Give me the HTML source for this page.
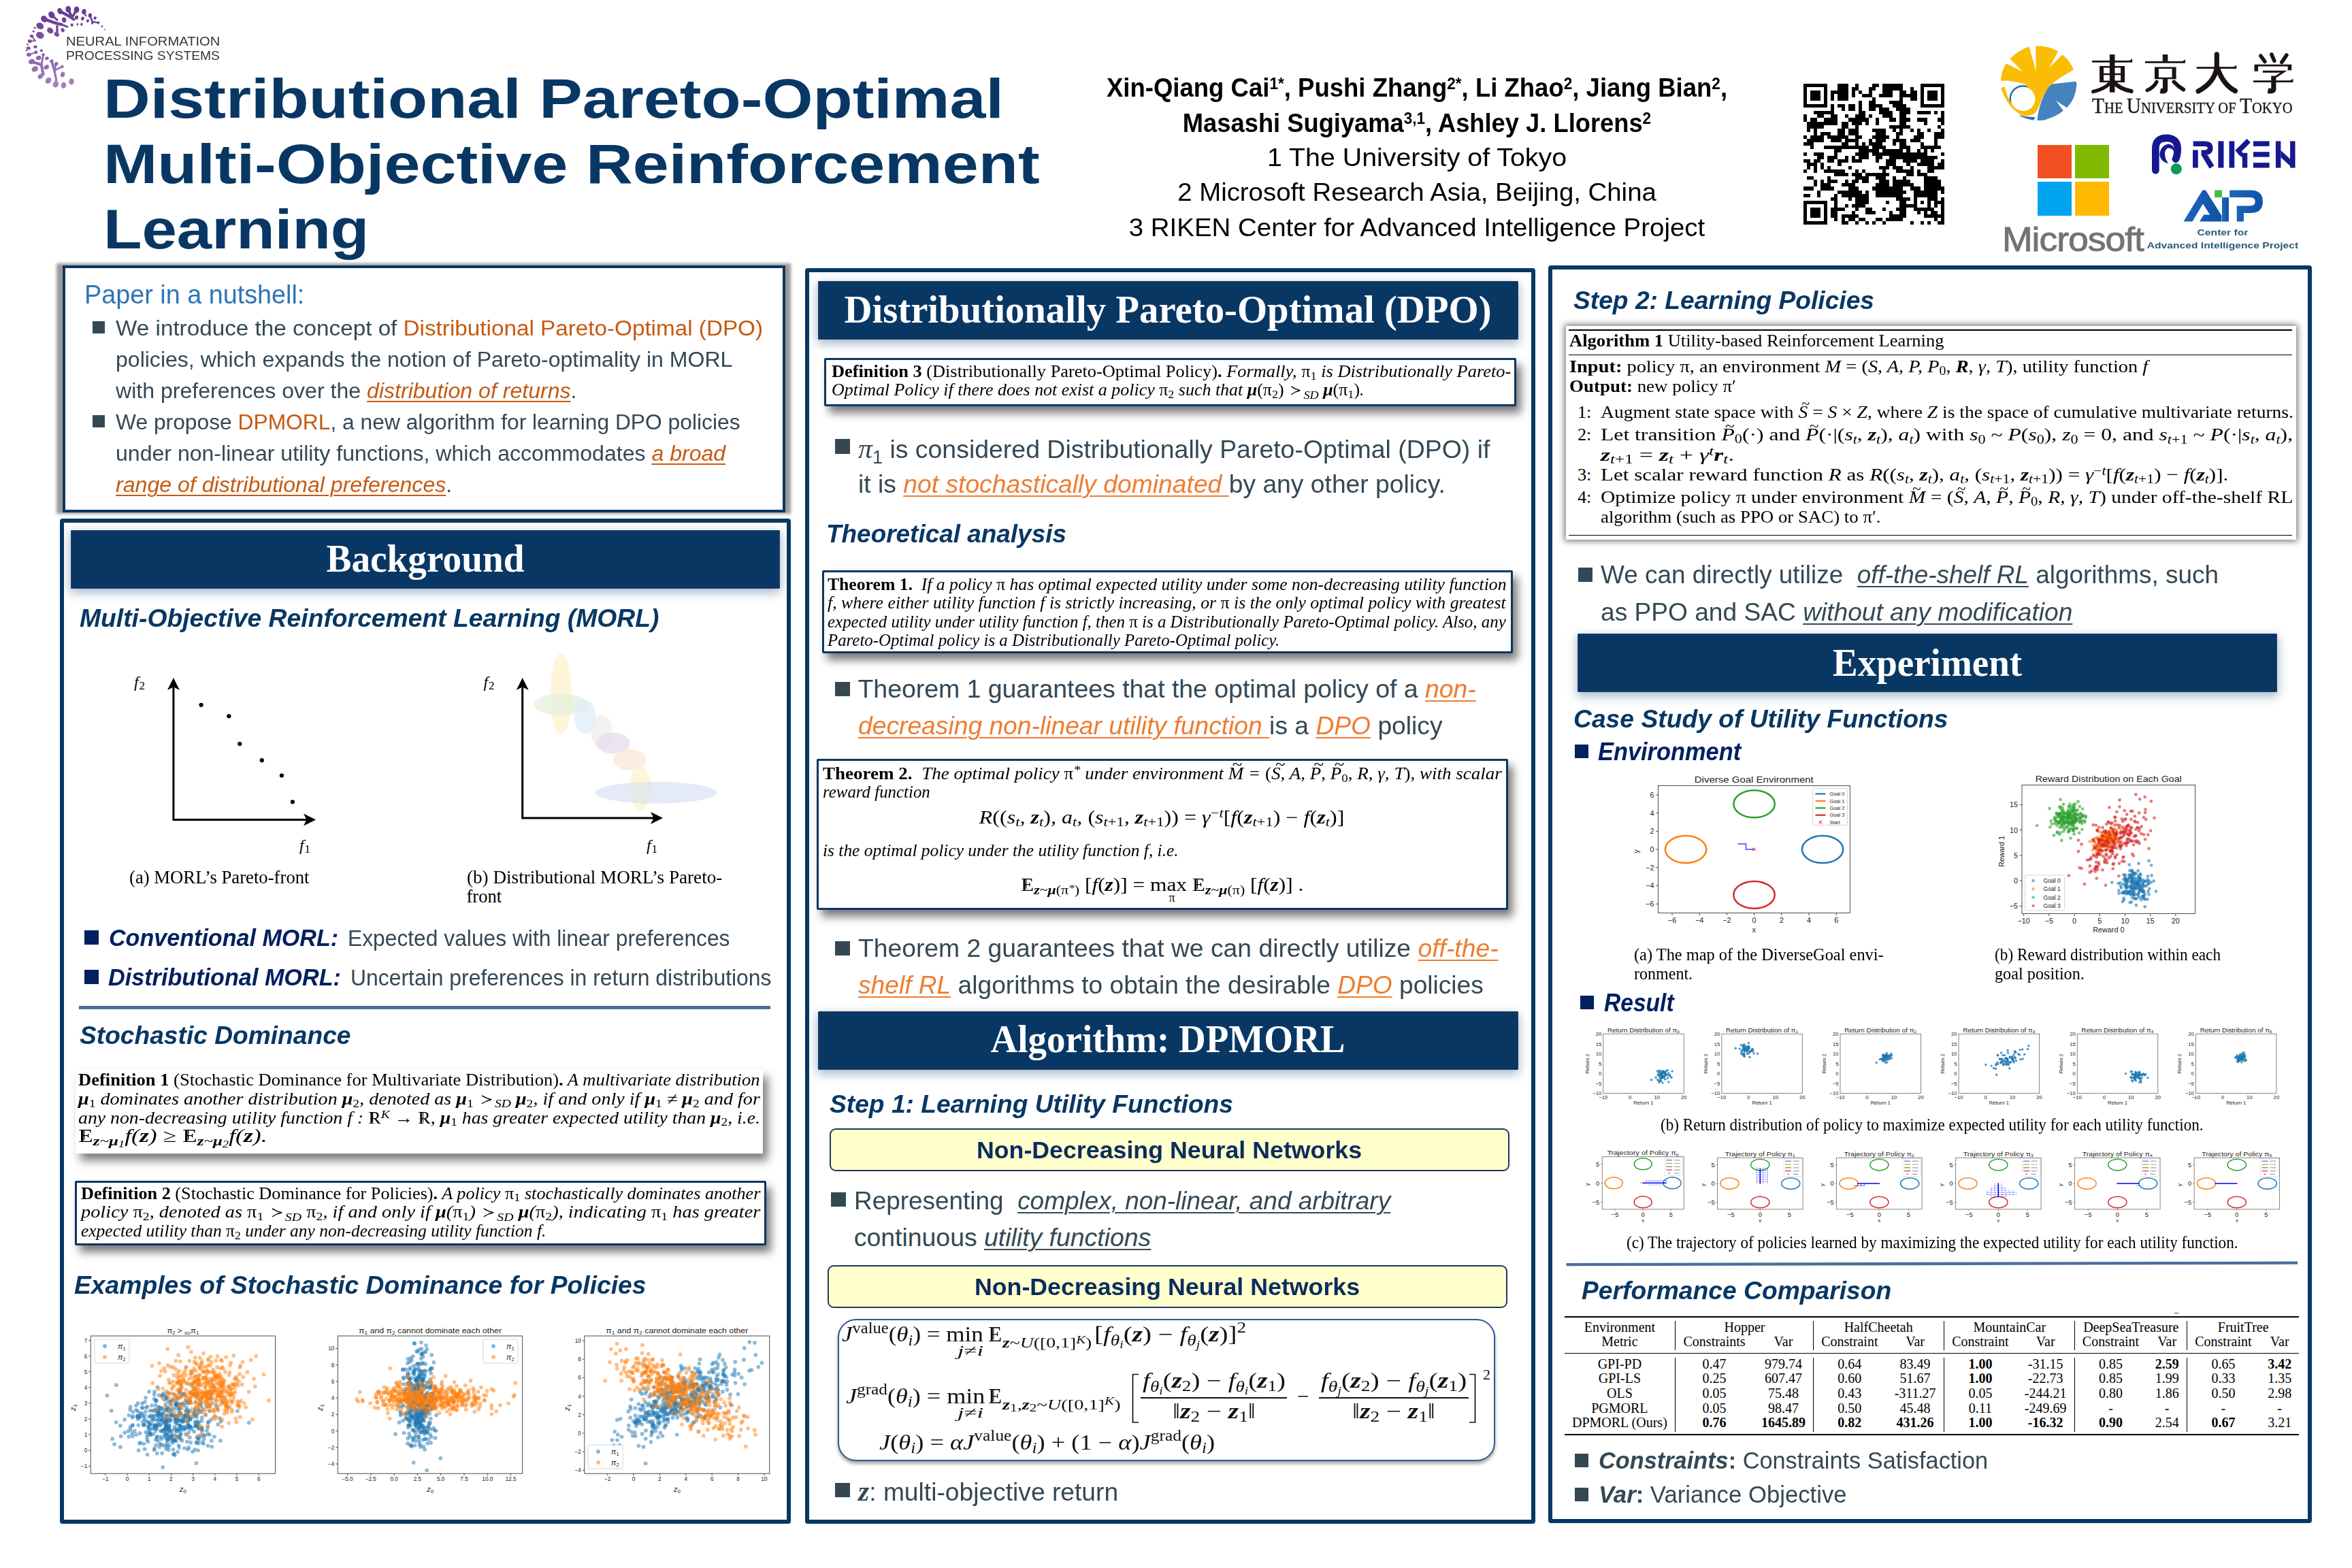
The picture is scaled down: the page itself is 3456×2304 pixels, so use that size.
<!DOCTYPE html>
<html lang="en"><head><meta charset="utf-8"><title>Distributional Pareto-Optimal Multi-Objective Reinforcement Learning</title>
<style>
html,body{margin:0;padding:0;background:#fff}
body{width:3456px;height:2304px;position:relative;overflow:hidden;font-family:"Liberation Sans",sans-serif}
.a{position:absolute;box-sizing:border-box}
.t{position:absolute;white-space:nowrap;line-height:1}
.t>span{display:inline-block;transform-origin:0 50%;white-space:nowrap}
.t.c{transform:translateX(-50%)}
.t.c>span{transform-origin:50% 50%}
.t.e{transform:translateX(-100%)}
.t.e>span{transform-origin:100% 50%}
.s{font-family:"Liberation Sans",sans-serif}
.r{font-family:"Liberation Serif",serif}
.b{font-weight:bold}
.i{font-style:italic}
.n{font-style:normal;font-weight:normal}
.sb{position:relative;line-height:0}
.bb{position:relative}
.bb::after{content:"";position:absolute;left:0.23em;top:0.22em;height:0.585em;border-left:0.04em solid currentColor}
.u{text-decoration:underline;text-decoration-thickness:2px;text-underline-offset:4px}
svg{overflow:visible}
svg text{font-family:"Liberation Sans",sans-serif}
</style></head>
<body>
<svg class="a" style="left:20px;top:0" width="320" height="150" viewBox="0 0 2352 1102"><line x1="500" y1="120" x2="590" y2="170" stroke="#683d92" stroke-width="31" stroke-linecap="round"></line><line x1="590" y1="170" x2="650" y2="210" stroke="#6b4094" stroke-width="28" stroke-linecap="round"></line><line x1="590" y1="100" x2="620" y2="165" stroke="#683d92" stroke-width="28" stroke-linecap="round"></line><line x1="680" y1="105" x2="640" y2="175" stroke="#683d92" stroke-width="25" stroke-linecap="round"></line><line x1="330" y1="205" x2="440" y2="245" stroke="#6e4396" stroke-width="34" stroke-linecap="round"></line><line x1="440" y1="245" x2="520" y2="265" stroke="#704597" stroke-width="31" stroke-linecap="round"></line><line x1="470" y1="280" x2="470" y2="370" stroke="#764b9b" stroke-width="25" stroke-linecap="round"></line><line x1="520" y1="265" x2="580" y2="290" stroke="#724798" stroke-width="22" stroke-linecap="round"></line><line x1="410" y1="160" x2="470" y2="215" stroke="#6b4094" stroke-width="22" stroke-linecap="round"></line><line x1="825" y1="165" x2="850" y2="235" stroke="#6c4194" stroke-width="20" stroke-linecap="round"></line><line x1="850" y1="235" x2="915" y2="245" stroke="#6f4496" stroke-width="17" stroke-linecap="round"></line><line x1="760" y1="125" x2="780" y2="170" stroke="#683d92" stroke-width="17" stroke-linecap="round"></line><line x1="195" y1="390" x2="235" y2="440" stroke="#7d53a0" stroke-width="14" stroke-linecap="round"></line><line x1="175" y1="445" x2="235" y2="440" stroke="#8055a1" stroke-width="14" stroke-linecap="round"></line><line x1="195" y1="665" x2="300" y2="700" stroke="#946aae" stroke-width="31" stroke-linecap="round"></line><line x1="300" y1="700" x2="320" y2="800" stroke="#9970b2" stroke-width="31" stroke-linecap="round"></line><line x1="320" y1="800" x2="290" y2="825" stroke="#9e75b5" stroke-width="28" stroke-linecap="round"></line><line x1="300" y1="700" x2="320" y2="600" stroke="#9167ac" stroke-width="20" stroke-linecap="round"></line><line x1="410" y1="660" x2="440" y2="760" stroke="#966caf" stroke-width="25" stroke-linecap="round"></line><line x1="440" y1="760" x2="460" y2="860" stroke="#9e75b5" stroke-width="25" stroke-linecap="round"></line><line x1="460" y1="860" x2="455" y2="910" stroke="#a47bb9" stroke-width="25" stroke-linecap="round"></line><line x1="440" y1="760" x2="525" y2="720" stroke="#986fb1" stroke-width="20" stroke-linecap="round"></line><line x1="460" y1="690" x2="440" y2="760" stroke="#976eb0" stroke-width="20" stroke-linecap="round"></line><line x1="165" y1="590" x2="240" y2="565" stroke="#8b61a8" stroke-width="14" stroke-linecap="round"></line><ellipse cx="590" cy="100" rx="29" ry="36" fill="#683d92" transform="rotate(-7 590 100)"></ellipse><ellipse cx="680" cy="105" rx="29" ry="36" fill="#683d92" transform="rotate(6 680 105)"></ellipse><ellipse cx="760" cy="125" rx="23" ry="29" fill="#683d92" transform="rotate(17 760 125)"></ellipse><ellipse cx="825" cy="165" rx="19" ry="23" fill="#693e92" transform="rotate(28 825 165)"></ellipse><ellipse cx="880" cy="195" rx="15" ry="18" fill="#6b4094" transform="rotate(36 880 195)"></ellipse><ellipse cx="500" cy="120" rx="27" ry="34" fill="#683d92" transform="rotate(-19 500 120)"></ellipse><ellipse cx="410" cy="160" rx="32" ry="39" fill="#683d92" transform="rotate(-33 410 160)"></ellipse><ellipse cx="330" cy="205" rx="32" ry="39" fill="#6c4194" transform="rotate(-45 330 205)"></ellipse><ellipse cx="285" cy="280" rx="34" ry="42" fill="#724898" transform="rotate(-56 285 280)"></ellipse><ellipse cx="395" cy="330" rx="29" ry="36" fill="#764c9b" transform="rotate(-52 395 330)"></ellipse><ellipse cx="285" cy="380" rx="36" ry="44" fill="#7b509e" transform="rotate(-68 285 380)"></ellipse><ellipse cx="465" cy="370" rx="23" ry="29" fill="#7a4f9d" transform="rotate(-49 465 370)"></ellipse><ellipse cx="545" cy="215" rx="23" ry="29" fill="#6d4295" transform="rotate(-17 545 215)"></ellipse><ellipse cx="530" cy="325" rx="19" ry="23" fill="#764b9b" transform="rotate(-29 530 325)"></ellipse><ellipse cx="680" cy="190" rx="19" ry="23" fill="#6b4094" transform="rotate(7 680 190)"></ellipse><ellipse cx="745" cy="200" rx="17" ry="21" fill="#6c4194" transform="rotate(18 745 200)"></ellipse><ellipse cx="800" cy="225" rx="15" ry="18" fill="#6e4396" transform="rotate(28 800 225)"></ellipse><ellipse cx="630" cy="270" rx="15" ry="18" fill="#714798" transform="rotate(-2 630 270)"></ellipse><ellipse cx="735" cy="262" rx="13" ry="16" fill="#714697" transform="rotate(20 735 262)"></ellipse><ellipse cx="915" cy="245" rx="13" ry="16" fill="#6f4597" transform="rotate(45 915 245)"></ellipse><ellipse cx="955" cy="285" rx="9" ry="12" fill="#734899" transform="rotate(53 955 285)"></ellipse><ellipse cx="983" cy="318" rx="6" ry="8" fill="#754b9a" transform="rotate(60 983 318)"></ellipse><ellipse cx="850" cy="250" rx="12" ry="14" fill="#704597" transform="rotate(38 850 250)"></ellipse><ellipse cx="690" cy="262" rx="10" ry="13" fill="#714697" transform="rotate(11 690 262)"></ellipse><ellipse cx="230" cy="300" rx="10" ry="13" fill="#74499a" transform="rotate(-62 230 300)"></ellipse><ellipse cx="215" cy="340" rx="10" ry="13" fill="#774d9c" transform="rotate(-67 215 340)"></ellipse><ellipse cx="195" cy="390" rx="17" ry="21" fill="#7b519e" transform="rotate(-74 195 390)"></ellipse><ellipse cx="175" cy="445" rx="19" ry="23" fill="#8056a1" transform="rotate(-81 175 445)"></ellipse><ellipse cx="160" cy="520" rx="19" ry="23" fill="#865ca5" transform="rotate(270 160 520)"></ellipse><ellipse cx="165" cy="590" rx="21" ry="26" fill="#8c62a9" transform="rotate(262 165 590)"></ellipse><ellipse cx="235" cy="505" rx="17" ry="21" fill="#855ba4" transform="rotate(-88 235 505)"></ellipse><ellipse cx="240" cy="565" rx="17" ry="21" fill="#8a60a8" transform="rotate(264 240 565)"></ellipse><ellipse cx="300" cy="545" rx="15" ry="18" fill="#885ea7" transform="rotate(266 300 545)"></ellipse><ellipse cx="320" cy="590" rx="15" ry="18" fill="#8c62a9" transform="rotate(258 320 590)"></ellipse><ellipse cx="270" cy="625" rx="23" ry="29" fill="#8f65ab" transform="rotate(254 270 625)"></ellipse><ellipse cx="360" cy="630" rx="17" ry="21" fill="#8f65ab" transform="rotate(249 360 630)"></ellipse><ellipse cx="195" cy="665" rx="27" ry="34" fill="#9268ad" transform="rotate(252 195 665)"></ellipse><ellipse cx="230" cy="745" rx="29" ry="36" fill="#996fb1" transform="rotate(241 230 745)"></ellipse><ellipse cx="290" cy="825" rx="25" ry="31" fill="#9f76b6" transform="rotate(229 290 825)"></ellipse><ellipse cx="355" cy="725" rx="23" ry="29" fill="#976eb0" transform="rotate(234 355 725)"></ellipse><ellipse cx="375" cy="870" rx="29" ry="36" fill="#a37ab8" transform="rotate(217 375 870)"></ellipse><ellipse cx="455" cy="910" rx="29" ry="36" fill="#a67dba" transform="rotate(205 455 910)"></ellipse><ellipse cx="540" cy="920" rx="27" ry="34" fill="#a67dba" transform="rotate(194 540 920)"></ellipse><ellipse cx="625" cy="880" rx="27" ry="34" fill="#a47bb8" transform="rotate(182 625 880)"></ellipse><ellipse cx="530" cy="805" rx="23" ry="29" fill="#9e74b4" transform="rotate(201 530 805)"></ellipse><ellipse cx="460" cy="690" rx="19" ry="23" fill="#946bae" transform="rotate(227 460 690)"></ellipse><ellipse cx="525" cy="720" rx="15" ry="18" fill="#976db0" transform="rotate(210 525 720)"></ellipse><ellipse cx="410" cy="660" rx="17" ry="21" fill="#9268ad" transform="rotate(239 410 660)"></ellipse><ellipse cx="150" cy="480" rx="9" ry="12" fill="#8359a3" transform="rotate(-85 150 480)"></ellipse><ellipse cx="140" cy="545" rx="9" ry="12" fill="#885ea7" transform="rotate(267 140 545)"></ellipse></svg>
<div class="t s" style="left:96.5px;top:51.0px;font-size:19.2px;color:#33363b;"><span style="transform: scaleX(1.0512);">NEURAL INFORMATION</span></div>
<div class="t s" style="left:96.5px;top:71.9px;font-size:19.2px;color:#33363b;"><span style="transform: scaleX(1.0044);">PROCESSING SYSTEMS</span></div>
<div class="t s b" style="left:152.0px;top:104.1px;font-size:82px;color:#083764;"><span style="transform: scaleX(1.1615);">Distributional Pareto-Optimal</span></div>
<div class="t s b" style="left:152.0px;top:200.1px;font-size:82px;color:#083764;"><span style="transform: scaleX(1.1612);">Multi-Objective Reinforcement</span></div>
<div class="t s b" style="left:152.0px;top:296.1px;font-size:82px;color:#083764;"><span style="transform: scaleX(1.1272);">Learning</span></div>
<div class="t s b c" style="left:2082.0px;top:110.3px;font-size:38px;color:#000;"><span style="transform: scaleX(0.961);">Xin-Qiang Cai<span class="sb" style="font-size:0.62em;top:-0.5em">1*</span>, Pushi Zhang<span class="sb" style="font-size:0.62em;top:-0.5em">2*</span>, Li Zhao<span class="sb" style="font-size:0.62em;top:-0.5em">2</span>, Jiang Bian<span class="sb" style="font-size:0.62em;top:-0.5em">2</span>,</span></div>
<div class="t s b c" style="left:2082.0px;top:161.8px;font-size:38px;color:#000;"><span style="transform: scaleX(0.9556);">Masashi Sugiyama<span class="sb" style="font-size:0.62em;top:-0.5em">3,1</span>, Ashley J. Llorens<span class="sb" style="font-size:0.62em;top:-0.5em">2</span></span></div>
<div class="t s c" style="left:2082.0px;top:212.7px;font-size:37px;color:#000;"><span style="transform: scaleX(1.0628);">1 The University of Tokyo</span></div>
<div class="t s c" style="left:2082.0px;top:264.2px;font-size:37px;color:#000;"><span style="transform: scaleX(1.0368);">2 Microsoft Research Asia, Beijing, China</span></div>
<div class="t s c" style="left:2082.0px;top:315.7px;font-size:37px;color:#000;"><span style="transform: scaleX(1.0393);">3 RIKEN Center for Advanced Intelligence Project</span></div>
<svg class="a" style="left:2650px;top:123px" width="207" height="207" viewBox="0 0 41 41" shape-rendering="crispEdges"><path d="M0,0h7v1h-7zM10,0h3v1h-3zM15,0h1v1h-1zM20,0h2v1h-2zM23,0h6v1h-6zM34,0h7v1h-7zM0,1h1v1h-1zM6,1h1v1h-1zM10,1h3v1h-3zM14,1h2v1h-2zM19,1h2v1h-2zM23,1h6v1h-6zM31,1h1v1h-1zM34,1h1v1h-1zM40,1h1v1h-1zM0,2h1v1h-1zM2,2h3v1h-3zM6,2h1v1h-1zM8,2h5v1h-5zM14,2h1v1h-1zM16,2h1v1h-1zM19,2h1v1h-1zM23,2h3v1h-3zM28,2h2v1h-2zM31,2h2v1h-2zM34,2h1v1h-1zM36,2h3v1h-3zM40,2h1v1h-1zM0,3h1v1h-1zM2,3h3v1h-3zM6,3h1v1h-1zM8,3h1v1h-1zM10,3h3v1h-3zM14,3h1v1h-1zM17,3h3v1h-3zM22,3h4v1h-4zM28,3h5v1h-5zM34,3h1v1h-1zM36,3h3v1h-3zM40,3h1v1h-1zM0,4h1v1h-1zM2,4h3v1h-3zM6,4h1v1h-1zM8,4h1v1h-1zM10,4h3v1h-3zM20,4h1v1h-1zM28,4h1v1h-1zM31,4h2v1h-2zM34,4h1v1h-1zM36,4h3v1h-3zM40,4h1v1h-1zM0,5h1v1h-1zM6,5h1v1h-1zM16,5h1v1h-1zM19,5h2v1h-2zM25,5h4v1h-4zM34,5h1v1h-1zM40,5h1v1h-1zM0,6h7v1h-7zM8,6h1v1h-1zM10,6h2v1h-2zM13,6h2v1h-2zM16,6h1v1h-1zM19,6h4v1h-4zM26,6h4v1h-4zM34,6h7v1h-7zM8,7h1v1h-1zM11,7h1v1h-1zM13,7h2v1h-2zM16,7h1v1h-1zM19,7h2v1h-2zM22,7h3v1h-3zM27,7h4v1h-4zM3,8h6v1h-6zM16,8h2v1h-2zM22,8h4v1h-4zM28,8h3v1h-3zM33,8h4v1h-4zM38,8h1v1h-1zM40,8h1v1h-1zM0,9h1v1h-1zM4,9h2v1h-2zM8,9h2v1h-2zM12,9h1v1h-1zM15,9h3v1h-3zM19,9h1v1h-1zM23,9h3v1h-3zM28,9h2v1h-2zM40,9h1v1h-1zM0,10h1v1h-1zM2,10h2v1h-2zM6,10h4v1h-4zM13,10h6v1h-6zM21,10h1v1h-1zM25,10h2v1h-2zM28,10h3v1h-3zM33,10h3v1h-3zM39,10h2v1h-2zM1,11h9v1h-9zM11,11h2v1h-2zM14,11h3v1h-3zM18,11h1v1h-1zM21,11h1v1h-1zM28,11h2v1h-2zM35,11h1v1h-1zM40,11h1v1h-1zM1,12h5v1h-5zM11,12h2v1h-2zM15,12h1v1h-1zM25,12h6v1h-6zM39,12h1v1h-1zM1,13h1v1h-1zM3,13h1v1h-1zM10,13h2v1h-2zM13,13h3v1h-3zM20,13h4v1h-4zM26,13h1v1h-1zM28,13h1v1h-1zM31,13h1v1h-1zM33,13h1v1h-1zM36,13h1v1h-1zM40,13h1v1h-1zM3,14h1v1h-1zM5,14h3v1h-3zM10,14h2v1h-2zM13,14h3v1h-3zM21,14h3v1h-3zM27,14h2v1h-2zM33,14h2v1h-2zM38,14h3v1h-3zM0,15h1v1h-1zM2,15h4v1h-4zM7,15h6v1h-6zM15,15h2v1h-2zM20,15h5v1h-5zM27,15h1v1h-1zM32,15h3v1h-3zM38,15h3v1h-3zM1,16h5v1h-5zM8,16h3v1h-3zM12,16h4v1h-4zM19,16h1v1h-1zM21,16h3v1h-3zM26,16h4v1h-4zM31,16h3v1h-3zM38,16h1v1h-1zM0,17h3v1h-3zM11,17h2v1h-2zM15,17h1v1h-1zM17,17h1v1h-1zM19,17h4v1h-4zM26,17h1v1h-1zM28,17h2v1h-2zM34,17h1v1h-1zM38,17h1v1h-1zM2,18h1v1h-1zM6,18h13v1h-13zM20,18h4v1h-4zM28,18h3v1h-3zM34,18h6v1h-6zM9,19h2v1h-2zM16,19h6v1h-6zM23,19h6v1h-6zM30,19h1v1h-1zM33,19h1v1h-1zM35,19h1v1h-1zM37,19h1v1h-1zM0,20h1v1h-1zM3,20h3v1h-3zM9,20h1v1h-1zM15,20h4v1h-4zM20,20h16v1h-16zM40,20h1v1h-1zM4,21h2v1h-2zM7,21h3v1h-3zM12,21h1v1h-1zM14,21h1v1h-1zM16,21h3v1h-3zM21,21h2v1h-2zM25,21h14v1h-14zM0,22h2v1h-2zM3,22h2v1h-2zM7,22h2v1h-2zM10,22h3v1h-3zM14,22h3v1h-3zM21,22h1v1h-1zM24,22h3v1h-3zM29,22h4v1h-4zM34,22h4v1h-4zM40,22h1v1h-1zM1,23h3v1h-3zM5,23h1v1h-1zM10,23h1v1h-1zM24,23h3v1h-3zM30,23h1v1h-1zM33,23h5v1h-5zM39,23h2v1h-2zM1,24h1v1h-1zM3,24h1v1h-1zM5,24h1v1h-1zM7,24h1v1h-1zM13,24h1v1h-1zM22,24h3v1h-3zM26,24h3v1h-3zM31,24h1v1h-1zM36,24h5v1h-5zM0,25h1v1h-1zM3,25h1v1h-1zM6,25h6v1h-6zM15,25h1v1h-1zM17,25h1v1h-1zM23,25h1v1h-1zM27,25h5v1h-5zM33,25h1v1h-1zM36,25h2v1h-2zM9,26h4v1h-4zM14,26h3v1h-3zM18,26h7v1h-7zM30,26h2v1h-2zM33,26h3v1h-3zM1,27h2v1h-2zM7,27h1v1h-1zM15,27h4v1h-4zM21,27h3v1h-3zM26,27h1v1h-1zM29,27h1v1h-1zM35,27h4v1h-4zM3,28h1v1h-1zM5,28h1v1h-1zM7,28h3v1h-3zM12,28h1v1h-1zM14,28h2v1h-2zM17,28h2v1h-2zM22,28h3v1h-3zM26,28h5v1h-5zM35,28h5v1h-5zM3,29h1v1h-1zM5,29h3v1h-3zM11,29h4v1h-4zM21,29h4v1h-4zM26,29h6v1h-6zM35,29h5v1h-5zM0,30h3v1h-3zM5,30h4v1h-4zM13,30h3v1h-3zM20,30h9v1h-9zM31,30h3v1h-3zM35,30h6v1h-6zM4,31h1v1h-1zM10,31h7v1h-7zM18,31h1v1h-1zM21,31h9v1h-9zM32,31h7v1h-7zM40,31h1v1h-1zM0,32h2v1h-2zM4,32h1v1h-1zM9,32h1v1h-1zM11,32h8v1h-8zM21,32h8v1h-8zM32,32h7v1h-7zM8,33h2v1h-2zM13,33h1v1h-1zM15,33h4v1h-4zM27,33h4v1h-4zM32,33h1v1h-1zM36,33h3v1h-3zM40,33h1v1h-1zM0,34h7v1h-7zM9,34h1v1h-1zM15,34h4v1h-4zM24,34h1v1h-1zM28,34h2v1h-2zM32,34h1v1h-1zM34,34h1v1h-1zM36,34h1v1h-1zM38,34h3v1h-3zM0,35h1v1h-1zM6,35h1v1h-1zM9,35h1v1h-1zM12,35h1v1h-1zM14,35h4v1h-4zM28,35h5v1h-5zM36,35h1v1h-1zM38,35h1v1h-1zM40,35h1v1h-1zM0,36h1v1h-1zM2,36h3v1h-3zM6,36h1v1h-1zM8,36h4v1h-4zM15,36h1v1h-1zM18,36h2v1h-2zM23,36h1v1h-1zM27,36h3v1h-3zM32,36h6v1h-6zM40,36h1v1h-1zM0,37h1v1h-1zM2,37h3v1h-3zM6,37h1v1h-1zM8,37h2v1h-2zM14,37h1v1h-1zM18,37h3v1h-3zM25,37h1v1h-1zM28,37h2v1h-2zM33,37h1v1h-1zM35,37h1v1h-1zM37,37h2v1h-2zM40,37h1v1h-1zM0,38h1v1h-1zM2,38h3v1h-3zM6,38h1v1h-1zM8,38h2v1h-2zM11,38h5v1h-5zM25,38h5v1h-5zM35,38h6v1h-6zM0,39h1v1h-1zM6,39h1v1h-1zM9,39h1v1h-1zM11,39h1v1h-1zM13,39h2v1h-2zM16,39h2v1h-2zM21,39h2v1h-2zM24,39h5v1h-5zM38,39h1v1h-1zM40,39h1v1h-1zM0,40h7v1h-7zM11,40h2v1h-2zM15,40h1v1h-1zM18,40h1v1h-1zM20,40h1v1h-1zM23,40h1v1h-1zM31,40h1v1h-1zM34,40h1v1h-1zM36,40h1v1h-1zM39,40h2v1h-2z" fill="#000"></path></svg>
<svg class="a" style="left:2930px;top:55px" width="140" height="130" viewBox="0 0 1689 1568"><circle cx="515" cy="1090" r="228" fill="none" stroke="#1C69B5" stroke-width="30"></circle><path d="M430 1375 Q560 1410 735 1410 L700 1468 Q540 1440 430 1375Z" fill="#2C72BA"></path><path d="M1000 830 Q1200 808 1440 782 Q1470 790 1465 830 Q1455 1000 1380 1130 Q1340 1195 1290 1245 L1100 1122 L1228 1300 Q1110 1400 900 1462 Q820 1478 765 1470 Q770 1400 792 1300 Q830 1120 930 930 Q960 875 1000 830Z" fill="#4483BF"></path><path d="M120 770 Q125 600 215 462 L505 607 L283 378 Q420 235 622 163 L745 600 L738 150 Q950 140 1137 245 L985 527 L1215 303 Q1345 410 1412 572 Q1200 690 1100 765 Q990 850 930 935 Q850 1060 800 1210 Q770 1300 720 1345 Q640 1395 520 1392 Q400 1340 290 1215 Q170 1050 122 893 L188 872 Q215 1000 285 1140 L340 1150 L515 1250 L680 1150 L690 1000 L600 900 L560 830 Q400 780 250 765 Q180 765 120 770Z" fill="#FBBC05"></path><circle cx="515" cy="1090" r="214" fill="#fff"></circle></svg>
<svg class="a" style="left:2920px;top:50px" width="480" height="330" viewBox="0 0 2281 1568"><g transform="translate(872 275) scale(0.95 0.98) translate(-147 -135)" fill="none" stroke="#1a1311"><path d="M0 50 H295" stroke-width="13" stroke-linecap="butt"></path><path d="M270 50 l22 -14 v14z" stroke-width="6" stroke-linecap="butt"></path><path d="M148 0 V270" stroke-width="38" stroke-linecap="butt"></path><path d="M70 88 V192 M225 88 V192" stroke-width="30" stroke-linecap="butt"></path><path d="M55 88 H240 M55 140 H240 M55 192 H240" stroke-width="12" stroke-linecap="butt"></path><path d="M135 200 Q95 245 8 265" stroke-width="26" stroke-linecap="round"></path><path d="M162 200 Q205 245 288 262" stroke-width="30" stroke-linecap="round"></path></g><g transform="translate(1242 275) scale(0.95 0.98) translate(-147 -135)" fill="none" stroke="#1a1311"><path d="M148 0 V48" stroke-width="38" stroke-linecap="butt"></path><path d="M0 55 H295" stroke-width="13" stroke-linecap="butt"></path><path d="M270 55 l22 -14 v14z" stroke-width="6" stroke-linecap="butt"></path><path d="M85 95 V170 M213 95 V170" stroke-width="30" stroke-linecap="butt"></path><path d="M70 95 H228 M70 170 H228" stroke-width="12" stroke-linecap="butt"></path><path d="M148 172 V250 Q148 266 112 258" stroke-width="36" stroke-linecap="butt"></path><path d="M85 195 Q65 235 16 255" stroke-width="26" stroke-linecap="round"></path><path d="M212 195 Q245 230 282 250" stroke-width="28" stroke-linecap="round"></path></g><g transform="translate(1602 275) scale(0.95 0.98) translate(-147 -135)" fill="none" stroke="#1a1311"><path d="M0 95 H292" stroke-width="14" stroke-linecap="butt"></path><path d="M268 95 l22 -14 v14z" stroke-width="6" stroke-linecap="butt"></path><path d="M148 0 V95 Q130 200 12 262" stroke-width="36" stroke-linecap="round"></path><path d="M155 100 Q195 215 284 260" stroke-width="36" stroke-linecap="round"></path></g><g transform="translate(1997 275) scale(0.95 0.98) translate(-147 -135)" fill="none" stroke="#1a1311"><path d="M55 10 L85 50" stroke-width="28" stroke-linecap="round"></path><path d="M135 0 L155 45" stroke-width="28" stroke-linecap="round"></path><path d="M245 5 L210 55" stroke-width="28" stroke-linecap="round"></path><path d="M22 120 V78 M268 78 V112" stroke-width="28" stroke-linecap="butt"></path><path d="M10 78 H282" stroke-width="13" stroke-linecap="butt"></path><path d="M70 122 H225 L165 160" stroke-width="14" stroke-linecap="butt"></path><path d="M0 192 H292" stroke-width="14" stroke-linecap="butt"></path><path d="M268 192 l22 -14 v14z" stroke-width="6" stroke-linecap="butt"></path><path d="M150 152 V246 Q150 266 108 258" stroke-width="36" stroke-linecap="butt"></path></g></svg>
<div class="t r" style="left:3074.0px;top:138.5px;font-size:32px;color:#1a1311;-webkit-text-stroke:0.3px #1a1311;"><span style="transform: scaleX(0.9219);">T<span style="font-size:0.7em">HE </span>U<span style="font-size:0.7em">NIVERSITY OF </span>T<span style="font-size:0.7em">OKYO</span></span></div>
<div class="a " style="left:2994.0px;top:212.6px;width:49.8px;height:49.4px;background:#F25022"></div>
<div class="a " style="left:3049.0px;top:212.6px;width:49.8px;height:49.4px;background:#7FBA00"></div>
<div class="a " style="left:2994.0px;top:267.4px;width:49.8px;height:49.4px;background:#00A4EF"></div>
<div class="a " style="left:3049.0px;top:267.4px;width:49.8px;height:49.4px;background:#FFB900"></div>
<div class="t s" style="left:2942.0px;top:327.0px;font-size:50.5px;color:#737373;letter-spacing:-1px;-webkit-text-stroke:0.9px #737373;"><span style="transform: scaleX(1.0612);">Microsoft</span></div>
<svg class="a" style="left:3140px;top:185px" width="260" height="195" viewBox="0 0 2091 1568"><defs><linearGradient id="aipg" x1="0" x2="1"><stop offset="0" stop-color="#1f66b8"></stop><stop offset="1" stop-color="#0f52a8"></stop></linearGradient></defs><path d="M220 525 V268 Q220 143 350 143 Q480 143 480 272 Q480 345 458 392" fill="none" stroke="#16188f" stroke-width="86" stroke-linecap="round"></path><path d="M268 345 Q272 235 375 213 Q448 222 442 310 Q415 255 365 262 Q322 282 332 352 Q340 412 374 442 Q285 428 268 345Z" fill="#16188f"></path><circle cx="465" cy="508" r="65" fill="#0f9a5c"></circle><g fill="#16188f"><rect x="660" y="285" width="62" height="210"></rect><path d="M665 180 H800 Q897 180 897 262 Q897 345 800 345 H760 V285 H795 Q835 285 835 262 Q835 242 795 242 H665Z"></path><path d="M762 345 H836 L912 470 L858 505Z"></path><rect x="960" y="180" width="65" height="315"></rect><rect x="1090" y="180" width="62" height="315"></rect><path d="M1298 152 L1342 195 L1208 330 L1162 290Z"></path><path d="M1162 290 L1205 252 L1250 320 H1305 V495 H1245 V372 L1208 345Z"></path><rect x="1375" y="180" width="190" height="60"></rect><rect x="1375" y="307" width="190" height="60"></rect><rect x="1375" y="435" width="190" height="60"></rect><rect x="1640" y="180" width="60" height="315"></rect><rect x="1810" y="180" width="60" height="315"></rect><path d="M1700 290 L1810 390 V472 L1700 372Z"></path></g><g fill="url(#aipg)"><path d="M550 1130 L775 760 H812 L1000 1060 V1130 H740 L790 1050 H862 L780 920 L655 1130Z"></path><rect x="1005" y="845" width="80" height="285"></rect><path d="M1095 760 H1340 Q1487 760 1487 895 Q1487 1030 1340 1030 H1262 V1130 H1180 V945 H1335 Q1397 945 1397 895 Q1397 845 1335 845 H1095Z"></path></g><rect x="918" y="760" width="87" height="85" fill="#3cc13f"></rect></svg>
<div class="t s b c" style="left:3266.0px;top:335.2px;font-size:13.6px;color:#2c5a78;"><span style="transform: scaleX(1.1538);">Center for</span></div>
<div class="t s b c" style="left:3266.0px;top:353.5px;font-size:13.6px;color:#2c5a78;"><span style="transform: scaleX(1.1503);">Advanced Intelligence Project</span></div>
<div class="a " style="left:83.0px;top:387.0px;width:1079.0px;height:368.0px;background:#9a9a9a;filter:blur(2px)"></div>
<div class="a " style="left:92.0px;top:390.0px;width:1062.0px;height:363.0px;background:#fff;border:4px solid #083764"></div>
<div class="t s" style="left:124.0px;top:413.8px;font-size:38px;color:#2E75B6;"><span style="transform: scaleX(0.9938);">Paper in a nutshell:</span></div>
<div class="a " style="left:136.0px;top:472.0px;width:18.0px;height:18.0px;background:#344854"></div>
<div class="a " style="left:136.0px;top:610.0px;width:18.0px;height:18.0px;background:#344854"></div>
<div class="t s" style="left:169.5px;top:467.9px;font-size:30.8px;color:#344854;"><span style="transform: scaleX(1.0795);">We introduce the concept of <span style="color:#C55A11">Distributional Pareto-Optimal (DPO)</span></span></div>
<div class="t s" style="left:169.5px;top:513.9px;font-size:30.8px;color:#344854;"><span style="transform: scaleX(1.0402);">policies, which expands the notion of Pareto-optimality in MORL</span></div>
<div class="t s" style="left:169.5px;top:559.9px;font-size:30.8px;color:#344854;"><span style="transform: scaleX(1.0415);">with preferences over the <span style="color:#C55A11"><i><span class="u">distribution of returns</span></i></span>.</span></div>
<div class="t s" style="left:169.5px;top:605.9px;font-size:30.8px;color:#344854;"><span style="transform: scaleX(1.0315);">We propose <span style="color:#C55A11">DPMORL</span>, a new algorithm for learning DPO policies</span></div>
<div class="t s" style="left:169.5px;top:651.9px;font-size:30.8px;color:#344854;"><span style="transform: scaleX(1.0407);">under non-linear utility functions, which accommodates <span style="color:#C55A11"><i><span class="u">a broad</span></i></span></span></div>
<div class="t s" style="left:169.5px;top:697.9px;font-size:30.8px;color:#344854;"><span style="transform: scaleX(1.0422);"><span style="color:#C55A11"><i><span class="u">range of distributional preferences</span></i></span>.</span></div>
<div class="a " style="left:88.0px;top:762.0px;width:1074.0px;height:1477.0px;background:#fff;border:6px solid #083764;border-radius:4px"></div>
<div class="a " style="left:103.5px;top:778.5px;width:1042.5px;height:86.0px;background:#083764;border:1px solid #2a3f70;box-shadow:0 5px 15px 1px rgba(8,55,100,0.36);border-radius:1px"></div>
<div class="t r b c" style="left:624.7px;top:792.3px;font-size:57px;color:#fff;"><span style="transform: scaleX(0.97);">Background</span></div>
<div class="t s b i" style="left:117.0px;top:890.5px;font-size:36.5px;color:#083764;"><span style="transform: scaleX(1.0216);">Multi-Objective Reinforcement Learning (MORL)</span></div>
<svg class="a" style="left:0;top:0" width="3456" height="2304" viewBox="0 0 3456 2304"><path d="M254.9 1008 V1204.5 H452" fill="none" stroke="#000" stroke-width="3"></path><path d="M254.9 996 l-9 18 l9 -4.5 l9 4.5z M464 1204.5 l-18 -9 l4.5 9 l-4.5 9z" fill="#000"></path><circle cx="295.6" cy="1035.8" r="3.1" fill="#000"></circle><circle cx="336.3" cy="1052.3" r="3.1" fill="#000"></circle><circle cx="352.3" cy="1093" r="3.1" fill="#000"></circle><circle cx="384.8" cy="1117.2" r="3.1" fill="#000"></circle><circle cx="413.9" cy="1139.5" r="3.1" fill="#000"></circle><circle cx="429.9" cy="1178.3" r="3.1" fill="#000"></circle><ellipse cx="824.4" cy="1019.3" rx="16" ry="59.6" fill="#FFF2CC" fill-opacity="0.72"></ellipse><ellipse cx="824.4" cy="1035.3" rx="39.7" ry="16" fill="#E2F0D9" fill-opacity="0.72"></ellipse><ellipse cx="859.8" cy="1053.3" rx="16" ry="25" fill="#DEEBF7" fill-opacity="0.72"></ellipse><ellipse cx="884" cy="1075" rx="16" ry="25" fill="#EDEDED" fill-opacity="0.72"></ellipse><ellipse cx="901" cy="1092" rx="24.5" ry="15.5" fill="#E4D9EC" fill-opacity="0.72"></ellipse><ellipse cx="925.3" cy="1116.3" rx="24.5" ry="15.5" fill="#FBE5D6" fill-opacity="0.72"></ellipse><ellipse cx="940.8" cy="1157.5" rx="16" ry="33" fill="#FFF2CC" fill-opacity="0.72"></ellipse><ellipse cx="964" cy="1164.7" rx="89.7" ry="16" fill="#DAE3F3" fill-opacity="0.72"></ellipse><path d="M767.7 1008 V1202 H962" fill="none" stroke="#000" stroke-width="3"></path><path d="M767.7 996 l-9 18 l9 -4.5 l9 4.5z M974 1202 l-18 -9 l4.5 9 l-4.5 9z" fill="#000"></path></svg>
<div class="t r" style="left:197.0px;top:990.8px;font-size:23.5px;color:#000;"><span><i>f</i><span style="font-size:0.15em"> </span><span class="sb" style="font-size:0.72em;top:0.18em">2</span></span></div>
<div class="t r" style="left:440.0px;top:1231.3px;font-size:23.5px;color:#000;"><span><i>f</i><span style="font-size:0.15em"> </span><span class="sb" style="font-size:0.72em;top:0.18em">1</span></span></div>
<div class="t r" style="left:710.5px;top:990.8px;font-size:23.5px;color:#000;"><span><i>f</i><span style="font-size:0.15em"> </span><span class="sb" style="font-size:0.72em;top:0.18em">2</span></span></div>
<div class="t r" style="left:950.0px;top:1231.3px;font-size:23.5px;color:#000;"><span><i>f</i><span style="font-size:0.15em"> </span><span class="sb" style="font-size:0.72em;top:0.18em">1</span></span></div>
<div class="t r" style="left:190.0px;top:1275.8px;font-size:26.5px;"><span style="transform: scaleX(1.0076);">(a) MORL’s Pareto-front</span></div>
<div class="t r" style="left:685.5px;top:1275.8px;font-size:26.5px;"><span style="transform: scaleX(1.0246);">(b) Distributional MORL’s Pareto-</span></div>
<div class="t r" style="left:685.5px;top:1303.8px;font-size:26.5px;"><span>front</span></div>
<div class="a " style="left:124.0px;top:1367.3px;width:20.5px;height:20.5px;background:#002060"></div>
<div class="a " style="left:124.0px;top:1425.3px;width:20.5px;height:20.5px;background:#002060"></div>
<div class="t s b i" style="left:159.5px;top:1361.3px;font-size:34.3px;color:#002060;"><span style="transform: scaleX(0.9941);">Conventional MORL:</span></div>
<div class="t s" style="left:511.0px;top:1362.8px;font-size:32.5px;color:#344854;"><span style="transform: scaleX(0.9774);">Expected values with linear preferences</span></div>
<div class="t s b i" style="left:159.0px;top:1419.3px;font-size:34.3px;color:#002060;"><span style="transform: scaleX(0.9971);">Distributional MORL:</span></div>
<div class="t s" style="left:514.5px;top:1420.8px;font-size:32.5px;color:#344854;"><span style="transform: scaleX(0.981);">Uncertain preferences in return distributions</span></div>
<div class="a " style="left:115.5px;top:1478.0px;width:1016.0px;height:5.0px;background:#4A6F9C"></div>
<div class="t s b i" style="left:117.0px;top:1504.4px;font-size:36.5px;color:#083764;"><span style="transform: scaleX(1.0179);">Stochastic Dominance</span></div>
<div class="a " style="left:111.0px;top:1571.5px;width:1010.0px;height:123.5px;background:#fff;box-shadow:7px 10px 13px rgba(0,0,0,0.52)"></div>
<div class="t r" style="left:114.8px;top:1574.3px;font-size:25.2px;"><span style="transform: scaleX(1.0536);"><b>Definition 1</b> (Stochastic Dominance for Multivariate Distribution)<b>.</b><i> A multivariate distribution</i></span></div>
<div class="t r" style="left:114.8px;top:1601.9px;font-size:25.2px;"><span style="transform: scaleX(1.1158);"><i><b><i>μ</i></b><span class="sb" style="font-size:0.7em;top:0.22em"><span class="n">1</span></span> dominates another distribution <b><i>μ</i></b><span class="sb" style="font-size:0.7em;top:0.22em"><span class="n">2</span></span>, denoted as <b><i>μ</i></b><span class="sb" style="font-size:0.7em;top:0.22em"><span class="n">1</span></span> <svg style="display:inline-block;width:0.62em;height:0.62em;vertical-align:-0.02em;margin:0 0.12em" viewBox="0 0 10 10"><path d="M1 1.2 Q5 4.2 9 5 Q5 5.8 1 8.8" fill="none" stroke="currentColor" stroke-width="0.9"></path></svg><span class="sb" style="font-size:0.7em;top:0.25em"><i>SD</i></span> <b><i>μ</i></b><span class="sb" style="font-size:0.7em;top:0.22em"><span class="n">2</span></span>, if and only if <b><i>μ</i></b><span class="sb" style="font-size:0.7em;top:0.22em"><span class="n">1</span></span> ≠ <b><i>μ</i></b><span class="sb" style="font-size:0.7em;top:0.22em"><span class="n">2</span></span> and for</i></span></div>
<div class="t r" style="left:114.8px;top:1629.6px;font-size:25.2px;"><span style="transform: scaleX(1.1023);"><i>any non-decreasing utility function f : <span class="n bb">R</span><span class="sb" style="font-size:0.7em;top:-0.45em">K</span> → <span class="n bb">R</span>, <b><i>μ</i></b><span class="sb" style="font-size:0.7em;top:0.22em"><span class="n">1</span></span> has greater expected utility than <b><i>μ</i></b><span class="sb" style="font-size:0.7em;top:0.22em"><span class="n">2</span></span>, i.e.</i></span></div>
<div class="t r" style="left:114.8px;top:1655.7px;font-size:27px;"><span style="transform: scaleX(1.319);"><i><span class="n bb">E</span><span class="sb" style="font-size:0.7em;top:0.28em"><b><i>z</i></b>~<b><i>μ</i></b><span class="sb" style="font-size:0.75em;top:0.2em">1</span></span>f(<b>z</b>) ≥ <span class="n bb">E</span><span class="sb" style="font-size:0.7em;top:0.28em"><b><i>z</i></b>~<b><i>μ</i></b><span class="sb" style="font-size:0.75em;top:0.2em">2</span></span>f(<b>z</b>).</i></span></div>
<div class="a " style="left:110.0px;top:1735.0px;width:1015.5px;height:94.5px;background:#fff;border:3px solid #083764;box-shadow:7px 10px 13px rgba(0,0,0,0.52);border-radius:2px"></div>
<div class="t r" style="left:119.0px;top:1740.6px;font-size:25.2px;"><span style="transform: scaleX(1.0407);"><b>Definition 2</b> (Stochastic Dominance for Policies)<b>.</b><i> A policy <span class="n">π</span><span class="sb" style="font-size:0.7em;top:0.22em"><span class="n">1</span></span> stochastically dominates another</i></span></div>
<div class="t r" style="left:119.0px;top:1768.2px;font-size:25.2px;"><span style="transform: scaleX(1.1264);"><i>policy <span class="n">π</span><span class="sb" style="font-size:0.7em;top:0.22em"><span class="n">2</span></span>, denoted as <span class="n">π</span><span class="sb" style="font-size:0.7em;top:0.22em"><span class="n">1</span></span> <svg style="display:inline-block;width:0.62em;height:0.62em;vertical-align:-0.02em;margin:0 0.12em" viewBox="0 0 10 10"><path d="M1 1.2 Q5 4.2 9 5 Q5 5.8 1 8.8" fill="none" stroke="currentColor" stroke-width="0.9"></path></svg><span class="sb" style="font-size:0.7em;top:0.25em"><i>SD</i></span> <span class="n">π</span><span class="sb" style="font-size:0.7em;top:0.22em"><span class="n">2</span></span>, if and only if <b>μ</b>(<span class="n">π</span><span class="sb" style="font-size:0.7em;top:0.22em"><span class="n">1</span></span>) <svg style="display:inline-block;width:0.62em;height:0.62em;vertical-align:-0.02em;margin:0 0.12em" viewBox="0 0 10 10"><path d="M1 1.2 Q5 4.2 9 5 Q5 5.8 1 8.8" fill="none" stroke="currentColor" stroke-width="0.9"></path></svg><span class="sb" style="font-size:0.7em;top:0.25em"><i>SD</i></span> <b>μ</b>(<span class="n">π</span><span class="sb" style="font-size:0.7em;top:0.22em"><span class="n">2</span></span>), indicating <span class="n">π</span><span class="sb" style="font-size:0.7em;top:0.22em"><span class="n">1</span></span> has greater</i></span></div>
<div class="t r" style="left:119.0px;top:1795.9px;font-size:25.2px;"><span style="transform: scaleX(1.0119);"><i>expected utility than <span class="n">π</span><span class="sb" style="font-size:0.7em;top:0.22em"><span class="n">2</span></span> under any non-decreasing utility function f.</i></span></div>
<div class="t s b i" style="left:108.5px;top:1870.7px;font-size:36.5px;color:#083764;"><span style="transform: scaleX(1.0206);">Examples of Stochastic Dominance for Policies</span></div>
<svg class="a" style="left:0;top:0" width="3456" height="2304" viewBox="0 0 3456 2304"><rect x="133.2" y="1963" width="271.4" height="202.2" fill="#fff" stroke="#222" stroke-width="0.8"></rect><g fill="#1f77b4" fill-opacity="0.5"><circle cx="194.1" cy="2106.2" r="2.9"></circle><circle cx="277.4" cy="2126.9" r="2.9"></circle><circle cx="264.7" cy="2094.9" r="2.9"></circle><circle cx="263.4" cy="2102.3" r="2.9"></circle><circle cx="260.0" cy="2100.0" r="2.9"></circle><circle cx="274.9" cy="2059.6" r="2.9"></circle><circle cx="200.1" cy="2071.9" r="2.9"></circle><circle cx="256.2" cy="2099.9" r="2.9"></circle><circle cx="290.7" cy="2113.2" r="2.9"></circle><circle cx="240.6" cy="2124.0" r="2.9"></circle><circle cx="288.1" cy="2081.0" r="2.9"></circle><circle cx="205.7" cy="2106.0" r="2.9"></circle><circle cx="291.3" cy="2092.2" r="2.9"></circle><circle cx="236.2" cy="2102.6" r="2.9"></circle><circle cx="276.7" cy="2086.6" r="2.9"></circle><circle cx="199.9" cy="2065.4" r="2.9"></circle><circle cx="296.2" cy="2087.9" r="2.9"></circle><circle cx="311.4" cy="2125.8" r="2.9"></circle><circle cx="293.3" cy="2099.0" r="2.9"></circle><circle cx="221.7" cy="2108.2" r="2.9"></circle><circle cx="287.3" cy="2060.1" r="2.9"></circle><circle cx="288.4" cy="2119.1" r="2.9"></circle><circle cx="277.3" cy="2095.2" r="2.9"></circle><circle cx="275.6" cy="2080.6" r="2.9"></circle><circle cx="319.1" cy="2068.9" r="2.9"></circle><circle cx="209.6" cy="2089.0" r="2.9"></circle><circle cx="202.8" cy="2085.4" r="2.9"></circle><circle cx="226.6" cy="2130.6" r="2.9"></circle><circle cx="256.2" cy="2136.1" r="2.9"></circle><circle cx="298.0" cy="2119.1" r="2.9"></circle><circle cx="201.2" cy="2080.8" r="2.9"></circle><circle cx="229.6" cy="2057.3" r="2.9"></circle><circle cx="268.1" cy="2080.8" r="2.9"></circle><circle cx="263.5" cy="2113.1" r="2.9"></circle><circle cx="209.1" cy="2062.2" r="2.9"></circle><circle cx="266.5" cy="2062.9" r="2.9"></circle><circle cx="228.5" cy="2058.0" r="2.9"></circle><circle cx="227.3" cy="2085.7" r="2.9"></circle><circle cx="229.4" cy="2095.4" r="2.9"></circle><circle cx="269.4" cy="2049.4" r="2.9"></circle><circle cx="286.5" cy="2070.6" r="2.9"></circle><circle cx="247.0" cy="2114.7" r="2.9"></circle><circle cx="229.3" cy="2072.6" r="2.9"></circle><circle cx="265.8" cy="2107.7" r="2.9"></circle><circle cx="348.8" cy="2073.4" r="2.9"></circle><circle cx="276.1" cy="2094.0" r="2.9"></circle><circle cx="272.7" cy="2073.2" r="2.9"></circle><circle cx="269.3" cy="2086.8" r="2.9"></circle><circle cx="245.4" cy="2115.8" r="2.9"></circle><circle cx="226.6" cy="2049.1" r="2.9"></circle><circle cx="246.6" cy="2126.2" r="2.9"></circle><circle cx="244.9" cy="2080.7" r="2.9"></circle><circle cx="214.2" cy="2104.5" r="2.9"></circle><circle cx="277.7" cy="2098.6" r="2.9"></circle><circle cx="228.3" cy="2094.2" r="2.9"></circle><circle cx="268.9" cy="2089.0" r="2.9"></circle><circle cx="252.0" cy="2073.6" r="2.9"></circle><circle cx="263.4" cy="2074.6" r="2.9"></circle><circle cx="219.8" cy="2093.7" r="2.9"></circle><circle cx="254.2" cy="2057.2" r="2.9"></circle><circle cx="264.0" cy="2075.8" r="2.9"></circle><circle cx="299.6" cy="2114.2" r="2.9"></circle><circle cx="240.6" cy="2089.5" r="2.9"></circle><circle cx="249.3" cy="2086.0" r="2.9"></circle><circle cx="281.1" cy="2097.3" r="2.9"></circle><circle cx="226.7" cy="2055.3" r="2.9"></circle><circle cx="236.4" cy="2111.4" r="2.9"></circle><circle cx="243.0" cy="2107.5" r="2.9"></circle><circle cx="251.1" cy="2070.7" r="2.9"></circle><circle cx="292.1" cy="2115.8" r="2.9"></circle><circle cx="275.7" cy="2079.1" r="2.9"></circle><circle cx="228.6" cy="2071.0" r="2.9"></circle><circle cx="260.4" cy="2069.8" r="2.9"></circle><circle cx="241.7" cy="2099.9" r="2.9"></circle><circle cx="220.2" cy="2093.4" r="2.9"></circle><circle cx="259.2" cy="2061.8" r="2.9"></circle><circle cx="285.0" cy="2075.7" r="2.9"></circle><circle cx="244.8" cy="2084.3" r="2.9"></circle><circle cx="272.4" cy="2083.6" r="2.9"></circle><circle cx="240.0" cy="2072.1" r="2.9"></circle><circle cx="272.8" cy="2080.8" r="2.9"></circle><circle cx="278.8" cy="2112.2" r="2.9"></circle><circle cx="176.9" cy="2126.4" r="2.9"></circle><circle cx="271.7" cy="2048.0" r="2.9"></circle><circle cx="275.9" cy="2072.0" r="2.9"></circle><circle cx="237.0" cy="2114.4" r="2.9"></circle><circle cx="271.9" cy="2096.4" r="2.9"></circle><circle cx="280.1" cy="2119.7" r="2.9"></circle><circle cx="288.5" cy="2079.2" r="2.9"></circle><circle cx="212.3" cy="2093.4" r="2.9"></circle><circle cx="191.8" cy="2100.8" r="2.9"></circle><circle cx="267.7" cy="2087.8" r="2.9"></circle><circle cx="323.6" cy="2084.2" r="2.9"></circle><circle cx="276.1" cy="2074.4" r="2.9"></circle><circle cx="241.7" cy="2110.1" r="2.9"></circle><circle cx="291.9" cy="2112.7" r="2.9"></circle><circle cx="251.2" cy="2085.9" r="2.9"></circle><circle cx="250.9" cy="2111.6" r="2.9"></circle><circle cx="176.8" cy="2094.9" r="2.9"></circle><circle cx="262.2" cy="2100.3" r="2.9"></circle><circle cx="258.2" cy="2085.2" r="2.9"></circle><circle cx="244.5" cy="2082.9" r="2.9"></circle><circle cx="208.6" cy="2076.7" r="2.9"></circle><circle cx="220.7" cy="2108.1" r="2.9"></circle><circle cx="246.4" cy="2103.8" r="2.9"></circle><circle cx="238.5" cy="2050.0" r="2.9"></circle><circle cx="233.7" cy="2050.2" r="2.9"></circle><circle cx="257.4" cy="2083.0" r="2.9"></circle><circle cx="220.2" cy="2105.0" r="2.9"></circle><circle cx="244.0" cy="2101.2" r="2.9"></circle><circle cx="267.4" cy="2089.0" r="2.9"></circle><circle cx="244.6" cy="2054.3" r="2.9"></circle><circle cx="229.6" cy="2058.6" r="2.9"></circle><circle cx="327.0" cy="2058.3" r="2.9"></circle><circle cx="240.0" cy="2104.2" r="2.9"></circle><circle cx="210.6" cy="2093.9" r="2.9"></circle><circle cx="252.5" cy="2080.6" r="2.9"></circle><circle cx="168.0" cy="2122.2" r="2.9"></circle><circle cx="249.7" cy="2103.6" r="2.9"></circle><circle cx="267.5" cy="2116.9" r="2.9"></circle><circle cx="219.1" cy="2045.0" r="2.9"></circle><circle cx="211.3" cy="2093.5" r="2.9"></circle><circle cx="191.2" cy="2071.5" r="2.9"></circle><circle cx="202.7" cy="2061.8" r="2.9"></circle><circle cx="218.6" cy="2102.2" r="2.9"></circle><circle cx="239.2" cy="2156.0" r="2.9"></circle><circle cx="263.4" cy="2080.0" r="2.9"></circle><circle cx="279.6" cy="2083.5" r="2.9"></circle><circle cx="279.5" cy="2095.9" r="2.9"></circle><circle cx="165.1" cy="2114.2" r="2.9"></circle><circle cx="232.6" cy="2067.4" r="2.9"></circle><circle cx="244.5" cy="2073.0" r="2.9"></circle><circle cx="216.4" cy="2066.8" r="2.9"></circle><circle cx="279.7" cy="2060.5" r="2.9"></circle><circle cx="265.8" cy="2114.4" r="2.9"></circle><circle cx="234.7" cy="2120.9" r="2.9"></circle><circle cx="197.7" cy="2102.7" r="2.9"></circle><circle cx="230.5" cy="2099.1" r="2.9"></circle><circle cx="254.6" cy="2136.9" r="2.9"></circle><circle cx="259.0" cy="2104.2" r="2.9"></circle><circle cx="244.1" cy="2096.3" r="2.9"></circle><circle cx="246.9" cy="2114.7" r="2.9"></circle><circle cx="163.7" cy="2072.8" r="2.9"></circle><circle cx="257.5" cy="2089.6" r="2.9"></circle><circle cx="223.8" cy="2072.6" r="2.9"></circle><circle cx="216.4" cy="2137.3" r="2.9"></circle><circle cx="285.2" cy="2103.6" r="2.9"></circle><circle cx="308.1" cy="2107.8" r="2.9"></circle><circle cx="259.0" cy="2117.4" r="2.9"></circle><circle cx="194.9" cy="2094.1" r="2.9"></circle><circle cx="296.4" cy="2097.8" r="2.9"></circle><circle cx="247.1" cy="2059.0" r="2.9"></circle><circle cx="298.5" cy="2108.5" r="2.9"></circle><circle cx="247.0" cy="2084.6" r="2.9"></circle><circle cx="245.0" cy="2054.5" r="2.9"></circle><circle cx="237.6" cy="2086.7" r="2.9"></circle><circle cx="276.2" cy="2082.1" r="2.9"></circle><circle cx="290.9" cy="2131.2" r="2.9"></circle><circle cx="271.0" cy="2128.0" r="2.9"></circle><circle cx="274.9" cy="2118.3" r="2.9"></circle><circle cx="189.3" cy="2111.0" r="2.9"></circle><circle cx="212.9" cy="2086.0" r="2.9"></circle><circle cx="324.0" cy="2116.9" r="2.9"></circle><circle cx="246.9" cy="2071.6" r="2.9"></circle><circle cx="236.7" cy="2078.8" r="2.9"></circle><circle cx="247.9" cy="2130.6" r="2.9"></circle><circle cx="212.9" cy="2059.9" r="2.9"></circle><circle cx="298.8" cy="2121.6" r="2.9"></circle><circle cx="265.1" cy="2097.5" r="2.9"></circle><circle cx="253.3" cy="2113.3" r="2.9"></circle><circle cx="283.0" cy="2133.2" r="2.9"></circle><circle cx="202.8" cy="2073.8" r="2.9"></circle><circle cx="238.1" cy="2135.5" r="2.9"></circle><circle cx="288.4" cy="2149.9" r="2.9"></circle><circle cx="244.4" cy="2096.6" r="2.9"></circle><circle cx="274.2" cy="2073.4" r="2.9"></circle><circle cx="233.0" cy="2076.6" r="2.9"></circle><circle cx="244.2" cy="2089.2" r="2.9"></circle><circle cx="324.3" cy="2088.8" r="2.9"></circle><circle cx="260.3" cy="2080.7" r="2.9"></circle><circle cx="228.4" cy="2064.7" r="2.9"></circle><circle cx="279.7" cy="2085.5" r="2.9"></circle><circle cx="247.8" cy="2099.3" r="2.9"></circle><circle cx="246.2" cy="2108.4" r="2.9"></circle><circle cx="216.2" cy="2115.3" r="2.9"></circle><circle cx="220.3" cy="2106.3" r="2.9"></circle><circle cx="230.8" cy="2135.7" r="2.9"></circle><circle cx="243.5" cy="2106.2" r="2.9"></circle><circle cx="226.5" cy="2073.2" r="2.9"></circle><circle cx="304.0" cy="2101.8" r="2.9"></circle><circle cx="275.7" cy="2075.0" r="2.9"></circle><circle cx="303.2" cy="2066.8" r="2.9"></circle><circle cx="305.4" cy="2096.7" r="2.9"></circle><circle cx="256.0" cy="2080.5" r="2.9"></circle><circle cx="276.7" cy="2093.1" r="2.9"></circle><circle cx="256.8" cy="2096.4" r="2.9"></circle><circle cx="333.7" cy="2066.6" r="2.9"></circle><circle cx="232.1" cy="2073.1" r="2.9"></circle><circle cx="183.3" cy="2105.2" r="2.9"></circle><circle cx="264.0" cy="2110.4" r="2.9"></circle><circle cx="236.9" cy="2078.9" r="2.9"></circle><circle cx="229.2" cy="2123.5" r="2.9"></circle><circle cx="232.1" cy="2080.1" r="2.9"></circle><circle cx="194.9" cy="2110.3" r="2.9"></circle><circle cx="277.3" cy="2097.7" r="2.9"></circle><circle cx="271.6" cy="2099.3" r="2.9"></circle><circle cx="211.5" cy="2082.8" r="2.9"></circle><circle cx="212.5" cy="2079.3" r="2.9"></circle><circle cx="258.4" cy="2079.4" r="2.9"></circle><circle cx="261.6" cy="2086.4" r="2.9"></circle><circle cx="217.2" cy="2107.6" r="2.9"></circle><circle cx="308.0" cy="2073.4" r="2.9"></circle><circle cx="294.8" cy="2110.4" r="2.9"></circle><circle cx="258.9" cy="2064.7" r="2.9"></circle><circle cx="211.4" cy="2121.6" r="2.9"></circle><circle cx="204.9" cy="2083.0" r="2.9"></circle><circle cx="284.8" cy="2078.3" r="2.9"></circle><circle cx="250.0" cy="2088.3" r="2.9"></circle><circle cx="301.8" cy="2078.5" r="2.9"></circle><circle cx="202.0" cy="2082.2" r="2.9"></circle><circle cx="204.8" cy="2120.7" r="2.9"></circle><circle cx="188.3" cy="2103.0" r="2.9"></circle><circle cx="278.1" cy="2061.3" r="2.9"></circle><circle cx="253.4" cy="2078.2" r="2.9"></circle><circle cx="235.7" cy="2068.8" r="2.9"></circle><circle cx="248.5" cy="2100.2" r="2.9"></circle><circle cx="220.2" cy="2099.2" r="2.9"></circle><circle cx="243.4" cy="2063.7" r="2.9"></circle><circle cx="272.8" cy="2098.4" r="2.9"></circle><circle cx="289.3" cy="2111.8" r="2.9"></circle><circle cx="238.3" cy="2051.4" r="2.9"></circle><circle cx="276.9" cy="2080.5" r="2.9"></circle><circle cx="292.2" cy="2089.3" r="2.9"></circle><circle cx="194.6" cy="2094.5" r="2.9"></circle><circle cx="268.6" cy="2084.3" r="2.9"></circle><circle cx="286.8" cy="2095.9" r="2.9"></circle><circle cx="291.1" cy="2096.9" r="2.9"></circle><circle cx="233.0" cy="2085.2" r="2.9"></circle><circle cx="240.2" cy="2101.0" r="2.9"></circle><circle cx="290.8" cy="2076.3" r="2.9"></circle><circle cx="263.9" cy="2064.5" r="2.9"></circle><circle cx="224.2" cy="2085.3" r="2.9"></circle><circle cx="289.2" cy="2120.4" r="2.9"></circle><circle cx="205.4" cy="2081.6" r="2.9"></circle><circle cx="291.2" cy="2071.1" r="2.9"></circle><circle cx="234.3" cy="2126.2" r="2.9"></circle><circle cx="206.8" cy="2120.1" r="2.9"></circle><circle cx="260.6" cy="2053.8" r="2.9"></circle><circle cx="253.1" cy="2107.4" r="2.9"></circle><circle cx="256.7" cy="2138.3" r="2.9"></circle><circle cx="212.7" cy="2129.2" r="2.9"></circle><circle cx="249.5" cy="2102.7" r="2.9"></circle><circle cx="225.4" cy="2081.2" r="2.9"></circle><circle cx="262.6" cy="2067.5" r="2.9"></circle><circle cx="270.3" cy="2100.7" r="2.9"></circle><circle cx="273.2" cy="2107.4" r="2.9"></circle><circle cx="259.2" cy="2064.9" r="2.9"></circle><circle cx="238.1" cy="2069.4" r="2.9"></circle><circle cx="255.0" cy="2115.9" r="2.9"></circle><circle cx="315.6" cy="2080.9" r="2.9"></circle><circle cx="243.8" cy="2095.0" r="2.9"></circle><circle cx="259.2" cy="2063.3" r="2.9"></circle><circle cx="320.2" cy="2093.1" r="2.9"></circle><circle cx="214.0" cy="2053.8" r="2.9"></circle><circle cx="255.2" cy="2115.3" r="2.9"></circle><circle cx="224.1" cy="2086.9" r="2.9"></circle><circle cx="231.2" cy="2111.0" r="2.9"></circle><circle cx="272.2" cy="2079.9" r="2.9"></circle><circle cx="215.0" cy="2068.1" r="2.9"></circle><circle cx="203.6" cy="2131.1" r="2.9"></circle><circle cx="267.2" cy="2086.6" r="2.9"></circle><circle cx="251.0" cy="2080.0" r="2.9"></circle><circle cx="233.7" cy="2093.3" r="2.9"></circle><circle cx="215.9" cy="2111.4" r="2.9"></circle><circle cx="305.2" cy="2107.2" r="2.9"></circle><circle cx="296.6" cy="2098.1" r="2.9"></circle><circle cx="294.4" cy="2056.6" r="2.9"></circle><circle cx="252.7" cy="2101.9" r="2.9"></circle><circle cx="300.9" cy="2109.5" r="2.9"></circle><circle cx="248.9" cy="2047.1" r="2.9"></circle><circle cx="311.7" cy="2062.0" r="2.9"></circle><circle cx="228.3" cy="2098.7" r="2.9"></circle><circle cx="248.5" cy="2074.1" r="2.9"></circle><circle cx="274.0" cy="2068.2" r="2.9"></circle><circle cx="227.0" cy="2128.5" r="2.9"></circle><circle cx="272.5" cy="2079.3" r="2.9"></circle><circle cx="202.8" cy="2079.9" r="2.9"></circle><circle cx="242.5" cy="2112.5" r="2.9"></circle><circle cx="279.2" cy="2073.7" r="2.9"></circle><circle cx="257.1" cy="2116.8" r="2.9"></circle><circle cx="244.6" cy="2086.7" r="2.9"></circle><circle cx="237.1" cy="2122.8" r="2.9"></circle><circle cx="253.7" cy="2120.0" r="2.9"></circle><circle cx="264.7" cy="2088.1" r="2.9"></circle><circle cx="157.4" cy="2050.7" r="2.9"></circle><circle cx="236.6" cy="2086.1" r="2.9"></circle><circle cx="243.9" cy="2129.1" r="2.9"></circle><circle cx="248.9" cy="2123.9" r="2.9"></circle><circle cx="183.1" cy="2086.0" r="2.9"></circle><circle cx="249.7" cy="2112.8" r="2.9"></circle><circle cx="200.2" cy="2107.9" r="2.9"></circle><circle cx="239.3" cy="2082.8" r="2.9"></circle><circle cx="293.2" cy="2063.0" r="2.9"></circle><circle cx="218.0" cy="2098.1" r="2.9"></circle><circle cx="262.0" cy="2111.0" r="2.9"></circle><circle cx="230.1" cy="2096.3" r="2.9"></circle><circle cx="259.8" cy="2102.2" r="2.9"></circle><circle cx="208.0" cy="2079.9" r="2.9"></circle><circle cx="226.6" cy="2080.5" r="2.9"></circle><circle cx="189.4" cy="2079.6" r="2.9"></circle><circle cx="248.3" cy="2098.6" r="2.9"></circle><circle cx="262.9" cy="2086.5" r="2.9"></circle><circle cx="221.3" cy="2081.8" r="2.9"></circle><circle cx="261.2" cy="2083.9" r="2.9"></circle><circle cx="260.1" cy="2056.7" r="2.9"></circle><circle cx="256.9" cy="2080.6" r="2.9"></circle><circle cx="276.3" cy="2088.4" r="2.9"></circle><circle cx="244.5" cy="2052.5" r="2.9"></circle><circle cx="243.8" cy="2099.4" r="2.9"></circle><circle cx="287.6" cy="2091.2" r="2.9"></circle><circle cx="209.6" cy="2068.8" r="2.9"></circle><circle cx="306.0" cy="2090.8" r="2.9"></circle><circle cx="266.1" cy="2101.1" r="2.9"></circle><circle cx="298.0" cy="2071.0" r="2.9"></circle><circle cx="254.5" cy="2129.8" r="2.9"></circle><circle cx="230.6" cy="2077.1" r="2.9"></circle><circle cx="230.2" cy="2111.7" r="2.9"></circle><circle cx="177.7" cy="2110.4" r="2.9"></circle><circle cx="259.1" cy="2064.1" r="2.9"></circle><circle cx="269.3" cy="2061.8" r="2.9"></circle><circle cx="274.9" cy="2062.0" r="2.9"></circle><circle cx="250.4" cy="2064.2" r="2.9"></circle><circle cx="223.6" cy="2093.0" r="2.9"></circle><circle cx="233.0" cy="2073.0" r="2.9"></circle><circle cx="295.7" cy="2061.8" r="2.9"></circle><circle cx="231.0" cy="2086.9" r="2.9"></circle><circle cx="170.9" cy="2035.1" r="2.9"></circle><circle cx="235.7" cy="2078.8" r="2.9"></circle><circle cx="222.8" cy="2065.3" r="2.9"></circle><circle cx="282.3" cy="2036.1" r="2.9"></circle><circle cx="305.6" cy="2124.4" r="2.9"></circle><circle cx="284.6" cy="2081.7" r="2.9"></circle><circle cx="246.6" cy="2095.2" r="2.9"></circle><circle cx="228.9" cy="2102.7" r="2.9"></circle><circle cx="286.2" cy="2130.0" r="2.9"></circle><circle cx="222.0" cy="2079.7" r="2.9"></circle><circle cx="292.2" cy="2120.7" r="2.9"></circle><circle cx="263.4" cy="2045.1" r="2.9"></circle><circle cx="278.8" cy="2096.5" r="2.9"></circle><circle cx="264.1" cy="2069.4" r="2.9"></circle><circle cx="281.4" cy="2100.4" r="2.9"></circle><circle cx="295.6" cy="2075.2" r="2.9"></circle><circle cx="225.4" cy="2107.0" r="2.9"></circle><circle cx="223.8" cy="2099.7" r="2.9"></circle><circle cx="244.5" cy="2090.5" r="2.9"></circle><circle cx="234.6" cy="2073.8" r="2.9"></circle><circle cx="246.5" cy="2108.4" r="2.9"></circle><circle cx="248.9" cy="2094.9" r="2.9"></circle><circle cx="234.9" cy="2094.7" r="2.9"></circle><circle cx="262.5" cy="2123.8" r="2.9"></circle><circle cx="220.4" cy="2072.8" r="2.9"></circle><circle cx="264.9" cy="2046.2" r="2.9"></circle><circle cx="246.2" cy="2099.4" r="2.9"></circle><circle cx="285.6" cy="2049.9" r="2.9"></circle><circle cx="286.7" cy="2089.2" r="2.9"></circle><circle cx="251.8" cy="2117.3" r="2.9"></circle><circle cx="297.1" cy="2100.6" r="2.9"></circle><circle cx="245.5" cy="2079.9" r="2.9"></circle><circle cx="233.7" cy="2089.5" r="2.9"></circle><circle cx="259.0" cy="2085.1" r="2.9"></circle><circle cx="240.1" cy="2047.2" r="2.9"></circle><circle cx="276.1" cy="2129.8" r="2.9"></circle><circle cx="256.9" cy="2049.7" r="2.9"></circle><circle cx="296.8" cy="2082.9" r="2.9"></circle><circle cx="256.9" cy="2116.8" r="2.9"></circle><circle cx="195.4" cy="2074.7" r="2.9"></circle><circle cx="257.3" cy="2061.3" r="2.9"></circle><circle cx="292.0" cy="2099.0" r="2.9"></circle><circle cx="240.8" cy="2090.7" r="2.9"></circle><circle cx="255.3" cy="2069.3" r="2.9"></circle><circle cx="306.1" cy="2089.2" r="2.9"></circle><circle cx="270.2" cy="2064.8" r="2.9"></circle><circle cx="218.4" cy="2089.8" r="2.9"></circle><circle cx="286.0" cy="2073.5" r="2.9"></circle><circle cx="263.4" cy="2126.9" r="2.9"></circle><circle cx="264.7" cy="2070.1" r="2.9"></circle><circle cx="227.6" cy="2096.0" r="2.9"></circle><circle cx="231.1" cy="2092.8" r="2.9"></circle><circle cx="248.8" cy="2095.8" r="2.9"></circle><circle cx="279.8" cy="2085.6" r="2.9"></circle><circle cx="227.0" cy="2045.0" r="2.9"></circle><circle cx="244.2" cy="2095.3" r="2.9"></circle><circle cx="259.7" cy="2091.1" r="2.9"></circle><circle cx="250.7" cy="2078.7" r="2.9"></circle><circle cx="239.7" cy="2076.9" r="2.9"></circle><circle cx="265.6" cy="2077.0" r="2.9"></circle><circle cx="244.4" cy="2123.7" r="2.9"></circle><circle cx="242.8" cy="2089.5" r="2.9"></circle><circle cx="268.4" cy="2096.6" r="2.9"></circle><circle cx="286.1" cy="2048.1" r="2.9"></circle><circle cx="296.9" cy="2102.8" r="2.9"></circle><circle cx="261.1" cy="2133.3" r="2.9"></circle><circle cx="217.5" cy="2096.0" r="2.9"></circle><circle cx="237.0" cy="2102.3" r="2.9"></circle><circle cx="314.9" cy="2111.1" r="2.9"></circle><circle cx="217.5" cy="2118.5" r="2.9"></circle><circle cx="241.6" cy="2056.9" r="2.9"></circle><circle cx="272.9" cy="2088.4" r="2.9"></circle><circle cx="260.2" cy="2091.5" r="2.9"></circle><circle cx="289.4" cy="2089.2" r="2.9"></circle><circle cx="203.3" cy="2094.1" r="2.9"></circle><circle cx="365.8" cy="2090.5" r="2.9"></circle><circle cx="243.7" cy="2098.1" r="2.9"></circle><circle cx="245.9" cy="2068.4" r="2.9"></circle><circle cx="283.3" cy="2048.1" r="2.9"></circle><circle cx="239.2" cy="2083.6" r="2.9"></circle><circle cx="231.2" cy="2079.7" r="2.9"></circle><circle cx="266.8" cy="2098.7" r="2.9"></circle><circle cx="226.6" cy="2098.4" r="2.9"></circle><circle cx="266.0" cy="2051.9" r="2.9"></circle><circle cx="194.9" cy="2080.8" r="2.9"></circle><circle cx="243.7" cy="2086.6" r="2.9"></circle><circle cx="277.2" cy="2104.8" r="2.9"></circle><circle cx="246.8" cy="2089.5" r="2.9"></circle><circle cx="241.9" cy="2050.6" r="2.9"></circle><circle cx="309.7" cy="2086.7" r="2.9"></circle><circle cx="250.5" cy="2060.2" r="2.9"></circle><circle cx="263.7" cy="2094.6" r="2.9"></circle><circle cx="288.2" cy="2094.8" r="2.9"></circle><circle cx="272.6" cy="2057.4" r="2.9"></circle><circle cx="218.9" cy="2081.5" r="2.9"></circle><circle cx="231.4" cy="2038.2" r="2.9"></circle><circle cx="310.8" cy="2117.0" r="2.9"></circle><circle cx="257.5" cy="2085.8" r="2.9"></circle><circle cx="245.7" cy="2119.7" r="2.9"></circle><circle cx="208.4" cy="2068.3" r="2.9"></circle><circle cx="286.9" cy="2094.8" r="2.9"></circle><circle cx="295.8" cy="2066.5" r="2.9"></circle><circle cx="215.3" cy="2088.7" r="2.9"></circle><circle cx="206.0" cy="2076.6" r="2.9"></circle><circle cx="233.1" cy="2076.2" r="2.9"></circle><circle cx="290.5" cy="2094.5" r="2.9"></circle><circle cx="257.2" cy="2109.7" r="2.9"></circle><circle cx="214.0" cy="2074.1" r="2.9"></circle><circle cx="251.4" cy="2110.3" r="2.9"></circle><circle cx="251.5" cy="2057.9" r="2.9"></circle><circle cx="272.6" cy="2080.4" r="2.9"></circle><circle cx="257.9" cy="2087.8" r="2.9"></circle><circle cx="228.7" cy="2115.3" r="2.9"></circle><circle cx="268.9" cy="2048.2" r="2.9"></circle><circle cx="233.9" cy="2081.5" r="2.9"></circle><circle cx="240.0" cy="2077.6" r="2.9"></circle><circle cx="194.6" cy="2082.8" r="2.9"></circle><circle cx="264.6" cy="2094.9" r="2.9"></circle><circle cx="237.0" cy="2093.1" r="2.9"></circle><circle cx="246.4" cy="2111.8" r="2.9"></circle><circle cx="310.2" cy="2055.0" r="2.9"></circle><circle cx="219.4" cy="2090.0" r="2.9"></circle><circle cx="191.4" cy="2097.0" r="2.9"></circle><circle cx="247.2" cy="2069.3" r="2.9"></circle><circle cx="234.4" cy="2068.1" r="2.9"></circle><circle cx="237.7" cy="2086.7" r="2.9"></circle><circle cx="244.1" cy="2093.8" r="2.9"></circle><circle cx="292.8" cy="2072.3" r="2.9"></circle><circle cx="308.0" cy="2054.8" r="2.9"></circle><circle cx="191.7" cy="2067.1" r="2.9"></circle><circle cx="251.9" cy="2109.5" r="2.9"></circle><circle cx="266.3" cy="2037.0" r="2.9"></circle><circle cx="277.9" cy="2058.0" r="2.9"></circle><circle cx="317.4" cy="2064.3" r="2.9"></circle><circle cx="227.1" cy="2094.5" r="2.9"></circle><circle cx="265.3" cy="2106.4" r="2.9"></circle><circle cx="261.5" cy="2062.4" r="2.9"></circle><circle cx="241.6" cy="2100.2" r="2.9"></circle><circle cx="259.8" cy="2111.3" r="2.9"></circle><circle cx="203.1" cy="2081.7" r="2.9"></circle><circle cx="271.9" cy="2080.4" r="2.9"></circle><circle cx="231.7" cy="2116.5" r="2.9"></circle><circle cx="170.6" cy="2089.8" r="2.9"></circle><circle cx="244.2" cy="2070.7" r="2.9"></circle></g><g fill="#ff7f0e" fill-opacity="0.5"><circle cx="264.9" cy="2000.4" r="2.9"></circle><circle cx="298.5" cy="2024.5" r="2.9"></circle><circle cx="324.6" cy="2043.8" r="2.9"></circle><circle cx="260.1" cy="2049.8" r="2.9"></circle><circle cx="302.3" cy="2071.7" r="2.9"></circle><circle cx="302.2" cy="2024.3" r="2.9"></circle><circle cx="302.0" cy="2042.3" r="2.9"></circle><circle cx="319.1" cy="2009.0" r="2.9"></circle><circle cx="294.1" cy="2056.0" r="2.9"></circle><circle cx="285.2" cy="2011.0" r="2.9"></circle><circle cx="302.2" cy="2047.9" r="2.9"></circle><circle cx="330.5" cy="2063.4" r="2.9"></circle><circle cx="347.3" cy="2089.4" r="2.9"></circle><circle cx="264.5" cy="2048.9" r="2.9"></circle><circle cx="250.6" cy="2032.3" r="2.9"></circle><circle cx="326.6" cy="2026.4" r="2.9"></circle><circle cx="291.0" cy="2052.1" r="2.9"></circle><circle cx="282.4" cy="2016.9" r="2.9"></circle><circle cx="313.6" cy="2038.3" r="2.9"></circle><circle cx="287.5" cy="2002.8" r="2.9"></circle><circle cx="337.5" cy="2038.0" r="2.9"></circle><circle cx="294.7" cy="2097.9" r="2.9"></circle><circle cx="246.6" cy="2082.9" r="2.9"></circle><circle cx="309.4" cy="1993.6" r="2.9"></circle><circle cx="295.5" cy="2004.5" r="2.9"></circle><circle cx="289.7" cy="2026.3" r="2.9"></circle><circle cx="300.6" cy="2051.4" r="2.9"></circle><circle cx="349.8" cy="2035.8" r="2.9"></circle><circle cx="314.5" cy="2043.3" r="2.9"></circle><circle cx="307.4" cy="2044.7" r="2.9"></circle><circle cx="336.3" cy="2069.1" r="2.9"></circle><circle cx="304.2" cy="2050.8" r="2.9"></circle><circle cx="333.0" cy="2043.7" r="2.9"></circle><circle cx="303.3" cy="2026.7" r="2.9"></circle><circle cx="313.4" cy="2034.8" r="2.9"></circle><circle cx="318.4" cy="2021.3" r="2.9"></circle><circle cx="352.4" cy="2009.1" r="2.9"></circle><circle cx="262.5" cy="2024.6" r="2.9"></circle><circle cx="368.7" cy="1998.4" r="2.9"></circle><circle cx="290.3" cy="2047.2" r="2.9"></circle><circle cx="326.8" cy="2086.4" r="2.9"></circle><circle cx="358.9" cy="2062.1" r="2.9"></circle><circle cx="305.1" cy="2096.0" r="2.9"></circle><circle cx="290.6" cy="2023.2" r="2.9"></circle><circle cx="310.5" cy="2057.2" r="2.9"></circle><circle cx="292.4" cy="2051.0" r="2.9"></circle><circle cx="285.9" cy="2039.7" r="2.9"></circle><circle cx="327.0" cy="2044.1" r="2.9"></circle><circle cx="308.0" cy="2047.8" r="2.9"></circle><circle cx="330.9" cy="2056.3" r="2.9"></circle><circle cx="332.2" cy="2068.5" r="2.9"></circle><circle cx="275.0" cy="2108.7" r="2.9"></circle><circle cx="333.9" cy="2075.5" r="2.9"></circle><circle cx="262.8" cy="2032.6" r="2.9"></circle><circle cx="343.8" cy="2052.1" r="2.9"></circle><circle cx="319.8" cy="2040.4" r="2.9"></circle><circle cx="256.4" cy="2073.9" r="2.9"></circle><circle cx="372.9" cy="2026.0" r="2.9"></circle><circle cx="320.4" cy="2051.7" r="2.9"></circle><circle cx="340.5" cy="2061.1" r="2.9"></circle><circle cx="288.8" cy="2049.9" r="2.9"></circle><circle cx="289.4" cy="2083.1" r="2.9"></circle><circle cx="344.2" cy="2035.2" r="2.9"></circle><circle cx="332.0" cy="2066.6" r="2.9"></circle><circle cx="293.1" cy="2047.5" r="2.9"></circle><circle cx="249.8" cy="2061.5" r="2.9"></circle><circle cx="351.5" cy="2067.7" r="2.9"></circle><circle cx="288.3" cy="2067.3" r="2.9"></circle><circle cx="236.9" cy="2014.3" r="2.9"></circle><circle cx="285.7" cy="2029.7" r="2.9"></circle><circle cx="327.8" cy="2035.7" r="2.9"></circle><circle cx="295.3" cy="2043.5" r="2.9"></circle><circle cx="320.8" cy="2023.3" r="2.9"></circle><circle cx="295.5" cy="2056.7" r="2.9"></circle><circle cx="340.8" cy="2071.1" r="2.9"></circle><circle cx="307.0" cy="2068.0" r="2.9"></circle><circle cx="326.0" cy="1999.7" r="2.9"></circle><circle cx="279.1" cy="2046.7" r="2.9"></circle><circle cx="329.6" cy="2054.4" r="2.9"></circle><circle cx="301.5" cy="2031.9" r="2.9"></circle><circle cx="276.3" cy="1979.5" r="2.9"></circle><circle cx="290.4" cy="2050.9" r="2.9"></circle><circle cx="311.4" cy="2034.6" r="2.9"></circle><circle cx="324.5" cy="2045.8" r="2.9"></circle><circle cx="292.6" cy="2027.1" r="2.9"></circle><circle cx="325.9" cy="2096.3" r="2.9"></circle><circle cx="281.5" cy="2061.7" r="2.9"></circle><circle cx="263.4" cy="2043.3" r="2.9"></circle><circle cx="302.9" cy="2058.8" r="2.9"></circle><circle cx="310.2" cy="2048.5" r="2.9"></circle><circle cx="293.2" cy="2060.5" r="2.9"></circle><circle cx="291.5" cy="2065.3" r="2.9"></circle><circle cx="292.6" cy="2034.2" r="2.9"></circle><circle cx="294.4" cy="2074.0" r="2.9"></circle><circle cx="334.8" cy="2037.5" r="2.9"></circle><circle cx="287.7" cy="2041.8" r="2.9"></circle><circle cx="361.2" cy="2067.8" r="2.9"></circle><circle cx="265.8" cy="2062.7" r="2.9"></circle><circle cx="244.6" cy="2044.2" r="2.9"></circle><circle cx="306.0" cy="2015.9" r="2.9"></circle><circle cx="270.5" cy="2029.4" r="2.9"></circle><circle cx="326.7" cy="2052.4" r="2.9"></circle><circle cx="387.4" cy="2019.7" r="2.9"></circle><circle cx="242.8" cy="2015.1" r="2.9"></circle><circle cx="289.7" cy="2038.4" r="2.9"></circle><circle cx="298.2" cy="2015.1" r="2.9"></circle><circle cx="291.3" cy="2029.0" r="2.9"></circle><circle cx="345.8" cy="2026.1" r="2.9"></circle><circle cx="238.8" cy="2054.3" r="2.9"></circle><circle cx="349.0" cy="2064.0" r="2.9"></circle><circle cx="292.2" cy="2035.0" r="2.9"></circle><circle cx="333.4" cy="2062.3" r="2.9"></circle><circle cx="297.8" cy="2033.4" r="2.9"></circle><circle cx="296.5" cy="2052.5" r="2.9"></circle><circle cx="318.8" cy="2047.4" r="2.9"></circle><circle cx="241.4" cy="2010.6" r="2.9"></circle><circle cx="298.3" cy="2073.6" r="2.9"></circle><circle cx="253.8" cy="2038.2" r="2.9"></circle><circle cx="289.0" cy="2054.4" r="2.9"></circle><circle cx="287.1" cy="2050.3" r="2.9"></circle><circle cx="328.3" cy="2042.0" r="2.9"></circle><circle cx="319.4" cy="2022.9" r="2.9"></circle><circle cx="279.4" cy="2033.7" r="2.9"></circle><circle cx="322.5" cy="2051.2" r="2.9"></circle><circle cx="325.7" cy="2037.4" r="2.9"></circle><circle cx="303.2" cy="2033.9" r="2.9"></circle><circle cx="254.2" cy="2029.8" r="2.9"></circle><circle cx="283.3" cy="2043.7" r="2.9"></circle><circle cx="280.7" cy="2020.5" r="2.9"></circle><circle cx="288.1" cy="2034.7" r="2.9"></circle><circle cx="323.1" cy="2029.1" r="2.9"></circle><circle cx="304.3" cy="2045.0" r="2.9"></circle><circle cx="324.7" cy="2036.2" r="2.9"></circle><circle cx="302.2" cy="2047.8" r="2.9"></circle><circle cx="271.5" cy="2050.2" r="2.9"></circle><circle cx="313.8" cy="2036.3" r="2.9"></circle><circle cx="348.9" cy="2059.1" r="2.9"></circle><circle cx="323.5" cy="2057.8" r="2.9"></circle><circle cx="248.5" cy="2031.8" r="2.9"></circle><circle cx="252.4" cy="2041.1" r="2.9"></circle><circle cx="321.2" cy="2043.0" r="2.9"></circle><circle cx="324.6" cy="1997.9" r="2.9"></circle><circle cx="289.8" cy="2075.9" r="2.9"></circle><circle cx="306.1" cy="2005.9" r="2.9"></circle><circle cx="278.3" cy="1999.8" r="2.9"></circle><circle cx="259.1" cy="2053.5" r="2.9"></circle><circle cx="339.0" cy="2049.5" r="2.9"></circle><circle cx="326.0" cy="2062.1" r="2.9"></circle><circle cx="324.6" cy="2030.1" r="2.9"></circle><circle cx="301.2" cy="2046.7" r="2.9"></circle><circle cx="262.2" cy="1991.2" r="2.9"></circle><circle cx="347.0" cy="2023.1" r="2.9"></circle><circle cx="351.1" cy="2030.0" r="2.9"></circle><circle cx="291.0" cy="2109.3" r="2.9"></circle><circle cx="287.5" cy="2067.8" r="2.9"></circle><circle cx="315.0" cy="2043.3" r="2.9"></circle><circle cx="326.9" cy="2060.7" r="2.9"></circle><circle cx="329.5" cy="2077.3" r="2.9"></circle><circle cx="245.6" cy="2046.8" r="2.9"></circle><circle cx="244.8" cy="2082.2" r="2.9"></circle><circle cx="303.2" cy="2064.2" r="2.9"></circle><circle cx="323.6" cy="2010.8" r="2.9"></circle><circle cx="229.0" cy="2072.2" r="2.9"></circle><circle cx="255.6" cy="2048.5" r="2.9"></circle><circle cx="278.1" cy="2045.7" r="2.9"></circle><circle cx="246.3" cy="1982.2" r="2.9"></circle><circle cx="355.8" cy="2034.5" r="2.9"></circle><circle cx="274.9" cy="2051.3" r="2.9"></circle><circle cx="233.8" cy="2003.0" r="2.9"></circle><circle cx="261.0" cy="2081.7" r="2.9"></circle><circle cx="322.4" cy="2032.8" r="2.9"></circle><circle cx="365.6" cy="2045.0" r="2.9"></circle><circle cx="298.7" cy="2046.7" r="2.9"></circle><circle cx="336.7" cy="2049.0" r="2.9"></circle><circle cx="287.0" cy="2041.5" r="2.9"></circle><circle cx="339.1" cy="2002.4" r="2.9"></circle><circle cx="260.7" cy="2018.0" r="2.9"></circle><circle cx="292.4" cy="2066.1" r="2.9"></circle><circle cx="286.8" cy="2047.1" r="2.9"></circle><circle cx="320.1" cy="2046.1" r="2.9"></circle><circle cx="307.9" cy="2064.3" r="2.9"></circle><circle cx="285.6" cy="2049.9" r="2.9"></circle><circle cx="323.4" cy="2047.2" r="2.9"></circle><circle cx="276.7" cy="2033.9" r="2.9"></circle><circle cx="305.3" cy="2032.6" r="2.9"></circle><circle cx="293.2" cy="2030.5" r="2.9"></circle><circle cx="313.4" cy="2016.7" r="2.9"></circle><circle cx="262.4" cy="2066.3" r="2.9"></circle><circle cx="314.3" cy="2072.3" r="2.9"></circle><circle cx="291.4" cy="2055.5" r="2.9"></circle><circle cx="340.0" cy="2041.0" r="2.9"></circle><circle cx="299.0" cy="1988.5" r="2.9"></circle><circle cx="319.4" cy="1992.8" r="2.9"></circle><circle cx="294.1" cy="2011.0" r="2.9"></circle><circle cx="317.6" cy="2067.8" r="2.9"></circle><circle cx="254.8" cy="2009.0" r="2.9"></circle><circle cx="309.5" cy="2040.3" r="2.9"></circle><circle cx="269.4" cy="2025.1" r="2.9"></circle><circle cx="331.3" cy="2051.9" r="2.9"></circle><circle cx="305.9" cy="1997.0" r="2.9"></circle><circle cx="308.0" cy="2016.2" r="2.9"></circle><circle cx="290.9" cy="2028.9" r="2.9"></circle><circle cx="285.2" cy="2044.2" r="2.9"></circle><circle cx="336.7" cy="2036.6" r="2.9"></circle><circle cx="322.9" cy="2034.5" r="2.9"></circle><circle cx="324.8" cy="2053.7" r="2.9"></circle><circle cx="259.0" cy="2112.1" r="2.9"></circle><circle cx="246.7" cy="2046.7" r="2.9"></circle><circle cx="309.1" cy="2025.8" r="2.9"></circle><circle cx="305.6" cy="2060.2" r="2.9"></circle><circle cx="274.8" cy="2074.1" r="2.9"></circle><circle cx="253.3" cy="2047.9" r="2.9"></circle><circle cx="282.4" cy="2014.7" r="2.9"></circle><circle cx="298.2" cy="2015.2" r="2.9"></circle><circle cx="274.7" cy="2031.7" r="2.9"></circle><circle cx="289.8" cy="2046.1" r="2.9"></circle><circle cx="345.0" cy="2033.5" r="2.9"></circle><circle cx="297.8" cy="2052.0" r="2.9"></circle><circle cx="329.2" cy="2030.6" r="2.9"></circle><circle cx="291.0" cy="2041.5" r="2.9"></circle><circle cx="303.1" cy="2052.4" r="2.9"></circle><circle cx="281.8" cy="2033.3" r="2.9"></circle><circle cx="326.2" cy="2046.0" r="2.9"></circle><circle cx="285.3" cy="2039.4" r="2.9"></circle><circle cx="324.7" cy="2022.4" r="2.9"></circle><circle cx="323.3" cy="2024.7" r="2.9"></circle><circle cx="309.2" cy="2048.0" r="2.9"></circle><circle cx="306.7" cy="2031.5" r="2.9"></circle><circle cx="302.3" cy="2079.4" r="2.9"></circle><circle cx="318.1" cy="2030.7" r="2.9"></circle><circle cx="303.9" cy="2045.7" r="2.9"></circle><circle cx="257.1" cy="2080.6" r="2.9"></circle><circle cx="295.9" cy="2107.4" r="2.9"></circle><circle cx="356.5" cy="2001.2" r="2.9"></circle><circle cx="322.9" cy="2064.9" r="2.9"></circle><circle cx="293.6" cy="2009.7" r="2.9"></circle><circle cx="346.5" cy="2084.2" r="2.9"></circle><circle cx="290.9" cy="2047.1" r="2.9"></circle><circle cx="317.4" cy="1999.2" r="2.9"></circle><circle cx="352.1" cy="2019.2" r="2.9"></circle><circle cx="273.3" cy="2042.1" r="2.9"></circle><circle cx="303.4" cy="2020.3" r="2.9"></circle><circle cx="315.9" cy="2021.2" r="2.9"></circle><circle cx="304.6" cy="2055.8" r="2.9"></circle><circle cx="296.7" cy="2045.9" r="2.9"></circle><circle cx="314.7" cy="2039.0" r="2.9"></circle><circle cx="265.1" cy="2033.1" r="2.9"></circle><circle cx="260.2" cy="2023.3" r="2.9"></circle><circle cx="280.8" cy="1986.6" r="2.9"></circle><circle cx="345.3" cy="2039.2" r="2.9"></circle><circle cx="265.4" cy="2042.4" r="2.9"></circle><circle cx="312.9" cy="2070.9" r="2.9"></circle><circle cx="329.7" cy="2028.2" r="2.9"></circle><circle cx="289.6" cy="2031.5" r="2.9"></circle><circle cx="348.4" cy="2026.8" r="2.9"></circle><circle cx="342.7" cy="2047.4" r="2.9"></circle><circle cx="332.3" cy="1994.1" r="2.9"></circle><circle cx="326.5" cy="2030.7" r="2.9"></circle><circle cx="223.4" cy="2006.9" r="2.9"></circle><circle cx="291.8" cy="2027.2" r="2.9"></circle><circle cx="307.8" cy="2053.9" r="2.9"></circle><circle cx="319.2" cy="2033.7" r="2.9"></circle><circle cx="338.5" cy="2051.5" r="2.9"></circle><circle cx="274.1" cy="2086.5" r="2.9"></circle><circle cx="306.7" cy="2066.4" r="2.9"></circle><circle cx="319.6" cy="2050.0" r="2.9"></circle><circle cx="342.6" cy="2056.7" r="2.9"></circle><circle cx="287.3" cy="2021.5" r="2.9"></circle><circle cx="266.5" cy="2077.9" r="2.9"></circle><circle cx="340.9" cy="2074.7" r="2.9"></circle><circle cx="264.0" cy="2021.3" r="2.9"></circle><circle cx="293.9" cy="1995.2" r="2.9"></circle><circle cx="336.2" cy="2091.0" r="2.9"></circle><circle cx="303.1" cy="2008.6" r="2.9"></circle><circle cx="340.8" cy="2059.6" r="2.9"></circle><circle cx="302.4" cy="2050.5" r="2.9"></circle><circle cx="312.3" cy="2027.9" r="2.9"></circle><circle cx="271.0" cy="2049.4" r="2.9"></circle><circle cx="235.2" cy="2021.4" r="2.9"></circle><circle cx="311.2" cy="2031.1" r="2.9"></circle><circle cx="291.7" cy="2026.6" r="2.9"></circle><circle cx="327.3" cy="2033.7" r="2.9"></circle><circle cx="304.7" cy="2062.9" r="2.9"></circle><circle cx="264.4" cy="2029.9" r="2.9"></circle><circle cx="351.5" cy="2060.6" r="2.9"></circle><circle cx="280.2" cy="2014.7" r="2.9"></circle><circle cx="315.6" cy="2022.0" r="2.9"></circle><circle cx="338.0" cy="2006.2" r="2.9"></circle><circle cx="293.9" cy="2094.9" r="2.9"></circle><circle cx="353.2" cy="2006.8" r="2.9"></circle><circle cx="265.3" cy="2053.0" r="2.9"></circle><circle cx="283.4" cy="2032.8" r="2.9"></circle><circle cx="267.2" cy="2039.1" r="2.9"></circle><circle cx="320.6" cy="2021.0" r="2.9"></circle><circle cx="269.4" cy="2028.1" r="2.9"></circle><circle cx="263.9" cy="2077.7" r="2.9"></circle><circle cx="247.9" cy="2027.2" r="2.9"></circle><circle cx="357.3" cy="2023.5" r="2.9"></circle><circle cx="297.3" cy="2053.2" r="2.9"></circle><circle cx="331.1" cy="2015.9" r="2.9"></circle><circle cx="297.7" cy="2053.0" r="2.9"></circle><circle cx="295.0" cy="2035.9" r="2.9"></circle><circle cx="313.2" cy="2025.3" r="2.9"></circle><circle cx="250.9" cy="2008.4" r="2.9"></circle><circle cx="328.2" cy="2011.2" r="2.9"></circle><circle cx="316.0" cy="2041.7" r="2.9"></circle><circle cx="312.4" cy="2016.0" r="2.9"></circle><circle cx="311.9" cy="2044.3" r="2.9"></circle><circle cx="263.1" cy="2054.7" r="2.9"></circle><circle cx="279.6" cy="2058.8" r="2.9"></circle><circle cx="327.6" cy="2034.2" r="2.9"></circle><circle cx="347.9" cy="2032.9" r="2.9"></circle><circle cx="283.6" cy="2040.6" r="2.9"></circle><circle cx="275.8" cy="2055.3" r="2.9"></circle><circle cx="345.5" cy="2045.5" r="2.9"></circle><circle cx="320.3" cy="2072.4" r="2.9"></circle><circle cx="329.2" cy="2038.7" r="2.9"></circle><circle cx="326.0" cy="2049.1" r="2.9"></circle><circle cx="323.2" cy="2049.6" r="2.9"></circle><circle cx="319.1" cy="2083.2" r="2.9"></circle><circle cx="255.4" cy="2020.7" r="2.9"></circle><circle cx="269.5" cy="2018.2" r="2.9"></circle><circle cx="304.3" cy="2014.9" r="2.9"></circle><circle cx="315.9" cy="2021.8" r="2.9"></circle><circle cx="352.0" cy="2065.2" r="2.9"></circle><circle cx="273.5" cy="2009.3" r="2.9"></circle><circle cx="319.0" cy="2024.3" r="2.9"></circle><circle cx="273.1" cy="2053.0" r="2.9"></circle><circle cx="292.9" cy="2007.6" r="2.9"></circle><circle cx="363.4" cy="2016.2" r="2.9"></circle><circle cx="278.1" cy="2025.9" r="2.9"></circle><circle cx="263.2" cy="2014.3" r="2.9"></circle><circle cx="394.9" cy="2058.0" r="2.9"></circle><circle cx="316.0" cy="2055.4" r="2.9"></circle><circle cx="301.6" cy="2061.4" r="2.9"></circle><circle cx="224.3" cy="2032.3" r="2.9"></circle><circle cx="325.5" cy="2052.2" r="2.9"></circle><circle cx="315.6" cy="2017.0" r="2.9"></circle><circle cx="317.3" cy="2059.0" r="2.9"></circle><circle cx="281.5" cy="2048.5" r="2.9"></circle><circle cx="374.8" cy="2037.2" r="2.9"></circle><circle cx="336.9" cy="2058.0" r="2.9"></circle><circle cx="259.6" cy="2031.3" r="2.9"></circle><circle cx="299.8" cy="2058.3" r="2.9"></circle><circle cx="312.9" cy="2048.2" r="2.9"></circle><circle cx="273.9" cy="2060.2" r="2.9"></circle><circle cx="303.9" cy="2014.1" r="2.9"></circle><circle cx="304.8" cy="2057.0" r="2.9"></circle><circle cx="287.0" cy="1994.9" r="2.9"></circle><circle cx="333.4" cy="2071.8" r="2.9"></circle><circle cx="343.3" cy="1992.0" r="2.9"></circle><circle cx="241.5" cy="2067.9" r="2.9"></circle><circle cx="299.0" cy="2008.4" r="2.9"></circle><circle cx="298.6" cy="2026.0" r="2.9"></circle><circle cx="306.5" cy="1999.0" r="2.9"></circle><circle cx="308.4" cy="2045.2" r="2.9"></circle><circle cx="309.0" cy="2065.7" r="2.9"></circle><circle cx="239.1" cy="2040.1" r="2.9"></circle><circle cx="265.3" cy="2064.6" r="2.9"></circle><circle cx="314.5" cy="2074.6" r="2.9"></circle><circle cx="313.3" cy="2012.3" r="2.9"></circle><circle cx="248.8" cy="2072.7" r="2.9"></circle><circle cx="293.7" cy="2020.5" r="2.9"></circle><circle cx="263.3" cy="2041.0" r="2.9"></circle><circle cx="370.7" cy="2085.7" r="2.9"></circle><circle cx="296.9" cy="2052.9" r="2.9"></circle><circle cx="349.5" cy="2065.4" r="2.9"></circle><circle cx="297.6" cy="2047.2" r="2.9"></circle><circle cx="302.0" cy="2038.1" r="2.9"></circle><circle cx="246.6" cy="2006.5" r="2.9"></circle><circle cx="283.2" cy="2024.8" r="2.9"></circle><circle cx="283.3" cy="2048.8" r="2.9"></circle><circle cx="262.8" cy="2029.6" r="2.9"></circle><circle cx="319.2" cy="2051.9" r="2.9"></circle><circle cx="287.4" cy="2052.7" r="2.9"></circle><circle cx="304.6" cy="2030.9" r="2.9"></circle><circle cx="303.5" cy="2047.3" r="2.9"></circle><circle cx="328.0" cy="2060.1" r="2.9"></circle><circle cx="252.7" cy="2064.9" r="2.9"></circle><circle cx="261.4" cy="2029.9" r="2.9"></circle><circle cx="295.0" cy="2061.9" r="2.9"></circle><circle cx="286.8" cy="2023.5" r="2.9"></circle><circle cx="288.3" cy="2050.2" r="2.9"></circle><circle cx="285.7" cy="2031.3" r="2.9"></circle><circle cx="342.7" cy="2034.6" r="2.9"></circle><circle cx="289.7" cy="2045.4" r="2.9"></circle><circle cx="277.8" cy="2061.7" r="2.9"></circle><circle cx="267.3" cy="2068.9" r="2.9"></circle><circle cx="311.1" cy="2053.7" r="2.9"></circle><circle cx="287.6" cy="2029.2" r="2.9"></circle><circle cx="261.1" cy="2033.0" r="2.9"></circle><circle cx="376.3" cy="1992.7" r="2.9"></circle><circle cx="316.2" cy="2043.2" r="2.9"></circle><circle cx="324.5" cy="2038.2" r="2.9"></circle><circle cx="254.4" cy="2055.0" r="2.9"></circle><circle cx="267.4" cy="2021.8" r="2.9"></circle><circle cx="272.6" cy="2032.3" r="2.9"></circle><circle cx="330.8" cy="2058.2" r="2.9"></circle><circle cx="296.1" cy="2003.2" r="2.9"></circle><circle cx="309.9" cy="2050.1" r="2.9"></circle><circle cx="247.9" cy="2053.0" r="2.9"></circle><circle cx="232.4" cy="2040.9" r="2.9"></circle><circle cx="285.4" cy="2030.5" r="2.9"></circle><circle cx="255.8" cy="2036.0" r="2.9"></circle><circle cx="318.1" cy="2057.7" r="2.9"></circle><circle cx="326.4" cy="2009.0" r="2.9"></circle><circle cx="266.8" cy="2031.6" r="2.9"></circle><circle cx="304.8" cy="2027.3" r="2.9"></circle><circle cx="340.5" cy="2047.8" r="2.9"></circle><circle cx="354.4" cy="2058.2" r="2.9"></circle><circle cx="280.1" cy="2055.4" r="2.9"></circle><circle cx="260.4" cy="2042.7" r="2.9"></circle><circle cx="303.1" cy="2051.3" r="2.9"></circle><circle cx="275.3" cy="2079.6" r="2.9"></circle><circle cx="287.2" cy="2072.6" r="2.9"></circle><circle cx="287.4" cy="2014.2" r="2.9"></circle><circle cx="307.5" cy="2044.9" r="2.9"></circle><circle cx="307.6" cy="2066.2" r="2.9"></circle><circle cx="280.9" cy="2052.5" r="2.9"></circle><circle cx="281.3" cy="2080.0" r="2.9"></circle><circle cx="337.5" cy="2016.7" r="2.9"></circle><circle cx="302.8" cy="2047.4" r="2.9"></circle><circle cx="267.0" cy="2050.3" r="2.9"></circle><circle cx="352.8" cy="2082.0" r="2.9"></circle><circle cx="307.2" cy="2063.2" r="2.9"></circle><circle cx="289.2" cy="2004.6" r="2.9"></circle><circle cx="309.2" cy="2044.0" r="2.9"></circle><circle cx="308.9" cy="2048.3" r="2.9"></circle><circle cx="336.1" cy="2047.7" r="2.9"></circle><circle cx="265.5" cy="2028.6" r="2.9"></circle><circle cx="282.1" cy="2070.4" r="2.9"></circle><circle cx="279.3" cy="2053.7" r="2.9"></circle><circle cx="280.0" cy="2018.1" r="2.9"></circle><circle cx="306.5" cy="2049.9" r="2.9"></circle><circle cx="315.4" cy="2085.2" r="2.9"></circle><circle cx="345.1" cy="2025.9" r="2.9"></circle><circle cx="288.3" cy="2061.8" r="2.9"></circle><circle cx="291.1" cy="2034.3" r="2.9"></circle><circle cx="330.3" cy="2072.6" r="2.9"></circle><circle cx="313.3" cy="2045.5" r="2.9"></circle><circle cx="332.0" cy="2063.7" r="2.9"></circle><circle cx="280.8" cy="2047.0" r="2.9"></circle><circle cx="336.6" cy="2020.7" r="2.9"></circle><circle cx="333.2" cy="2060.4" r="2.9"></circle><circle cx="310.9" cy="2001.5" r="2.9"></circle><circle cx="320.3" cy="2071.3" r="2.9"></circle><circle cx="271.8" cy="2014.2" r="2.9"></circle><circle cx="297.0" cy="2000.2" r="2.9"></circle><circle cx="336.5" cy="2041.5" r="2.9"></circle><circle cx="341.2" cy="2033.9" r="2.9"></circle><circle cx="315.0" cy="2038.9" r="2.9"></circle><circle cx="310.4" cy="2038.1" r="2.9"></circle><circle cx="317.9" cy="2025.2" r="2.9"></circle><circle cx="331.8" cy="2045.6" r="2.9"></circle><circle cx="339.9" cy="2040.6" r="2.9"></circle><circle cx="300.4" cy="2024.4" r="2.9"></circle><circle cx="304.4" cy="2055.5" r="2.9"></circle><circle cx="309.0" cy="2006.6" r="2.9"></circle><circle cx="300.6" cy="2016.2" r="2.9"></circle><circle cx="281.9" cy="2045.9" r="2.9"></circle><circle cx="312.7" cy="2083.4" r="2.9"></circle><circle cx="301.5" cy="2037.8" r="2.9"></circle><circle cx="272.9" cy="2020.7" r="2.9"></circle><circle cx="258.3" cy="1999.6" r="2.9"></circle><circle cx="266.6" cy="2033.0" r="2.9"></circle><circle cx="338.3" cy="2045.1" r="2.9"></circle><circle cx="308.4" cy="2073.2" r="2.9"></circle><circle cx="308.3" cy="2036.3" r="2.9"></circle><circle cx="327.3" cy="2033.0" r="2.9"></circle><circle cx="314.3" cy="2027.5" r="2.9"></circle><circle cx="323.1" cy="2018.3" r="2.9"></circle><circle cx="265.2" cy="2041.9" r="2.9"></circle><circle cx="292.2" cy="2020.6" r="2.9"></circle><circle cx="285.6" cy="2001.0" r="2.9"></circle><circle cx="337.3" cy="2066.8" r="2.9"></circle><circle cx="256.9" cy="2056.2" r="2.9"></circle><circle cx="258.2" cy="2011.8" r="2.9"></circle><circle cx="273.4" cy="2008.6" r="2.9"></circle><circle cx="309.4" cy="2029.6" r="2.9"></circle></g><g font-size="8.2" fill="#222" stroke="#222" stroke-width="0"><path d="M154.8 2165.2v3" stroke-width="0.8"></path><text x="154.8" y="2176.2" text-anchor="middle">−1</text><path d="M187.0 2165.2v3" stroke-width="0.8"></path><text x="187.0" y="2176.2" text-anchor="middle">0</text><path d="M219.2 2165.2v3" stroke-width="0.8"></path><text x="219.2" y="2176.2" text-anchor="middle">1</text><path d="M251.4 2165.2v3" stroke-width="0.8"></path><text x="251.4" y="2176.2" text-anchor="middle">2</text><path d="M283.6 2165.2v3" stroke-width="0.8"></path><text x="283.6" y="2176.2" text-anchor="middle">3</text><path d="M315.8 2165.2v3" stroke-width="0.8"></path><text x="315.8" y="2176.2" text-anchor="middle">4</text><path d="M348.0 2165.2v3" stroke-width="0.8"></path><text x="348.0" y="2176.2" text-anchor="middle">5</text><path d="M380.2 2165.2v3" stroke-width="0.8"></path><text x="380.2" y="2176.2" text-anchor="middle">6</text><path d="M133.2 2154.3h-3" stroke-width="0.8"></path><text x="128.2" y="2157.3" text-anchor="end">−1</text><path d="M133.2 2131.2h-3" stroke-width="0.8"></path><text x="128.2" y="2134.2" text-anchor="end">0</text><path d="M133.2 2108.1h-3" stroke-width="0.8"></path><text x="128.2" y="2111.1" text-anchor="end">1</text><path d="M133.2 2085.0h-3" stroke-width="0.8"></path><text x="128.2" y="2088.0" text-anchor="end">2</text><path d="M133.2 2061.9h-3" stroke-width="0.8"></path><text x="128.2" y="2064.9" text-anchor="end">3</text><path d="M133.2 2038.8h-3" stroke-width="0.8"></path><text x="128.2" y="2041.8" text-anchor="end">4</text><path d="M133.2 2015.7h-3" stroke-width="0.8"></path><text x="128.2" y="2018.7" text-anchor="end">5</text><path d="M133.2 1992.6h-3" stroke-width="0.8"></path><text x="128.2" y="1995.6" text-anchor="end">6</text><path d="M133.2 1969.5h-3" stroke-width="0.8"></path><text x="128.2" y="1972.5" text-anchor="end">7</text></g><text x="268.9" y="1958.5" text-anchor="middle" font-size="10.2" fill="#222" lengthAdjust="spacingAndGlyphs" textLength="47">π<tspan font-size="7" dy="2">2</tspan><tspan dy="-2"> &gt; </tspan><tspan font-size="6" dy="2">SD</tspan><tspan dy="-2">π</tspan><tspan font-size="7" dy="2">1</tspan></text><text x="268.9" y="2192.2" text-anchor="middle" font-size="11.5" font-style="italic" fill="#222">z<tspan font-size="8" dy="2" font-style="normal">0</tspan></text><text transform="translate(111.2 2068.1) rotate(-90)" text-anchor="middle" font-size="11.5" font-style="italic" fill="#222">z<tspan font-size="8" dy="2" font-style="normal">1</tspan></text><rect x="139" y="1968" width="51" height="35" rx="2" fill="#fff" fill-opacity="0.8" stroke="#ccc" stroke-width="0.8"></rect><circle cx="154" cy="1978" r="2.9" fill="#1f77b4" fill-opacity="0.55"></circle><circle cx="154" cy="1994" r="2.9" fill="#ff7f0e" fill-opacity="0.55"></circle><text x="173" y="1981.5" font-size="11" font-style="italic" fill="#222">π<tspan font-size="7.5" dy="2" font-style="normal">1</tspan></text><text x="173" y="1997.5" font-size="11" font-style="italic" fill="#222">π<tspan font-size="7.5" dy="2" font-style="normal">2</tspan></text></svg>
<svg class="a" style="left:0;top:0" width="3456" height="2304" viewBox="0 0 3456 2304"><rect x="496.3" y="1963" width="271.4" height="202.2" fill="#fff" stroke="#222" stroke-width="0.8"></rect><g fill="#1f77b4" fill-opacity="0.5"><circle cx="620.6" cy="2060.8" r="2.9"></circle><circle cx="622.9" cy="2098.8" r="2.9"></circle><circle cx="596.3" cy="2077.8" r="2.9"></circle><circle cx="621.8" cy="2086.2" r="2.9"></circle><circle cx="601.4" cy="2050.5" r="2.9"></circle><circle cx="613.7" cy="2040.1" r="2.9"></circle><circle cx="618.6" cy="2047.1" r="2.9"></circle><circle cx="618.9" cy="2104.7" r="2.9"></circle><circle cx="632.8" cy="2084.7" r="2.9"></circle><circle cx="615.3" cy="2036.3" r="2.9"></circle><circle cx="615.4" cy="2098.3" r="2.9"></circle><circle cx="600.7" cy="2056.8" r="2.9"></circle><circle cx="619.4" cy="1981.8" r="2.9"></circle><circle cx="601.8" cy="2001.1" r="2.9"></circle><circle cx="598.9" cy="2003.1" r="2.9"></circle><circle cx="621.1" cy="2086.3" r="2.9"></circle><circle cx="587.3" cy="2060.9" r="2.9"></circle><circle cx="624.5" cy="2102.8" r="2.9"></circle><circle cx="625.4" cy="1986.7" r="2.9"></circle><circle cx="624.1" cy="2072.6" r="2.9"></circle><circle cx="620.7" cy="2104.2" r="2.9"></circle><circle cx="614.7" cy="2111.6" r="2.9"></circle><circle cx="624.1" cy="2067.4" r="2.9"></circle><circle cx="628.8" cy="2073.6" r="2.9"></circle><circle cx="624.5" cy="2069.8" r="2.9"></circle><circle cx="593.3" cy="2034.0" r="2.9"></circle><circle cx="615.2" cy="2061.2" r="2.9"></circle><circle cx="616.9" cy="2090.9" r="2.9"></circle><circle cx="621.3" cy="2115.5" r="2.9"></circle><circle cx="618.3" cy="2044.1" r="2.9"></circle><circle cx="618.9" cy="1972.6" r="2.9"></circle><circle cx="606.2" cy="2060.2" r="2.9"></circle><circle cx="603.6" cy="2051.8" r="2.9"></circle><circle cx="607.2" cy="2016.4" r="2.9"></circle><circle cx="638.0" cy="2056.8" r="2.9"></circle><circle cx="617.6" cy="2020.3" r="2.9"></circle><circle cx="614.1" cy="2012.4" r="2.9"></circle><circle cx="615.0" cy="2033.7" r="2.9"></circle><circle cx="619.8" cy="2095.5" r="2.9"></circle><circle cx="610.7" cy="2028.6" r="2.9"></circle><circle cx="608.6" cy="2102.5" r="2.9"></circle><circle cx="607.7" cy="2149.1" r="2.9"></circle><circle cx="638.4" cy="2101.7" r="2.9"></circle><circle cx="596.8" cy="2083.1" r="2.9"></circle><circle cx="612.7" cy="2030.9" r="2.9"></circle><circle cx="617.0" cy="2060.8" r="2.9"></circle><circle cx="610.4" cy="2055.0" r="2.9"></circle><circle cx="620.9" cy="2027.9" r="2.9"></circle><circle cx="612.8" cy="2080.6" r="2.9"></circle><circle cx="618.0" cy="2096.9" r="2.9"></circle><circle cx="622.4" cy="2035.8" r="2.9"></circle><circle cx="613.3" cy="2040.3" r="2.9"></circle><circle cx="612.4" cy="2005.2" r="2.9"></circle><circle cx="610.9" cy="2061.5" r="2.9"></circle><circle cx="612.0" cy="2059.6" r="2.9"></circle><circle cx="619.7" cy="1988.7" r="2.9"></circle><circle cx="609.7" cy="2123.8" r="2.9"></circle><circle cx="625.0" cy="2114.1" r="2.9"></circle><circle cx="609.5" cy="2012.6" r="2.9"></circle><circle cx="612.3" cy="2040.3" r="2.9"></circle><circle cx="635.0" cy="2047.8" r="2.9"></circle><circle cx="600.4" cy="2075.3" r="2.9"></circle><circle cx="620.8" cy="2036.5" r="2.9"></circle><circle cx="626.7" cy="2038.1" r="2.9"></circle><circle cx="591.8" cy="2087.4" r="2.9"></circle><circle cx="610.0" cy="2024.8" r="2.9"></circle><circle cx="601.1" cy="2106.5" r="2.9"></circle><circle cx="616.9" cy="2021.6" r="2.9"></circle><circle cx="624.7" cy="2051.6" r="2.9"></circle><circle cx="601.7" cy="2087.2" r="2.9"></circle><circle cx="601.9" cy="2093.6" r="2.9"></circle><circle cx="604.4" cy="2073.2" r="2.9"></circle><circle cx="609.2" cy="2061.2" r="2.9"></circle><circle cx="622.3" cy="2065.5" r="2.9"></circle><circle cx="632.9" cy="2011.7" r="2.9"></circle><circle cx="617.2" cy="2058.4" r="2.9"></circle><circle cx="626.5" cy="2081.1" r="2.9"></circle><circle cx="607.8" cy="2006.9" r="2.9"></circle><circle cx="610.9" cy="2034.8" r="2.9"></circle><circle cx="616.9" cy="2068.8" r="2.9"></circle><circle cx="625.2" cy="2077.2" r="2.9"></circle><circle cx="606.7" cy="2117.0" r="2.9"></circle><circle cx="602.6" cy="2066.9" r="2.9"></circle><circle cx="597.1" cy="2049.5" r="2.9"></circle><circle cx="598.0" cy="2060.6" r="2.9"></circle><circle cx="620.7" cy="2067.9" r="2.9"></circle><circle cx="627.3" cy="1982.5" r="2.9"></circle><circle cx="615.6" cy="2003.8" r="2.9"></circle><circle cx="612.0" cy="1985.7" r="2.9"></circle><circle cx="599.8" cy="2071.8" r="2.9"></circle><circle cx="627.1" cy="2054.5" r="2.9"></circle><circle cx="610.5" cy="2085.7" r="2.9"></circle><circle cx="610.9" cy="2079.5" r="2.9"></circle><circle cx="599.0" cy="2084.1" r="2.9"></circle><circle cx="591.8" cy="2012.4" r="2.9"></circle><circle cx="618.8" cy="2096.3" r="2.9"></circle><circle cx="612.3" cy="2025.8" r="2.9"></circle><circle cx="615.3" cy="2072.9" r="2.9"></circle><circle cx="625.0" cy="2072.1" r="2.9"></circle><circle cx="603.3" cy="2080.2" r="2.9"></circle><circle cx="615.9" cy="2079.8" r="2.9"></circle><circle cx="633.4" cy="2017.9" r="2.9"></circle><circle cx="597.7" cy="2077.1" r="2.9"></circle><circle cx="639.6" cy="2112.9" r="2.9"></circle><circle cx="620.1" cy="2077.3" r="2.9"></circle><circle cx="606.8" cy="1992.9" r="2.9"></circle><circle cx="608.0" cy="2069.7" r="2.9"></circle><circle cx="624.1" cy="2102.5" r="2.9"></circle><circle cx="592.9" cy="2023.9" r="2.9"></circle><circle cx="612.0" cy="2026.9" r="2.9"></circle><circle cx="617.1" cy="2055.9" r="2.9"></circle><circle cx="611.1" cy="2110.1" r="2.9"></circle><circle cx="637.1" cy="2098.6" r="2.9"></circle><circle cx="615.8" cy="1983.1" r="2.9"></circle><circle cx="628.3" cy="2105.5" r="2.9"></circle><circle cx="635.1" cy="2069.5" r="2.9"></circle><circle cx="634.3" cy="1991.0" r="2.9"></circle><circle cx="603.1" cy="2077.0" r="2.9"></circle><circle cx="613.6" cy="2086.7" r="2.9"></circle><circle cx="628.7" cy="2096.2" r="2.9"></circle><circle cx="614.4" cy="2038.7" r="2.9"></circle><circle cx="622.3" cy="2077.2" r="2.9"></circle><circle cx="592.3" cy="2012.5" r="2.9"></circle><circle cx="611.3" cy="2054.1" r="2.9"></circle><circle cx="610.8" cy="2089.7" r="2.9"></circle><circle cx="636.6" cy="2057.7" r="2.9"></circle><circle cx="609.8" cy="2060.5" r="2.9"></circle><circle cx="623.8" cy="2107.2" r="2.9"></circle><circle cx="613.4" cy="2089.9" r="2.9"></circle><circle cx="615.4" cy="2036.7" r="2.9"></circle><circle cx="612.8" cy="2076.6" r="2.9"></circle><circle cx="614.5" cy="2029.9" r="2.9"></circle><circle cx="619.7" cy="2053.8" r="2.9"></circle><circle cx="618.6" cy="2074.8" r="2.9"></circle><circle cx="628.0" cy="2072.7" r="2.9"></circle><circle cx="594.6" cy="2044.4" r="2.9"></circle><circle cx="627.7" cy="2070.1" r="2.9"></circle><circle cx="609.8" cy="2070.3" r="2.9"></circle><circle cx="602.1" cy="2026.5" r="2.9"></circle><circle cx="621.7" cy="2060.2" r="2.9"></circle><circle cx="602.7" cy="2031.6" r="2.9"></circle><circle cx="632.2" cy="2107.9" r="2.9"></circle><circle cx="613.7" cy="2090.9" r="2.9"></circle><circle cx="609.3" cy="1974.2" r="2.9"></circle><circle cx="647.3" cy="2142.7" r="2.9"></circle><circle cx="619.0" cy="2025.8" r="2.9"></circle><circle cx="614.9" cy="2010.0" r="2.9"></circle><circle cx="622.1" cy="2072.6" r="2.9"></circle><circle cx="629.7" cy="2030.4" r="2.9"></circle><circle cx="609.0" cy="2019.2" r="2.9"></circle><circle cx="637.4" cy="2065.5" r="2.9"></circle><circle cx="615.9" cy="2040.5" r="2.9"></circle><circle cx="631.1" cy="2013.6" r="2.9"></circle><circle cx="608.4" cy="2015.7" r="2.9"></circle><circle cx="623.5" cy="2076.6" r="2.9"></circle><circle cx="600.8" cy="2019.2" r="2.9"></circle><circle cx="612.1" cy="2079.1" r="2.9"></circle><circle cx="602.1" cy="2026.0" r="2.9"></circle><circle cx="640.8" cy="2040.1" r="2.9"></circle><circle cx="623.6" cy="2039.7" r="2.9"></circle><circle cx="620.3" cy="2068.9" r="2.9"></circle><circle cx="614.0" cy="2100.8" r="2.9"></circle><circle cx="603.3" cy="2061.0" r="2.9"></circle><circle cx="620.1" cy="2025.8" r="2.9"></circle><circle cx="624.1" cy="2130.0" r="2.9"></circle><circle cx="621.7" cy="2096.0" r="2.9"></circle><circle cx="610.7" cy="2091.5" r="2.9"></circle><circle cx="637.5" cy="2047.1" r="2.9"></circle><circle cx="610.8" cy="2117.2" r="2.9"></circle><circle cx="627.6" cy="2074.7" r="2.9"></circle><circle cx="619.7" cy="2071.2" r="2.9"></circle><circle cx="623.8" cy="2013.8" r="2.9"></circle><circle cx="609.8" cy="2077.4" r="2.9"></circle><circle cx="616.7" cy="2071.9" r="2.9"></circle><circle cx="614.3" cy="2093.4" r="2.9"></circle><circle cx="609.4" cy="2041.3" r="2.9"></circle><circle cx="618.2" cy="2079.6" r="2.9"></circle><circle cx="599.3" cy="2033.2" r="2.9"></circle><circle cx="629.8" cy="2098.1" r="2.9"></circle><circle cx="602.0" cy="2063.2" r="2.9"></circle><circle cx="633.3" cy="2058.0" r="2.9"></circle><circle cx="603.7" cy="2084.8" r="2.9"></circle><circle cx="633.4" cy="2071.5" r="2.9"></circle><circle cx="621.0" cy="2086.3" r="2.9"></circle><circle cx="622.0" cy="2026.0" r="2.9"></circle><circle cx="622.4" cy="2074.9" r="2.9"></circle><circle cx="624.2" cy="2056.5" r="2.9"></circle><circle cx="616.4" cy="2048.3" r="2.9"></circle><circle cx="622.3" cy="2125.5" r="2.9"></circle><circle cx="590.6" cy="2066.7" r="2.9"></circle><circle cx="618.2" cy="2064.2" r="2.9"></circle><circle cx="586.4" cy="2066.9" r="2.9"></circle><circle cx="603.6" cy="2088.9" r="2.9"></circle><circle cx="588.0" cy="2074.1" r="2.9"></circle><circle cx="621.0" cy="2052.3" r="2.9"></circle><circle cx="614.2" cy="2041.7" r="2.9"></circle><circle cx="626.5" cy="2066.2" r="2.9"></circle><circle cx="609.9" cy="2046.1" r="2.9"></circle><circle cx="622.9" cy="2051.7" r="2.9"></circle><circle cx="620.3" cy="2019.0" r="2.9"></circle><circle cx="609.1" cy="2090.8" r="2.9"></circle><circle cx="618.4" cy="2054.4" r="2.9"></circle><circle cx="593.0" cy="2025.5" r="2.9"></circle><circle cx="601.5" cy="2088.2" r="2.9"></circle><circle cx="623.8" cy="2023.2" r="2.9"></circle><circle cx="624.3" cy="2050.2" r="2.9"></circle><circle cx="621.0" cy="2082.7" r="2.9"></circle><circle cx="616.0" cy="2059.9" r="2.9"></circle><circle cx="626.0" cy="2066.6" r="2.9"></circle><circle cx="598.4" cy="2023.7" r="2.9"></circle><circle cx="615.9" cy="2081.1" r="2.9"></circle><circle cx="596.3" cy="2041.4" r="2.9"></circle><circle cx="611.3" cy="2095.5" r="2.9"></circle><circle cx="604.8" cy="1999.1" r="2.9"></circle><circle cx="614.5" cy="2076.4" r="2.9"></circle><circle cx="616.7" cy="2066.0" r="2.9"></circle><circle cx="612.7" cy="2063.4" r="2.9"></circle><circle cx="618.0" cy="2052.1" r="2.9"></circle><circle cx="619.5" cy="2048.7" r="2.9"></circle><circle cx="616.9" cy="2104.4" r="2.9"></circle><circle cx="623.9" cy="2056.8" r="2.9"></circle><circle cx="632.8" cy="2037.4" r="2.9"></circle><circle cx="613.4" cy="2091.0" r="2.9"></circle><circle cx="607.6" cy="2054.5" r="2.9"></circle><circle cx="610.6" cy="2071.9" r="2.9"></circle><circle cx="641.2" cy="2079.4" r="2.9"></circle><circle cx="632.0" cy="2064.9" r="2.9"></circle><circle cx="618.2" cy="2092.9" r="2.9"></circle><circle cx="618.9" cy="2084.8" r="2.9"></circle><circle cx="637.5" cy="2001.9" r="2.9"></circle><circle cx="620.3" cy="2032.5" r="2.9"></circle><circle cx="619.6" cy="2061.5" r="2.9"></circle><circle cx="596.3" cy="2012.2" r="2.9"></circle><circle cx="603.9" cy="2072.6" r="2.9"></circle><circle cx="600.8" cy="2025.3" r="2.9"></circle><circle cx="601.8" cy="2031.4" r="2.9"></circle><circle cx="632.4" cy="2100.2" r="2.9"></circle><circle cx="604.8" cy="2024.8" r="2.9"></circle><circle cx="604.3" cy="2124.0" r="2.9"></circle><circle cx="614.8" cy="2040.3" r="2.9"></circle><circle cx="621.3" cy="2095.4" r="2.9"></circle><circle cx="602.1" cy="2012.2" r="2.9"></circle><circle cx="605.8" cy="2064.5" r="2.9"></circle><circle cx="616.4" cy="2022.3" r="2.9"></circle><circle cx="596.1" cy="2085.1" r="2.9"></circle><circle cx="611.8" cy="2036.6" r="2.9"></circle><circle cx="613.0" cy="2056.8" r="2.9"></circle><circle cx="595.0" cy="2047.2" r="2.9"></circle><circle cx="618.9" cy="2091.1" r="2.9"></circle><circle cx="618.7" cy="1996.6" r="2.9"></circle><circle cx="607.7" cy="2064.4" r="2.9"></circle><circle cx="612.5" cy="2085.9" r="2.9"></circle><circle cx="616.5" cy="2090.2" r="2.9"></circle><circle cx="638.0" cy="2061.4" r="2.9"></circle><circle cx="627.8" cy="2065.0" r="2.9"></circle><circle cx="626.1" cy="2076.8" r="2.9"></circle><circle cx="608.5" cy="1973.7" r="2.9"></circle><circle cx="627.5" cy="2103.0" r="2.9"></circle><circle cx="612.2" cy="2059.1" r="2.9"></circle><circle cx="618.6" cy="2045.0" r="2.9"></circle><circle cx="620.1" cy="2016.4" r="2.9"></circle><circle cx="602.5" cy="2081.5" r="2.9"></circle><circle cx="602.8" cy="2123.1" r="2.9"></circle><circle cx="598.7" cy="2021.1" r="2.9"></circle><circle cx="629.5" cy="2059.1" r="2.9"></circle><circle cx="632.9" cy="2039.9" r="2.9"></circle><circle cx="633.4" cy="2034.5" r="2.9"></circle><circle cx="605.7" cy="2081.8" r="2.9"></circle><circle cx="619.2" cy="1990.7" r="2.9"></circle><circle cx="608.7" cy="2057.9" r="2.9"></circle><circle cx="620.9" cy="2003.4" r="2.9"></circle><circle cx="607.8" cy="2043.1" r="2.9"></circle><circle cx="610.3" cy="2058.1" r="2.9"></circle><circle cx="618.9" cy="2064.8" r="2.9"></circle><circle cx="605.5" cy="2079.6" r="2.9"></circle><circle cx="603.5" cy="2032.9" r="2.9"></circle><circle cx="632.9" cy="2011.0" r="2.9"></circle><circle cx="633.8" cy="2111.5" r="2.9"></circle><circle cx="630.4" cy="2091.0" r="2.9"></circle><circle cx="624.0" cy="2082.2" r="2.9"></circle><circle cx="622.5" cy="2099.1" r="2.9"></circle><circle cx="633.5" cy="2058.4" r="2.9"></circle><circle cx="604.9" cy="2034.1" r="2.9"></circle><circle cx="607.4" cy="2049.8" r="2.9"></circle><circle cx="633.0" cy="2054.6" r="2.9"></circle><circle cx="617.2" cy="2004.5" r="2.9"></circle><circle cx="616.2" cy="2090.4" r="2.9"></circle><circle cx="613.8" cy="1986.0" r="2.9"></circle><circle cx="599.2" cy="2113.5" r="2.9"></circle><circle cx="627.8" cy="2104.1" r="2.9"></circle><circle cx="606.6" cy="2073.4" r="2.9"></circle><circle cx="626.4" cy="2048.4" r="2.9"></circle><circle cx="606.0" cy="2066.6" r="2.9"></circle><circle cx="624.7" cy="2053.5" r="2.9"></circle><circle cx="599.0" cy="2120.9" r="2.9"></circle><circle cx="620.2" cy="1989.3" r="2.9"></circle><circle cx="599.1" cy="2048.2" r="2.9"></circle><circle cx="612.2" cy="2096.8" r="2.9"></circle><circle cx="616.2" cy="2016.2" r="2.9"></circle><circle cx="633.0" cy="2119.9" r="2.9"></circle><circle cx="625.3" cy="2004.2" r="2.9"></circle><circle cx="607.7" cy="2101.1" r="2.9"></circle><circle cx="616.6" cy="2071.2" r="2.9"></circle><circle cx="599.5" cy="1996.7" r="2.9"></circle><circle cx="614.9" cy="2087.3" r="2.9"></circle><circle cx="609.1" cy="2082.3" r="2.9"></circle><circle cx="615.4" cy="2115.5" r="2.9"></circle><circle cx="616.9" cy="2073.9" r="2.9"></circle><circle cx="611.8" cy="2028.9" r="2.9"></circle><circle cx="618.0" cy="2066.8" r="2.9"></circle><circle cx="617.2" cy="2078.6" r="2.9"></circle><circle cx="604.9" cy="2125.3" r="2.9"></circle><circle cx="617.1" cy="2043.9" r="2.9"></circle><circle cx="599.4" cy="2032.8" r="2.9"></circle><circle cx="613.9" cy="2081.7" r="2.9"></circle><circle cx="612.2" cy="2066.0" r="2.9"></circle><circle cx="609.5" cy="2011.4" r="2.9"></circle><circle cx="620.7" cy="2074.1" r="2.9"></circle><circle cx="616.3" cy="2045.6" r="2.9"></circle><circle cx="621.3" cy="2002.8" r="2.9"></circle><circle cx="603.6" cy="2071.0" r="2.9"></circle><circle cx="607.6" cy="2018.6" r="2.9"></circle><circle cx="608.7" cy="2048.6" r="2.9"></circle><circle cx="623.1" cy="1986.8" r="2.9"></circle><circle cx="618.1" cy="2125.9" r="2.9"></circle><circle cx="608.2" cy="2112.4" r="2.9"></circle><circle cx="599.8" cy="2033.8" r="2.9"></circle><circle cx="613.8" cy="2051.0" r="2.9"></circle><circle cx="603.5" cy="2035.8" r="2.9"></circle><circle cx="610.5" cy="2040.7" r="2.9"></circle><circle cx="615.1" cy="2026.0" r="2.9"></circle><circle cx="630.1" cy="2039.5" r="2.9"></circle><circle cx="614.2" cy="2023.8" r="2.9"></circle><circle cx="614.6" cy="2037.8" r="2.9"></circle><circle cx="633.3" cy="2048.0" r="2.9"></circle><circle cx="600.9" cy="2094.2" r="2.9"></circle><circle cx="608.0" cy="2046.2" r="2.9"></circle><circle cx="624.4" cy="2019.2" r="2.9"></circle><circle cx="614.3" cy="2041.0" r="2.9"></circle><circle cx="604.3" cy="2080.2" r="2.9"></circle><circle cx="614.1" cy="2083.4" r="2.9"></circle><circle cx="626.2" cy="2097.9" r="2.9"></circle><circle cx="599.4" cy="2040.7" r="2.9"></circle><circle cx="627.2" cy="2160.6" r="2.9"></circle><circle cx="581.1" cy="2107.2" r="2.9"></circle><circle cx="616.9" cy="2123.2" r="2.9"></circle><circle cx="625.3" cy="2014.6" r="2.9"></circle><circle cx="635.2" cy="2010.2" r="2.9"></circle><circle cx="603.6" cy="1995.7" r="2.9"></circle><circle cx="607.5" cy="2069.7" r="2.9"></circle><circle cx="610.7" cy="2060.6" r="2.9"></circle><circle cx="635.9" cy="2053.1" r="2.9"></circle><circle cx="623.4" cy="2088.1" r="2.9"></circle><circle cx="599.8" cy="2097.6" r="2.9"></circle><circle cx="613.2" cy="2026.0" r="2.9"></circle><circle cx="631.5" cy="2060.0" r="2.9"></circle><circle cx="615.7" cy="2110.5" r="2.9"></circle><circle cx="602.9" cy="2009.7" r="2.9"></circle><circle cx="625.5" cy="2053.2" r="2.9"></circle><circle cx="622.6" cy="2029.0" r="2.9"></circle><circle cx="620.4" cy="2027.3" r="2.9"></circle><circle cx="619.3" cy="2034.0" r="2.9"></circle><circle cx="616.1" cy="2094.9" r="2.9"></circle><circle cx="628.0" cy="2066.4" r="2.9"></circle><circle cx="620.8" cy="2044.0" r="2.9"></circle><circle cx="622.5" cy="2055.5" r="2.9"></circle><circle cx="618.1" cy="2081.8" r="2.9"></circle><circle cx="610.9" cy="2086.8" r="2.9"></circle><circle cx="640.6" cy="2102.3" r="2.9"></circle><circle cx="603.9" cy="2040.3" r="2.9"></circle><circle cx="618.9" cy="2075.5" r="2.9"></circle><circle cx="623.5" cy="2078.1" r="2.9"></circle><circle cx="628.2" cy="2046.2" r="2.9"></circle><circle cx="626.5" cy="2053.7" r="2.9"></circle><circle cx="606.4" cy="2082.4" r="2.9"></circle><circle cx="620.4" cy="2103.0" r="2.9"></circle><circle cx="595.3" cy="2056.3" r="2.9"></circle><circle cx="614.6" cy="2082.5" r="2.9"></circle><circle cx="610.6" cy="2105.2" r="2.9"></circle><circle cx="608.3" cy="2066.0" r="2.9"></circle><circle cx="628.1" cy="2120.8" r="2.9"></circle><circle cx="618.9" cy="2053.4" r="2.9"></circle><circle cx="616.9" cy="2083.1" r="2.9"></circle><circle cx="613.5" cy="2086.7" r="2.9"></circle><circle cx="621.6" cy="2057.4" r="2.9"></circle><circle cx="606.0" cy="2083.4" r="2.9"></circle><circle cx="598.9" cy="2017.4" r="2.9"></circle><circle cx="613.6" cy="2055.3" r="2.9"></circle><circle cx="609.9" cy="2037.7" r="2.9"></circle><circle cx="616.2" cy="2099.4" r="2.9"></circle><circle cx="602.7" cy="2111.0" r="2.9"></circle><circle cx="616.2" cy="2063.3" r="2.9"></circle><circle cx="629.4" cy="2114.9" r="2.9"></circle><circle cx="629.1" cy="2063.9" r="2.9"></circle><circle cx="615.5" cy="2022.7" r="2.9"></circle><circle cx="598.5" cy="2076.9" r="2.9"></circle><circle cx="632.6" cy="2026.5" r="2.9"></circle><circle cx="615.5" cy="2056.4" r="2.9"></circle><circle cx="603.2" cy="2094.8" r="2.9"></circle><circle cx="628.9" cy="2066.2" r="2.9"></circle><circle cx="625.0" cy="2072.1" r="2.9"></circle><circle cx="613.6" cy="2047.9" r="2.9"></circle><circle cx="610.6" cy="2092.1" r="2.9"></circle><circle cx="624.8" cy="2105.1" r="2.9"></circle><circle cx="603.8" cy="2044.0" r="2.9"></circle><circle cx="599.9" cy="2086.3" r="2.9"></circle><circle cx="621.9" cy="2056.4" r="2.9"></circle><circle cx="610.0" cy="2093.9" r="2.9"></circle><circle cx="596.0" cy="2048.2" r="2.9"></circle><circle cx="633.1" cy="2053.3" r="2.9"></circle><circle cx="613.6" cy="2003.3" r="2.9"></circle><circle cx="623.7" cy="2063.3" r="2.9"></circle><circle cx="632.1" cy="2037.4" r="2.9"></circle><circle cx="619.2" cy="2052.0" r="2.9"></circle><circle cx="634.8" cy="2048.9" r="2.9"></circle><circle cx="630.4" cy="2093.8" r="2.9"></circle><circle cx="619.3" cy="2050.5" r="2.9"></circle><circle cx="615.7" cy="2088.2" r="2.9"></circle><circle cx="586.5" cy="2090.2" r="2.9"></circle><circle cx="600.8" cy="2049.8" r="2.9"></circle><circle cx="601.2" cy="2056.4" r="2.9"></circle><circle cx="611.6" cy="2071.4" r="2.9"></circle><circle cx="616.3" cy="2119.9" r="2.9"></circle><circle cx="588.8" cy="2079.6" r="2.9"></circle><circle cx="621.7" cy="1993.6" r="2.9"></circle><circle cx="616.5" cy="2045.5" r="2.9"></circle><circle cx="610.6" cy="2028.3" r="2.9"></circle><circle cx="627.0" cy="2032.5" r="2.9"></circle><circle cx="616.7" cy="2076.0" r="2.9"></circle><circle cx="599.3" cy="2052.8" r="2.9"></circle><circle cx="615.4" cy="2045.5" r="2.9"></circle><circle cx="618.0" cy="2014.6" r="2.9"></circle><circle cx="617.5" cy="2089.6" r="2.9"></circle><circle cx="589.1" cy="2077.1" r="2.9"></circle><circle cx="601.1" cy="2066.7" r="2.9"></circle><circle cx="619.3" cy="2014.4" r="2.9"></circle><circle cx="619.7" cy="2028.7" r="2.9"></circle><circle cx="623.5" cy="2067.2" r="2.9"></circle><circle cx="624.6" cy="2114.7" r="2.9"></circle><circle cx="592.9" cy="2064.9" r="2.9"></circle><circle cx="622.3" cy="2066.1" r="2.9"></circle><circle cx="631.2" cy="2077.3" r="2.9"></circle><circle cx="608.6" cy="2014.6" r="2.9"></circle><circle cx="613.0" cy="2087.4" r="2.9"></circle><circle cx="623.7" cy="2077.1" r="2.9"></circle><circle cx="623.0" cy="2021.3" r="2.9"></circle><circle cx="615.0" cy="2035.8" r="2.9"></circle><circle cx="607.7" cy="2064.7" r="2.9"></circle><circle cx="626.1" cy="1976.8" r="2.9"></circle><circle cx="608.0" cy="2038.8" r="2.9"></circle><circle cx="606.9" cy="2114.2" r="2.9"></circle><circle cx="611.4" cy="2075.6" r="2.9"></circle><circle cx="611.1" cy="2037.4" r="2.9"></circle><circle cx="621.2" cy="2037.5" r="2.9"></circle><circle cx="614.3" cy="2035.7" r="2.9"></circle><circle cx="617.3" cy="2032.4" r="2.9"></circle><circle cx="613.7" cy="2053.3" r="2.9"></circle><circle cx="618.1" cy="2064.7" r="2.9"></circle><circle cx="607.4" cy="2036.0" r="2.9"></circle><circle cx="616.1" cy="2070.9" r="2.9"></circle><circle cx="615.7" cy="2020.4" r="2.9"></circle><circle cx="626.1" cy="2037.3" r="2.9"></circle><circle cx="633.5" cy="2059.1" r="2.9"></circle><circle cx="600.0" cy="2094.7" r="2.9"></circle><circle cx="606.0" cy="2100.9" r="2.9"></circle><circle cx="612.3" cy="2081.3" r="2.9"></circle><circle cx="610.0" cy="2047.7" r="2.9"></circle><circle cx="622.0" cy="2080.0" r="2.9"></circle><circle cx="617.9" cy="2067.1" r="2.9"></circle><circle cx="600.5" cy="2076.0" r="2.9"></circle><circle cx="613.9" cy="2063.0" r="2.9"></circle><circle cx="615.2" cy="2047.9" r="2.9"></circle><circle cx="632.1" cy="2090.7" r="2.9"></circle><circle cx="593.5" cy="2105.6" r="2.9"></circle><circle cx="608.8" cy="2085.3" r="2.9"></circle><circle cx="608.2" cy="2044.3" r="2.9"></circle><circle cx="617.5" cy="2062.4" r="2.9"></circle></g><g fill="#ff7f0e" fill-opacity="0.5"><circle cx="660.7" cy="2070.6" r="2.9"></circle><circle cx="640.5" cy="2066.6" r="2.9"></circle><circle cx="679.3" cy="2061.9" r="2.9"></circle><circle cx="598.9" cy="2048.9" r="2.9"></circle><circle cx="628.3" cy="2055.2" r="2.9"></circle><circle cx="660.9" cy="2059.2" r="2.9"></circle><circle cx="602.3" cy="2043.9" r="2.9"></circle><circle cx="605.1" cy="2052.3" r="2.9"></circle><circle cx="574.9" cy="2054.4" r="2.9"></circle><circle cx="615.5" cy="2050.3" r="2.9"></circle><circle cx="729.2" cy="2073.7" r="2.9"></circle><circle cx="586.1" cy="2057.5" r="2.9"></circle><circle cx="636.0" cy="2069.0" r="2.9"></circle><circle cx="627.6" cy="2062.6" r="2.9"></circle><circle cx="632.8" cy="2063.7" r="2.9"></circle><circle cx="754.6" cy="2052.0" r="2.9"></circle><circle cx="661.5" cy="2077.9" r="2.9"></circle><circle cx="593.4" cy="2055.8" r="2.9"></circle><circle cx="706.0" cy="2062.7" r="2.9"></circle><circle cx="646.6" cy="2063.3" r="2.9"></circle><circle cx="624.0" cy="2073.6" r="2.9"></circle><circle cx="544.1" cy="2062.0" r="2.9"></circle><circle cx="667.2" cy="2045.5" r="2.9"></circle><circle cx="621.1" cy="2067.2" r="2.9"></circle><circle cx="680.1" cy="2057.8" r="2.9"></circle><circle cx="588.7" cy="2058.1" r="2.9"></circle><circle cx="618.1" cy="2036.7" r="2.9"></circle><circle cx="628.7" cy="2059.6" r="2.9"></circle><circle cx="609.4" cy="2070.1" r="2.9"></circle><circle cx="685.5" cy="2064.0" r="2.9"></circle><circle cx="635.0" cy="2064.2" r="2.9"></circle><circle cx="594.1" cy="2076.5" r="2.9"></circle><circle cx="633.2" cy="2031.5" r="2.9"></circle><circle cx="710.8" cy="2049.9" r="2.9"></circle><circle cx="693.6" cy="2062.1" r="2.9"></circle><circle cx="578.5" cy="2042.2" r="2.9"></circle><circle cx="599.8" cy="2032.3" r="2.9"></circle><circle cx="693.0" cy="2065.8" r="2.9"></circle><circle cx="613.6" cy="2057.8" r="2.9"></circle><circle cx="664.4" cy="2058.0" r="2.9"></circle><circle cx="628.5" cy="2069.7" r="2.9"></circle><circle cx="702.8" cy="2045.0" r="2.9"></circle><circle cx="633.3" cy="2070.5" r="2.9"></circle><circle cx="637.2" cy="2023.4" r="2.9"></circle><circle cx="648.5" cy="2041.4" r="2.9"></circle><circle cx="532.6" cy="2057.2" r="2.9"></circle><circle cx="619.3" cy="2043.0" r="2.9"></circle><circle cx="585.4" cy="2045.4" r="2.9"></circle><circle cx="679.0" cy="2053.2" r="2.9"></circle><circle cx="621.9" cy="2049.5" r="2.9"></circle><circle cx="583.1" cy="2070.8" r="2.9"></circle><circle cx="551.9" cy="2052.7" r="2.9"></circle><circle cx="615.6" cy="2055.9" r="2.9"></circle><circle cx="602.9" cy="2055.6" r="2.9"></circle><circle cx="712.3" cy="2057.8" r="2.9"></circle><circle cx="586.4" cy="2067.3" r="2.9"></circle><circle cx="584.0" cy="2049.0" r="2.9"></circle><circle cx="617.1" cy="2058.8" r="2.9"></circle><circle cx="617.4" cy="2069.6" r="2.9"></circle><circle cx="586.0" cy="2059.0" r="2.9"></circle><circle cx="607.7" cy="2052.3" r="2.9"></circle><circle cx="666.5" cy="2061.8" r="2.9"></circle><circle cx="640.4" cy="2051.0" r="2.9"></circle><circle cx="598.8" cy="2049.4" r="2.9"></circle><circle cx="670.1" cy="2071.7" r="2.9"></circle><circle cx="645.0" cy="2050.7" r="2.9"></circle><circle cx="640.5" cy="2070.6" r="2.9"></circle><circle cx="671.6" cy="2056.3" r="2.9"></circle><circle cx="589.7" cy="2071.1" r="2.9"></circle><circle cx="645.3" cy="2056.7" r="2.9"></circle><circle cx="564.4" cy="2038.1" r="2.9"></circle><circle cx="570.7" cy="2048.0" r="2.9"></circle><circle cx="583.0" cy="2056.8" r="2.9"></circle><circle cx="657.0" cy="2057.4" r="2.9"></circle><circle cx="651.9" cy="2054.4" r="2.9"></circle><circle cx="696.2" cy="2046.9" r="2.9"></circle><circle cx="651.3" cy="2061.6" r="2.9"></circle><circle cx="610.9" cy="2052.0" r="2.9"></circle><circle cx="706.9" cy="2038.6" r="2.9"></circle><circle cx="638.6" cy="2041.9" r="2.9"></circle><circle cx="638.0" cy="2051.5" r="2.9"></circle><circle cx="634.4" cy="2056.9" r="2.9"></circle><circle cx="654.7" cy="2021.8" r="2.9"></circle><circle cx="619.2" cy="2041.8" r="2.9"></circle><circle cx="672.5" cy="2053.1" r="2.9"></circle><circle cx="667.2" cy="2058.1" r="2.9"></circle><circle cx="638.8" cy="2038.6" r="2.9"></circle><circle cx="704.0" cy="2053.7" r="2.9"></circle><circle cx="624.8" cy="2067.2" r="2.9"></circle><circle cx="666.3" cy="2059.2" r="2.9"></circle><circle cx="593.4" cy="2051.4" r="2.9"></circle><circle cx="630.2" cy="2068.5" r="2.9"></circle><circle cx="684.7" cy="2071.2" r="2.9"></circle><circle cx="556.3" cy="2044.3" r="2.9"></circle><circle cx="616.1" cy="2071.9" r="2.9"></circle><circle cx="676.0" cy="2045.2" r="2.9"></circle><circle cx="620.2" cy="2055.2" r="2.9"></circle><circle cx="637.1" cy="2046.0" r="2.9"></circle><circle cx="622.6" cy="2065.9" r="2.9"></circle><circle cx="624.0" cy="2059.7" r="2.9"></circle><circle cx="554.5" cy="2059.7" r="2.9"></circle><circle cx="580.3" cy="2053.4" r="2.9"></circle><circle cx="682.2" cy="2049.5" r="2.9"></circle><circle cx="756.0" cy="2049.9" r="2.9"></circle><circle cx="635.2" cy="2063.8" r="2.9"></circle><circle cx="667.5" cy="2050.7" r="2.9"></circle><circle cx="554.2" cy="2061.1" r="2.9"></circle><circle cx="658.0" cy="2059.1" r="2.9"></circle><circle cx="647.7" cy="2052.1" r="2.9"></circle><circle cx="722.4" cy="2069.7" r="2.9"></circle><circle cx="621.4" cy="2068.1" r="2.9"></circle><circle cx="588.5" cy="2034.1" r="2.9"></circle><circle cx="671.5" cy="2048.0" r="2.9"></circle><circle cx="627.0" cy="2053.8" r="2.9"></circle><circle cx="722.3" cy="2064.9" r="2.9"></circle><circle cx="688.5" cy="2042.6" r="2.9"></circle><circle cx="588.6" cy="2051.6" r="2.9"></circle><circle cx="598.2" cy="2053.5" r="2.9"></circle><circle cx="670.6" cy="2050.9" r="2.9"></circle><circle cx="686.8" cy="2046.1" r="2.9"></circle><circle cx="528.8" cy="2045.5" r="2.9"></circle><circle cx="572.6" cy="2084.3" r="2.9"></circle><circle cx="615.2" cy="2059.4" r="2.9"></circle><circle cx="725.2" cy="2043.2" r="2.9"></circle><circle cx="670.0" cy="2053.2" r="2.9"></circle><circle cx="672.4" cy="2060.6" r="2.9"></circle><circle cx="682.1" cy="2058.6" r="2.9"></circle><circle cx="624.0" cy="2050.8" r="2.9"></circle><circle cx="598.8" cy="2023.0" r="2.9"></circle><circle cx="641.0" cy="2058.1" r="2.9"></circle><circle cx="588.6" cy="2060.6" r="2.9"></circle><circle cx="629.1" cy="2048.1" r="2.9"></circle><circle cx="563.5" cy="2058.6" r="2.9"></circle><circle cx="714.3" cy="2050.5" r="2.9"></circle><circle cx="632.1" cy="2057.8" r="2.9"></circle><circle cx="620.9" cy="2052.3" r="2.9"></circle><circle cx="695.0" cy="2039.8" r="2.9"></circle><circle cx="606.7" cy="2062.8" r="2.9"></circle><circle cx="653.8" cy="2059.7" r="2.9"></circle><circle cx="675.8" cy="2042.3" r="2.9"></circle><circle cx="597.3" cy="2075.7" r="2.9"></circle><circle cx="567.8" cy="2055.1" r="2.9"></circle><circle cx="576.2" cy="2050.9" r="2.9"></circle><circle cx="639.3" cy="2053.7" r="2.9"></circle><circle cx="622.9" cy="2061.4" r="2.9"></circle><circle cx="656.7" cy="2074.1" r="2.9"></circle><circle cx="649.4" cy="2030.4" r="2.9"></circle><circle cx="688.5" cy="2054.0" r="2.9"></circle><circle cx="616.9" cy="2050.1" r="2.9"></circle><circle cx="623.6" cy="2037.0" r="2.9"></circle><circle cx="604.2" cy="2056.0" r="2.9"></circle><circle cx="575.8" cy="2048.1" r="2.9"></circle><circle cx="557.8" cy="2045.7" r="2.9"></circle><circle cx="654.5" cy="2067.3" r="2.9"></circle><circle cx="648.2" cy="2056.8" r="2.9"></circle><circle cx="604.9" cy="2068.0" r="2.9"></circle><circle cx="555.8" cy="2069.2" r="2.9"></circle><circle cx="553.2" cy="2053.8" r="2.9"></circle><circle cx="583.4" cy="2032.4" r="2.9"></circle><circle cx="646.0" cy="2042.4" r="2.9"></circle><circle cx="598.3" cy="2038.1" r="2.9"></circle><circle cx="609.5" cy="2044.0" r="2.9"></circle><circle cx="645.3" cy="2046.9" r="2.9"></circle><circle cx="576.9" cy="2063.9" r="2.9"></circle><circle cx="672.2" cy="2049.5" r="2.9"></circle><circle cx="602.9" cy="2048.1" r="2.9"></circle><circle cx="634.1" cy="2060.2" r="2.9"></circle><circle cx="722.4" cy="2077.8" r="2.9"></circle><circle cx="616.7" cy="2045.2" r="2.9"></circle><circle cx="648.6" cy="2033.8" r="2.9"></circle><circle cx="656.4" cy="2048.9" r="2.9"></circle><circle cx="601.1" cy="2037.4" r="2.9"></circle><circle cx="602.6" cy="2057.7" r="2.9"></circle><circle cx="614.1" cy="2047.5" r="2.9"></circle><circle cx="603.2" cy="2054.8" r="2.9"></circle><circle cx="606.6" cy="2072.2" r="2.9"></circle><circle cx="599.1" cy="2032.9" r="2.9"></circle><circle cx="612.0" cy="2052.4" r="2.9"></circle><circle cx="747.1" cy="2062.2" r="2.9"></circle><circle cx="662.0" cy="2041.6" r="2.9"></circle><circle cx="586.7" cy="2038.1" r="2.9"></circle><circle cx="670.8" cy="2066.4" r="2.9"></circle><circle cx="633.3" cy="2066.7" r="2.9"></circle><circle cx="757.2" cy="2032.2" r="2.9"></circle><circle cx="630.8" cy="2061.1" r="2.9"></circle><circle cx="650.3" cy="2065.9" r="2.9"></circle><circle cx="619.0" cy="2065.6" r="2.9"></circle><circle cx="618.2" cy="2049.8" r="2.9"></circle><circle cx="644.7" cy="2046.6" r="2.9"></circle><circle cx="606.9" cy="2045.0" r="2.9"></circle><circle cx="634.1" cy="2050.5" r="2.9"></circle><circle cx="697.9" cy="2053.7" r="2.9"></circle><circle cx="586.2" cy="2047.0" r="2.9"></circle><circle cx="583.1" cy="2053.2" r="2.9"></circle><circle cx="627.6" cy="2075.8" r="2.9"></circle><circle cx="565.0" cy="2063.7" r="2.9"></circle><circle cx="645.4" cy="2044.8" r="2.9"></circle><circle cx="633.1" cy="2030.1" r="2.9"></circle><circle cx="667.0" cy="2070.0" r="2.9"></circle><circle cx="658.7" cy="2064.4" r="2.9"></circle><circle cx="594.2" cy="2057.1" r="2.9"></circle><circle cx="619.0" cy="2050.6" r="2.9"></circle><circle cx="664.4" cy="2042.7" r="2.9"></circle><circle cx="604.5" cy="2053.1" r="2.9"></circle><circle cx="683.3" cy="2065.5" r="2.9"></circle><circle cx="675.5" cy="2046.5" r="2.9"></circle><circle cx="613.8" cy="2041.5" r="2.9"></circle><circle cx="648.8" cy="2046.7" r="2.9"></circle><circle cx="702.5" cy="2055.0" r="2.9"></circle><circle cx="578.9" cy="2058.8" r="2.9"></circle><circle cx="580.7" cy="2043.7" r="2.9"></circle><circle cx="613.2" cy="2058.6" r="2.9"></circle><circle cx="601.1" cy="2042.7" r="2.9"></circle><circle cx="643.5" cy="2046.2" r="2.9"></circle><circle cx="640.2" cy="2061.8" r="2.9"></circle><circle cx="588.2" cy="2041.8" r="2.9"></circle><circle cx="616.7" cy="2047.2" r="2.9"></circle><circle cx="577.9" cy="2057.3" r="2.9"></circle><circle cx="604.0" cy="2063.1" r="2.9"></circle><circle cx="654.9" cy="2045.3" r="2.9"></circle><circle cx="617.6" cy="2032.7" r="2.9"></circle><circle cx="627.9" cy="2070.9" r="2.9"></circle><circle cx="652.7" cy="2067.6" r="2.9"></circle><circle cx="611.9" cy="2051.5" r="2.9"></circle><circle cx="681.3" cy="2048.5" r="2.9"></circle><circle cx="596.6" cy="2041.1" r="2.9"></circle><circle cx="640.7" cy="2041.1" r="2.9"></circle><circle cx="688.6" cy="2054.0" r="2.9"></circle><circle cx="596.8" cy="2047.0" r="2.9"></circle><circle cx="632.7" cy="2055.0" r="2.9"></circle><circle cx="635.8" cy="2063.0" r="2.9"></circle><circle cx="583.3" cy="2059.7" r="2.9"></circle><circle cx="636.3" cy="2057.5" r="2.9"></circle><circle cx="657.7" cy="2046.6" r="2.9"></circle><circle cx="648.6" cy="2064.6" r="2.9"></circle><circle cx="563.0" cy="2064.3" r="2.9"></circle><circle cx="575.8" cy="2045.9" r="2.9"></circle><circle cx="664.6" cy="2071.3" r="2.9"></circle><circle cx="610.0" cy="2055.9" r="2.9"></circle><circle cx="589.0" cy="2057.6" r="2.9"></circle><circle cx="589.8" cy="2058.9" r="2.9"></circle><circle cx="628.1" cy="2050.9" r="2.9"></circle><circle cx="592.0" cy="2047.1" r="2.9"></circle><circle cx="589.9" cy="2058.2" r="2.9"></circle><circle cx="618.9" cy="2064.0" r="2.9"></circle><circle cx="648.8" cy="2061.3" r="2.9"></circle><circle cx="585.9" cy="2037.4" r="2.9"></circle><circle cx="616.0" cy="2058.8" r="2.9"></circle><circle cx="524.3" cy="2056.2" r="2.9"></circle><circle cx="696.9" cy="2058.2" r="2.9"></circle><circle cx="614.0" cy="2046.6" r="2.9"></circle><circle cx="666.8" cy="2042.5" r="2.9"></circle><circle cx="659.4" cy="2056.9" r="2.9"></circle><circle cx="596.7" cy="2048.5" r="2.9"></circle><circle cx="652.5" cy="2049.2" r="2.9"></circle><circle cx="598.8" cy="2059.3" r="2.9"></circle><circle cx="698.3" cy="2058.2" r="2.9"></circle><circle cx="656.8" cy="2054.2" r="2.9"></circle><circle cx="553.1" cy="2048.5" r="2.9"></circle><circle cx="582.0" cy="2037.7" r="2.9"></circle><circle cx="611.7" cy="2060.9" r="2.9"></circle><circle cx="620.0" cy="2054.9" r="2.9"></circle><circle cx="610.0" cy="2058.0" r="2.9"></circle><circle cx="676.4" cy="2052.9" r="2.9"></circle><circle cx="662.2" cy="2053.5" r="2.9"></circle><circle cx="656.2" cy="2061.0" r="2.9"></circle><circle cx="698.2" cy="2063.6" r="2.9"></circle><circle cx="550.7" cy="2068.3" r="2.9"></circle><circle cx="583.7" cy="2057.4" r="2.9"></circle><circle cx="704.7" cy="2067.1" r="2.9"></circle><circle cx="660.0" cy="2064.1" r="2.9"></circle><circle cx="688.8" cy="2048.7" r="2.9"></circle><circle cx="711.3" cy="2057.2" r="2.9"></circle><circle cx="663.8" cy="2045.6" r="2.9"></circle><circle cx="609.2" cy="2055.4" r="2.9"></circle><circle cx="599.9" cy="2062.5" r="2.9"></circle><circle cx="600.6" cy="2066.6" r="2.9"></circle><circle cx="665.4" cy="2055.7" r="2.9"></circle><circle cx="587.3" cy="2054.3" r="2.9"></circle><circle cx="641.1" cy="2058.2" r="2.9"></circle><circle cx="674.5" cy="2057.2" r="2.9"></circle><circle cx="633.8" cy="2032.2" r="2.9"></circle><circle cx="602.6" cy="2054.3" r="2.9"></circle><circle cx="640.4" cy="2067.4" r="2.9"></circle><circle cx="608.5" cy="2046.6" r="2.9"></circle><circle cx="700.4" cy="2061.7" r="2.9"></circle><circle cx="649.0" cy="2057.5" r="2.9"></circle><circle cx="607.8" cy="2067.0" r="2.9"></circle><circle cx="645.6" cy="2076.0" r="2.9"></circle><circle cx="656.6" cy="2052.2" r="2.9"></circle><circle cx="641.4" cy="2056.8" r="2.9"></circle><circle cx="569.4" cy="2070.5" r="2.9"></circle><circle cx="633.1" cy="2049.3" r="2.9"></circle><circle cx="635.4" cy="2064.0" r="2.9"></circle><circle cx="667.7" cy="2030.8" r="2.9"></circle><circle cx="608.9" cy="2064.4" r="2.9"></circle><circle cx="610.7" cy="2036.2" r="2.9"></circle><circle cx="591.8" cy="2059.5" r="2.9"></circle><circle cx="620.9" cy="2057.5" r="2.9"></circle><circle cx="659.2" cy="2059.1" r="2.9"></circle><circle cx="574.1" cy="2052.8" r="2.9"></circle><circle cx="630.2" cy="2033.8" r="2.9"></circle><circle cx="683.9" cy="2035.7" r="2.9"></circle><circle cx="631.9" cy="2049.9" r="2.9"></circle><circle cx="651.7" cy="2054.1" r="2.9"></circle><circle cx="557.3" cy="2048.3" r="2.9"></circle><circle cx="639.3" cy="2037.2" r="2.9"></circle><circle cx="678.8" cy="2059.3" r="2.9"></circle><circle cx="646.1" cy="2065.4" r="2.9"></circle><circle cx="683.4" cy="2056.0" r="2.9"></circle><circle cx="569.9" cy="2076.5" r="2.9"></circle><circle cx="665.3" cy="2048.0" r="2.9"></circle><circle cx="587.7" cy="2030.4" r="2.9"></circle><circle cx="603.0" cy="2037.8" r="2.9"></circle><circle cx="597.3" cy="2051.7" r="2.9"></circle><circle cx="603.8" cy="2032.7" r="2.9"></circle><circle cx="674.2" cy="2051.4" r="2.9"></circle><circle cx="647.2" cy="2052.6" r="2.9"></circle><circle cx="638.7" cy="2068.2" r="2.9"></circle><circle cx="649.7" cy="2039.9" r="2.9"></circle><circle cx="597.9" cy="2067.6" r="2.9"></circle><circle cx="566.0" cy="2064.2" r="2.9"></circle><circle cx="673.9" cy="2049.7" r="2.9"></circle><circle cx="568.7" cy="2039.6" r="2.9"></circle><circle cx="613.3" cy="2047.7" r="2.9"></circle><circle cx="613.7" cy="2065.0" r="2.9"></circle><circle cx="635.7" cy="2058.3" r="2.9"></circle><circle cx="640.1" cy="2053.8" r="2.9"></circle><circle cx="575.6" cy="2049.6" r="2.9"></circle><circle cx="609.5" cy="2049.2" r="2.9"></circle><circle cx="669.7" cy="2049.4" r="2.9"></circle><circle cx="670.8" cy="2036.7" r="2.9"></circle><circle cx="615.2" cy="2060.9" r="2.9"></circle><circle cx="582.0" cy="2043.7" r="2.9"></circle><circle cx="589.1" cy="2047.7" r="2.9"></circle><circle cx="694.2" cy="2063.1" r="2.9"></circle><circle cx="694.8" cy="2064.6" r="2.9"></circle><circle cx="662.7" cy="2054.0" r="2.9"></circle><circle cx="560.1" cy="2054.8" r="2.9"></circle><circle cx="698.7" cy="2056.2" r="2.9"></circle><circle cx="574.0" cy="2044.5" r="2.9"></circle><circle cx="672.4" cy="2065.7" r="2.9"></circle><circle cx="634.9" cy="2067.8" r="2.9"></circle><circle cx="563.5" cy="2047.0" r="2.9"></circle><circle cx="662.7" cy="2038.2" r="2.9"></circle><circle cx="663.8" cy="2056.3" r="2.9"></circle><circle cx="679.8" cy="2063.3" r="2.9"></circle><circle cx="610.3" cy="2053.0" r="2.9"></circle><circle cx="608.6" cy="2056.0" r="2.9"></circle><circle cx="591.5" cy="2044.6" r="2.9"></circle><circle cx="696.2" cy="2042.6" r="2.9"></circle><circle cx="715.5" cy="2044.0" r="2.9"></circle><circle cx="667.4" cy="2067.7" r="2.9"></circle><circle cx="637.9" cy="2069.1" r="2.9"></circle><circle cx="679.2" cy="2051.9" r="2.9"></circle><circle cx="624.7" cy="2058.4" r="2.9"></circle><circle cx="599.1" cy="2055.2" r="2.9"></circle><circle cx="615.5" cy="2050.6" r="2.9"></circle><circle cx="571.4" cy="2058.7" r="2.9"></circle><circle cx="697.3" cy="2074.5" r="2.9"></circle><circle cx="608.7" cy="2067.3" r="2.9"></circle><circle cx="646.5" cy="2046.6" r="2.9"></circle><circle cx="612.1" cy="2061.7" r="2.9"></circle><circle cx="617.4" cy="2044.8" r="2.9"></circle><circle cx="594.3" cy="2057.2" r="2.9"></circle><circle cx="678.2" cy="2065.2" r="2.9"></circle><circle cx="569.9" cy="2047.0" r="2.9"></circle><circle cx="688.0" cy="2046.5" r="2.9"></circle><circle cx="735.0" cy="2064.8" r="2.9"></circle><circle cx="602.1" cy="2050.0" r="2.9"></circle><circle cx="526.2" cy="2059.3" r="2.9"></circle><circle cx="722.4" cy="2041.2" r="2.9"></circle><circle cx="582.2" cy="2031.7" r="2.9"></circle><circle cx="698.1" cy="2051.3" r="2.9"></circle><circle cx="605.3" cy="2046.7" r="2.9"></circle><circle cx="695.2" cy="2052.9" r="2.9"></circle><circle cx="593.9" cy="2048.4" r="2.9"></circle><circle cx="649.6" cy="2069.5" r="2.9"></circle><circle cx="567.4" cy="2064.5" r="2.9"></circle><circle cx="664.0" cy="2066.3" r="2.9"></circle><circle cx="618.7" cy="2051.5" r="2.9"></circle><circle cx="583.8" cy="2064.8" r="2.9"></circle><circle cx="589.7" cy="2057.4" r="2.9"></circle><circle cx="584.4" cy="2035.7" r="2.9"></circle><circle cx="651.0" cy="2043.7" r="2.9"></circle><circle cx="582.0" cy="2064.9" r="2.9"></circle><circle cx="572.4" cy="2064.4" r="2.9"></circle><circle cx="657.1" cy="2042.7" r="2.9"></circle><circle cx="678.0" cy="2045.6" r="2.9"></circle><circle cx="532.9" cy="2059.0" r="2.9"></circle><circle cx="645.3" cy="2046.9" r="2.9"></circle><circle cx="619.8" cy="2050.8" r="2.9"></circle><circle cx="623.7" cy="2056.6" r="2.9"></circle><circle cx="652.8" cy="2063.0" r="2.9"></circle><circle cx="600.6" cy="2051.1" r="2.9"></circle><circle cx="640.7" cy="2053.8" r="2.9"></circle><circle cx="666.1" cy="2059.9" r="2.9"></circle><circle cx="640.0" cy="2042.9" r="2.9"></circle><circle cx="597.0" cy="2058.2" r="2.9"></circle><circle cx="687.0" cy="2057.7" r="2.9"></circle><circle cx="659.3" cy="2063.0" r="2.9"></circle><circle cx="598.7" cy="2067.1" r="2.9"></circle><circle cx="568.1" cy="2042.6" r="2.9"></circle><circle cx="624.3" cy="2061.2" r="2.9"></circle><circle cx="671.0" cy="2052.2" r="2.9"></circle><circle cx="648.7" cy="2053.1" r="2.9"></circle><circle cx="664.8" cy="2068.8" r="2.9"></circle><circle cx="562.5" cy="2058.6" r="2.9"></circle><circle cx="634.0" cy="2054.0" r="2.9"></circle><circle cx="598.5" cy="2049.5" r="2.9"></circle><circle cx="642.4" cy="2055.3" r="2.9"></circle><circle cx="623.2" cy="2041.5" r="2.9"></circle><circle cx="617.1" cy="2067.3" r="2.9"></circle><circle cx="579.3" cy="2044.2" r="2.9"></circle><circle cx="617.2" cy="2051.5" r="2.9"></circle><circle cx="646.2" cy="2054.4" r="2.9"></circle><circle cx="595.9" cy="2055.5" r="2.9"></circle><circle cx="658.5" cy="2063.7" r="2.9"></circle><circle cx="630.3" cy="2053.7" r="2.9"></circle><circle cx="573.3" cy="2057.4" r="2.9"></circle><circle cx="646.7" cy="2053.7" r="2.9"></circle><circle cx="591.6" cy="2041.1" r="2.9"></circle><circle cx="602.1" cy="2045.8" r="2.9"></circle><circle cx="653.9" cy="2053.7" r="2.9"></circle><circle cx="691.6" cy="2029.0" r="2.9"></circle><circle cx="673.3" cy="2048.6" r="2.9"></circle><circle cx="642.2" cy="2052.9" r="2.9"></circle><circle cx="567.1" cy="2045.7" r="2.9"></circle><circle cx="594.2" cy="2078.7" r="2.9"></circle><circle cx="634.5" cy="2057.9" r="2.9"></circle><circle cx="564.1" cy="2045.9" r="2.9"></circle><circle cx="639.5" cy="2042.9" r="2.9"></circle><circle cx="613.4" cy="2057.3" r="2.9"></circle><circle cx="643.8" cy="2044.4" r="2.9"></circle><circle cx="639.1" cy="2036.7" r="2.9"></circle><circle cx="614.9" cy="2057.0" r="2.9"></circle><circle cx="601.1" cy="2062.4" r="2.9"></circle><circle cx="576.5" cy="2068.9" r="2.9"></circle><circle cx="613.3" cy="2049.4" r="2.9"></circle><circle cx="700.8" cy="2054.3" r="2.9"></circle><circle cx="554.9" cy="2045.6" r="2.9"></circle><circle cx="593.5" cy="2046.3" r="2.9"></circle><circle cx="638.7" cy="2059.3" r="2.9"></circle><circle cx="613.4" cy="2059.7" r="2.9"></circle><circle cx="659.0" cy="2061.7" r="2.9"></circle><circle cx="616.5" cy="2060.4" r="2.9"></circle><circle cx="601.6" cy="2046.5" r="2.9"></circle><circle cx="684.1" cy="2057.6" r="2.9"></circle><circle cx="637.3" cy="2044.2" r="2.9"></circle><circle cx="665.6" cy="2059.2" r="2.9"></circle><circle cx="667.3" cy="2053.1" r="2.9"></circle><circle cx="572.9" cy="2058.0" r="2.9"></circle><circle cx="587.3" cy="2048.4" r="2.9"></circle><circle cx="663.8" cy="2044.3" r="2.9"></circle><circle cx="620.0" cy="2059.5" r="2.9"></circle><circle cx="617.3" cy="2053.7" r="2.9"></circle><circle cx="599.2" cy="2050.5" r="2.9"></circle><circle cx="671.6" cy="2072.1" r="2.9"></circle><circle cx="668.2" cy="2045.3" r="2.9"></circle><circle cx="573.4" cy="2010.7" r="2.9"></circle><circle cx="669.0" cy="2050.7" r="2.9"></circle><circle cx="560.4" cy="2052.1" r="2.9"></circle><circle cx="632.5" cy="2048.6" r="2.9"></circle><circle cx="608.3" cy="2064.8" r="2.9"></circle><circle cx="579.9" cy="2051.8" r="2.9"></circle><circle cx="595.2" cy="2051.5" r="2.9"></circle><circle cx="703.2" cy="2071.0" r="2.9"></circle><circle cx="617.3" cy="2031.9" r="2.9"></circle><circle cx="650.1" cy="2036.1" r="2.9"></circle><circle cx="636.8" cy="2037.9" r="2.9"></circle><circle cx="676.8" cy="2042.6" r="2.9"></circle><circle cx="578.2" cy="2040.0" r="2.9"></circle><circle cx="632.9" cy="2058.8" r="2.9"></circle><circle cx="667.2" cy="2059.9" r="2.9"></circle><circle cx="578.4" cy="2053.0" r="2.9"></circle><circle cx="677.4" cy="2057.6" r="2.9"></circle><circle cx="659.0" cy="2039.6" r="2.9"></circle><circle cx="628.6" cy="2055.1" r="2.9"></circle><circle cx="598.1" cy="2060.0" r="2.9"></circle><circle cx="625.1" cy="2079.9" r="2.9"></circle></g><g font-size="8.2" fill="#222" stroke="#222" stroke-width="0"><path d="M510.5 2165.2v3" stroke-width="0.8"></path><text x="510.5" y="2176.2" text-anchor="middle">−5.0</text><path d="M544.8 2165.2v3" stroke-width="0.8"></path><text x="544.8" y="2176.2" text-anchor="middle">−2.5</text><path d="M579.1 2165.2v3" stroke-width="0.8"></path><text x="579.1" y="2176.2" text-anchor="middle">0.0</text><path d="M613.4 2165.2v3" stroke-width="0.8"></path><text x="613.4" y="2176.2" text-anchor="middle">2.5</text><path d="M647.7 2165.2v3" stroke-width="0.8"></path><text x="647.7" y="2176.2" text-anchor="middle">5.0</text><path d="M682.0 2165.2v3" stroke-width="0.8"></path><text x="682.0" y="2176.2" text-anchor="middle">7.5</text><path d="M716.3 2165.2v3" stroke-width="0.8"></path><text x="716.3" y="2176.2" text-anchor="middle">10.0</text><path d="M750.6 2165.2v3" stroke-width="0.8"></path><text x="750.6" y="2176.2" text-anchor="middle">12.5</text><path d="M496.3 2151.1h-3" stroke-width="0.8"></path><text x="491.3" y="2154.1" text-anchor="end">−4</text><path d="M496.3 2126.8h-3" stroke-width="0.8"></path><text x="491.3" y="2129.8" text-anchor="end">−2</text><path d="M496.3 2102.6h-3" stroke-width="0.8"></path><text x="491.3" y="2105.6" text-anchor="end">0</text><path d="M496.3 2078.4h-3" stroke-width="0.8"></path><text x="491.3" y="2081.4" text-anchor="end">2</text><path d="M496.3 2054.1h-3" stroke-width="0.8"></path><text x="491.3" y="2057.1" text-anchor="end">4</text><path d="M496.3 2029.9h-3" stroke-width="0.8"></path><text x="491.3" y="2032.9" text-anchor="end">6</text><path d="M496.3 2005.6h-3" stroke-width="0.8"></path><text x="491.3" y="2008.6" text-anchor="end">8</text><path d="M496.3 1981.4h-3" stroke-width="0.8"></path><text x="491.3" y="1984.4" text-anchor="end">10</text></g><text x="632.0" y="1958.5" text-anchor="middle" font-size="10.2" fill="#222" lengthAdjust="spacingAndGlyphs" textLength="210">π<tspan font-size="7" dy="2">1</tspan><tspan dy="-2"> and π</tspan><tspan font-size="7" dy="2">2</tspan><tspan dy="-2"> cannot dominate each other</tspan></text><text x="632.0" y="2192.2" text-anchor="middle" font-size="11.5" font-style="italic" fill="#222">z<tspan font-size="8" dy="2" font-style="normal">0</tspan></text><text transform="translate(474.3 2068.1) rotate(-90)" text-anchor="middle" font-size="11.5" font-style="italic" fill="#222">z<tspan font-size="8" dy="2" font-style="normal">1</tspan></text><rect x="710" y="1968" width="51" height="35" rx="2" fill="#fff" fill-opacity="0.8" stroke="#ccc" stroke-width="0.8"></rect><circle cx="725" cy="1978" r="2.9" fill="#1f77b4" fill-opacity="0.55"></circle><circle cx="725" cy="1994" r="2.9" fill="#ff7f0e" fill-opacity="0.55"></circle><text x="744" y="1981.5" font-size="11" font-style="italic" fill="#222">π<tspan font-size="7.5" dy="2" font-style="normal">1</tspan></text><text x="744" y="1997.5" font-size="11" font-style="italic" fill="#222">π<tspan font-size="7.5" dy="2" font-style="normal">2</tspan></text></svg>
<svg class="a" style="left:0;top:0" width="3456" height="2304" viewBox="0 0 3456 2304"><rect x="858.8" y="1963" width="272" height="202.2" fill="#fff" stroke="#222" stroke-width="0.8"></rect><g fill="#1f77b4" fill-opacity="0.5"><circle cx="986.2" cy="2072.3" r="2.9"></circle><circle cx="901.8" cy="2123.8" r="2.9"></circle><circle cx="973.4" cy="2042.3" r="2.9"></circle><circle cx="1046.5" cy="2039.7" r="2.9"></circle><circle cx="996.9" cy="2065.7" r="2.9"></circle><circle cx="1053.0" cy="2028.0" r="2.9"></circle><circle cx="1006.7" cy="2040.9" r="2.9"></circle><circle cx="1079.6" cy="2021.1" r="2.9"></circle><circle cx="926.0" cy="2066.6" r="2.9"></circle><circle cx="1054.4" cy="2010.1" r="2.9"></circle><circle cx="1053.2" cy="2040.8" r="2.9"></circle><circle cx="1042.5" cy="2038.8" r="2.9"></circle><circle cx="948.4" cy="2075.3" r="2.9"></circle><circle cx="1002.7" cy="2062.6" r="2.9"></circle><circle cx="1001.5" cy="2058.3" r="2.9"></circle><circle cx="975.7" cy="2084.9" r="2.9"></circle><circle cx="1001.8" cy="2058.0" r="2.9"></circle><circle cx="998.8" cy="2052.9" r="2.9"></circle><circle cx="973.2" cy="2047.3" r="2.9"></circle><circle cx="982.0" cy="2037.3" r="2.9"></circle><circle cx="1019.6" cy="2054.3" r="2.9"></circle><circle cx="990.9" cy="2055.7" r="2.9"></circle><circle cx="970.8" cy="2049.7" r="2.9"></circle><circle cx="945.5" cy="2081.5" r="2.9"></circle><circle cx="1015.6" cy="2049.3" r="2.9"></circle><circle cx="937.8" cy="2091.7" r="2.9"></circle><circle cx="1064.7" cy="2030.3" r="2.9"></circle><circle cx="1008.2" cy="2029.0" r="2.9"></circle><circle cx="973.1" cy="2029.0" r="2.9"></circle><circle cx="970.9" cy="2072.9" r="2.9"></circle><circle cx="1004.8" cy="2034.7" r="2.9"></circle><circle cx="1021.7" cy="2059.9" r="2.9"></circle><circle cx="976.1" cy="2071.8" r="2.9"></circle><circle cx="951.3" cy="2089.1" r="2.9"></circle><circle cx="1108.9" cy="1973.0" r="2.9"></circle><circle cx="1057.3" cy="1990.5" r="2.9"></circle><circle cx="929.8" cy="2109.7" r="2.9"></circle><circle cx="1068.4" cy="2042.0" r="2.9"></circle><circle cx="966.4" cy="2082.2" r="2.9"></circle><circle cx="1028.6" cy="2044.0" r="2.9"></circle><circle cx="907.8" cy="2108.1" r="2.9"></circle><circle cx="958.0" cy="2068.0" r="2.9"></circle><circle cx="942.6" cy="2072.0" r="2.9"></circle><circle cx="1032.9" cy="2040.8" r="2.9"></circle><circle cx="1041.9" cy="2045.0" r="2.9"></circle><circle cx="959.3" cy="2092.6" r="2.9"></circle><circle cx="1013.1" cy="2062.7" r="2.9"></circle><circle cx="1014.0" cy="2032.6" r="2.9"></circle><circle cx="1025.5" cy="2050.7" r="2.9"></circle><circle cx="972.5" cy="2064.4" r="2.9"></circle><circle cx="964.5" cy="2076.0" r="2.9"></circle><circle cx="1064.8" cy="2003.9" r="2.9"></circle><circle cx="965.0" cy="2058.8" r="2.9"></circle><circle cx="1000.4" cy="2006.7" r="2.9"></circle><circle cx="1041.6" cy="2016.5" r="2.9"></circle><circle cx="1005.0" cy="2063.7" r="2.9"></circle><circle cx="969.9" cy="2081.6" r="2.9"></circle><circle cx="1114.3" cy="2008.7" r="2.9"></circle><circle cx="949.7" cy="2044.1" r="2.9"></circle><circle cx="1062.4" cy="2018.3" r="2.9"></circle><circle cx="930.9" cy="2088.4" r="2.9"></circle><circle cx="1035.7" cy="2063.0" r="2.9"></circle><circle cx="1085.2" cy="2018.6" r="2.9"></circle><circle cx="1046.9" cy="2072.4" r="2.9"></circle><circle cx="1066.8" cy="2009.1" r="2.9"></circle><circle cx="1027.8" cy="2054.7" r="2.9"></circle><circle cx="1028.5" cy="2055.4" r="2.9"></circle><circle cx="938.4" cy="2063.1" r="2.9"></circle><circle cx="903.3" cy="2103.6" r="2.9"></circle><circle cx="948.4" cy="2060.4" r="2.9"></circle><circle cx="906.8" cy="2086.4" r="2.9"></circle><circle cx="958.2" cy="2096.0" r="2.9"></circle><circle cx="1054.9" cy="2005.2" r="2.9"></circle><circle cx="1004.8" cy="2055.2" r="2.9"></circle><circle cx="1055.5" cy="2048.2" r="2.9"></circle><circle cx="934.9" cy="2088.7" r="2.9"></circle><circle cx="1039.3" cy="2024.7" r="2.9"></circle><circle cx="980.0" cy="2059.3" r="2.9"></circle><circle cx="907.0" cy="2116.1" r="2.9"></circle><circle cx="1053.2" cy="2023.0" r="2.9"></circle><circle cx="1019.5" cy="2033.9" r="2.9"></circle><circle cx="986.5" cy="2058.7" r="2.9"></circle><circle cx="1018.1" cy="2037.5" r="2.9"></circle><circle cx="1014.3" cy="2037.9" r="2.9"></circle><circle cx="1028.3" cy="2061.6" r="2.9"></circle><circle cx="989.1" cy="2078.0" r="2.9"></circle><circle cx="933.4" cy="2090.1" r="2.9"></circle><circle cx="979.1" cy="2068.2" r="2.9"></circle><circle cx="1035.9" cy="2082.1" r="2.9"></circle><circle cx="960.3" cy="2098.3" r="2.9"></circle><circle cx="969.0" cy="2089.3" r="2.9"></circle><circle cx="1009.2" cy="2055.8" r="2.9"></circle><circle cx="1046.0" cy="2031.7" r="2.9"></circle><circle cx="985.9" cy="2074.2" r="2.9"></circle><circle cx="1061.1" cy="2030.2" r="2.9"></circle><circle cx="973.6" cy="2050.8" r="2.9"></circle><circle cx="961.1" cy="2075.8" r="2.9"></circle><circle cx="1029.2" cy="2020.7" r="2.9"></circle><circle cx="1002.5" cy="2060.4" r="2.9"></circle><circle cx="953.4" cy="2074.1" r="2.9"></circle><circle cx="995.3" cy="2083.0" r="2.9"></circle><circle cx="1049.5" cy="2060.0" r="2.9"></circle><circle cx="991.6" cy="2061.8" r="2.9"></circle><circle cx="958.1" cy="2079.2" r="2.9"></circle><circle cx="986.1" cy="2023.8" r="2.9"></circle><circle cx="1061.9" cy="2044.9" r="2.9"></circle><circle cx="1018.4" cy="2035.1" r="2.9"></circle><circle cx="1020.9" cy="2052.8" r="2.9"></circle><circle cx="1026.6" cy="2011.1" r="2.9"></circle><circle cx="1041.3" cy="2052.7" r="2.9"></circle><circle cx="1016.5" cy="2062.8" r="2.9"></circle><circle cx="991.2" cy="2036.0" r="2.9"></circle><circle cx="1019.5" cy="2045.9" r="2.9"></circle><circle cx="1018.2" cy="2049.5" r="2.9"></circle><circle cx="958.4" cy="2072.7" r="2.9"></circle><circle cx="1027.4" cy="2058.4" r="2.9"></circle><circle cx="994.1" cy="2044.2" r="2.9"></circle><circle cx="1002.6" cy="2058.0" r="2.9"></circle><circle cx="1062.0" cy="1998.4" r="2.9"></circle><circle cx="1080.5" cy="2032.1" r="2.9"></circle><circle cx="1015.4" cy="2046.8" r="2.9"></circle><circle cx="1008.9" cy="2066.7" r="2.9"></circle><circle cx="1021.7" cy="2055.6" r="2.9"></circle><circle cx="1079.5" cy="2012.3" r="2.9"></circle><circle cx="1023.3" cy="2034.1" r="2.9"></circle><circle cx="992.8" cy="2042.5" r="2.9"></circle><circle cx="958.4" cy="2065.3" r="2.9"></circle><circle cx="939.8" cy="2081.1" r="2.9"></circle><circle cx="988.2" cy="2037.6" r="2.9"></circle><circle cx="1039.5" cy="2033.0" r="2.9"></circle><circle cx="968.1" cy="2082.8" r="2.9"></circle><circle cx="981.4" cy="2084.8" r="2.9"></circle><circle cx="1015.1" cy="2036.7" r="2.9"></circle><circle cx="953.6" cy="2062.4" r="2.9"></circle><circle cx="998.9" cy="2051.9" r="2.9"></circle><circle cx="967.4" cy="2068.3" r="2.9"></circle><circle cx="1062.7" cy="2029.2" r="2.9"></circle><circle cx="957.0" cy="2108.9" r="2.9"></circle><circle cx="979.7" cy="2078.3" r="2.9"></circle><circle cx="968.9" cy="2092.1" r="2.9"></circle><circle cx="1026.3" cy="2080.9" r="2.9"></circle><circle cx="986.9" cy="2044.0" r="2.9"></circle><circle cx="1046.5" cy="2004.4" r="2.9"></circle><circle cx="1030.8" cy="2038.8" r="2.9"></circle><circle cx="1101.3" cy="1972.1" r="2.9"></circle><circle cx="1044.3" cy="2040.0" r="2.9"></circle><circle cx="1067.5" cy="2034.5" r="2.9"></circle><circle cx="959.3" cy="2092.8" r="2.9"></circle><circle cx="965.1" cy="2082.5" r="2.9"></circle><circle cx="992.7" cy="2071.8" r="2.9"></circle><circle cx="946.1" cy="2039.4" r="2.9"></circle><circle cx="965.7" cy="2068.6" r="2.9"></circle><circle cx="1006.0" cy="2033.2" r="2.9"></circle><circle cx="966.9" cy="2111.8" r="2.9"></circle><circle cx="1028.6" cy="1997.3" r="2.9"></circle><circle cx="980.5" cy="2066.8" r="2.9"></circle><circle cx="961.2" cy="2059.6" r="2.9"></circle><circle cx="969.7" cy="2080.6" r="2.9"></circle><circle cx="913.5" cy="2111.2" r="2.9"></circle><circle cx="1044.5" cy="2040.3" r="2.9"></circle><circle cx="1011.0" cy="2057.8" r="2.9"></circle><circle cx="1003.6" cy="2048.6" r="2.9"></circle><circle cx="952.4" cy="2075.7" r="2.9"></circle><circle cx="1037.4" cy="2046.1" r="2.9"></circle><circle cx="955.8" cy="2089.8" r="2.9"></circle><circle cx="996.4" cy="2022.4" r="2.9"></circle><circle cx="1006.1" cy="2039.7" r="2.9"></circle><circle cx="1001.3" cy="2055.3" r="2.9"></circle><circle cx="1051.3" cy="2041.4" r="2.9"></circle><circle cx="963.3" cy="2102.8" r="2.9"></circle><circle cx="1005.2" cy="2077.7" r="2.9"></circle><circle cx="1010.7" cy="2051.1" r="2.9"></circle><circle cx="1052.6" cy="2001.5" r="2.9"></circle><circle cx="990.9" cy="2038.7" r="2.9"></circle><circle cx="1026.5" cy="2022.3" r="2.9"></circle><circle cx="899.3" cy="2116.0" r="2.9"></circle><circle cx="1020.6" cy="2034.7" r="2.9"></circle><circle cx="997.1" cy="2063.1" r="2.9"></circle><circle cx="1013.2" cy="2060.3" r="2.9"></circle><circle cx="987.8" cy="2072.5" r="2.9"></circle><circle cx="1024.6" cy="2025.4" r="2.9"></circle><circle cx="970.2" cy="2023.2" r="2.9"></circle><circle cx="1020.6" cy="2058.5" r="2.9"></circle><circle cx="1018.0" cy="2038.5" r="2.9"></circle><circle cx="1047.0" cy="2052.8" r="2.9"></circle><circle cx="948.7" cy="2114.0" r="2.9"></circle><circle cx="934.7" cy="2095.3" r="2.9"></circle><circle cx="1021.4" cy="2010.5" r="2.9"></circle><circle cx="1022.7" cy="2062.9" r="2.9"></circle><circle cx="979.4" cy="2044.4" r="2.9"></circle><circle cx="959.9" cy="2065.8" r="2.9"></circle><circle cx="923.6" cy="2100.8" r="2.9"></circle><circle cx="987.5" cy="2069.4" r="2.9"></circle><circle cx="1063.1" cy="2020.4" r="2.9"></circle><circle cx="956.5" cy="2118.9" r="2.9"></circle><circle cx="940.2" cy="2089.5" r="2.9"></circle><circle cx="1037.4" cy="2032.4" r="2.9"></circle><circle cx="933.7" cy="2110.1" r="2.9"></circle><circle cx="951.2" cy="2065.2" r="2.9"></circle><circle cx="1028.9" cy="2026.4" r="2.9"></circle><circle cx="984.3" cy="2076.4" r="2.9"></circle><circle cx="976.5" cy="2079.1" r="2.9"></circle><circle cx="1041.5" cy="2055.6" r="2.9"></circle><circle cx="990.0" cy="2072.0" r="2.9"></circle><circle cx="1039.6" cy="2055.2" r="2.9"></circle><circle cx="1068.3" cy="2030.0" r="2.9"></circle><circle cx="980.9" cy="2085.3" r="2.9"></circle><circle cx="933.9" cy="2090.5" r="2.9"></circle><circle cx="1010.3" cy="2074.6" r="2.9"></circle><circle cx="938.4" cy="2124.5" r="2.9"></circle><circle cx="954.1" cy="2052.2" r="2.9"></circle><circle cx="1018.0" cy="2059.4" r="2.9"></circle><circle cx="988.1" cy="2046.3" r="2.9"></circle><circle cx="934.8" cy="2086.0" r="2.9"></circle><circle cx="1054.3" cy="2036.4" r="2.9"></circle><circle cx="1009.4" cy="2076.6" r="2.9"></circle><circle cx="978.9" cy="2025.7" r="2.9"></circle><circle cx="1028.2" cy="2016.3" r="2.9"></circle><circle cx="1044.0" cy="2036.3" r="2.9"></circle><circle cx="1024.1" cy="2072.0" r="2.9"></circle><circle cx="986.4" cy="2039.8" r="2.9"></circle><circle cx="960.3" cy="2068.1" r="2.9"></circle><circle cx="1035.9" cy="2037.5" r="2.9"></circle><circle cx="982.2" cy="2054.8" r="2.9"></circle><circle cx="957.8" cy="2103.5" r="2.9"></circle><circle cx="932.9" cy="2104.9" r="2.9"></circle><circle cx="1027.5" cy="2063.9" r="2.9"></circle><circle cx="1006.1" cy="2057.8" r="2.9"></circle><circle cx="1055.9" cy="2027.8" r="2.9"></circle><circle cx="1000.8" cy="2064.8" r="2.9"></circle><circle cx="981.8" cy="2089.0" r="2.9"></circle><circle cx="965.4" cy="2082.5" r="2.9"></circle><circle cx="1010.3" cy="2087.4" r="2.9"></circle><circle cx="995.6" cy="2061.1" r="2.9"></circle><circle cx="977.4" cy="2094.8" r="2.9"></circle><circle cx="958.1" cy="2105.0" r="2.9"></circle><circle cx="936.9" cy="2085.2" r="2.9"></circle><circle cx="1001.5" cy="2013.0" r="2.9"></circle><circle cx="1052.6" cy="2027.5" r="2.9"></circle><circle cx="984.2" cy="2056.7" r="2.9"></circle><circle cx="979.5" cy="2054.1" r="2.9"></circle><circle cx="980.4" cy="2068.7" r="2.9"></circle><circle cx="1043.9" cy="2036.4" r="2.9"></circle><circle cx="978.6" cy="2093.8" r="2.9"></circle><circle cx="1024.0" cy="2082.8" r="2.9"></circle><circle cx="1051.9" cy="2056.9" r="2.9"></circle><circle cx="973.4" cy="2110.1" r="2.9"></circle><circle cx="1000.0" cy="2042.6" r="2.9"></circle><circle cx="963.8" cy="2064.4" r="2.9"></circle><circle cx="949.0" cy="2079.7" r="2.9"></circle><circle cx="965.9" cy="2079.6" r="2.9"></circle><circle cx="1025.8" cy="2076.0" r="2.9"></circle><circle cx="975.4" cy="2047.3" r="2.9"></circle><circle cx="1047.8" cy="2050.4" r="2.9"></circle><circle cx="980.5" cy="2046.8" r="2.9"></circle><circle cx="970.5" cy="2105.5" r="2.9"></circle><circle cx="990.4" cy="2076.2" r="2.9"></circle><circle cx="1020.0" cy="2089.5" r="2.9"></circle><circle cx="967.0" cy="2085.7" r="2.9"></circle><circle cx="994.0" cy="2064.4" r="2.9"></circle><circle cx="1036.1" cy="2024.0" r="2.9"></circle><circle cx="1029.9" cy="2052.1" r="2.9"></circle><circle cx="973.7" cy="2075.3" r="2.9"></circle><circle cx="1016.3" cy="2028.2" r="2.9"></circle><circle cx="1025.3" cy="2041.9" r="2.9"></circle><circle cx="956.2" cy="2065.8" r="2.9"></circle><circle cx="926.7" cy="2070.1" r="2.9"></circle><circle cx="1009.4" cy="2067.1" r="2.9"></circle><circle cx="911.7" cy="2084.8" r="2.9"></circle><circle cx="1002.9" cy="2041.3" r="2.9"></circle><circle cx="1037.7" cy="2064.5" r="2.9"></circle><circle cx="951.8" cy="2080.5" r="2.9"></circle><circle cx="971.4" cy="2041.4" r="2.9"></circle><circle cx="949.0" cy="2101.9" r="2.9"></circle><circle cx="1073.0" cy="2049.0" r="2.9"></circle><circle cx="1005.2" cy="2061.5" r="2.9"></circle><circle cx="984.7" cy="2066.4" r="2.9"></circle><circle cx="1033.3" cy="2044.3" r="2.9"></circle><circle cx="1048.3" cy="2002.4" r="2.9"></circle><circle cx="1013.9" cy="2036.2" r="2.9"></circle><circle cx="1026.7" cy="2039.0" r="2.9"></circle><circle cx="977.5" cy="2076.7" r="2.9"></circle><circle cx="1001.8" cy="2009.7" r="2.9"></circle><circle cx="1000.5" cy="2045.5" r="2.9"></circle><circle cx="1014.3" cy="2063.5" r="2.9"></circle><circle cx="939.6" cy="2087.2" r="2.9"></circle><circle cx="1017.6" cy="2091.4" r="2.9"></circle><circle cx="976.4" cy="2055.2" r="2.9"></circle><circle cx="990.3" cy="2066.1" r="2.9"></circle><circle cx="946.7" cy="2085.7" r="2.9"></circle><circle cx="961.3" cy="2060.7" r="2.9"></circle><circle cx="976.5" cy="2098.0" r="2.9"></circle><circle cx="996.7" cy="2074.4" r="2.9"></circle><circle cx="1080.3" cy="2001.1" r="2.9"></circle><circle cx="1079.4" cy="2016.6" r="2.9"></circle><circle cx="1119.5" cy="2002.5" r="2.9"></circle><circle cx="1019.9" cy="2044.8" r="2.9"></circle><circle cx="1035.6" cy="2053.2" r="2.9"></circle><circle cx="1016.5" cy="2016.3" r="2.9"></circle><circle cx="1021.2" cy="2045.8" r="2.9"></circle><circle cx="945.5" cy="2126.0" r="2.9"></circle><circle cx="1101.1" cy="2014.0" r="2.9"></circle><circle cx="1032.7" cy="2059.4" r="2.9"></circle><circle cx="1003.2" cy="2056.9" r="2.9"></circle><circle cx="1062.9" cy="2014.5" r="2.9"></circle><circle cx="1050.6" cy="2011.5" r="2.9"></circle><circle cx="960.4" cy="2038.4" r="2.9"></circle><circle cx="968.7" cy="2081.0" r="2.9"></circle><circle cx="984.0" cy="2064.4" r="2.9"></circle><circle cx="1051.8" cy="2053.7" r="2.9"></circle><circle cx="933.3" cy="2068.9" r="2.9"></circle><circle cx="1023.5" cy="2047.6" r="2.9"></circle><circle cx="1006.7" cy="2032.9" r="2.9"></circle><circle cx="961.9" cy="2098.5" r="2.9"></circle><circle cx="1022.2" cy="2054.0" r="2.9"></circle><circle cx="980.8" cy="2054.0" r="2.9"></circle><circle cx="959.5" cy="2088.2" r="2.9"></circle><circle cx="1034.1" cy="2025.1" r="2.9"></circle><circle cx="980.4" cy="2076.5" r="2.9"></circle><circle cx="988.3" cy="2057.4" r="2.9"></circle><circle cx="962.4" cy="2079.3" r="2.9"></circle><circle cx="977.4" cy="2067.8" r="2.9"></circle><circle cx="1030.9" cy="2023.7" r="2.9"></circle><circle cx="981.3" cy="2047.9" r="2.9"></circle><circle cx="1059.7" cy="2033.7" r="2.9"></circle><circle cx="1010.4" cy="2084.8" r="2.9"></circle><circle cx="1012.0" cy="2058.5" r="2.9"></circle><circle cx="1021.0" cy="2048.9" r="2.9"></circle><circle cx="1093.0" cy="1998.0" r="2.9"></circle><circle cx="982.4" cy="2047.3" r="2.9"></circle><circle cx="934.7" cy="2091.0" r="2.9"></circle><circle cx="994.7" cy="2108.1" r="2.9"></circle><circle cx="961.8" cy="2059.1" r="2.9"></circle><circle cx="960.4" cy="2077.3" r="2.9"></circle><circle cx="1020.1" cy="2051.8" r="2.9"></circle><circle cx="993.2" cy="2052.9" r="2.9"></circle><circle cx="977.5" cy="2073.1" r="2.9"></circle><circle cx="1027.3" cy="2003.7" r="2.9"></circle><circle cx="1073.7" cy="2064.2" r="2.9"></circle><circle cx="926.2" cy="2083.2" r="2.9"></circle><circle cx="978.6" cy="2051.1" r="2.9"></circle><circle cx="993.1" cy="2078.0" r="2.9"></circle><circle cx="1012.5" cy="2073.9" r="2.9"></circle><circle cx="1039.4" cy="2049.6" r="2.9"></circle><circle cx="978.7" cy="2049.3" r="2.9"></circle><circle cx="1020.7" cy="2034.9" r="2.9"></circle><circle cx="1104.4" cy="2012.9" r="2.9"></circle><circle cx="964.3" cy="2060.4" r="2.9"></circle><circle cx="945.7" cy="2069.9" r="2.9"></circle><circle cx="1076.0" cy="2019.8" r="2.9"></circle><circle cx="1110.4" cy="1991.0" r="2.9"></circle><circle cx="995.0" cy="2067.0" r="2.9"></circle><circle cx="1033.0" cy="2027.9" r="2.9"></circle><circle cx="976.0" cy="2069.5" r="2.9"></circle><circle cx="1024.8" cy="2040.7" r="2.9"></circle><circle cx="992.8" cy="2056.3" r="2.9"></circle><circle cx="974.4" cy="2073.7" r="2.9"></circle><circle cx="1064.5" cy="2022.1" r="2.9"></circle><circle cx="990.7" cy="2071.7" r="2.9"></circle><circle cx="1000.5" cy="2070.4" r="2.9"></circle><circle cx="938.2" cy="2087.8" r="2.9"></circle><circle cx="983.7" cy="2052.3" r="2.9"></circle><circle cx="966.9" cy="2076.1" r="2.9"></circle><circle cx="949.0" cy="2076.0" r="2.9"></circle><circle cx="991.1" cy="2062.6" r="2.9"></circle><circle cx="1043.9" cy="2025.7" r="2.9"></circle><circle cx="1004.3" cy="2071.0" r="2.9"></circle><circle cx="943.1" cy="2092.9" r="2.9"></circle><circle cx="1050.9" cy="2033.5" r="2.9"></circle><circle cx="1002.4" cy="2056.3" r="2.9"></circle><circle cx="1032.3" cy="2036.1" r="2.9"></circle><circle cx="1067.2" cy="2023.5" r="2.9"></circle><circle cx="991.3" cy="2076.0" r="2.9"></circle><circle cx="961.9" cy="2065.1" r="2.9"></circle><circle cx="1058.5" cy="2068.2" r="2.9"></circle><circle cx="944.4" cy="2065.2" r="2.9"></circle><circle cx="1063.8" cy="2012.9" r="2.9"></circle><circle cx="1009.0" cy="2083.6" r="2.9"></circle><circle cx="1005.0" cy="2028.9" r="2.9"></circle><circle cx="990.0" cy="2062.8" r="2.9"></circle><circle cx="959.0" cy="2094.2" r="2.9"></circle><circle cx="1055.8" cy="1994.8" r="2.9"></circle><circle cx="1031.8" cy="2036.8" r="2.9"></circle><circle cx="946.1" cy="2084.8" r="2.9"></circle><circle cx="999.9" cy="2068.6" r="2.9"></circle><circle cx="943.3" cy="2048.3" r="2.9"></circle><circle cx="1037.8" cy="2054.8" r="2.9"></circle><circle cx="995.4" cy="2073.7" r="2.9"></circle><circle cx="992.2" cy="2060.7" r="2.9"></circle><circle cx="974.2" cy="2068.5" r="2.9"></circle><circle cx="966.7" cy="2051.8" r="2.9"></circle><circle cx="1037.4" cy="2031.7" r="2.9"></circle><circle cx="1000.9" cy="2079.8" r="2.9"></circle><circle cx="1041.7" cy="2036.6" r="2.9"></circle><circle cx="1004.2" cy="2031.2" r="2.9"></circle><circle cx="950.9" cy="2028.6" r="2.9"></circle><circle cx="1017.4" cy="2051.4" r="2.9"></circle><circle cx="910.6" cy="2123.4" r="2.9"></circle><circle cx="948.7" cy="2150.3" r="2.9"></circle><circle cx="1005.4" cy="2024.8" r="2.9"></circle><circle cx="923.9" cy="2094.6" r="2.9"></circle><circle cx="1026.1" cy="2042.4" r="2.9"></circle><circle cx="959.8" cy="2074.9" r="2.9"></circle><circle cx="966.9" cy="2091.0" r="2.9"></circle><circle cx="943.8" cy="2065.6" r="2.9"></circle><circle cx="978.6" cy="2086.0" r="2.9"></circle><circle cx="1084.5" cy="2048.4" r="2.9"></circle><circle cx="948.6" cy="2047.6" r="2.9"></circle><circle cx="1035.1" cy="2083.2" r="2.9"></circle><circle cx="991.1" cy="2065.5" r="2.9"></circle><circle cx="987.3" cy="2028.6" r="2.9"></circle><circle cx="923.3" cy="2074.0" r="2.9"></circle><circle cx="1024.1" cy="2033.3" r="2.9"></circle><circle cx="1025.9" cy="2016.5" r="2.9"></circle><circle cx="1025.1" cy="2014.7" r="2.9"></circle><circle cx="982.0" cy="2062.3" r="2.9"></circle><circle cx="1046.2" cy="2012.4" r="2.9"></circle><circle cx="1089.7" cy="2024.2" r="2.9"></circle><circle cx="1006.3" cy="2010.4" r="2.9"></circle><circle cx="1001.0" cy="2068.6" r="2.9"></circle><circle cx="940.8" cy="2045.4" r="2.9"></circle><circle cx="1017.4" cy="2065.8" r="2.9"></circle><circle cx="1043.7" cy="2029.4" r="2.9"></circle><circle cx="927.8" cy="2103.9" r="2.9"></circle><circle cx="1020.2" cy="2062.9" r="2.9"></circle><circle cx="1029.7" cy="2016.3" r="2.9"></circle><circle cx="976.1" cy="2062.5" r="2.9"></circle><circle cx="1046.5" cy="2015.5" r="2.9"></circle><circle cx="961.8" cy="2049.5" r="2.9"></circle><circle cx="955.5" cy="2088.6" r="2.9"></circle><circle cx="978.4" cy="2063.1" r="2.9"></circle><circle cx="1013.3" cy="2065.1" r="2.9"></circle><circle cx="927.7" cy="2056.3" r="2.9"></circle><circle cx="978.1" cy="2037.0" r="2.9"></circle><circle cx="1015.5" cy="2053.1" r="2.9"></circle><circle cx="1002.5" cy="2060.5" r="2.9"></circle><circle cx="940.1" cy="2070.5" r="2.9"></circle><circle cx="1093.7" cy="1981.0" r="2.9"></circle><circle cx="956.1" cy="2048.7" r="2.9"></circle><circle cx="1033.0" cy="2032.8" r="2.9"></circle><circle cx="933.4" cy="2079.9" r="2.9"></circle><circle cx="943.6" cy="2107.0" r="2.9"></circle><circle cx="1017.1" cy="2033.5" r="2.9"></circle><circle cx="1048.5" cy="2016.7" r="2.9"></circle><circle cx="953.0" cy="2078.7" r="2.9"></circle><circle cx="1062.0" cy="2028.7" r="2.9"></circle><circle cx="1004.8" cy="2044.8" r="2.9"></circle><circle cx="993.2" cy="2069.1" r="2.9"></circle><circle cx="1094.1" cy="2033.8" r="2.9"></circle><circle cx="1055.3" cy="2042.6" r="2.9"></circle><circle cx="1040.5" cy="2052.8" r="2.9"></circle><circle cx="1014.2" cy="2060.1" r="2.9"></circle><circle cx="991.4" cy="2062.4" r="2.9"></circle><circle cx="988.4" cy="2083.5" r="2.9"></circle><circle cx="1052.8" cy="2046.1" r="2.9"></circle><circle cx="985.9" cy="2051.3" r="2.9"></circle><circle cx="949.2" cy="2085.6" r="2.9"></circle><circle cx="995.4" cy="2045.2" r="2.9"></circle><circle cx="1016.0" cy="2067.0" r="2.9"></circle><circle cx="974.6" cy="2081.3" r="2.9"></circle><circle cx="1064.6" cy="2020.2" r="2.9"></circle><circle cx="1035.3" cy="2035.7" r="2.9"></circle><circle cx="1034.8" cy="2041.7" r="2.9"></circle><circle cx="1027.3" cy="2042.4" r="2.9"></circle><circle cx="972.6" cy="2069.4" r="2.9"></circle><circle cx="985.9" cy="2045.6" r="2.9"></circle><circle cx="1054.9" cy="2019.4" r="2.9"></circle><circle cx="943.3" cy="2081.6" r="2.9"></circle><circle cx="965.9" cy="2096.9" r="2.9"></circle><circle cx="961.9" cy="2095.0" r="2.9"></circle><circle cx="949.2" cy="2083.9" r="2.9"></circle><circle cx="975.0" cy="2088.4" r="2.9"></circle><circle cx="1034.8" cy="2071.9" r="2.9"></circle><circle cx="974.4" cy="2058.3" r="2.9"></circle><circle cx="967.9" cy="2054.3" r="2.9"></circle><circle cx="971.2" cy="2071.9" r="2.9"></circle><circle cx="982.3" cy="2078.2" r="2.9"></circle><circle cx="955.0" cy="2078.9" r="2.9"></circle></g><g fill="#ff7f0e" fill-opacity="0.5"><circle cx="981.0" cy="2036.3" r="2.9"></circle><circle cx="1007.8" cy="2070.3" r="2.9"></circle><circle cx="1018.2" cy="2044.4" r="2.9"></circle><circle cx="1072.3" cy="2092.2" r="2.9"></circle><circle cx="1007.7" cy="2042.9" r="2.9"></circle><circle cx="1002.6" cy="2044.9" r="2.9"></circle><circle cx="974.7" cy="2047.5" r="2.9"></circle><circle cx="947.6" cy="2005.6" r="2.9"></circle><circle cx="950.4" cy="2008.3" r="2.9"></circle><circle cx="950.8" cy="2010.7" r="2.9"></circle><circle cx="937.9" cy="2004.0" r="2.9"></circle><circle cx="1053.7" cy="2086.4" r="2.9"></circle><circle cx="974.2" cy="2024.3" r="2.9"></circle><circle cx="1007.1" cy="2063.6" r="2.9"></circle><circle cx="1038.8" cy="2079.3" r="2.9"></circle><circle cx="977.1" cy="2016.3" r="2.9"></circle><circle cx="965.0" cy="2025.1" r="2.9"></circle><circle cx="986.5" cy="2036.1" r="2.9"></circle><circle cx="981.0" cy="2026.8" r="2.9"></circle><circle cx="967.7" cy="2026.2" r="2.9"></circle><circle cx="1017.7" cy="2030.1" r="2.9"></circle><circle cx="913.2" cy="2028.8" r="2.9"></circle><circle cx="986.4" cy="2030.1" r="2.9"></circle><circle cx="932.4" cy="2042.9" r="2.9"></circle><circle cx="1061.2" cy="2096.3" r="2.9"></circle><circle cx="977.9" cy="2054.8" r="2.9"></circle><circle cx="965.8" cy="2004.8" r="2.9"></circle><circle cx="983.1" cy="2020.1" r="2.9"></circle><circle cx="1044.6" cy="2080.5" r="2.9"></circle><circle cx="1108.7" cy="2101.5" r="2.9"></circle><circle cx="956.9" cy="2011.3" r="2.9"></circle><circle cx="1040.8" cy="2074.5" r="2.9"></circle><circle cx="942.3" cy="2033.2" r="2.9"></circle><circle cx="999.4" cy="2033.5" r="2.9"></circle><circle cx="1022.7" cy="2073.9" r="2.9"></circle><circle cx="960.0" cy="2006.1" r="2.9"></circle><circle cx="943.5" cy="2004.5" r="2.9"></circle><circle cx="1037.7" cy="2073.6" r="2.9"></circle><circle cx="1020.5" cy="2066.0" r="2.9"></circle><circle cx="998.8" cy="2017.2" r="2.9"></circle><circle cx="1017.0" cy="2022.1" r="2.9"></circle><circle cx="1049.3" cy="2083.6" r="2.9"></circle><circle cx="967.3" cy="2066.1" r="2.9"></circle><circle cx="1059.8" cy="2093.3" r="2.9"></circle><circle cx="998.7" cy="2037.5" r="2.9"></circle><circle cx="989.9" cy="2045.9" r="2.9"></circle><circle cx="1054.4" cy="2082.2" r="2.9"></circle><circle cx="937.1" cy="1996.0" r="2.9"></circle><circle cx="1027.7" cy="2062.6" r="2.9"></circle><circle cx="996.7" cy="2020.1" r="2.9"></circle><circle cx="1026.6" cy="2054.7" r="2.9"></circle><circle cx="969.9" cy="2032.3" r="2.9"></circle><circle cx="995.4" cy="2051.6" r="2.9"></circle><circle cx="998.0" cy="2040.1" r="2.9"></circle><circle cx="1045.2" cy="2079.6" r="2.9"></circle><circle cx="934.0" cy="2002.6" r="2.9"></circle><circle cx="1094.0" cy="2081.2" r="2.9"></circle><circle cx="1008.9" cy="2049.1" r="2.9"></circle><circle cx="969.6" cy="2033.9" r="2.9"></circle><circle cx="1029.0" cy="2080.1" r="2.9"></circle><circle cx="985.8" cy="2037.2" r="2.9"></circle><circle cx="1038.0" cy="2030.4" r="2.9"></circle><circle cx="999.8" cy="2027.5" r="2.9"></circle><circle cx="911.2" cy="1984.2" r="2.9"></circle><circle cx="1009.7" cy="2057.7" r="2.9"></circle><circle cx="1016.2" cy="2022.1" r="2.9"></circle><circle cx="949.6" cy="2016.4" r="2.9"></circle><circle cx="1030.2" cy="2051.7" r="2.9"></circle><circle cx="913.4" cy="1999.5" r="2.9"></circle><circle cx="934.7" cy="1996.0" r="2.9"></circle><circle cx="992.1" cy="2045.4" r="2.9"></circle><circle cx="1017.4" cy="2066.5" r="2.9"></circle><circle cx="925.5" cy="2023.2" r="2.9"></circle><circle cx="1013.3" cy="2055.6" r="2.9"></circle><circle cx="1036.6" cy="2079.8" r="2.9"></circle><circle cx="1063.2" cy="2076.1" r="2.9"></circle><circle cx="950.8" cy="2039.9" r="2.9"></circle><circle cx="924.4" cy="2015.2" r="2.9"></circle><circle cx="1051.1" cy="2115.1" r="2.9"></circle><circle cx="945.9" cy="2056.2" r="2.9"></circle><circle cx="1004.7" cy="2045.3" r="2.9"></circle><circle cx="952.2" cy="2021.5" r="2.9"></circle><circle cx="943.9" cy="2017.4" r="2.9"></circle><circle cx="946.4" cy="2030.2" r="2.9"></circle><circle cx="980.9" cy="2040.4" r="2.9"></circle><circle cx="1020.6" cy="2017.8" r="2.9"></circle><circle cx="998.4" cy="2045.0" r="2.9"></circle><circle cx="996.8" cy="2038.3" r="2.9"></circle><circle cx="1099.1" cy="2098.8" r="2.9"></circle><circle cx="1026.1" cy="2103.8" r="2.9"></circle><circle cx="976.3" cy="2055.3" r="2.9"></circle><circle cx="1003.3" cy="2027.7" r="2.9"></circle><circle cx="983.1" cy="2055.5" r="2.9"></circle><circle cx="1021.7" cy="2021.7" r="2.9"></circle><circle cx="1019.5" cy="2025.5" r="2.9"></circle><circle cx="920.5" cy="2017.2" r="2.9"></circle><circle cx="942.2" cy="2034.3" r="2.9"></circle><circle cx="982.2" cy="2024.2" r="2.9"></circle><circle cx="983.7" cy="2067.1" r="2.9"></circle><circle cx="1008.5" cy="2059.4" r="2.9"></circle><circle cx="977.2" cy="2033.2" r="2.9"></circle><circle cx="972.2" cy="2034.9" r="2.9"></circle><circle cx="1064.8" cy="2091.3" r="2.9"></circle><circle cx="927.8" cy="2015.9" r="2.9"></circle><circle cx="1014.3" cy="2094.9" r="2.9"></circle><circle cx="906.0" cy="2005.3" r="2.9"></circle><circle cx="956.0" cy="2014.8" r="2.9"></circle><circle cx="1004.6" cy="2048.9" r="2.9"></circle><circle cx="944.0" cy="1976.3" r="2.9"></circle><circle cx="970.7" cy="2036.1" r="2.9"></circle><circle cx="946.6" cy="1997.9" r="2.9"></circle><circle cx="1000.4" cy="2037.3" r="2.9"></circle><circle cx="1039.9" cy="2059.4" r="2.9"></circle><circle cx="1006.0" cy="2055.8" r="2.9"></circle><circle cx="1047.7" cy="2077.1" r="2.9"></circle><circle cx="959.8" cy="2049.2" r="2.9"></circle><circle cx="990.8" cy="2032.3" r="2.9"></circle><circle cx="959.2" cy="1997.5" r="2.9"></circle><circle cx="1039.5" cy="2049.5" r="2.9"></circle><circle cx="973.5" cy="2033.6" r="2.9"></circle><circle cx="1042.4" cy="2057.9" r="2.9"></circle><circle cx="957.0" cy="2027.4" r="2.9"></circle><circle cx="978.7" cy="2040.9" r="2.9"></circle><circle cx="1017.4" cy="2076.8" r="2.9"></circle><circle cx="976.1" cy="2025.0" r="2.9"></circle><circle cx="985.5" cy="2032.8" r="2.9"></circle><circle cx="1008.1" cy="2034.4" r="2.9"></circle><circle cx="1077.1" cy="2082.9" r="2.9"></circle><circle cx="1042.5" cy="2079.6" r="2.9"></circle><circle cx="993.4" cy="2042.4" r="2.9"></circle><circle cx="967.0" cy="2042.5" r="2.9"></circle><circle cx="943.4" cy="1988.1" r="2.9"></circle><circle cx="986.2" cy="2024.0" r="2.9"></circle><circle cx="990.3" cy="2074.9" r="2.9"></circle><circle cx="1068.5" cy="2083.8" r="2.9"></circle><circle cx="967.4" cy="2043.9" r="2.9"></circle><circle cx="998.9" cy="2077.8" r="2.9"></circle><circle cx="1008.3" cy="2045.5" r="2.9"></circle><circle cx="930.5" cy="2025.9" r="2.9"></circle><circle cx="957.0" cy="2014.3" r="2.9"></circle><circle cx="1002.2" cy="2048.3" r="2.9"></circle><circle cx="1008.3" cy="2017.0" r="2.9"></circle><circle cx="947.9" cy="1996.4" r="2.9"></circle><circle cx="1025.9" cy="2069.1" r="2.9"></circle><circle cx="966.1" cy="2017.4" r="2.9"></circle><circle cx="1056.2" cy="2049.1" r="2.9"></circle><circle cx="906.6" cy="1974.4" r="2.9"></circle><circle cx="1012.8" cy="2055.7" r="2.9"></circle><circle cx="1023.8" cy="2086.3" r="2.9"></circle><circle cx="980.7" cy="2038.9" r="2.9"></circle><circle cx="999.6" cy="1990.1" r="2.9"></circle><circle cx="978.2" cy="2032.3" r="2.9"></circle><circle cx="996.7" cy="2035.9" r="2.9"></circle><circle cx="938.9" cy="2002.1" r="2.9"></circle><circle cx="947.1" cy="2031.3" r="2.9"></circle><circle cx="1033.3" cy="2072.3" r="2.9"></circle><circle cx="945.6" cy="2027.8" r="2.9"></circle><circle cx="930.1" cy="2017.4" r="2.9"></circle><circle cx="988.2" cy="2038.9" r="2.9"></circle><circle cx="917.4" cy="2009.2" r="2.9"></circle><circle cx="1028.4" cy="2070.2" r="2.9"></circle><circle cx="975.2" cy="2015.8" r="2.9"></circle><circle cx="1036.1" cy="2085.5" r="2.9"></circle><circle cx="1072.6" cy="2060.9" r="2.9"></circle><circle cx="987.2" cy="2024.7" r="2.9"></circle><circle cx="1088.7" cy="2100.7" r="2.9"></circle><circle cx="1019.2" cy="2039.8" r="2.9"></circle><circle cx="1082.8" cy="2073.3" r="2.9"></circle><circle cx="975.7" cy="2016.8" r="2.9"></circle><circle cx="1072.2" cy="2054.5" r="2.9"></circle><circle cx="987.6" cy="2029.9" r="2.9"></circle><circle cx="988.5" cy="2042.1" r="2.9"></circle><circle cx="989.1" cy="2033.4" r="2.9"></circle><circle cx="955.4" cy="2003.5" r="2.9"></circle><circle cx="1026.0" cy="2057.6" r="2.9"></circle><circle cx="944.0" cy="2019.1" r="2.9"></circle><circle cx="1012.6" cy="2030.4" r="2.9"></circle><circle cx="968.1" cy="2032.6" r="2.9"></circle><circle cx="981.9" cy="2013.0" r="2.9"></circle><circle cx="967.0" cy="2018.3" r="2.9"></circle><circle cx="896.0" cy="2001.5" r="2.9"></circle><circle cx="988.4" cy="2023.8" r="2.9"></circle><circle cx="1020.9" cy="2073.3" r="2.9"></circle><circle cx="1025.4" cy="2058.9" r="2.9"></circle><circle cx="1005.9" cy="2038.3" r="2.9"></circle><circle cx="934.5" cy="2013.0" r="2.9"></circle><circle cx="996.1" cy="2034.5" r="2.9"></circle><circle cx="1074.6" cy="2099.8" r="2.9"></circle><circle cx="1055.9" cy="2099.3" r="2.9"></circle><circle cx="1051.4" cy="2059.8" r="2.9"></circle><circle cx="1013.8" cy="2069.1" r="2.9"></circle><circle cx="964.9" cy="2026.5" r="2.9"></circle><circle cx="1070.3" cy="2072.8" r="2.9"></circle><circle cx="952.7" cy="2022.1" r="2.9"></circle><circle cx="1057.5" cy="2099.7" r="2.9"></circle><circle cx="1059.2" cy="2056.1" r="2.9"></circle><circle cx="1039.4" cy="2059.1" r="2.9"></circle><circle cx="951.3" cy="2009.2" r="2.9"></circle><circle cx="1003.0" cy="2024.6" r="2.9"></circle><circle cx="944.3" cy="2040.6" r="2.9"></circle><circle cx="925.1" cy="2041.1" r="2.9"></circle><circle cx="1038.3" cy="2057.9" r="2.9"></circle><circle cx="1090.9" cy="2088.5" r="2.9"></circle><circle cx="905.0" cy="1988.8" r="2.9"></circle><circle cx="1098.4" cy="2081.9" r="2.9"></circle><circle cx="1022.3" cy="2088.4" r="2.9"></circle><circle cx="1040.1" cy="2086.5" r="2.9"></circle><circle cx="1055.6" cy="2048.7" r="2.9"></circle><circle cx="1016.9" cy="2094.0" r="2.9"></circle><circle cx="1061.5" cy="2099.7" r="2.9"></circle><circle cx="912.3" cy="2018.4" r="2.9"></circle><circle cx="1020.2" cy="2049.0" r="2.9"></circle><circle cx="1010.8" cy="2062.2" r="2.9"></circle><circle cx="1022.8" cy="2058.1" r="2.9"></circle><circle cx="1052.9" cy="2056.6" r="2.9"></circle><circle cx="1089.3" cy="2090.7" r="2.9"></circle><circle cx="957.2" cy="2020.1" r="2.9"></circle><circle cx="1031.4" cy="2046.0" r="2.9"></circle><circle cx="1038.2" cy="2079.4" r="2.9"></circle><circle cx="1041.4" cy="2071.7" r="2.9"></circle><circle cx="1030.1" cy="2082.1" r="2.9"></circle><circle cx="972.3" cy="2031.1" r="2.9"></circle><circle cx="1012.8" cy="2025.9" r="2.9"></circle><circle cx="1075.4" cy="2110.7" r="2.9"></circle><circle cx="1019.1" cy="2033.9" r="2.9"></circle><circle cx="1043.7" cy="2080.4" r="2.9"></circle><circle cx="962.7" cy="2045.1" r="2.9"></circle><circle cx="1019.0" cy="2061.4" r="2.9"></circle><circle cx="1030.3" cy="2057.5" r="2.9"></circle><circle cx="957.1" cy="2027.8" r="2.9"></circle><circle cx="978.3" cy="2024.9" r="2.9"></circle><circle cx="989.4" cy="2055.7" r="2.9"></circle><circle cx="916.4" cy="2013.9" r="2.9"></circle><circle cx="1000.6" cy="2032.0" r="2.9"></circle><circle cx="1095.9" cy="2125.5" r="2.9"></circle><circle cx="1075.6" cy="2102.8" r="2.9"></circle><circle cx="963.4" cy="2037.5" r="2.9"></circle><circle cx="1006.7" cy="2038.6" r="2.9"></circle><circle cx="1026.0" cy="2071.2" r="2.9"></circle><circle cx="1050.2" cy="2071.6" r="2.9"></circle><circle cx="1030.9" cy="2040.0" r="2.9"></circle><circle cx="929.3" cy="2026.7" r="2.9"></circle><circle cx="994.1" cy="2039.7" r="2.9"></circle><circle cx="997.3" cy="2038.7" r="2.9"></circle><circle cx="1021.4" cy="2043.2" r="2.9"></circle><circle cx="977.0" cy="2024.2" r="2.9"></circle><circle cx="1037.9" cy="2050.4" r="2.9"></circle><circle cx="1071.2" cy="2075.3" r="2.9"></circle><circle cx="961.4" cy="2038.3" r="2.9"></circle><circle cx="1012.5" cy="2009.6" r="2.9"></circle><circle cx="988.4" cy="2051.5" r="2.9"></circle><circle cx="998.6" cy="2034.9" r="2.9"></circle><circle cx="921.9" cy="1998.7" r="2.9"></circle><circle cx="960.4" cy="2016.7" r="2.9"></circle><circle cx="952.6" cy="2007.3" r="2.9"></circle><circle cx="1050.0" cy="2066.2" r="2.9"></circle><circle cx="948.2" cy="2016.4" r="2.9"></circle><circle cx="1072.5" cy="2113.9" r="2.9"></circle><circle cx="1006.3" cy="2037.8" r="2.9"></circle><circle cx="1033.4" cy="2049.9" r="2.9"></circle><circle cx="1000.8" cy="2074.8" r="2.9"></circle><circle cx="970.4" cy="2040.9" r="2.9"></circle><circle cx="958.4" cy="1998.0" r="2.9"></circle><circle cx="1006.3" cy="2063.9" r="2.9"></circle><circle cx="1004.8" cy="2028.2" r="2.9"></circle><circle cx="990.9" cy="2043.8" r="2.9"></circle><circle cx="962.4" cy="2009.1" r="2.9"></circle><circle cx="1017.1" cy="2071.6" r="2.9"></circle><circle cx="1086.2" cy="2109.9" r="2.9"></circle><circle cx="1020.8" cy="2052.1" r="2.9"></circle><circle cx="1021.1" cy="2070.0" r="2.9"></circle><circle cx="1007.7" cy="2063.1" r="2.9"></circle><circle cx="1003.1" cy="2061.4" r="2.9"></circle><circle cx="947.5" cy="2015.8" r="2.9"></circle><circle cx="987.5" cy="2032.5" r="2.9"></circle><circle cx="1014.9" cy="2097.3" r="2.9"></circle><circle cx="1042.4" cy="2083.6" r="2.9"></circle><circle cx="980.5" cy="2062.3" r="2.9"></circle><circle cx="968.5" cy="2034.1" r="2.9"></circle><circle cx="953.0" cy="2035.4" r="2.9"></circle><circle cx="1012.1" cy="2012.5" r="2.9"></circle><circle cx="1000.7" cy="2043.1" r="2.9"></circle><circle cx="889.3" cy="2028.9" r="2.9"></circle><circle cx="1033.7" cy="2109.7" r="2.9"></circle><circle cx="982.7" cy="2042.5" r="2.9"></circle><circle cx="956.6" cy="2051.3" r="2.9"></circle><circle cx="1031.2" cy="2071.3" r="2.9"></circle><circle cx="1005.4" cy="2059.4" r="2.9"></circle><circle cx="948.1" cy="2029.7" r="2.9"></circle><circle cx="1015.4" cy="2070.6" r="2.9"></circle><circle cx="962.0" cy="2045.3" r="2.9"></circle><circle cx="1032.7" cy="2091.5" r="2.9"></circle><circle cx="1068.7" cy="2101.1" r="2.9"></circle><circle cx="1001.9" cy="2093.1" r="2.9"></circle><circle cx="1027.5" cy="2068.9" r="2.9"></circle><circle cx="936.7" cy="2011.1" r="2.9"></circle><circle cx="950.0" cy="2014.1" r="2.9"></circle><circle cx="931.5" cy="2029.4" r="2.9"></circle><circle cx="1057.9" cy="2094.6" r="2.9"></circle><circle cx="1017.5" cy="2062.4" r="2.9"></circle><circle cx="968.8" cy="2053.3" r="2.9"></circle><circle cx="987.0" cy="2053.5" r="2.9"></circle><circle cx="918.8" cy="2000.3" r="2.9"></circle><circle cx="1046.9" cy="2047.5" r="2.9"></circle><circle cx="1092.6" cy="2079.8" r="2.9"></circle><circle cx="981.5" cy="2046.3" r="2.9"></circle><circle cx="1019.8" cy="2062.8" r="2.9"></circle><circle cx="978.7" cy="2050.2" r="2.9"></circle><circle cx="996.5" cy="2033.4" r="2.9"></circle><circle cx="1022.5" cy="2034.8" r="2.9"></circle><circle cx="1042.3" cy="2075.8" r="2.9"></circle><circle cx="967.1" cy="2018.6" r="2.9"></circle><circle cx="952.5" cy="1998.7" r="2.9"></circle><circle cx="1066.3" cy="2065.6" r="2.9"></circle><circle cx="1040.4" cy="2053.8" r="2.9"></circle><circle cx="1014.0" cy="2035.9" r="2.9"></circle><circle cx="1110.1" cy="2107.9" r="2.9"></circle><circle cx="1027.6" cy="2036.8" r="2.9"></circle><circle cx="952.8" cy="1989.5" r="2.9"></circle><circle cx="1006.0" cy="2050.9" r="2.9"></circle><circle cx="1033.4" cy="2071.5" r="2.9"></circle><circle cx="1001.6" cy="2038.3" r="2.9"></circle><circle cx="928.8" cy="2017.1" r="2.9"></circle><circle cx="999.5" cy="2034.7" r="2.9"></circle><circle cx="981.5" cy="2068.3" r="2.9"></circle><circle cx="1009.3" cy="2065.8" r="2.9"></circle><circle cx="1049.8" cy="2077.4" r="2.9"></circle><circle cx="1012.1" cy="2061.3" r="2.9"></circle><circle cx="993.3" cy="2045.6" r="2.9"></circle><circle cx="984.9" cy="2028.0" r="2.9"></circle><circle cx="996.1" cy="2037.9" r="2.9"></circle><circle cx="964.4" cy="2031.5" r="2.9"></circle><circle cx="974.6" cy="2005.5" r="2.9"></circle><circle cx="1023.7" cy="2037.6" r="2.9"></circle><circle cx="982.3" cy="2026.7" r="2.9"></circle><circle cx="906.8" cy="2011.0" r="2.9"></circle><circle cx="955.2" cy="2031.0" r="2.9"></circle><circle cx="960.9" cy="2064.9" r="2.9"></circle><circle cx="981.0" cy="2012.5" r="2.9"></circle><circle cx="1064.2" cy="2060.6" r="2.9"></circle><circle cx="1022.5" cy="2067.0" r="2.9"></circle><circle cx="1053.5" cy="2076.8" r="2.9"></circle><circle cx="1015.1" cy="2064.4" r="2.9"></circle><circle cx="984.6" cy="2061.9" r="2.9"></circle><circle cx="978.0" cy="2042.4" r="2.9"></circle><circle cx="946.9" cy="2017.5" r="2.9"></circle><circle cx="989.6" cy="2036.7" r="2.9"></circle><circle cx="974.1" cy="2006.6" r="2.9"></circle><circle cx="988.9" cy="2064.1" r="2.9"></circle><circle cx="1001.7" cy="2061.4" r="2.9"></circle><circle cx="974.8" cy="2041.5" r="2.9"></circle><circle cx="994.7" cy="2045.1" r="2.9"></circle><circle cx="981.5" cy="2059.0" r="2.9"></circle><circle cx="953.8" cy="2031.1" r="2.9"></circle><circle cx="1062.7" cy="2109.6" r="2.9"></circle><circle cx="1015.0" cy="2070.9" r="2.9"></circle><circle cx="982.4" cy="2051.8" r="2.9"></circle><circle cx="1009.2" cy="2040.7" r="2.9"></circle><circle cx="1032.2" cy="2086.2" r="2.9"></circle><circle cx="950.7" cy="2009.3" r="2.9"></circle><circle cx="964.8" cy="2030.4" r="2.9"></circle><circle cx="1001.9" cy="2054.4" r="2.9"></circle><circle cx="1050.8" cy="2063.0" r="2.9"></circle><circle cx="1041.3" cy="2091.0" r="2.9"></circle><circle cx="1075.7" cy="2065.2" r="2.9"></circle><circle cx="1055.1" cy="2064.5" r="2.9"></circle><circle cx="1085.8" cy="2068.0" r="2.9"></circle><circle cx="897.8" cy="1982.4" r="2.9"></circle><circle cx="921.4" cy="2022.2" r="2.9"></circle><circle cx="1037.5" cy="2049.8" r="2.9"></circle><circle cx="991.0" cy="2052.9" r="2.9"></circle><circle cx="990.6" cy="2054.3" r="2.9"></circle><circle cx="1042.6" cy="2059.9" r="2.9"></circle><circle cx="1072.2" cy="2109.3" r="2.9"></circle><circle cx="1014.0" cy="2041.2" r="2.9"></circle><circle cx="988.8" cy="2050.5" r="2.9"></circle><circle cx="1042.8" cy="2064.8" r="2.9"></circle><circle cx="1066.2" cy="2076.0" r="2.9"></circle><circle cx="1051.4" cy="2095.4" r="2.9"></circle><circle cx="980.7" cy="2060.6" r="2.9"></circle><circle cx="968.9" cy="2027.6" r="2.9"></circle><circle cx="965.3" cy="2008.7" r="2.9"></circle><circle cx="1000.8" cy="2072.3" r="2.9"></circle><circle cx="1029.3" cy="2047.5" r="2.9"></circle><circle cx="1081.7" cy="2082.4" r="2.9"></circle><circle cx="1072.8" cy="2086.4" r="2.9"></circle><circle cx="967.5" cy="2044.1" r="2.9"></circle><circle cx="1059.0" cy="2088.7" r="2.9"></circle><circle cx="961.2" cy="2047.6" r="2.9"></circle><circle cx="985.2" cy="2033.8" r="2.9"></circle><circle cx="1026.7" cy="2103.2" r="2.9"></circle><circle cx="995.9" cy="2052.7" r="2.9"></circle><circle cx="1048.4" cy="2098.6" r="2.9"></circle><circle cx="919.9" cy="1982.5" r="2.9"></circle><circle cx="967.2" cy="2042.0" r="2.9"></circle><circle cx="1015.7" cy="2037.2" r="2.9"></circle><circle cx="1030.3" cy="2080.7" r="2.9"></circle><circle cx="1008.8" cy="2064.7" r="2.9"></circle><circle cx="966.0" cy="2040.9" r="2.9"></circle><circle cx="997.0" cy="2041.1" r="2.9"></circle><circle cx="991.1" cy="2038.2" r="2.9"></circle><circle cx="1040.0" cy="2100.9" r="2.9"></circle><circle cx="1077.5" cy="2096.7" r="2.9"></circle><circle cx="982.9" cy="2027.2" r="2.9"></circle><circle cx="931.7" cy="2007.3" r="2.9"></circle><circle cx="956.0" cy="2015.0" r="2.9"></circle><circle cx="952.8" cy="2030.3" r="2.9"></circle><circle cx="990.9" cy="2057.9" r="2.9"></circle><circle cx="1015.1" cy="2100.4" r="2.9"></circle><circle cx="962.4" cy="2015.4" r="2.9"></circle><circle cx="967.7" cy="2045.9" r="2.9"></circle><circle cx="942.7" cy="2021.7" r="2.9"></circle><circle cx="1069.2" cy="2107.4" r="2.9"></circle><circle cx="1041.4" cy="2091.0" r="2.9"></circle><circle cx="1056.0" cy="2077.3" r="2.9"></circle><circle cx="945.2" cy="2008.0" r="2.9"></circle><circle cx="945.9" cy="2001.1" r="2.9"></circle><circle cx="972.9" cy="1998.4" r="2.9"></circle><circle cx="1055.6" cy="2050.4" r="2.9"></circle><circle cx="1020.7" cy="2079.3" r="2.9"></circle><circle cx="949.2" cy="2030.5" r="2.9"></circle><circle cx="1052.9" cy="2066.6" r="2.9"></circle><circle cx="1001.1" cy="2059.2" r="2.9"></circle><circle cx="1016.7" cy="2076.9" r="2.9"></circle><circle cx="986.2" cy="2041.2" r="2.9"></circle><circle cx="1054.3" cy="2041.9" r="2.9"></circle><circle cx="953.1" cy="2040.9" r="2.9"></circle><circle cx="975.5" cy="2044.6" r="2.9"></circle><circle cx="1046.8" cy="2040.9" r="2.9"></circle><circle cx="947.5" cy="2006.4" r="2.9"></circle><circle cx="931.0" cy="2030.0" r="2.9"></circle><circle cx="978.9" cy="2017.4" r="2.9"></circle><circle cx="1005.0" cy="2083.8" r="2.9"></circle><circle cx="977.2" cy="2026.5" r="2.9"></circle><circle cx="1002.8" cy="2048.0" r="2.9"></circle><circle cx="1006.7" cy="2033.9" r="2.9"></circle><circle cx="929.7" cy="2009.3" r="2.9"></circle><circle cx="937.5" cy="2014.6" r="2.9"></circle><circle cx="1024.9" cy="2069.3" r="2.9"></circle><circle cx="978.7" cy="2023.4" r="2.9"></circle><circle cx="985.3" cy="2058.5" r="2.9"></circle><circle cx="953.4" cy="2023.0" r="2.9"></circle><circle cx="989.1" cy="2056.7" r="2.9"></circle><circle cx="919.4" cy="2002.3" r="2.9"></circle><circle cx="1067.6" cy="2077.2" r="2.9"></circle><circle cx="1012.5" cy="2039.4" r="2.9"></circle><circle cx="939.8" cy="2042.2" r="2.9"></circle><circle cx="1042.4" cy="2030.3" r="2.9"></circle><circle cx="984.7" cy="2027.6" r="2.9"></circle><circle cx="973.5" cy="2005.3" r="2.9"></circle><circle cx="1009.4" cy="2036.3" r="2.9"></circle><circle cx="969.6" cy="2022.3" r="2.9"></circle><circle cx="1009.3" cy="2038.5" r="2.9"></circle><circle cx="969.7" cy="2045.5" r="2.9"></circle><circle cx="1052.2" cy="2083.2" r="2.9"></circle><circle cx="1021.7" cy="2033.9" r="2.9"></circle><circle cx="998.6" cy="2047.3" r="2.9"></circle><circle cx="1018.4" cy="2055.9" r="2.9"></circle><circle cx="997.3" cy="2024.1" r="2.9"></circle><circle cx="1026.7" cy="2055.3" r="2.9"></circle><circle cx="936.3" cy="2038.9" r="2.9"></circle><circle cx="973.7" cy="2048.2" r="2.9"></circle><circle cx="1017.9" cy="2065.1" r="2.9"></circle><circle cx="999.9" cy="2065.0" r="2.9"></circle><circle cx="999.3" cy="2036.7" r="2.9"></circle><circle cx="995.7" cy="2066.5" r="2.9"></circle><circle cx="1040.7" cy="2042.8" r="2.9"></circle><circle cx="967.0" cy="2036.1" r="2.9"></circle><circle cx="1047.3" cy="2075.0" r="2.9"></circle><circle cx="1020.7" cy="2018.5" r="2.9"></circle><circle cx="1070.5" cy="2086.7" r="2.9"></circle><circle cx="971.6" cy="2007.5" r="2.9"></circle><circle cx="1064.1" cy="2081.8" r="2.9"></circle></g><g font-size="8.2" fill="#222" stroke="#222" stroke-width="0"><path d="M892.6 2165.2v3" stroke-width="0.8"></path><text x="892.6" y="2176.2" text-anchor="middle">−2</text><path d="M931.0 2165.2v3" stroke-width="0.8"></path><text x="931.0" y="2176.2" text-anchor="middle">0</text><path d="M969.4 2165.2v3" stroke-width="0.8"></path><text x="969.4" y="2176.2" text-anchor="middle">2</text><path d="M1007.8 2165.2v3" stroke-width="0.8"></path><text x="1007.8" y="2176.2" text-anchor="middle">4</text><path d="M1046.2 2165.2v3" stroke-width="0.8"></path><text x="1046.2" y="2176.2" text-anchor="middle">6</text><path d="M1084.6 2165.2v3" stroke-width="0.8"></path><text x="1084.6" y="2176.2" text-anchor="middle">8</text><path d="M1123.0 2165.2v3" stroke-width="0.8"></path><text x="1123.0" y="2176.2" text-anchor="middle">10</text><path d="M858.8 2160.4h-3" stroke-width="0.8"></path><text x="853.8" y="2163.4" text-anchor="end">−4</text><path d="M858.8 2133.2h-3" stroke-width="0.8"></path><text x="853.8" y="2136.2" text-anchor="end">−2</text><path d="M858.8 2106.0h-3" stroke-width="0.8"></path><text x="853.8" y="2109.0" text-anchor="end">0</text><path d="M858.8 2078.8h-3" stroke-width="0.8"></path><text x="853.8" y="2081.8" text-anchor="end">2</text><path d="M858.8 2051.6h-3" stroke-width="0.8"></path><text x="853.8" y="2054.6" text-anchor="end">4</text><path d="M858.8 2024.4h-3" stroke-width="0.8"></path><text x="853.8" y="2027.4" text-anchor="end">6</text><path d="M858.8 1997.2h-3" stroke-width="0.8"></path><text x="853.8" y="2000.2" text-anchor="end">8</text><path d="M858.8 1970.0h-3" stroke-width="0.8"></path><text x="853.8" y="1973.0" text-anchor="end">10</text></g><text x="994.8" y="1958.5" text-anchor="middle" font-size="10.2" fill="#222" lengthAdjust="spacingAndGlyphs" textLength="209">π<tspan font-size="7" dy="2">1</tspan><tspan dy="-2"> and π</tspan><tspan font-size="7" dy="2">2</tspan><tspan dy="-2"> cannot dominate each other</tspan></text><text x="994.8" y="2192.2" text-anchor="middle" font-size="11.5" font-style="italic" fill="#222">z<tspan font-size="8" dy="2" font-style="normal">0</tspan></text><text transform="translate(836.8 2068.1) rotate(-90)" text-anchor="middle" font-size="11.5" font-style="italic" fill="#222">z<tspan font-size="8" dy="2" font-style="normal">1</tspan></text><rect x="864" y="2123" width="51" height="35" rx="2" fill="#fff" fill-opacity="0.8" stroke="#ccc" stroke-width="0.8"></rect><circle cx="879" cy="2133" r="2.9" fill="#1f77b4" fill-opacity="0.55"></circle><circle cx="879" cy="2149" r="2.9" fill="#ff7f0e" fill-opacity="0.55"></circle><text x="898" y="2136.5" font-size="11" font-style="italic" fill="#222">π<tspan font-size="7.5" dy="2" font-style="normal">1</tspan></text><text x="898" y="2152.5" font-size="11" font-style="italic" fill="#222">π<tspan font-size="7.5" dy="2" font-style="normal">2</tspan></text></svg>
<div class="a " style="left:1183.0px;top:394.0px;width:1073.0px;height:1845.0px;background:#fff;border:6px solid #083764;border-radius:4px"></div>
<div class="a " style="left:1202.4px;top:413.3px;width:1028.6px;height:86.0px;background:#083764;border:1px solid #2a3f70;box-shadow:0 5px 15px 1px rgba(8,55,100,0.36);border-radius:1px"></div>
<div class="t r b c" style="left:1716.0px;top:426.1px;font-size:57px;color:#fff;"><span style="transform: scaleX(0.9958);">Distributionally Pareto-Optimal (DPO)</span></div>
<div class="a " style="left:1211.4px;top:525.5px;width:1016.6px;height:71.2px;background:#fff;border:3px solid #083764;box-shadow:7px 10px 13px rgba(0,0,0,0.52);border-radius:2px"></div>
<div class="t r" style="left:1222.4px;top:532.7px;font-size:25.2px;"><span style="transform: scaleX(1.0472);"><b>Definition 3</b> (Distributionally Pareto-Optimal Policy)<b>.</b><i> Formally, <span class="n">π</span><span class="sb" style="font-size:0.7em;top:0.22em"><span class="n">1</span></span> is Distributionally Pareto-</i></span></div>
<div class="t r" style="left:1222.4px;top:560.2px;font-size:25.2px;"><span style="transform: scaleX(1.0303);"><i>Optimal Policy if there does not exist a policy <span class="n">π</span><span class="sb" style="font-size:0.7em;top:0.22em"><span class="n">2</span></span> such that <b>μ</b><span class="n">(</span><span class="n">π</span><span class="sb" style="font-size:0.7em;top:0.22em"><span class="n">2</span></span><span class="n">)</span> <svg style="display:inline-block;width:0.62em;height:0.62em;vertical-align:-0.02em;margin:0 0.12em" viewBox="0 0 10 10"><path d="M1 1.2 Q5 4.2 9 5 Q5 5.8 1 8.8" fill="none" stroke="currentColor" stroke-width="0.9"></path></svg><span class="sb" style="font-size:0.7em;top:0.25em"><i>SD</i></span> <b>μ</b><span class="n">(</span><span class="n">π</span><span class="sb" style="font-size:0.7em;top:0.22em"><span class="n">1</span></span><span class="n">)</span>.</i></span></div>
<div class="a " style="left:1227.0px;top:645.3px;width:21.5px;height:21.5px;background:#344854"></div>
<div class="t s" style="left:1260.5px;top:638.9px;font-size:37.4px;color:#344854;"><span style="transform: scaleX(1.0011);"><span class="r i" style="font-size:1.12em">π</span><span class="sb" style="font-size:0.72em;top:0.3em">1</span> is considered Distributionally Pareto-Optimal (DPO) if</span></div>
<div class="t s" style="left:1260.5px;top:692.9px;font-size:37.4px;color:#344854;"><span style="transform: scaleX(0.9965);">it is <span style="color:#ED7D31"><i><span class="u">not stochastically dominated </span></i></span>by any other policy.</span></div>
<div class="t s b i" style="left:1213.8px;top:767.1px;font-size:36.5px;color:#083764;"><span style="transform: scaleX(1.0115);">Theoretical analysis</span></div>
<div class="a " style="left:1208.0px;top:837.6px;width:1015.3px;height:122.0px;background:#fff;border:3px solid #083764;box-shadow:7px 10px 13px rgba(0,0,0,0.52);border-radius:2px"></div>
<div class="t r" style="left:1216.0px;top:845.6px;font-size:25.2px;"><span style="transform: scaleX(1.0184);"><b>Theorem 1.</b><i>&nbsp; If a policy <span class="n">π</span> has optimal expected utility under some non-decreasing utility function</i></span></div>
<div class="t r" style="left:1216.0px;top:873.2px;font-size:25.2px;"><span style="transform: scaleX(1.0226);"><i>f, where either utility function f is strictly increasing, or <span class="n">π</span> is the only optimal policy with greatest</i></span></div>
<div class="t r" style="left:1216.0px;top:900.8px;font-size:25.2px;"><span style="transform: scaleX(0.9901);"><i>expected utility under utility function f, then <span class="n">π</span> is a Distributionally Pareto-Optimal policy. Also, any</i></span></div>
<div class="t r" style="left:1216.0px;top:928.4px;font-size:25.2px;"><span style="transform: scaleX(0.9866);"><i>Pareto-Optimal policy is a Distributionally Pareto-Optimal policy.</i></span></div>
<div class="a " style="left:1227.0px;top:1001.6px;width:21.5px;height:21.5px;background:#344854"></div>
<div class="t s" style="left:1260.5px;top:994.2px;font-size:37.4px;color:#344854;"><span style="transform: scaleX(1);">Theorem 1 guarantees that the optimal policy of a <span style="color:#ED7D31"><i><span class="u">non-</span></i></span></span></div>
<div class="t s" style="left:1260.5px;top:1048.2px;font-size:37.4px;color:#344854;"><span style="transform: scaleX(0.9954);"><span style="color:#ED7D31"><i><span class="u">decreasing non-linear utility function </span></i></span>is a <span style="color:#ED7D31"><i><span class="u">DPO</span></i></span> policy</span></div>
<div class="a " style="left:1200.0px;top:1114.8px;width:1016.0px;height:222.5px;background:#fff;border:3px solid #083764;box-shadow:7px 10px 13px rgba(0,0,0,0.52);border-radius:2px"></div>
<div class="t r" style="left:1209.0px;top:1123.7px;font-size:25.2px;"><span style="transform: scaleX(1.0731);"><b>Theorem 2.</b><i>&nbsp; The optimal policy <span class="n">π</span><span class="sb" style="font-size:0.75em;top:-0.35em">*</span> under environment <span style="position:relative">M<span class="n" style="position:absolute;left:0.22em;top:-0.5em">~</span></span> = <span class="n">(</span><span style="position:relative">S<span class="n" style="position:absolute;left:0.22em;top:-0.5em">~</span></span>, A, <span style="position:relative">P<span class="n" style="position:absolute;left:0.22em;top:-0.5em">~</span></span>, <span style="position:relative">P<span class="n" style="position:absolute;left:0.22em;top:-0.5em">~</span></span><span class="sb" style="font-size:0.7em;top:0.22em"><span class="n">0</span></span>, R, γ, T<span class="n">)</span>, with scalar</i></span></div>
<div class="t r" style="left:1209.0px;top:1151.3px;font-size:25.2px;"><span style="transform: scaleX(0.9875);"><i>reward function</i></span></div>
<div class="t r c" style="left:1707.0px;top:1187.8px;font-size:26.5px;"><span style="transform: scaleX(1.2122);"><i>R<span class="n">((</span>s<span class="sb" style="font-size:0.7em;top:0.25em">t</span>, <b>z</b><span class="sb" style="font-size:0.7em;top:0.25em">t</span><span class="n">)</span>, a<span class="sb" style="font-size:0.7em;top:0.25em">t</span>, <span class="n">(</span>s<span class="sb" style="font-size:0.7em;top:0.25em">t<span class="n">+1</span></span>, <b>z</b><span class="sb" style="font-size:0.7em;top:0.25em">t<span class="n">+1</span></span><span class="n">))</span> <span class="n">=</span> γ<span class="sb" style="font-size:0.7em;top:-0.5em"><span class="n">−</span>t</span><span class="n">[</span>f<span class="n">(</span><b>z</b><span class="sb" style="font-size:0.7em;top:0.25em">t<span class="n">+1</span></span><span class="n">)</span> <span class="n">−</span> f<span class="n">(</span><b>z</b><span class="sb" style="font-size:0.7em;top:0.25em">t</span><span class="n">)]</span></i></span></div>
<div class="t r" style="left:1209.0px;top:1236.5px;font-size:25.2px;"><span style="transform: scaleX(1.0097);"><i>is the optimal policy under the utility function f, i.e.</i></span></div>
<div class="t r" style="left:1500.0px;top:1286.8px;font-size:26.5px;"><span style="transform: scaleX(1.1823);"><i><span class="n bb">E</span><span class="sb" style="font-size:0.7em;top:0.3em"><b>z</b><span class="n">~</span><b>μ</b><span class="n">(</span><span class="n">π</span><span class="sb" style="font-size:0.8em;top:-0.3em">*</span><span class="n">)</span></span> <span class="n">[</span>f<span class="n">(</span><b>z</b><span class="n">)]</span> <span class="n">= max</span> <span class="n bb">E</span><span class="sb" style="font-size:0.7em;top:0.3em"><b>z</b><span class="n">~</span><b>μ</b><span class="n">(</span><span class="n">π</span><span class="n">)</span></span> <span class="n">[</span>f<span class="n">(</span><b>z</b><span class="n">)]</span> <span class="n">.</span></i></span></div>
<div class="t r c" style="left:1722.0px;top:1309.9px;font-size:18px;"><span>π</span></div>
<div class="a " style="left:1227.0px;top:1382.6px;width:21.5px;height:21.5px;background:#344854"></div>
<div class="t s" style="left:1260.5px;top:1375.1px;font-size:37.4px;color:#344854;"><span style="transform: scaleX(0.9968);">Theorem 2 guarantees that we can directly utilize <span style="color:#ED7D31"><i><span class="u">off-the-</span></i></span></span></div>
<div class="t s" style="left:1260.5px;top:1429.1px;font-size:37.4px;color:#344854;"><span style="transform: scaleX(0.9935);"><span style="color:#ED7D31"><i><span class="u">shelf RL</span></i></span> algorithms to obtain the desirable <span style="color:#ED7D31"><i><span class="u">DPO</span></i></span> policies</span></div>
<div class="a " style="left:1202.4px;top:1486.2px;width:1028.6px;height:86.0px;background:#083764;border:1px solid #2a3f70;box-shadow:0 5px 15px 1px rgba(8,55,100,0.36);border-radius:1px"></div>
<div class="t r b c" style="left:1715.5px;top:1497.5px;font-size:57px;color:#fff;"><span style="transform: scaleX(0.9648);">Algorithm: DPMORL</span></div>
<div class="t s b i" style="left:1218.6px;top:1604.8px;font-size:36.5px;color:#083764;"><span style="transform: scaleX(1.0189);">Step 1: Learning Utility Functions</span></div>
<div class="a " style="left:1218.6px;top:1657.6px;width:999.0px;height:63.0px;background:#FFFFCC;border:2px solid #1F3864;border-radius:9px"></div>
<div class="t s b c" style="left:1718.0px;top:1672.9px;font-size:35.5px;color:#0b2c5e;"><span style="transform: scaleX(1.0071);">Non-Decreasing Neural Networks</span></div>
<div class="a " style="left:1221.0px;top:1751.7px;width:21.5px;height:21.5px;background:#344854"></div>
<div class="t s" style="left:1254.8px;top:1746.1px;font-size:37.4px;color:#344854;"><span style="transform: scaleX(0.9875);">Representing&nbsp; <i><span class="u">complex, non-linear, and arbitrary</span></i></span></div>
<div class="t s" style="left:1254.8px;top:1800.1px;font-size:37.4px;color:#344854;"><span style="transform: scaleX(1);">continuous <i><span class="u">utility functions</span></i></span></div>
<div class="a " style="left:1215.7px;top:1859.0px;width:999.0px;height:63.0px;background:#FFFFCC;border:2px solid #1F3864;border-radius:9px"></div>
<div class="t s b c" style="left:1714.5px;top:1873.9px;font-size:35.5px;color:#0b2c5e;"><span style="transform: scaleX(1.0071);">Non-Decreasing Neural Networks</span></div>
<div class="a " style="left:1230.5px;top:1938.0px;width:966.0px;height:209.0px;background:#fff;border:2.5px solid #2F5597;border-radius:27px;box-shadow:0 4px 5px rgba(0,0,0,0.35)"></div>
<div class="t r" style="left:1237.0px;top:1945.1px;font-size:31.5px;color:#111;"><span style="transform: scaleX(1.1123);"><i>J<span class="sb" style="font-size:0.7em;top:-0.55em"><span class="n">value</span></span><span class="n">(</span>θ<span class="sb" style="font-size:0.7em;top:0.25em">i</span><span class="n">)</span> <span class="n">=</span> <span class="n">min</span></i></span></div>
<div class="t r c" style="left:1426.0px;top:1974.1px;font-size:22px;color:#111;"><span style="transform: scaleX(1.5833);"><i>j<span class="n">≠</span>i</i></span></div>
<div class="t r" style="left:1452.0px;top:1945.1px;font-size:31.5px;color:#111;"><span style="transform: scaleX(1.0526);"><i><span class="n bb">E</span></i></span></div>
<div class="t r" style="left:1473.0px;top:1962.1px;font-size:22px;color:#111;"><span style="transform: scaleX(1.2596);"><i><b>z</b><span class="n">~</span>U<span class="n">([0,1]</span><span class="sb" style="font-size:0.75em;top:-0.4em">K</span><span class="n">)</span></i></span></div>
<div class="t r" style="left:1608.0px;top:1945.1px;font-size:31.5px;color:#111;"><span style="transform: scaleX(1.2389);"><i><span class="n">[</span>f<span class="sb" style="font-size:0.7em;top:0.28em">θ<span class="sb" style="font-size:0.72em;top:0.25em">i</span></span><span class="n">(</span><b>z</b><span class="n">)</span> <span class="n">−</span> f<span class="sb" style="font-size:0.7em;top:0.28em">θ<span class="sb" style="font-size:0.72em;top:0.25em">j</span></span><span class="n">(</span><b>z</b><span class="n">)]</span><span class="sb" style="font-size:0.7em;top:-0.6em"><span class="n">2</span></span></i></span></div>
<div class="t r" style="left:1243.0px;top:2035.6px;font-size:31.5px;color:#111;"><span style="transform: scaleX(1.1461);"><i>J<span class="sb" style="font-size:0.7em;top:-0.55em"><span class="n">grad</span></span><span class="n">(</span>θ<span class="sb" style="font-size:0.7em;top:0.25em">i</span><span class="n">)</span> <span class="n">=</span> <span class="n">min</span></i></span></div>
<div class="t r c" style="left:1426.0px;top:2064.6px;font-size:22px;color:#111;"><span style="transform: scaleX(1.5833);"><i>j<span class="n">≠</span>i</i></span></div>
<div class="t r" style="left:1452.0px;top:2035.6px;font-size:31.5px;color:#111;"><span style="transform: scaleX(1.0526);"><i><span class="n bb">E</span></i></span></div>
<div class="t r" style="left:1473.0px;top:2052.6px;font-size:22px;color:#111;"><span style="transform: scaleX(1.2889);"><i><b>z</b><span class="sb" style="font-size:0.75em;top:0.2em"><span class="n">1</span></span>,<b>z</b><span class="sb" style="font-size:0.75em;top:0.2em"><span class="n">2</span></span><span class="n">~</span>U<span class="n">([0,1]</span><span class="sb" style="font-size:0.75em;top:-0.4em">K</span><span class="n">)</span></i></span></div>
<div class="t r c" style="left:1783.5px;top:2012.6px;font-size:31.5px;color:#111;"><span style="transform: scaleX(1.2335);"><i>f<span class="sb" style="font-size:0.7em;top:0.28em">θ<span class="sb" style="font-size:0.72em;top:0.25em">i</span></span><span class="n">(</span><b>z</b><span class="sb" style="font-size:0.7em;top:0.25em"><span class="n">2</span></span><span class="n">)</span> <span class="n">−</span> f<span class="sb" style="font-size:0.7em;top:0.28em">θ<span class="sb" style="font-size:0.72em;top:0.25em">i</span></span><span class="n">(</span><b>z</b><span class="sb" style="font-size:0.7em;top:0.25em"><span class="n">1</span></span><span class="n">)</span></i></span></div>
<div class="t r c" style="left:1783.5px;top:2057.6px;font-size:31.5px;color:#111;"><span style="transform: scaleX(1.2449);"><i><span class="n">‖</span><b>z</b><span class="sb" style="font-size:0.7em;top:0.25em"><span class="n">2</span></span> <span class="n">−</span> <b>z</b><span class="sb" style="font-size:0.7em;top:0.25em"><span class="n">1</span></span><span class="n">‖</span></i></span></div>
<div class="a " style="left:1675.7px;top:2053.2px;width:215.7px;height:1.6px;background:#111"></div>
<div class="t r c" style="left:2047.8px;top:2012.6px;font-size:31.5px;color:#111;"><span style="transform: scaleX(1.2612);"><i>f<span class="sb" style="font-size:0.7em;top:0.28em">θ<span class="sb" style="font-size:0.72em;top:0.25em">j</span></span><span class="n">(</span><b>z</b><span class="sb" style="font-size:0.7em;top:0.25em"><span class="n">2</span></span><span class="n">)</span> <span class="n">−</span> f<span class="sb" style="font-size:0.7em;top:0.28em">θ<span class="sb" style="font-size:0.72em;top:0.25em">j</span></span><span class="n">(</span><b>z</b><span class="sb" style="font-size:0.7em;top:0.25em"><span class="n">1</span></span><span class="n">)</span></i></span></div>
<div class="t r c" style="left:2047.8px;top:2057.6px;font-size:31.5px;color:#111;"><span style="transform: scaleX(1.2449);"><i><span class="n">‖</span><b>z</b><span class="sb" style="font-size:0.7em;top:0.25em"><span class="n">2</span></span> <span class="n">−</span> <b>z</b><span class="sb" style="font-size:0.7em;top:0.25em"><span class="n">1</span></span><span class="n">‖</span></i></span></div>
<div class="a " style="left:1937.6px;top:2053.2px;width:220.4px;height:1.6px;background:#111"></div>
<div class="t r c" style="left:1915.0px;top:2035.6px;font-size:31.5px;color:#111;"><span><i><span class="n">−</span></i></span></div>
<svg class="a" style="left:0;top:0" width="3456" height="2304"><path d="M1673 2019.5 H1664.5 V2090 H1673 M2159 2019.5 H2167.5 V2090 H2159" fill="none" stroke="#111" stroke-width="1.7"></path></svg>
<div class="t r" style="left:2179.0px;top:2008.6px;font-size:22px;color:#111;"><span><i><span class="n">2</span></i></span></div>
<div class="t r" style="left:1291.5px;top:2103.6px;font-size:31.5px;color:#111;"><span style="transform: scaleX(1.1546);"><i>J<span class="n">(</span>θ<span class="sb" style="font-size:0.7em;top:0.25em">i</span><span class="n">)</span> <span class="n">=</span> αJ<span class="sb" style="font-size:0.7em;top:-0.55em"><span class="n">value</span></span><span class="n">(</span>θ<span class="sb" style="font-size:0.7em;top:0.25em">i</span><span class="n">)</span> <span class="n">+</span> <span class="n">(1 −</span> α<span class="n">)</span>J<span class="sb" style="font-size:0.7em;top:-0.55em"><span class="n">grad</span></span><span class="n">(</span>θ<span class="sb" style="font-size:0.7em;top:0.25em">i</span><span class="n">)</span></i></span></div>
<div class="a " style="left:1227.0px;top:2178.9px;width:21.5px;height:21.5px;background:#344854"></div>
<div class="t s" style="left:1260.5px;top:2170.7px;font-size:37.4px;color:#344854;"><span style="transform: scaleX(0.9948);"><span class="r i b" style="font-size:1.12em">z</span>: multi-objective return</span></div>
<div class="a " style="left:2275.0px;top:390.0px;width:1122.0px;height:1848.0px;background:#fff;border:6px solid #083764;border-radius:4px"></div>
<div class="t s b i" style="left:2312.0px;top:424.1px;font-size:36.5px;color:#083764;"><span style="transform: scaleX(1.0184);">Step 2: Learning Policies</span></div>
<div class="a " style="left:2301.3px;top:479.3px;width:1073.0px;height:313.3px;background:#fff;box-shadow:0 0 9px 2px rgba(0,0,0,0.55)"></div>
<div class="a " style="left:2305.3px;top:483.5px;width:1062.5px;height:2.0px;background:#000"></div>
<div class="a " style="left:2305.3px;top:520.7px;width:1062.5px;height:1.2px;background:#000"></div>
<div class="a " style="left:2305.3px;top:785.5px;width:1062.5px;height:1.2px;background:#000"></div>
<div class="t r" style="left:2306.3px;top:487.7px;font-size:26.2px;"><span style="transform: scaleX(1.0147);"><b>Algorithm 1</b> Utility-based Reinforcement Learning</span></div>
<div class="t r" style="left:2306.3px;top:525.5px;font-size:26.2px;"><span style="transform: scaleX(1.0842);"><b>Input:</b> policy π, an environment <i>M</i> = (<i>S, A, P, P</i><span class="sb" style="font-size:0.7em;top:0.22em">0</span>, <b><i>R</i></b>, <i>γ, T</i>), utility function <i>f</i></span></div>
<div class="t r" style="left:2306.3px;top:554.8px;font-size:26.2px;"><span style="transform: scaleX(1.0294);"><b>Output:</b> new policy π′</span></div>
<div class="t r" style="left:2317.9px;top:593.1px;font-size:26.2px;"><span>1:</span></div>
<div class="t r" style="left:2317.9px;top:626.4px;font-size:26.2px;"><span>2:</span></div>
<div class="t r" style="left:2317.9px;top:684.9px;font-size:26.2px;"><span>3:</span></div>
<div class="t r" style="left:2317.9px;top:718.1px;font-size:26.2px;"><span>4:</span></div>
<div class="t r" style="left:2351.7px;top:593.1px;font-size:26.2px;"><span style="transform: scaleX(1.0511);">Augment state space with <span style="position:relative"><i>S</i><span class="n" style="position:absolute;left:0.22em;top:-0.38em;font-size:0.8em">~</span></span> = <i>S</i> × <i>Z</i>, where <i>Z</i> is the space of cumulative multivariate returns.</span></div>
<div class="t r" style="left:2351.7px;top:626.4px;font-size:26.2px;"><span style="transform: scaleX(1.2084);">Let transition <span style="position:relative"><i>P</i><span class="n" style="position:absolute;left:0.22em;top:-0.38em;font-size:0.8em">~</span></span><span class="sb" style="font-size:0.7em;top:0.22em">0</span>(·) and <span style="position:relative"><i>P</i><span class="n" style="position:absolute;left:0.22em;top:-0.38em;font-size:0.8em">~</span></span>(·|(<i>s</i><span class="sb" style="font-size:0.7em;top:0.25em"><i>t</i></span>, <b><i>z</i></b><span class="sb" style="font-size:0.7em;top:0.25em"><i>t</i></span>), <i>a</i><span class="sb" style="font-size:0.7em;top:0.25em"><i>t</i></span>) with <i>s</i><span class="sb" style="font-size:0.7em;top:0.25em">0</span> ~ <i>P</i>(<i>s</i><span class="sb" style="font-size:0.7em;top:0.25em">0</span>), <i>z</i><span class="sb" style="font-size:0.7em;top:0.25em">0</span> = 0, and <i>s</i><span class="sb" style="font-size:0.7em;top:0.25em"><i>t</i>+1</span> ~ <i>P</i>(·|<i>s</i><span class="sb" style="font-size:0.7em;top:0.25em"><i>t</i></span>, <i>a</i><span class="sb" style="font-size:0.7em;top:0.25em"><i>t</i></span>),</span></div>
<div class="t r" style="left:2351.7px;top:655.6px;font-size:26.2px;"><span style="transform: scaleX(1.3706);"><b><i>z</i></b><span class="sb" style="font-size:0.7em;top:0.25em"><i>t</i>+1</span> = <b><i>z</i></b><span class="sb" style="font-size:0.7em;top:0.25em"><i>t</i></span> + <i>γ</i><span class="sb" style="font-size:0.7em;top:-0.42em"><i>t</i></span><b><i>r</i></b><span class="sb" style="font-size:0.7em;top:0.22em"><i>t</i></span>.</span></div>
<div class="t r" style="left:2351.7px;top:684.9px;font-size:26.2px;"><span style="transform: scaleX(1.1866);">Let scalar reward function <i>R</i> as <i>R</i>((<i>s</i><span class="sb" style="font-size:0.7em;top:0.25em"><i>t</i></span>, <b><i>z</i></b><span class="sb" style="font-size:0.7em;top:0.25em"><i>t</i></span>), <i>a</i><span class="sb" style="font-size:0.7em;top:0.25em"><i>t</i></span>, (<i>s</i><span class="sb" style="font-size:0.7em;top:0.25em"><i>t</i>+1</span>, <b><i>z</i></b><span class="sb" style="font-size:0.7em;top:0.25em"><i>t</i>+1</span>)) = <i>γ</i><span class="sb" style="font-size:0.7em;top:-0.42em">−<i>t</i></span>[<i>f</i>(<b><i>z</i></b><span class="sb" style="font-size:0.7em;top:0.25em"><i>t</i>+1</span>) − <i>f</i>(<b><i>z</i></b><span class="sb" style="font-size:0.7em;top:0.25em"><i>t</i></span>)].</span></div>
<div class="t r" style="left:2351.7px;top:718.1px;font-size:26.2px;"><span style="transform: scaleX(1.1293);">Optimize policy π under environment <span style="position:relative"><i>M</i><span class="n" style="position:absolute;left:0.22em;top:-0.38em;font-size:0.8em">~</span></span> = (<span style="position:relative"><i>S</i><span class="n" style="position:absolute;left:0.22em;top:-0.38em;font-size:0.8em">~</span></span>, <i>A</i>, <span style="position:relative"><i>P</i><span class="n" style="position:absolute;left:0.22em;top:-0.38em;font-size:0.8em">~</span></span>, <span style="position:relative"><i>P</i><span class="n" style="position:absolute;left:0.22em;top:-0.38em;font-size:0.8em">~</span></span><span class="sb" style="font-size:0.7em;top:0.22em">0</span>, <i>R, γ, T</i>) under off-the-shelf RL</span></div>
<div class="t r" style="left:2351.7px;top:747.4px;font-size:26.2px;"><span style="transform: scaleX(1.0249);">algorithm (such as PPO or SAC) to π′.</span></div>
<div class="a " style="left:2319.0px;top:834.0px;width:21.0px;height:21.0px;background:#344854"></div>
<div class="t s" style="left:2352.2px;top:826.3px;font-size:37.4px;color:#344854;"><span style="transform: scaleX(0.987);">We can directly utilize&nbsp; <i><span class="u">off-the-shelf RL</span></i> algorithms, such</span></div>
<div class="t s" style="left:2352.2px;top:880.8px;font-size:37.4px;color:#344854;"><span style="transform: scaleX(0.9928);">as PPO and SAC <i><span class="u">without any modification</span></i></span></div>
<div class="a " style="left:2317.9px;top:931.0px;width:1027.7px;height:86.3px;background:#083764;border:1px solid #2a3f70;box-shadow:0 5px 15px 1px rgba(8,55,100,0.36);border-radius:1px"></div>
<div class="t r b c" style="left:2832.0px;top:945.3px;font-size:57px;color:#fff;"><span style="transform: scaleX(0.9653);">Experiment</span></div>
<div class="t s b i" style="left:2312.0px;top:1038.9px;font-size:36.5px;color:#083764;"><span style="transform: scaleX(1.0204);">Case Study of Utility Functions</span></div>
<div class="a " style="left:2314.0px;top:1094.0px;width:20.0px;height:20.0px;background:#002060"></div>
<div class="t s b i" style="left:2348.0px;top:1086.6px;font-size:36.5px;color:#002060;"><span style="transform: scaleX(0.9417);">Environment</span></div>
<svg class="a" style="left:0;top:0" width="3456" height="2304" viewBox="0 0 3456 2304"><rect x="2436.4" y="1154.5" width="281.9" height="187.1" fill="#fff" stroke="#222" stroke-width="0.8"></rect><ellipse cx="2678.1" cy="1248.1" rx="30.2" ry="20" fill="none" stroke="#1f77b4" stroke-width="2.5"></ellipse><ellipse cx="2477.1" cy="1248.1" rx="30.2" ry="20" fill="none" stroke="#ff7f0e" stroke-width="2.5"></ellipse><ellipse cx="2577.6" cy="1181.3" rx="30.2" ry="20" fill="none" stroke="#2ca02c" stroke-width="2.5"></ellipse><ellipse cx="2577.6" cy="1314.9" rx="30.2" ry="20" fill="none" stroke="#d62728" stroke-width="2.5"></ellipse><path d="M2553.5 1240.1 H2565.5 V1248.1 H2577.6" fill="none" stroke="#6a6aff" stroke-width="2"></path><path d="M2575.1 1245.6 l5 5 m0 -5 l-5 5" stroke="#ff0000" stroke-width="1" fill="none"></path><g font-size="10.8" fill="#222"><path d="M2457.0 1341.6v3.5" stroke="#222" stroke-width="0.8"></path><text x="2457.0" y="1356.1" text-anchor="middle">−6</text><path d="M2436.4 1328.3h-3.5" stroke="#222" stroke-width="0.8"></path><text x="2430.4" y="1332.1" text-anchor="end">−6</text><path d="M2497.2 1341.6v3.5" stroke="#222" stroke-width="0.8"></path><text x="2497.2" y="1356.1" text-anchor="middle">−4</text><path d="M2436.4 1301.5h-3.5" stroke="#222" stroke-width="0.8"></path><text x="2430.4" y="1305.3" text-anchor="end">−4</text><path d="M2537.4 1341.6v3.5" stroke="#222" stroke-width="0.8"></path><text x="2537.4" y="1356.1" text-anchor="middle">−2</text><path d="M2436.4 1274.8h-3.5" stroke="#222" stroke-width="0.8"></path><text x="2430.4" y="1278.6" text-anchor="end">−2</text><path d="M2577.6 1341.6v3.5" stroke="#222" stroke-width="0.8"></path><text x="2577.6" y="1356.1" text-anchor="middle">0</text><path d="M2436.4 1248.1h-3.5" stroke="#222" stroke-width="0.8"></path><text x="2430.4" y="1251.9" text-anchor="end">0</text><path d="M2617.8 1341.6v3.5" stroke="#222" stroke-width="0.8"></path><text x="2617.8" y="1356.1" text-anchor="middle">2</text><path d="M2436.4 1221.4h-3.5" stroke="#222" stroke-width="0.8"></path><text x="2430.4" y="1225.2" text-anchor="end">2</text><path d="M2658.0 1341.6v3.5" stroke="#222" stroke-width="0.8"></path><text x="2658.0" y="1356.1" text-anchor="middle">4</text><path d="M2436.4 1194.7h-3.5" stroke="#222" stroke-width="0.8"></path><text x="2430.4" y="1198.5" text-anchor="end">4</text><path d="M2698.2 1341.6v3.5" stroke="#222" stroke-width="0.8"></path><text x="2698.2" y="1356.1" text-anchor="middle">6</text><path d="M2436.4 1167.9h-3.5" stroke="#222" stroke-width="0.8"></path><text x="2430.4" y="1171.7" text-anchor="end">6</text></g><text x="2577.3" y="1150.0" text-anchor="middle" font-size="13" fill="#222" lengthAdjust="spacingAndGlyphs" textLength="175">Diverse Goal Environment</text><text x="2577.3" y="1369.6" text-anchor="middle" font-size="11" fill="#222">x</text><text transform="translate(2408.4 1251.0) rotate(-90)" text-anchor="middle" font-size="11" fill="#222">y</text><rect x="2663.5" y="1158.5" width="51" height="54" rx="2" fill="#fff" fill-opacity="0.8" stroke="#ccc" stroke-width="0.8"></rect><path d="M2667.5 1166.5 h15" stroke="#1f77b4" stroke-width="2.2"></path><text x="2688.5" y="1169.1" font-size="7.4" fill="#222">Goal 0</text><path d="M2667.5 1176.9 h15" stroke="#ff7f0e" stroke-width="2.2"></path><text x="2688.5" y="1179.5" font-size="7.4" fill="#222">Goal 1</text><path d="M2667.5 1187.3 h15" stroke="#2ca02c" stroke-width="2.2"></path><text x="2688.5" y="1189.8999999999999" font-size="7.4" fill="#222">Goal 2</text><path d="M2667.5 1197.7 h15" stroke="#d62728" stroke-width="2.2"></path><text x="2688.5" y="1200.3" font-size="7.4" fill="#222">Goal 3</text><path d="M2672.5 1205.6 l5 5 m0 -5 l-5 5" stroke="#ff0000" stroke-width="1" fill="none"></path><text x="2688.5" y="1210.6999999999998" font-size="7.2" fill="#222">Start</text></svg>
<svg class="a" style="left:0;top:0" width="3456" height="2304" viewBox="0 0 3456 2304"><rect x="2971" y="1153.5" width="254.6" height="189.1" fill="#fff" stroke="#222" stroke-width="0.8"></rect><g fill="#1f77b4" fill-opacity="0.6"><circle cx="3136.7" cy="1303.0" r="2.4"></circle><circle cx="3149.7" cy="1316.6" r="2.4"></circle><circle cx="3146.2" cy="1322.0" r="2.4"></circle><circle cx="3134.8" cy="1304.4" r="2.4"></circle><circle cx="3150.7" cy="1301.8" r="2.4"></circle><circle cx="3130.0" cy="1285.3" r="2.4"></circle><circle cx="3156.5" cy="1309.9" r="2.4"></circle><circle cx="3145.5" cy="1307.0" r="2.4"></circle><circle cx="3139.2" cy="1298.6" r="2.4"></circle><circle cx="3122.1" cy="1300.9" r="2.4"></circle><circle cx="3124.6" cy="1313.4" r="2.4"></circle><circle cx="3131.8" cy="1325.3" r="2.4"></circle><circle cx="3119.7" cy="1298.9" r="2.4"></circle><circle cx="3144.9" cy="1291.5" r="2.4"></circle><circle cx="3131.8" cy="1293.3" r="2.4"></circle><circle cx="3155.9" cy="1287.6" r="2.4"></circle><circle cx="3120.8" cy="1322.5" r="2.4"></circle><circle cx="3142.1" cy="1286.8" r="2.4"></circle><circle cx="3137.0" cy="1290.3" r="2.4"></circle><circle cx="3140.2" cy="1299.0" r="2.4"></circle><circle cx="3140.8" cy="1299.0" r="2.4"></circle><circle cx="3132.2" cy="1279.7" r="2.4"></circle><circle cx="3148.2" cy="1308.3" r="2.4"></circle><circle cx="3133.9" cy="1314.1" r="2.4"></circle><circle cx="3143.0" cy="1318.7" r="2.4"></circle><circle cx="3133.3" cy="1292.7" r="2.4"></circle><circle cx="3143.9" cy="1294.8" r="2.4"></circle><circle cx="3123.2" cy="1292.5" r="2.4"></circle><circle cx="3135.7" cy="1285.9" r="2.4"></circle><circle cx="3134.0" cy="1281.6" r="2.4"></circle><circle cx="3142.2" cy="1292.7" r="2.4"></circle><circle cx="3132.6" cy="1306.5" r="2.4"></circle><circle cx="3132.7" cy="1289.7" r="2.4"></circle><circle cx="3132.0" cy="1303.0" r="2.4"></circle><circle cx="3151.2" cy="1295.5" r="2.4"></circle><circle cx="3134.2" cy="1298.3" r="2.4"></circle><circle cx="3120.6" cy="1319.6" r="2.4"></circle><circle cx="3142.5" cy="1268.8" r="2.4"></circle><circle cx="3161.2" cy="1271.6" r="2.4"></circle><circle cx="3144.1" cy="1307.9" r="2.4"></circle><circle cx="3150.0" cy="1315.9" r="2.4"></circle><circle cx="3103.2" cy="1296.6" r="2.4"></circle><circle cx="3149.6" cy="1293.2" r="2.4"></circle><circle cx="3155.7" cy="1292.5" r="2.4"></circle><circle cx="3141.4" cy="1314.2" r="2.4"></circle><circle cx="3135.7" cy="1315.7" r="2.4"></circle><circle cx="3132.9" cy="1279.0" r="2.4"></circle><circle cx="3139.8" cy="1297.2" r="2.4"></circle><circle cx="3129.0" cy="1270.6" r="2.4"></circle><circle cx="3113.7" cy="1312.7" r="2.4"></circle><circle cx="3148.5" cy="1310.6" r="2.4"></circle><circle cx="3127.8" cy="1295.6" r="2.4"></circle><circle cx="3146.2" cy="1293.5" r="2.4"></circle><circle cx="3127.1" cy="1292.7" r="2.4"></circle><circle cx="3122.9" cy="1312.6" r="2.4"></circle><circle cx="3125.4" cy="1297.7" r="2.4"></circle><circle cx="3133.1" cy="1313.0" r="2.4"></circle><circle cx="3137.7" cy="1313.8" r="2.4"></circle><circle cx="3131.3" cy="1305.4" r="2.4"></circle><circle cx="3130.5" cy="1313.6" r="2.4"></circle><circle cx="3122.4" cy="1288.6" r="2.4"></circle><circle cx="3112.7" cy="1298.1" r="2.4"></circle><circle cx="3127.7" cy="1310.1" r="2.4"></circle><circle cx="3116.1" cy="1302.0" r="2.4"></circle><circle cx="3130.7" cy="1289.0" r="2.4"></circle><circle cx="3130.5" cy="1314.6" r="2.4"></circle><circle cx="3123.0" cy="1290.2" r="2.4"></circle><circle cx="3144.0" cy="1305.8" r="2.4"></circle><circle cx="3157.0" cy="1298.5" r="2.4"></circle><circle cx="3133.8" cy="1295.5" r="2.4"></circle><circle cx="3124.2" cy="1300.5" r="2.4"></circle><circle cx="3123.8" cy="1294.8" r="2.4"></circle><circle cx="3144.8" cy="1303.0" r="2.4"></circle><circle cx="3150.1" cy="1310.0" r="2.4"></circle><circle cx="3143.7" cy="1303.1" r="2.4"></circle><circle cx="3123.5" cy="1293.5" r="2.4"></circle><circle cx="3157.5" cy="1264.8" r="2.4"></circle><circle cx="3138.4" cy="1295.9" r="2.4"></circle><circle cx="3157.6" cy="1314.2" r="2.4"></circle><circle cx="3155.3" cy="1321.4" r="2.4"></circle><circle cx="3123.5" cy="1304.3" r="2.4"></circle><circle cx="3132.7" cy="1290.1" r="2.4"></circle><circle cx="3124.6" cy="1303.2" r="2.4"></circle><circle cx="3133.1" cy="1299.7" r="2.4"></circle><circle cx="3144.6" cy="1290.5" r="2.4"></circle><circle cx="3141.1" cy="1297.1" r="2.4"></circle><circle cx="3137.9" cy="1320.3" r="2.4"></circle><circle cx="3115.5" cy="1297.4" r="2.4"></circle><circle cx="3120.8" cy="1311.1" r="2.4"></circle><circle cx="3139.9" cy="1305.8" r="2.4"></circle><circle cx="3127.8" cy="1312.4" r="2.4"></circle><circle cx="3137.7" cy="1284.2" r="2.4"></circle><circle cx="3117.1" cy="1304.6" r="2.4"></circle><circle cx="3148.7" cy="1298.5" r="2.4"></circle><circle cx="3130.2" cy="1301.3" r="2.4"></circle><circle cx="3142.1" cy="1289.5" r="2.4"></circle><circle cx="3118.3" cy="1311.9" r="2.4"></circle><circle cx="3140.6" cy="1296.5" r="2.4"></circle><circle cx="3140.2" cy="1296.7" r="2.4"></circle><circle cx="3147.8" cy="1296.2" r="2.4"></circle><circle cx="3167.9" cy="1309.7" r="2.4"></circle><circle cx="3133.0" cy="1319.0" r="2.4"></circle><circle cx="3144.4" cy="1298.8" r="2.4"></circle><circle cx="3135.4" cy="1315.3" r="2.4"></circle><circle cx="3160.7" cy="1296.7" r="2.4"></circle><circle cx="3147.1" cy="1317.7" r="2.4"></circle><circle cx="3141.3" cy="1295.7" r="2.4"></circle><circle cx="3157.8" cy="1294.6" r="2.4"></circle><circle cx="3150.0" cy="1320.2" r="2.4"></circle><circle cx="3134.8" cy="1300.6" r="2.4"></circle><circle cx="3136.1" cy="1305.1" r="2.4"></circle><circle cx="3133.6" cy="1286.1" r="2.4"></circle><circle cx="3132.2" cy="1292.8" r="2.4"></circle><circle cx="3145.5" cy="1305.9" r="2.4"></circle><circle cx="3139.0" cy="1330.0" r="2.4"></circle><circle cx="3130.1" cy="1288.6" r="2.4"></circle><circle cx="3129.8" cy="1326.2" r="2.4"></circle><circle cx="3148.9" cy="1317.1" r="2.4"></circle><circle cx="3153.4" cy="1302.1" r="2.4"></circle><circle cx="3121.8" cy="1309.9" r="2.4"></circle><circle cx="3155.9" cy="1299.5" r="2.4"></circle><circle cx="3136.3" cy="1299.8" r="2.4"></circle><circle cx="3135.2" cy="1309.4" r="2.4"></circle><circle cx="3144.7" cy="1284.2" r="2.4"></circle><circle cx="3138.3" cy="1282.8" r="2.4"></circle><circle cx="3150.5" cy="1319.8" r="2.4"></circle><circle cx="3145.6" cy="1285.7" r="2.4"></circle><circle cx="3113.2" cy="1308.4" r="2.4"></circle><circle cx="3142.7" cy="1312.3" r="2.4"></circle><circle cx="3137.1" cy="1305.9" r="2.4"></circle><circle cx="3125.5" cy="1304.1" r="2.4"></circle><circle cx="3131.2" cy="1303.4" r="2.4"></circle><circle cx="3135.6" cy="1311.2" r="2.4"></circle><circle cx="3126.3" cy="1310.5" r="2.4"></circle><circle cx="3141.6" cy="1315.3" r="2.4"></circle><circle cx="3151.8" cy="1313.9" r="2.4"></circle><circle cx="3158.3" cy="1306.0" r="2.4"></circle><circle cx="3130.3" cy="1309.5" r="2.4"></circle><circle cx="3141.5" cy="1301.0" r="2.4"></circle><circle cx="3125.1" cy="1300.8" r="2.4"></circle><circle cx="3141.8" cy="1300.4" r="2.4"></circle><circle cx="3151.7" cy="1332.3" r="2.4"></circle><circle cx="3133.7" cy="1310.1" r="2.4"></circle><circle cx="3141.9" cy="1279.4" r="2.4"></circle><circle cx="3120.1" cy="1312.3" r="2.4"></circle><circle cx="3133.9" cy="1290.9" r="2.4"></circle><circle cx="3149.3" cy="1310.6" r="2.4"></circle><circle cx="3147.2" cy="1302.6" r="2.4"></circle><circle cx="3149.3" cy="1300.8" r="2.4"></circle><circle cx="3143.8" cy="1301.4" r="2.4"></circle><circle cx="3126.9" cy="1312.7" r="2.4"></circle><circle cx="3143.2" cy="1310.1" r="2.4"></circle><circle cx="3125.5" cy="1304.2" r="2.4"></circle><circle cx="3142.9" cy="1293.9" r="2.4"></circle><circle cx="3129.0" cy="1303.4" r="2.4"></circle><circle cx="3144.0" cy="1309.3" r="2.4"></circle><circle cx="3148.8" cy="1299.7" r="2.4"></circle><circle cx="3125.4" cy="1294.0" r="2.4"></circle><circle cx="3133.9" cy="1282.8" r="2.4"></circle><circle cx="3135.5" cy="1283.4" r="2.4"></circle><circle cx="3164.6" cy="1294.4" r="2.4"></circle><circle cx="3143.8" cy="1305.6" r="2.4"></circle><circle cx="3139.1" cy="1291.6" r="2.4"></circle><circle cx="3161.6" cy="1286.5" r="2.4"></circle><circle cx="3128.1" cy="1285.9" r="2.4"></circle><circle cx="3129.4" cy="1279.4" r="2.4"></circle><circle cx="3152.2" cy="1295.1" r="2.4"></circle><circle cx="3123.2" cy="1293.7" r="2.4"></circle><circle cx="3129.7" cy="1310.2" r="2.4"></circle><circle cx="3136.2" cy="1320.7" r="2.4"></circle><circle cx="3138.3" cy="1297.1" r="2.4"></circle><circle cx="3147.9" cy="1308.8" r="2.4"></circle><circle cx="3131.5" cy="1285.6" r="2.4"></circle><circle cx="3152.1" cy="1321.6" r="2.4"></circle><circle cx="3143.9" cy="1289.7" r="2.4"></circle><circle cx="3129.0" cy="1289.9" r="2.4"></circle><circle cx="3134.3" cy="1306.2" r="2.4"></circle><circle cx="3122.7" cy="1285.6" r="2.4"></circle><circle cx="3119.6" cy="1311.4" r="2.4"></circle><circle cx="3120.4" cy="1285.4" r="2.4"></circle><circle cx="3124.4" cy="1308.9" r="2.4"></circle><circle cx="3136.4" cy="1295.6" r="2.4"></circle><circle cx="3118.9" cy="1324.8" r="2.4"></circle><circle cx="3123.9" cy="1296.7" r="2.4"></circle><circle cx="3132.0" cy="1296.2" r="2.4"></circle><circle cx="3126.5" cy="1291.5" r="2.4"></circle><circle cx="3139.3" cy="1302.3" r="2.4"></circle><circle cx="3142.3" cy="1298.7" r="2.4"></circle><circle cx="3139.2" cy="1320.4" r="2.4"></circle><circle cx="3140.1" cy="1303.9" r="2.4"></circle><circle cx="3142.1" cy="1299.2" r="2.4"></circle><circle cx="3132.1" cy="1296.5" r="2.4"></circle><circle cx="3155.4" cy="1295.2" r="2.4"></circle><circle cx="3137.8" cy="1299.9" r="2.4"></circle><circle cx="3149.8" cy="1309.4" r="2.4"></circle><circle cx="3137.7" cy="1305.8" r="2.4"></circle><circle cx="3120.1" cy="1292.4" r="2.4"></circle><circle cx="3148.5" cy="1305.0" r="2.4"></circle><circle cx="3135.8" cy="1294.0" r="2.4"></circle></g><g fill="#ff7f0e" fill-opacity="0.6"><circle cx="3082.0" cy="1242.8" r="2.4"></circle><circle cx="3075.1" cy="1236.2" r="2.4"></circle><circle cx="3108.1" cy="1223.9" r="2.4"></circle><circle cx="3091.7" cy="1237.1" r="2.4"></circle><circle cx="3085.4" cy="1236.8" r="2.4"></circle><circle cx="3091.3" cy="1237.1" r="2.4"></circle><circle cx="3105.7" cy="1222.0" r="2.4"></circle><circle cx="3099.1" cy="1223.3" r="2.4"></circle><circle cx="3081.9" cy="1219.3" r="2.4"></circle><circle cx="3098.6" cy="1244.5" r="2.4"></circle><circle cx="3076.2" cy="1242.3" r="2.4"></circle><circle cx="3080.4" cy="1231.9" r="2.4"></circle><circle cx="3104.8" cy="1233.5" r="2.4"></circle><circle cx="3092.5" cy="1243.0" r="2.4"></circle><circle cx="3110.2" cy="1227.1" r="2.4"></circle><circle cx="3093.5" cy="1228.6" r="2.4"></circle><circle cx="3100.7" cy="1234.2" r="2.4"></circle><circle cx="3091.2" cy="1234.6" r="2.4"></circle><circle cx="3093.9" cy="1243.7" r="2.4"></circle><circle cx="3084.3" cy="1249.9" r="2.4"></circle><circle cx="3083.2" cy="1234.0" r="2.4"></circle><circle cx="3100.4" cy="1229.5" r="2.4"></circle><circle cx="3095.8" cy="1227.0" r="2.4"></circle><circle cx="3087.6" cy="1238.1" r="2.4"></circle><circle cx="3095.4" cy="1237.9" r="2.4"></circle><circle cx="3086.6" cy="1233.5" r="2.4"></circle><circle cx="3099.6" cy="1237.1" r="2.4"></circle><circle cx="3090.4" cy="1243.3" r="2.4"></circle><circle cx="3100.9" cy="1234.3" r="2.4"></circle><circle cx="3092.4" cy="1234.9" r="2.4"></circle><circle cx="3105.5" cy="1228.8" r="2.4"></circle><circle cx="3095.2" cy="1225.2" r="2.4"></circle><circle cx="3070.8" cy="1236.7" r="2.4"></circle><circle cx="3075.7" cy="1234.0" r="2.4"></circle><circle cx="3098.7" cy="1232.5" r="2.4"></circle><circle cx="3098.5" cy="1221.5" r="2.4"></circle><circle cx="3095.5" cy="1239.1" r="2.4"></circle><circle cx="3090.2" cy="1236.0" r="2.4"></circle><circle cx="3087.7" cy="1239.3" r="2.4"></circle><circle cx="3098.1" cy="1229.9" r="2.4"></circle><circle cx="3091.1" cy="1228.1" r="2.4"></circle><circle cx="3097.7" cy="1233.8" r="2.4"></circle><circle cx="3097.7" cy="1240.2" r="2.4"></circle><circle cx="3095.0" cy="1226.7" r="2.4"></circle><circle cx="3096.9" cy="1222.8" r="2.4"></circle><circle cx="3099.6" cy="1231.3" r="2.4"></circle><circle cx="3090.4" cy="1235.2" r="2.4"></circle><circle cx="3109.7" cy="1234.9" r="2.4"></circle><circle cx="3096.9" cy="1239.3" r="2.4"></circle><circle cx="3094.8" cy="1228.3" r="2.4"></circle><circle cx="3098.6" cy="1234.9" r="2.4"></circle><circle cx="3102.6" cy="1226.6" r="2.4"></circle><circle cx="3081.7" cy="1250.3" r="2.4"></circle><circle cx="3106.9" cy="1227.5" r="2.4"></circle><circle cx="3087.3" cy="1240.9" r="2.4"></circle><circle cx="3096.1" cy="1232.8" r="2.4"></circle><circle cx="3097.3" cy="1238.9" r="2.4"></circle><circle cx="3104.1" cy="1226.6" r="2.4"></circle><circle cx="3087.8" cy="1251.7" r="2.4"></circle><circle cx="3097.8" cy="1233.2" r="2.4"></circle><circle cx="3097.6" cy="1230.1" r="2.4"></circle><circle cx="3096.6" cy="1225.3" r="2.4"></circle><circle cx="3106.1" cy="1236.3" r="2.4"></circle><circle cx="3094.1" cy="1229.0" r="2.4"></circle><circle cx="3074.9" cy="1249.3" r="2.4"></circle><circle cx="3088.7" cy="1250.0" r="2.4"></circle><circle cx="3082.7" cy="1230.5" r="2.4"></circle><circle cx="3091.7" cy="1227.9" r="2.4"></circle><circle cx="3098.7" cy="1234.1" r="2.4"></circle><circle cx="3093.2" cy="1228.5" r="2.4"></circle><circle cx="3102.6" cy="1215.9" r="2.4"></circle><circle cx="3098.4" cy="1234.9" r="2.4"></circle><circle cx="3085.4" cy="1238.1" r="2.4"></circle><circle cx="3080.1" cy="1252.6" r="2.4"></circle><circle cx="3097.8" cy="1234.5" r="2.4"></circle><circle cx="3087.7" cy="1244.3" r="2.4"></circle><circle cx="3114.7" cy="1238.7" r="2.4"></circle><circle cx="3106.1" cy="1224.8" r="2.4"></circle><circle cx="3096.4" cy="1222.5" r="2.4"></circle><circle cx="3107.1" cy="1225.6" r="2.4"></circle><circle cx="3106.7" cy="1226.5" r="2.4"></circle><circle cx="3103.4" cy="1231.7" r="2.4"></circle><circle cx="3106.5" cy="1218.2" r="2.4"></circle><circle cx="3103.3" cy="1232.1" r="2.4"></circle><circle cx="3102.6" cy="1232.8" r="2.4"></circle><circle cx="3083.3" cy="1234.0" r="2.4"></circle><circle cx="3099.1" cy="1239.7" r="2.4"></circle><circle cx="3097.2" cy="1236.3" r="2.4"></circle><circle cx="3116.0" cy="1224.4" r="2.4"></circle><circle cx="3098.5" cy="1237.8" r="2.4"></circle><circle cx="3095.8" cy="1226.2" r="2.4"></circle><circle cx="3096.3" cy="1248.5" r="2.4"></circle><circle cx="3093.3" cy="1234.4" r="2.4"></circle><circle cx="3095.7" cy="1238.0" r="2.4"></circle><circle cx="3103.1" cy="1245.5" r="2.4"></circle><circle cx="3096.5" cy="1227.4" r="2.4"></circle><circle cx="3108.0" cy="1229.0" r="2.4"></circle><circle cx="3101.5" cy="1228.2" r="2.4"></circle><circle cx="3090.4" cy="1241.5" r="2.4"></circle><circle cx="3084.5" cy="1246.6" r="2.4"></circle><circle cx="3088.4" cy="1234.7" r="2.4"></circle><circle cx="3108.8" cy="1231.8" r="2.4"></circle><circle cx="3100.5" cy="1239.2" r="2.4"></circle><circle cx="3108.3" cy="1226.9" r="2.4"></circle><circle cx="3108.4" cy="1225.8" r="2.4"></circle><circle cx="3098.3" cy="1227.8" r="2.4"></circle><circle cx="3095.9" cy="1247.8" r="2.4"></circle><circle cx="3096.7" cy="1227.2" r="2.4"></circle><circle cx="3077.7" cy="1246.8" r="2.4"></circle><circle cx="3097.8" cy="1237.4" r="2.4"></circle><circle cx="3081.0" cy="1247.9" r="2.4"></circle><circle cx="3089.8" cy="1231.3" r="2.4"></circle><circle cx="3112.0" cy="1233.5" r="2.4"></circle><circle cx="3106.6" cy="1226.3" r="2.4"></circle><circle cx="3094.8" cy="1241.3" r="2.4"></circle><circle cx="3086.5" cy="1246.8" r="2.4"></circle><circle cx="3096.0" cy="1235.8" r="2.4"></circle><circle cx="3107.0" cy="1229.4" r="2.4"></circle><circle cx="3104.0" cy="1239.9" r="2.4"></circle><circle cx="3102.4" cy="1237.9" r="2.4"></circle><circle cx="3095.2" cy="1244.2" r="2.4"></circle><circle cx="3109.9" cy="1232.0" r="2.4"></circle><circle cx="3090.1" cy="1228.1" r="2.4"></circle><circle cx="3104.2" cy="1223.2" r="2.4"></circle><circle cx="3093.7" cy="1239.0" r="2.4"></circle><circle cx="3090.4" cy="1233.7" r="2.4"></circle><circle cx="3109.1" cy="1241.1" r="2.4"></circle><circle cx="3098.3" cy="1235.8" r="2.4"></circle><circle cx="3094.3" cy="1231.0" r="2.4"></circle><circle cx="3083.8" cy="1245.6" r="2.4"></circle><circle cx="3088.8" cy="1237.1" r="2.4"></circle><circle cx="3104.3" cy="1235.3" r="2.4"></circle><circle cx="3114.7" cy="1236.4" r="2.4"></circle><circle cx="3091.6" cy="1232.5" r="2.4"></circle><circle cx="3099.2" cy="1224.7" r="2.4"></circle><circle cx="3096.0" cy="1234.0" r="2.4"></circle><circle cx="3105.5" cy="1232.4" r="2.4"></circle><circle cx="3089.5" cy="1234.5" r="2.4"></circle><circle cx="3094.6" cy="1227.2" r="2.4"></circle><circle cx="3097.9" cy="1242.4" r="2.4"></circle><circle cx="3086.0" cy="1241.1" r="2.4"></circle><circle cx="3084.0" cy="1248.1" r="2.4"></circle><circle cx="3108.5" cy="1218.4" r="2.4"></circle><circle cx="3083.5" cy="1243.7" r="2.4"></circle><circle cx="3085.5" cy="1222.8" r="2.4"></circle><circle cx="3084.7" cy="1234.5" r="2.4"></circle><circle cx="3101.1" cy="1234.0" r="2.4"></circle><circle cx="3108.4" cy="1231.8" r="2.4"></circle><circle cx="3093.8" cy="1229.9" r="2.4"></circle><circle cx="3075.2" cy="1234.9" r="2.4"></circle><circle cx="3092.0" cy="1233.5" r="2.4"></circle><circle cx="3091.8" cy="1236.1" r="2.4"></circle><circle cx="3085.7" cy="1244.9" r="2.4"></circle><circle cx="3102.4" cy="1239.1" r="2.4"></circle><circle cx="3103.0" cy="1223.6" r="2.4"></circle><circle cx="3083.9" cy="1233.7" r="2.4"></circle><circle cx="3091.5" cy="1243.2" r="2.4"></circle><circle cx="3079.2" cy="1240.1" r="2.4"></circle><circle cx="3097.1" cy="1231.2" r="2.4"></circle><circle cx="3103.6" cy="1232.5" r="2.4"></circle><circle cx="3094.2" cy="1236.5" r="2.4"></circle><circle cx="3092.6" cy="1233.1" r="2.4"></circle><circle cx="3101.3" cy="1217.9" r="2.4"></circle><circle cx="3082.4" cy="1247.6" r="2.4"></circle><circle cx="3087.4" cy="1230.4" r="2.4"></circle><circle cx="3093.6" cy="1232.1" r="2.4"></circle><circle cx="3101.3" cy="1232.0" r="2.4"></circle><circle cx="3087.6" cy="1227.9" r="2.4"></circle><circle cx="3089.5" cy="1228.6" r="2.4"></circle><circle cx="3092.6" cy="1235.4" r="2.4"></circle><circle cx="3086.4" cy="1234.8" r="2.4"></circle><circle cx="3080.1" cy="1231.4" r="2.4"></circle><circle cx="3088.7" cy="1233.1" r="2.4"></circle><circle cx="3088.5" cy="1240.8" r="2.4"></circle><circle cx="3092.4" cy="1227.2" r="2.4"></circle><circle cx="3108.9" cy="1235.9" r="2.4"></circle><circle cx="3098.5" cy="1225.1" r="2.4"></circle><circle cx="3092.9" cy="1234.9" r="2.4"></circle><circle cx="3098.4" cy="1238.2" r="2.4"></circle><circle cx="3097.1" cy="1236.4" r="2.4"></circle><circle cx="3087.8" cy="1238.2" r="2.4"></circle><circle cx="3087.9" cy="1234.2" r="2.4"></circle><circle cx="3096.9" cy="1234.7" r="2.4"></circle><circle cx="3096.5" cy="1226.9" r="2.4"></circle><circle cx="3093.7" cy="1241.4" r="2.4"></circle><circle cx="3096.0" cy="1229.9" r="2.4"></circle><circle cx="3090.6" cy="1228.5" r="2.4"></circle><circle cx="3088.3" cy="1227.1" r="2.4"></circle><circle cx="3097.3" cy="1226.9" r="2.4"></circle><circle cx="3100.2" cy="1236.3" r="2.4"></circle><circle cx="3117.1" cy="1219.4" r="2.4"></circle><circle cx="3093.1" cy="1231.1" r="2.4"></circle><circle cx="3085.5" cy="1237.4" r="2.4"></circle><circle cx="3100.6" cy="1236.4" r="2.4"></circle><circle cx="3097.4" cy="1229.0" r="2.4"></circle><circle cx="3112.0" cy="1231.0" r="2.4"></circle><circle cx="3090.5" cy="1225.3" r="2.4"></circle><circle cx="3091.5" cy="1229.7" r="2.4"></circle><circle cx="3101.5" cy="1237.5" r="2.4"></circle><circle cx="3097.2" cy="1227.4" r="2.4"></circle></g><g fill="#2ca02c" fill-opacity="0.6"><circle cx="3032.3" cy="1203.7" r="2.4"></circle><circle cx="3041.3" cy="1182.0" r="2.4"></circle><circle cx="3055.1" cy="1223.8" r="2.4"></circle><circle cx="3023.5" cy="1195.7" r="2.4"></circle><circle cx="3037.7" cy="1198.5" r="2.4"></circle><circle cx="3046.5" cy="1191.3" r="2.4"></circle><circle cx="3012.2" cy="1215.3" r="2.4"></circle><circle cx="3011.6" cy="1187.9" r="2.4"></circle><circle cx="3039.2" cy="1208.5" r="2.4"></circle><circle cx="3038.7" cy="1194.9" r="2.4"></circle><circle cx="3040.7" cy="1220.9" r="2.4"></circle><circle cx="3044.7" cy="1190.9" r="2.4"></circle><circle cx="3033.6" cy="1201.0" r="2.4"></circle><circle cx="3026.7" cy="1185.5" r="2.4"></circle><circle cx="3025.0" cy="1208.8" r="2.4"></circle><circle cx="3039.5" cy="1201.7" r="2.4"></circle><circle cx="3043.8" cy="1217.6" r="2.4"></circle><circle cx="3043.9" cy="1211.3" r="2.4"></circle><circle cx="3038.0" cy="1200.3" r="2.4"></circle><circle cx="3029.2" cy="1235.0" r="2.4"></circle><circle cx="3055.3" cy="1206.0" r="2.4"></circle><circle cx="3028.8" cy="1188.5" r="2.4"></circle><circle cx="3055.0" cy="1202.0" r="2.4"></circle><circle cx="3056.6" cy="1199.1" r="2.4"></circle><circle cx="3033.2" cy="1208.4" r="2.4"></circle><circle cx="3050.6" cy="1203.8" r="2.4"></circle><circle cx="3028.8" cy="1201.2" r="2.4"></circle><circle cx="3044.7" cy="1206.4" r="2.4"></circle><circle cx="3043.7" cy="1188.8" r="2.4"></circle><circle cx="3039.4" cy="1189.7" r="2.4"></circle><circle cx="3040.9" cy="1194.7" r="2.4"></circle><circle cx="3038.0" cy="1203.5" r="2.4"></circle><circle cx="3023.2" cy="1200.6" r="2.4"></circle><circle cx="2993.2" cy="1213.1" r="2.4"></circle><circle cx="3029.4" cy="1212.4" r="2.4"></circle><circle cx="3051.6" cy="1217.0" r="2.4"></circle><circle cx="3038.6" cy="1200.3" r="2.4"></circle><circle cx="3047.7" cy="1198.3" r="2.4"></circle><circle cx="3042.6" cy="1198.6" r="2.4"></circle><circle cx="3059.4" cy="1218.8" r="2.4"></circle><circle cx="3020.1" cy="1203.5" r="2.4"></circle><circle cx="3039.8" cy="1194.2" r="2.4"></circle><circle cx="3038.5" cy="1192.2" r="2.4"></circle><circle cx="3015.0" cy="1210.8" r="2.4"></circle><circle cx="3044.5" cy="1207.9" r="2.4"></circle><circle cx="3046.3" cy="1208.5" r="2.4"></circle><circle cx="3033.0" cy="1195.0" r="2.4"></circle><circle cx="3047.0" cy="1206.1" r="2.4"></circle><circle cx="3055.5" cy="1208.3" r="2.4"></circle><circle cx="3042.4" cy="1231.6" r="2.4"></circle><circle cx="3047.7" cy="1187.9" r="2.4"></circle><circle cx="3045.5" cy="1211.7" r="2.4"></circle><circle cx="3050.4" cy="1201.5" r="2.4"></circle><circle cx="3029.2" cy="1214.0" r="2.4"></circle><circle cx="3044.0" cy="1212.8" r="2.4"></circle><circle cx="3030.2" cy="1191.9" r="2.4"></circle><circle cx="3047.8" cy="1190.9" r="2.4"></circle><circle cx="3032.7" cy="1198.5" r="2.4"></circle><circle cx="3062.8" cy="1206.1" r="2.4"></circle><circle cx="3032.0" cy="1195.6" r="2.4"></circle><circle cx="3046.1" cy="1218.4" r="2.4"></circle><circle cx="3044.9" cy="1193.6" r="2.4"></circle><circle cx="3023.0" cy="1222.7" r="2.4"></circle><circle cx="3030.8" cy="1202.5" r="2.4"></circle><circle cx="3039.7" cy="1197.3" r="2.4"></circle><circle cx="3026.8" cy="1186.4" r="2.4"></circle><circle cx="3060.6" cy="1197.8" r="2.4"></circle><circle cx="3034.2" cy="1208.7" r="2.4"></circle><circle cx="3043.3" cy="1202.1" r="2.4"></circle><circle cx="3041.2" cy="1210.5" r="2.4"></circle><circle cx="3039.2" cy="1210.2" r="2.4"></circle><circle cx="3026.6" cy="1215.7" r="2.4"></circle><circle cx="3021.6" cy="1194.6" r="2.4"></circle><circle cx="3021.6" cy="1207.5" r="2.4"></circle><circle cx="3039.8" cy="1198.0" r="2.4"></circle><circle cx="3034.0" cy="1195.2" r="2.4"></circle><circle cx="3034.3" cy="1207.4" r="2.4"></circle><circle cx="3031.8" cy="1216.2" r="2.4"></circle><circle cx="3032.2" cy="1206.1" r="2.4"></circle><circle cx="3039.6" cy="1185.1" r="2.4"></circle><circle cx="3019.2" cy="1209.9" r="2.4"></circle><circle cx="3027.9" cy="1196.5" r="2.4"></circle><circle cx="3049.2" cy="1208.0" r="2.4"></circle><circle cx="3029.3" cy="1194.0" r="2.4"></circle><circle cx="3039.0" cy="1222.5" r="2.4"></circle><circle cx="3030.2" cy="1202.7" r="2.4"></circle><circle cx="3027.7" cy="1174.8" r="2.4"></circle><circle cx="3027.2" cy="1206.0" r="2.4"></circle><circle cx="3040.2" cy="1201.9" r="2.4"></circle><circle cx="3027.1" cy="1209.6" r="2.4"></circle><circle cx="3041.7" cy="1196.9" r="2.4"></circle><circle cx="3046.1" cy="1203.2" r="2.4"></circle><circle cx="3035.4" cy="1202.3" r="2.4"></circle><circle cx="3034.1" cy="1218.6" r="2.4"></circle><circle cx="3025.4" cy="1197.5" r="2.4"></circle><circle cx="3032.3" cy="1207.6" r="2.4"></circle><circle cx="3046.7" cy="1208.3" r="2.4"></circle><circle cx="3031.7" cy="1191.0" r="2.4"></circle><circle cx="3032.0" cy="1221.7" r="2.4"></circle><circle cx="3031.1" cy="1202.9" r="2.4"></circle><circle cx="3057.4" cy="1202.2" r="2.4"></circle><circle cx="3047.4" cy="1217.0" r="2.4"></circle><circle cx="3047.6" cy="1225.5" r="2.4"></circle><circle cx="3050.1" cy="1196.5" r="2.4"></circle><circle cx="3064.6" cy="1201.1" r="2.4"></circle><circle cx="3046.4" cy="1205.8" r="2.4"></circle><circle cx="3030.2" cy="1201.3" r="2.4"></circle><circle cx="3051.3" cy="1217.3" r="2.4"></circle><circle cx="3045.5" cy="1184.7" r="2.4"></circle><circle cx="3022.8" cy="1223.5" r="2.4"></circle><circle cx="3026.1" cy="1226.1" r="2.4"></circle><circle cx="3050.5" cy="1206.9" r="2.4"></circle><circle cx="3027.4" cy="1223.3" r="2.4"></circle><circle cx="3047.9" cy="1209.3" r="2.4"></circle><circle cx="3038.9" cy="1201.2" r="2.4"></circle><circle cx="3059.1" cy="1210.0" r="2.4"></circle><circle cx="3052.9" cy="1190.2" r="2.4"></circle><circle cx="3041.9" cy="1185.5" r="2.4"></circle><circle cx="3024.9" cy="1199.8" r="2.4"></circle><circle cx="3055.7" cy="1185.1" r="2.4"></circle><circle cx="3050.7" cy="1191.2" r="2.4"></circle><circle cx="3019.2" cy="1201.0" r="2.4"></circle><circle cx="3042.3" cy="1207.5" r="2.4"></circle><circle cx="3024.1" cy="1208.9" r="2.4"></circle><circle cx="3059.4" cy="1205.9" r="2.4"></circle><circle cx="3032.1" cy="1182.0" r="2.4"></circle><circle cx="3050.3" cy="1203.1" r="2.4"></circle><circle cx="3047.1" cy="1220.4" r="2.4"></circle><circle cx="3030.5" cy="1187.1" r="2.4"></circle><circle cx="3029.1" cy="1204.8" r="2.4"></circle><circle cx="3056.5" cy="1195.4" r="2.4"></circle><circle cx="3033.7" cy="1210.9" r="2.4"></circle><circle cx="3035.2" cy="1194.4" r="2.4"></circle><circle cx="3026.5" cy="1199.9" r="2.4"></circle><circle cx="3048.4" cy="1197.7" r="2.4"></circle><circle cx="3040.0" cy="1221.2" r="2.4"></circle><circle cx="3047.3" cy="1187.4" r="2.4"></circle><circle cx="3051.5" cy="1203.7" r="2.4"></circle><circle cx="3031.4" cy="1211.5" r="2.4"></circle><circle cx="3035.6" cy="1215.0" r="2.4"></circle><circle cx="3018.0" cy="1227.5" r="2.4"></circle><circle cx="3027.9" cy="1203.3" r="2.4"></circle><circle cx="3049.3" cy="1181.6" r="2.4"></circle><circle cx="3047.0" cy="1196.4" r="2.4"></circle><circle cx="3063.6" cy="1208.0" r="2.4"></circle><circle cx="3060.0" cy="1188.6" r="2.4"></circle><circle cx="3037.9" cy="1197.5" r="2.4"></circle><circle cx="3041.4" cy="1203.6" r="2.4"></circle><circle cx="3049.9" cy="1201.4" r="2.4"></circle><circle cx="3046.4" cy="1200.3" r="2.4"></circle><circle cx="3039.1" cy="1212.8" r="2.4"></circle><circle cx="3052.9" cy="1196.9" r="2.4"></circle><circle cx="3047.3" cy="1213.4" r="2.4"></circle><circle cx="3049.6" cy="1194.4" r="2.4"></circle><circle cx="3064.8" cy="1198.9" r="2.4"></circle><circle cx="3026.4" cy="1195.3" r="2.4"></circle><circle cx="3022.2" cy="1196.6" r="2.4"></circle><circle cx="3060.5" cy="1198.6" r="2.4"></circle><circle cx="3025.9" cy="1196.2" r="2.4"></circle><circle cx="3030.2" cy="1208.8" r="2.4"></circle><circle cx="3021.0" cy="1206.0" r="2.4"></circle><circle cx="3042.3" cy="1192.4" r="2.4"></circle><circle cx="3048.5" cy="1202.8" r="2.4"></circle><circle cx="3045.9" cy="1191.7" r="2.4"></circle><circle cx="3038.5" cy="1207.4" r="2.4"></circle><circle cx="3038.3" cy="1215.9" r="2.4"></circle><circle cx="3047.2" cy="1182.1" r="2.4"></circle><circle cx="3031.0" cy="1199.8" r="2.4"></circle><circle cx="3041.1" cy="1218.3" r="2.4"></circle><circle cx="3051.9" cy="1205.0" r="2.4"></circle><circle cx="3045.1" cy="1206.6" r="2.4"></circle><circle cx="3036.4" cy="1208.4" r="2.4"></circle><circle cx="3056.6" cy="1202.1" r="2.4"></circle><circle cx="3032.6" cy="1200.9" r="2.4"></circle><circle cx="3043.0" cy="1197.2" r="2.4"></circle><circle cx="3038.1" cy="1204.5" r="2.4"></circle><circle cx="3022.3" cy="1212.8" r="2.4"></circle><circle cx="3018.7" cy="1203.9" r="2.4"></circle><circle cx="3047.5" cy="1185.6" r="2.4"></circle><circle cx="3025.6" cy="1209.8" r="2.4"></circle><circle cx="3057.4" cy="1207.2" r="2.4"></circle><circle cx="3042.7" cy="1202.2" r="2.4"></circle><circle cx="3024.5" cy="1207.1" r="2.4"></circle><circle cx="3057.5" cy="1195.5" r="2.4"></circle><circle cx="3060.6" cy="1199.8" r="2.4"></circle><circle cx="3028.8" cy="1198.8" r="2.4"></circle><circle cx="3036.3" cy="1201.0" r="2.4"></circle><circle cx="3053.5" cy="1177.9" r="2.4"></circle><circle cx="3042.6" cy="1209.1" r="2.4"></circle><circle cx="3045.7" cy="1200.1" r="2.4"></circle><circle cx="3038.0" cy="1208.3" r="2.4"></circle><circle cx="3034.6" cy="1207.6" r="2.4"></circle><circle cx="3024.7" cy="1196.1" r="2.4"></circle><circle cx="3043.4" cy="1201.8" r="2.4"></circle><circle cx="3013.7" cy="1206.4" r="2.4"></circle><circle cx="3052.5" cy="1197.3" r="2.4"></circle><circle cx="3028.6" cy="1206.3" r="2.4"></circle><circle cx="3046.2" cy="1207.6" r="2.4"></circle><circle cx="3046.1" cy="1220.7" r="2.4"></circle><circle cx="3041.0" cy="1195.6" r="2.4"></circle></g><g fill="#d62728" fill-opacity="0.6"><circle cx="3133.4" cy="1191.9" r="2.4"></circle><circle cx="3128.4" cy="1226.8" r="2.4"></circle><circle cx="3121.3" cy="1225.9" r="2.4"></circle><circle cx="3102.5" cy="1251.0" r="2.4"></circle><circle cx="3121.6" cy="1217.9" r="2.4"></circle><circle cx="3105.4" cy="1236.6" r="2.4"></circle><circle cx="3144.1" cy="1174.3" r="2.4"></circle><circle cx="3102.7" cy="1250.2" r="2.4"></circle><circle cx="3082.2" cy="1220.3" r="2.4"></circle><circle cx="3122.7" cy="1222.8" r="2.4"></circle><circle cx="3101.5" cy="1258.5" r="2.4"></circle><circle cx="3108.2" cy="1260.5" r="2.4"></circle><circle cx="3110.7" cy="1255.9" r="2.4"></circle><circle cx="3153.2" cy="1204.1" r="2.4"></circle><circle cx="3132.0" cy="1235.6" r="2.4"></circle><circle cx="3109.9" cy="1246.0" r="2.4"></circle><circle cx="3080.4" cy="1274.0" r="2.4"></circle><circle cx="3098.9" cy="1237.8" r="2.4"></circle><circle cx="3118.9" cy="1207.1" r="2.4"></circle><circle cx="3086.6" cy="1256.1" r="2.4"></circle><circle cx="3086.3" cy="1249.5" r="2.4"></circle><circle cx="3130.9" cy="1191.9" r="2.4"></circle><circle cx="3160.8" cy="1177.4" r="2.4"></circle><circle cx="3152.1" cy="1233.3" r="2.4"></circle><circle cx="3139.6" cy="1235.3" r="2.4"></circle><circle cx="3106.1" cy="1244.9" r="2.4"></circle><circle cx="3160.1" cy="1220.7" r="2.4"></circle><circle cx="3108.1" cy="1201.0" r="2.4"></circle><circle cx="3104.9" cy="1221.0" r="2.4"></circle><circle cx="3082.6" cy="1255.9" r="2.4"></circle><circle cx="3106.2" cy="1224.5" r="2.4"></circle><circle cx="3077.3" cy="1245.9" r="2.4"></circle><circle cx="3146.7" cy="1214.3" r="2.4"></circle><circle cx="3097.8" cy="1207.9" r="2.4"></circle><circle cx="3108.0" cy="1258.7" r="2.4"></circle><circle cx="3095.9" cy="1230.1" r="2.4"></circle><circle cx="3092.9" cy="1236.9" r="2.4"></circle><circle cx="3097.3" cy="1236.9" r="2.4"></circle><circle cx="3117.9" cy="1203.4" r="2.4"></circle><circle cx="3095.8" cy="1235.4" r="2.4"></circle><circle cx="3083.5" cy="1238.6" r="2.4"></circle><circle cx="3113.4" cy="1287.1" r="2.4"></circle><circle cx="3094.0" cy="1300.8" r="2.4"></circle><circle cx="3107.4" cy="1200.7" r="2.4"></circle><circle cx="3083.7" cy="1233.7" r="2.4"></circle><circle cx="3084.1" cy="1270.2" r="2.4"></circle><circle cx="3080.2" cy="1273.2" r="2.4"></circle><circle cx="3120.3" cy="1228.2" r="2.4"></circle><circle cx="3130.4" cy="1223.9" r="2.4"></circle><circle cx="3130.4" cy="1215.9" r="2.4"></circle><circle cx="3138.0" cy="1228.2" r="2.4"></circle><circle cx="3088.9" cy="1249.7" r="2.4"></circle><circle cx="3099.4" cy="1186.4" r="2.4"></circle><circle cx="3110.4" cy="1221.4" r="2.4"></circle><circle cx="3082.2" cy="1273.8" r="2.4"></circle><circle cx="3138.4" cy="1167.5" r="2.4"></circle><circle cx="3039.9" cy="1286.6" r="2.4"></circle><circle cx="3121.7" cy="1191.1" r="2.4"></circle><circle cx="3096.6" cy="1233.9" r="2.4"></circle><circle cx="3140.0" cy="1237.8" r="2.4"></circle><circle cx="3126.9" cy="1225.6" r="2.4"></circle><circle cx="3119.6" cy="1260.0" r="2.4"></circle><circle cx="3137.7" cy="1207.8" r="2.4"></circle><circle cx="3091.5" cy="1241.9" r="2.4"></circle><circle cx="3120.1" cy="1223.3" r="2.4"></circle><circle cx="3104.6" cy="1245.2" r="2.4"></circle><circle cx="3143.2" cy="1194.5" r="2.4"></circle><circle cx="3107.6" cy="1239.1" r="2.4"></circle><circle cx="3096.5" cy="1241.0" r="2.4"></circle><circle cx="3089.5" cy="1222.8" r="2.4"></circle><circle cx="3119.0" cy="1215.3" r="2.4"></circle><circle cx="3133.0" cy="1235.9" r="2.4"></circle><circle cx="3082.2" cy="1254.7" r="2.4"></circle><circle cx="3084.3" cy="1233.5" r="2.4"></circle><circle cx="3092.3" cy="1265.5" r="2.4"></circle><circle cx="3152.5" cy="1189.3" r="2.4"></circle><circle cx="3129.2" cy="1227.4" r="2.4"></circle><circle cx="3078.1" cy="1276.3" r="2.4"></circle><circle cx="3104.5" cy="1219.7" r="2.4"></circle><circle cx="3116.6" cy="1243.9" r="2.4"></circle><circle cx="3080.8" cy="1290.6" r="2.4"></circle><circle cx="3091.3" cy="1242.5" r="2.4"></circle><circle cx="3089.4" cy="1278.2" r="2.4"></circle><circle cx="3107.1" cy="1241.6" r="2.4"></circle><circle cx="3136.4" cy="1206.4" r="2.4"></circle><circle cx="3109.2" cy="1225.0" r="2.4"></circle><circle cx="3118.2" cy="1230.6" r="2.4"></circle><circle cx="3058.5" cy="1240.5" r="2.4"></circle><circle cx="3083.9" cy="1249.4" r="2.4"></circle><circle cx="3141.1" cy="1216.6" r="2.4"></circle><circle cx="3079.1" cy="1246.0" r="2.4"></circle><circle cx="3093.9" cy="1222.4" r="2.4"></circle><circle cx="3138.0" cy="1227.9" r="2.4"></circle><circle cx="3121.8" cy="1204.8" r="2.4"></circle><circle cx="3107.9" cy="1232.9" r="2.4"></circle><circle cx="3088.7" cy="1240.9" r="2.4"></circle><circle cx="3136.9" cy="1199.5" r="2.4"></circle><circle cx="3080.8" cy="1259.5" r="2.4"></circle><circle cx="3075.8" cy="1212.1" r="2.4"></circle><circle cx="3123.9" cy="1218.8" r="2.4"></circle><circle cx="3109.1" cy="1224.8" r="2.4"></circle><circle cx="3119.3" cy="1222.8" r="2.4"></circle><circle cx="3101.8" cy="1216.7" r="2.4"></circle><circle cx="3075.9" cy="1233.4" r="2.4"></circle><circle cx="3104.3" cy="1254.7" r="2.4"></circle><circle cx="3105.2" cy="1236.7" r="2.4"></circle><circle cx="3101.6" cy="1210.4" r="2.4"></circle><circle cx="3123.5" cy="1222.3" r="2.4"></circle><circle cx="3134.9" cy="1257.6" r="2.4"></circle><circle cx="3084.3" cy="1215.8" r="2.4"></circle><circle cx="3094.6" cy="1255.0" r="2.4"></circle><circle cx="3141.2" cy="1208.5" r="2.4"></circle><circle cx="3079.7" cy="1274.1" r="2.4"></circle><circle cx="3137.4" cy="1236.4" r="2.4"></circle><circle cx="3112.5" cy="1237.6" r="2.4"></circle><circle cx="3090.8" cy="1258.4" r="2.4"></circle><circle cx="3098.8" cy="1260.7" r="2.4"></circle><circle cx="3053.9" cy="1251.0" r="2.4"></circle><circle cx="3120.9" cy="1221.6" r="2.4"></circle><circle cx="3072.2" cy="1262.3" r="2.4"></circle><circle cx="3084.1" cy="1254.5" r="2.4"></circle><circle cx="3125.8" cy="1213.9" r="2.4"></circle><circle cx="3053.9" cy="1234.6" r="2.4"></circle><circle cx="3070.0" cy="1263.2" r="2.4"></circle><circle cx="3078.6" cy="1244.5" r="2.4"></circle><circle cx="3072.7" cy="1259.9" r="2.4"></circle><circle cx="3070.8" cy="1272.5" r="2.4"></circle><circle cx="3086.4" cy="1240.9" r="2.4"></circle><circle cx="3108.2" cy="1228.7" r="2.4"></circle><circle cx="3090.1" cy="1235.2" r="2.4"></circle><circle cx="3110.3" cy="1224.6" r="2.4"></circle><circle cx="3122.8" cy="1238.8" r="2.4"></circle><circle cx="3078.8" cy="1280.5" r="2.4"></circle><circle cx="3093.3" cy="1262.0" r="2.4"></circle><circle cx="3114.7" cy="1243.9" r="2.4"></circle><circle cx="3126.0" cy="1225.9" r="2.4"></circle><circle cx="3120.4" cy="1259.1" r="2.4"></circle><circle cx="3102.3" cy="1249.8" r="2.4"></circle><circle cx="3146.3" cy="1225.2" r="2.4"></circle><circle cx="3124.4" cy="1214.4" r="2.4"></circle><circle cx="3100.7" cy="1249.6" r="2.4"></circle><circle cx="3140.8" cy="1215.8" r="2.4"></circle><circle cx="3095.0" cy="1264.2" r="2.4"></circle><circle cx="3136.0" cy="1228.9" r="2.4"></circle><circle cx="3058.7" cy="1276.1" r="2.4"></circle><circle cx="3111.6" cy="1212.2" r="2.4"></circle><circle cx="3131.3" cy="1204.0" r="2.4"></circle><circle cx="3157.5" cy="1246.9" r="2.4"></circle><circle cx="3133.3" cy="1254.9" r="2.4"></circle><circle cx="3077.7" cy="1258.1" r="2.4"></circle><circle cx="3116.0" cy="1242.8" r="2.4"></circle><circle cx="3115.3" cy="1231.7" r="2.4"></circle><circle cx="3099.5" cy="1225.8" r="2.4"></circle><circle cx="3093.5" cy="1249.2" r="2.4"></circle><circle cx="3142.4" cy="1236.8" r="2.4"></circle><circle cx="3114.5" cy="1185.4" r="2.4"></circle><circle cx="3087.3" cy="1233.6" r="2.4"></circle><circle cx="3124.4" cy="1217.0" r="2.4"></circle><circle cx="3100.3" cy="1231.5" r="2.4"></circle><circle cx="3126.9" cy="1213.6" r="2.4"></circle><circle cx="3149.9" cy="1201.2" r="2.4"></circle><circle cx="3100.8" cy="1251.0" r="2.4"></circle><circle cx="3116.6" cy="1237.2" r="2.4"></circle><circle cx="3081.1" cy="1256.3" r="2.4"></circle><circle cx="3127.5" cy="1212.2" r="2.4"></circle><circle cx="3083.8" cy="1253.3" r="2.4"></circle><circle cx="3125.0" cy="1239.1" r="2.4"></circle><circle cx="3103.0" cy="1245.8" r="2.4"></circle><circle cx="3105.2" cy="1246.3" r="2.4"></circle><circle cx="3130.1" cy="1235.6" r="2.4"></circle><circle cx="3080.0" cy="1212.6" r="2.4"></circle><circle cx="3114.6" cy="1242.2" r="2.4"></circle><circle cx="3084.6" cy="1235.2" r="2.4"></circle><circle cx="3098.7" cy="1208.2" r="2.4"></circle><circle cx="3078.5" cy="1277.5" r="2.4"></circle><circle cx="3080.1" cy="1266.9" r="2.4"></circle><circle cx="3103.4" cy="1209.2" r="2.4"></circle><circle cx="3055.6" cy="1275.1" r="2.4"></circle><circle cx="3108.3" cy="1206.4" r="2.4"></circle><circle cx="3094.3" cy="1236.8" r="2.4"></circle><circle cx="3113.9" cy="1268.7" r="2.4"></circle><circle cx="3103.4" cy="1242.7" r="2.4"></circle><circle cx="3150.1" cy="1226.3" r="2.4"></circle><circle cx="3165.5" cy="1201.8" r="2.4"></circle><circle cx="3131.4" cy="1224.2" r="2.4"></circle><circle cx="3096.2" cy="1267.7" r="2.4"></circle><circle cx="3115.9" cy="1247.3" r="2.4"></circle><circle cx="3128.8" cy="1233.1" r="2.4"></circle><circle cx="3085.9" cy="1234.4" r="2.4"></circle><circle cx="3086.5" cy="1234.3" r="2.4"></circle><circle cx="3114.7" cy="1213.1" r="2.4"></circle><circle cx="3118.3" cy="1265.5" r="2.4"></circle><circle cx="3091.9" cy="1221.3" r="2.4"></circle><circle cx="3070.8" cy="1282.0" r="2.4"></circle><circle cx="3125.1" cy="1196.7" r="2.4"></circle><circle cx="3103.7" cy="1234.3" r="2.4"></circle><circle cx="3095.4" cy="1211.2" r="2.4"></circle><circle cx="3081.5" cy="1220.5" r="2.4"></circle><circle cx="3138.3" cy="1218.7" r="2.4"></circle><circle cx="3091.3" cy="1242.8" r="2.4"></circle><circle cx="3118.2" cy="1241.3" r="2.4"></circle><circle cx="3066.9" cy="1263.7" r="2.4"></circle><circle cx="3095.7" cy="1256.8" r="2.4"></circle><circle cx="3143.5" cy="1239.4" r="2.4"></circle><circle cx="3094.9" cy="1249.3" r="2.4"></circle><circle cx="3089.1" cy="1228.6" r="2.4"></circle><circle cx="3113.7" cy="1232.8" r="2.4"></circle><circle cx="3094.2" cy="1223.5" r="2.4"></circle><circle cx="3130.6" cy="1219.2" r="2.4"></circle><circle cx="3093.8" cy="1220.8" r="2.4"></circle><circle cx="3152.0" cy="1194.0" r="2.4"></circle><circle cx="3110.5" cy="1225.6" r="2.4"></circle><circle cx="3113.8" cy="1216.4" r="2.4"></circle><circle cx="3125.5" cy="1238.2" r="2.4"></circle><circle cx="3084.3" cy="1236.9" r="2.4"></circle><circle cx="3106.2" cy="1238.0" r="2.4"></circle><circle cx="3142.9" cy="1221.0" r="2.4"></circle><circle cx="3135.1" cy="1241.4" r="2.4"></circle><circle cx="3124.5" cy="1242.7" r="2.4"></circle><circle cx="3127.3" cy="1237.8" r="2.4"></circle><circle cx="3090.9" cy="1240.8" r="2.4"></circle><circle cx="3104.4" cy="1250.9" r="2.4"></circle><circle cx="3099.4" cy="1244.4" r="2.4"></circle><circle cx="3107.5" cy="1212.2" r="2.4"></circle><circle cx="3095.6" cy="1242.8" r="2.4"></circle><circle cx="3121.7" cy="1239.3" r="2.4"></circle><circle cx="3127.5" cy="1220.4" r="2.4"></circle><circle cx="3099.4" cy="1222.5" r="2.4"></circle><circle cx="3094.3" cy="1223.4" r="2.4"></circle><circle cx="3092.3" cy="1241.6" r="2.4"></circle><circle cx="3130.2" cy="1222.2" r="2.4"></circle><circle cx="3132.3" cy="1215.9" r="2.4"></circle><circle cx="3110.4" cy="1192.9" r="2.4"></circle><circle cx="3090.7" cy="1229.1" r="2.4"></circle><circle cx="3104.9" cy="1270.1" r="2.4"></circle><circle cx="3076.1" cy="1256.1" r="2.4"></circle><circle cx="3083.6" cy="1267.5" r="2.4"></circle><circle cx="3077.6" cy="1236.5" r="2.4"></circle><circle cx="3125.3" cy="1234.3" r="2.4"></circle><circle cx="3073.4" cy="1280.0" r="2.4"></circle><circle cx="3062.9" cy="1299.2" r="2.4"></circle><circle cx="3123.4" cy="1203.2" r="2.4"></circle><circle cx="3115.4" cy="1243.3" r="2.4"></circle><circle cx="3121.3" cy="1265.9" r="2.4"></circle><circle cx="3082.3" cy="1277.9" r="2.4"></circle><circle cx="3156.3" cy="1226.5" r="2.4"></circle><circle cx="3089.7" cy="1216.0" r="2.4"></circle><circle cx="3115.7" cy="1224.0" r="2.4"></circle><circle cx="3093.0" cy="1267.6" r="2.4"></circle><circle cx="3105.8" cy="1268.9" r="2.4"></circle><circle cx="3126.3" cy="1232.3" r="2.4"></circle><circle cx="3114.6" cy="1175.5" r="2.4"></circle><circle cx="3116.2" cy="1230.2" r="2.4"></circle><circle cx="3116.6" cy="1222.9" r="2.4"></circle><circle cx="3081.5" cy="1242.4" r="2.4"></circle><circle cx="3088.9" cy="1243.2" r="2.4"></circle><circle cx="3104.7" cy="1276.6" r="2.4"></circle><circle cx="3100.6" cy="1227.4" r="2.4"></circle><circle cx="3144.1" cy="1217.2" r="2.4"></circle><circle cx="3151.7" cy="1171.2" r="2.4"></circle></g><g font-size="10.8" fill="#222"><path d="M2973.6 1342.6v3.5" stroke="#222" stroke-width="0.8"></path><text x="2973.6" y="1357.1" text-anchor="middle">−10</text><path d="M3010.8 1342.6v3.5" stroke="#222" stroke-width="0.8"></path><text x="3010.8" y="1357.1" text-anchor="middle">−5</text><path d="M3048.0 1342.6v3.5" stroke="#222" stroke-width="0.8"></path><text x="3048.0" y="1357.1" text-anchor="middle">0</text><path d="M3085.2 1342.6v3.5" stroke="#222" stroke-width="0.8"></path><text x="3085.2" y="1357.1" text-anchor="middle">5</text><path d="M3122.4 1342.6v3.5" stroke="#222" stroke-width="0.8"></path><text x="3122.4" y="1357.1" text-anchor="middle">10</text><path d="M3159.6 1342.6v3.5" stroke="#222" stroke-width="0.8"></path><text x="3159.6" y="1357.1" text-anchor="middle">15</text><path d="M3196.8 1342.6v3.5" stroke="#222" stroke-width="0.8"></path><text x="3196.8" y="1357.1" text-anchor="middle">20</text><path d="M2971 1331.5h-3.5" stroke="#222" stroke-width="0.8"></path><text x="2965" y="1335.2" text-anchor="end">−5</text><path d="M2971 1294.2h-3.5" stroke="#222" stroke-width="0.8"></path><text x="2965" y="1298.0" text-anchor="end">0</text><path d="M2971 1257.0h-3.5" stroke="#222" stroke-width="0.8"></path><text x="2965" y="1260.8" text-anchor="end">5</text><path d="M2971 1219.7h-3.5" stroke="#222" stroke-width="0.8"></path><text x="2965" y="1223.5" text-anchor="end">10</text><path d="M2971 1182.5h-3.5" stroke="#222" stroke-width="0.8"></path><text x="2965" y="1186.2" text-anchor="end">15</text></g><text x="3098.3" y="1149.0" text-anchor="middle" font-size="13" fill="#222" lengthAdjust="spacingAndGlyphs" textLength="215">Reward Distribution on Each Goal</text><text x="3098.3" y="1369.6" text-anchor="middle" font-size="10.8" fill="#222">Reward 0</text><text transform="translate(2945.0 1251.0) rotate(-90)" text-anchor="middle" font-size="10.8" fill="#222">Reward 1</text><rect x="2975.5" y="1286" width="58" height="52" rx="2" fill="#fff" fill-opacity="0.8" stroke="#ccc" stroke-width="0.8"></rect><circle cx="2987.5" cy="1294.0" r="2.2" fill="#1f77b4" fill-opacity="0.6"></circle><text x="3002.5" y="1297.0" font-size="8.6" fill="#222">Goal 0</text><circle cx="2987.5" cy="1306.3" r="2.2" fill="#ff7f0e" fill-opacity="0.6"></circle><text x="3002.5" y="1309.3" font-size="8.6" fill="#222">Goal 1</text><circle cx="2987.5" cy="1318.6" r="2.2" fill="#2ca02c" fill-opacity="0.6"></circle><text x="3002.5" y="1321.6" font-size="8.6" fill="#222">Goal 2</text><circle cx="2987.5" cy="1330.9" r="2.2" fill="#d62728" fill-opacity="0.6"></circle><text x="3002.5" y="1333.9" font-size="8.6" fill="#222">Goal 3</text></svg>
<div class="t r" style="left:2401.0px;top:1391.1px;font-size:24.6px;"><span style="transform: scaleX(0.9919);">(a) The map of the DiverseGoal envi-</span></div>
<div class="t r" style="left:2401.0px;top:1418.8px;font-size:24.6px;"><span style="transform: scaleX(0.9773);">ronment.</span></div>
<div class="t r" style="left:2930.6px;top:1391.1px;font-size:24.6px;"><span style="transform: scaleX(0.9459);">(b) Reward distribution within each</span></div>
<div class="t r" style="left:2930.6px;top:1418.8px;font-size:24.6px;"><span style="transform: scaleX(0.9851);">goal position.</span></div>
<div class="a " style="left:2322.0px;top:1462.7px;width:20.0px;height:20.0px;background:#002060"></div>
<div class="t s b i" style="left:2356.5px;top:1455.5px;font-size:36.5px;color:#002060;"><span style="transform: scaleX(0.9196);">Result</span></div>
<svg class="a" style="left:0;top:0" width="3456" height="2304" viewBox="0 0 3456 2304"><rect x="2355.7" y="1519.2" width="118.5" height="87.2" fill="#fff" stroke="#777" stroke-width="0.9"></rect><g fill="#1f77b4" fill-opacity="0.8"><circle cx="2450.4" cy="1583.9" r="1.7"></circle><circle cx="2451.6" cy="1576.9" r="1.7"></circle><circle cx="2442.5" cy="1578.8" r="1.7"></circle><circle cx="2435.3" cy="1573.9" r="1.7"></circle><circle cx="2441.3" cy="1578.7" r="1.7"></circle><circle cx="2446.1" cy="1581.4" r="1.7"></circle><circle cx="2438.5" cy="1577.1" r="1.7"></circle><circle cx="2456.1" cy="1583.2" r="1.7"></circle><circle cx="2443.5" cy="1574.7" r="1.7"></circle><circle cx="2445.6" cy="1576.0" r="1.7"></circle><circle cx="2433.1" cy="1583.2" r="1.7"></circle><circle cx="2450.3" cy="1572.6" r="1.7"></circle><circle cx="2446.3" cy="1578.8" r="1.7"></circle><circle cx="2447.2" cy="1575.7" r="1.7"></circle><circle cx="2441.0" cy="1584.3" r="1.7"></circle><circle cx="2453.6" cy="1579.2" r="1.7"></circle><circle cx="2435.8" cy="1586.5" r="1.7"></circle><circle cx="2442.7" cy="1575.6" r="1.7"></circle><circle cx="2447.7" cy="1578.9" r="1.7"></circle><circle cx="2446.3" cy="1575.6" r="1.7"></circle><circle cx="2437.0" cy="1576.1" r="1.7"></circle><circle cx="2445.7" cy="1581.5" r="1.7"></circle><circle cx="2446.0" cy="1575.1" r="1.7"></circle><circle cx="2446.9" cy="1578.0" r="1.7"></circle><circle cx="2439.7" cy="1573.7" r="1.7"></circle><circle cx="2454.0" cy="1581.5" r="1.7"></circle><circle cx="2444.2" cy="1581.2" r="1.7"></circle><circle cx="2441.8" cy="1576.5" r="1.7"></circle><circle cx="2438.0" cy="1580.8" r="1.7"></circle><circle cx="2437.4" cy="1588.0" r="1.7"></circle><circle cx="2440.4" cy="1585.4" r="1.7"></circle><circle cx="2451.8" cy="1589.9" r="1.7"></circle><circle cx="2443.4" cy="1576.6" r="1.7"></circle><circle cx="2438.9" cy="1583.6" r="1.7"></circle><circle cx="2443.6" cy="1573.7" r="1.7"></circle><circle cx="2443.0" cy="1591.1" r="1.7"></circle><circle cx="2440.4" cy="1579.0" r="1.7"></circle><circle cx="2446.9" cy="1585.9" r="1.7"></circle><circle cx="2441.0" cy="1580.9" r="1.7"></circle><circle cx="2440.5" cy="1576.8" r="1.7"></circle><circle cx="2440.2" cy="1584.5" r="1.7"></circle><circle cx="2439.8" cy="1588.5" r="1.7"></circle><circle cx="2437.7" cy="1590.2" r="1.7"></circle><circle cx="2440.4" cy="1588.2" r="1.7"></circle><circle cx="2436.2" cy="1579.4" r="1.7"></circle><circle cx="2442.1" cy="1575.9" r="1.7"></circle><circle cx="2448.5" cy="1578.7" r="1.7"></circle><circle cx="2440.8" cy="1580.4" r="1.7"></circle><circle cx="2437.5" cy="1580.0" r="1.7"></circle><circle cx="2426.6" cy="1586.7" r="1.7"></circle><circle cx="2441.9" cy="1580.7" r="1.7"></circle><circle cx="2441.3" cy="1579.3" r="1.7"></circle><circle cx="2438.2" cy="1573.2" r="1.7"></circle><circle cx="2444.8" cy="1583.9" r="1.7"></circle><circle cx="2442.5" cy="1575.2" r="1.7"></circle><circle cx="2443.5" cy="1583.3" r="1.7"></circle><circle cx="2450.2" cy="1579.9" r="1.7"></circle><circle cx="2442.2" cy="1582.5" r="1.7"></circle><circle cx="2448.1" cy="1573.6" r="1.7"></circle><circle cx="2457.0" cy="1574.0" r="1.7"></circle></g><g font-size="7.7" fill="#222"><text x="2355.7" y="1615.4" text-anchor="middle">−10</text><text x="2395.2" y="1615.4" text-anchor="middle">0</text><text x="2434.7" y="1615.4" text-anchor="middle">10</text><text x="2474.2" y="1615.4" text-anchor="middle">20</text><text x="2353.2" y="1609.2" text-anchor="end">−10</text><text x="2353.2" y="1594.7" text-anchor="end">−5</text><text x="2353.2" y="1580.1" text-anchor="end">0</text><text x="2353.2" y="1565.6" text-anchor="end">5</text><text x="2353.2" y="1551.1" text-anchor="end">10</text><text x="2353.2" y="1536.5" text-anchor="end">15</text><text x="2353.2" y="1522.0" text-anchor="end">20</text></g><text x="2414.9" y="1516.7" text-anchor="middle" font-size="8.3" fill="#222" lengthAdjust="spacingAndGlyphs" textLength="106">Return Distribution of π<tspan font-size="5.5" dy="1.5">0</tspan></text><text x="2414.9" y="1623.4" text-anchor="middle" font-size="7.6" fill="#222">Return 1</text><text transform="translate(2334.7 1562.8) rotate(-90)" text-anchor="middle" font-size="7.6" fill="#222">Return 2</text><rect x="2529.8" y="1519.2" width="118.5" height="87.2" fill="#fff" stroke="#777" stroke-width="0.9"></rect><g fill="#1f77b4" fill-opacity="0.8"><circle cx="2562.7" cy="1534.6" r="1.7"></circle><circle cx="2571.0" cy="1553.3" r="1.7"></circle><circle cx="2573.3" cy="1544.1" r="1.7"></circle><circle cx="2570.1" cy="1538.0" r="1.7"></circle><circle cx="2565.3" cy="1538.3" r="1.7"></circle><circle cx="2567.4" cy="1548.2" r="1.7"></circle><circle cx="2561.1" cy="1548.1" r="1.7"></circle><circle cx="2561.7" cy="1536.3" r="1.7"></circle><circle cx="2577.1" cy="1548.1" r="1.7"></circle><circle cx="2572.2" cy="1544.6" r="1.7"></circle><circle cx="2562.9" cy="1547.9" r="1.7"></circle><circle cx="2562.8" cy="1551.4" r="1.7"></circle><circle cx="2560.5" cy="1550.1" r="1.7"></circle><circle cx="2559.7" cy="1543.1" r="1.7"></circle><circle cx="2568.0" cy="1543.2" r="1.7"></circle><circle cx="2563.1" cy="1552.2" r="1.7"></circle><circle cx="2550.2" cy="1540.3" r="1.7"></circle><circle cx="2571.0" cy="1545.5" r="1.7"></circle><circle cx="2562.0" cy="1542.1" r="1.7"></circle><circle cx="2576.0" cy="1545.1" r="1.7"></circle><circle cx="2562.7" cy="1540.4" r="1.7"></circle><circle cx="2570.0" cy="1541.0" r="1.7"></circle><circle cx="2560.8" cy="1537.0" r="1.7"></circle><circle cx="2568.3" cy="1540.6" r="1.7"></circle><circle cx="2582.6" cy="1548.3" r="1.7"></circle><circle cx="2569.5" cy="1547.9" r="1.7"></circle><circle cx="2562.3" cy="1540.5" r="1.7"></circle><circle cx="2569.5" cy="1532.5" r="1.7"></circle><circle cx="2568.5" cy="1540.5" r="1.7"></circle><circle cx="2568.4" cy="1537.1" r="1.7"></circle><circle cx="2564.8" cy="1542.8" r="1.7"></circle><circle cx="2566.9" cy="1543.2" r="1.7"></circle><circle cx="2556.3" cy="1541.1" r="1.7"></circle><circle cx="2561.5" cy="1539.7" r="1.7"></circle><circle cx="2558.5" cy="1548.3" r="1.7"></circle><circle cx="2573.8" cy="1544.0" r="1.7"></circle><circle cx="2574.6" cy="1541.5" r="1.7"></circle><circle cx="2563.1" cy="1549.9" r="1.7"></circle><circle cx="2559.6" cy="1544.2" r="1.7"></circle><circle cx="2568.1" cy="1538.3" r="1.7"></circle><circle cx="2563.5" cy="1540.8" r="1.7"></circle><circle cx="2571.6" cy="1545.5" r="1.7"></circle><circle cx="2562.2" cy="1541.3" r="1.7"></circle><circle cx="2563.4" cy="1544.7" r="1.7"></circle><circle cx="2564.8" cy="1541.6" r="1.7"></circle><circle cx="2568.2" cy="1542.3" r="1.7"></circle><circle cx="2564.6" cy="1539.2" r="1.7"></circle><circle cx="2564.1" cy="1542.8" r="1.7"></circle><circle cx="2562.2" cy="1538.8" r="1.7"></circle><circle cx="2563.5" cy="1536.5" r="1.7"></circle><circle cx="2558.5" cy="1535.4" r="1.7"></circle><circle cx="2567.7" cy="1541.4" r="1.7"></circle><circle cx="2563.9" cy="1540.7" r="1.7"></circle><circle cx="2568.0" cy="1540.0" r="1.7"></circle><circle cx="2559.3" cy="1545.1" r="1.7"></circle><circle cx="2575.7" cy="1542.0" r="1.7"></circle><circle cx="2567.4" cy="1545.1" r="1.7"></circle><circle cx="2565.3" cy="1544.1" r="1.7"></circle><circle cx="2570.2" cy="1539.7" r="1.7"></circle><circle cx="2563.3" cy="1543.0" r="1.7"></circle></g><g font-size="7.7" fill="#222"><text x="2529.8" y="1615.4" text-anchor="middle">−10</text><text x="2569.3" y="1615.4" text-anchor="middle">0</text><text x="2608.8" y="1615.4" text-anchor="middle">10</text><text x="2648.3" y="1615.4" text-anchor="middle">20</text><text x="2527.3" y="1609.2" text-anchor="end">−10</text><text x="2527.3" y="1594.7" text-anchor="end">−5</text><text x="2527.3" y="1580.1" text-anchor="end">0</text><text x="2527.3" y="1565.6" text-anchor="end">5</text><text x="2527.3" y="1551.1" text-anchor="end">10</text><text x="2527.3" y="1536.5" text-anchor="end">15</text><text x="2527.3" y="1522.0" text-anchor="end">20</text></g><text x="2589.1" y="1516.7" text-anchor="middle" font-size="8.3" fill="#222" lengthAdjust="spacingAndGlyphs" textLength="106">Return Distribution of π<tspan font-size="5.5" dy="1.5">1</tspan></text><text x="2589.1" y="1623.4" text-anchor="middle" font-size="7.6" fill="#222">Return 1</text><text transform="translate(2508.8 1562.8) rotate(-90)" text-anchor="middle" font-size="7.6" fill="#222">Return 2</text><rect x="2704.0" y="1519.2" width="118.5" height="87.2" fill="#fff" stroke="#777" stroke-width="0.9"></rect><g fill="#1f77b4" fill-opacity="0.8"><circle cx="2769.3" cy="1553.3" r="1.7"></circle><circle cx="2772.3" cy="1547.4" r="1.7"></circle><circle cx="2774.3" cy="1550.6" r="1.7"></circle><circle cx="2764.2" cy="1555.9" r="1.7"></circle><circle cx="2765.5" cy="1555.7" r="1.7"></circle><circle cx="2766.9" cy="1549.6" r="1.7"></circle><circle cx="2757.3" cy="1561.4" r="1.7"></circle><circle cx="2768.7" cy="1554.6" r="1.7"></circle><circle cx="2769.5" cy="1554.6" r="1.7"></circle><circle cx="2767.8" cy="1557.8" r="1.7"></circle><circle cx="2767.0" cy="1559.3" r="1.7"></circle><circle cx="2775.7" cy="1551.7" r="1.7"></circle><circle cx="2770.9" cy="1555.1" r="1.7"></circle><circle cx="2770.9" cy="1555.4" r="1.7"></circle><circle cx="2773.5" cy="1553.3" r="1.7"></circle><circle cx="2775.9" cy="1552.8" r="1.7"></circle><circle cx="2776.6" cy="1556.4" r="1.7"></circle><circle cx="2770.7" cy="1561.4" r="1.7"></circle><circle cx="2770.9" cy="1552.7" r="1.7"></circle><circle cx="2768.2" cy="1552.3" r="1.7"></circle><circle cx="2771.2" cy="1555.6" r="1.7"></circle><circle cx="2767.7" cy="1553.3" r="1.7"></circle><circle cx="2766.3" cy="1557.9" r="1.7"></circle><circle cx="2767.9" cy="1555.9" r="1.7"></circle><circle cx="2779.6" cy="1554.9" r="1.7"></circle><circle cx="2776.1" cy="1554.2" r="1.7"></circle><circle cx="2778.5" cy="1548.3" r="1.7"></circle><circle cx="2767.8" cy="1554.9" r="1.7"></circle><circle cx="2777.7" cy="1552.3" r="1.7"></circle><circle cx="2776.8" cy="1551.0" r="1.7"></circle><circle cx="2773.0" cy="1553.5" r="1.7"></circle><circle cx="2770.0" cy="1550.9" r="1.7"></circle><circle cx="2770.8" cy="1554.4" r="1.7"></circle><circle cx="2766.7" cy="1551.2" r="1.7"></circle><circle cx="2769.4" cy="1552.5" r="1.7"></circle><circle cx="2770.5" cy="1550.4" r="1.7"></circle><circle cx="2773.6" cy="1557.4" r="1.7"></circle><circle cx="2769.4" cy="1559.1" r="1.7"></circle><circle cx="2771.9" cy="1550.7" r="1.7"></circle><circle cx="2767.2" cy="1555.8" r="1.7"></circle><circle cx="2770.5" cy="1554.6" r="1.7"></circle><circle cx="2770.9" cy="1554.9" r="1.7"></circle><circle cx="2769.3" cy="1550.2" r="1.7"></circle><circle cx="2767.0" cy="1551.4" r="1.7"></circle><circle cx="2762.3" cy="1556.6" r="1.7"></circle><circle cx="2770.3" cy="1557.4" r="1.7"></circle><circle cx="2774.1" cy="1553.8" r="1.7"></circle><circle cx="2770.3" cy="1551.6" r="1.7"></circle><circle cx="2772.4" cy="1550.1" r="1.7"></circle><circle cx="2765.0" cy="1556.0" r="1.7"></circle><circle cx="2772.9" cy="1561.1" r="1.7"></circle><circle cx="2768.8" cy="1553.6" r="1.7"></circle><circle cx="2768.7" cy="1554.3" r="1.7"></circle><circle cx="2770.8" cy="1554.5" r="1.7"></circle><circle cx="2767.8" cy="1552.3" r="1.7"></circle><circle cx="2774.2" cy="1552.3" r="1.7"></circle><circle cx="2767.8" cy="1556.6" r="1.7"></circle><circle cx="2772.9" cy="1556.0" r="1.7"></circle><circle cx="2772.3" cy="1551.8" r="1.7"></circle><circle cx="2779.8" cy="1550.6" r="1.7"></circle></g><g font-size="7.7" fill="#222"><text x="2704.0" y="1615.4" text-anchor="middle">−10</text><text x="2743.5" y="1615.4" text-anchor="middle">0</text><text x="2783.0" y="1615.4" text-anchor="middle">10</text><text x="2822.5" y="1615.4" text-anchor="middle">20</text><text x="2701.5" y="1609.2" text-anchor="end">−10</text><text x="2701.5" y="1594.7" text-anchor="end">−5</text><text x="2701.5" y="1580.1" text-anchor="end">0</text><text x="2701.5" y="1565.6" text-anchor="end">5</text><text x="2701.5" y="1551.1" text-anchor="end">10</text><text x="2701.5" y="1536.5" text-anchor="end">15</text><text x="2701.5" y="1522.0" text-anchor="end">20</text></g><text x="2763.2" y="1516.7" text-anchor="middle" font-size="8.3" fill="#222" lengthAdjust="spacingAndGlyphs" textLength="106">Return Distribution of π<tspan font-size="5.5" dy="1.5">2</tspan></text><text x="2763.2" y="1623.4" text-anchor="middle" font-size="7.6" fill="#222">Return 1</text><text transform="translate(2683.0 1562.8) rotate(-90)" text-anchor="middle" font-size="7.6" fill="#222">Return 2</text><rect x="2878.1" y="1519.2" width="118.5" height="87.2" fill="#fff" stroke="#777" stroke-width="0.9"></rect><g fill="#1f77b4" fill-opacity="0.8"><circle cx="2942.9" cy="1557.5" r="1.7"></circle><circle cx="2941.3" cy="1555.6" r="1.7"></circle><circle cx="2974.7" cy="1549.3" r="1.7"></circle><circle cx="2958.1" cy="1558.4" r="1.7"></circle><circle cx="2968.0" cy="1542.6" r="1.7"></circle><circle cx="2940.6" cy="1556.7" r="1.7"></circle><circle cx="2949.9" cy="1557.8" r="1.7"></circle><circle cx="2932.3" cy="1570.3" r="1.7"></circle><circle cx="2955.3" cy="1554.0" r="1.7"></circle><circle cx="2950.0" cy="1555.6" r="1.7"></circle><circle cx="2948.2" cy="1560.9" r="1.7"></circle><circle cx="2938.1" cy="1556.0" r="1.7"></circle><circle cx="2939.5" cy="1561.0" r="1.7"></circle><circle cx="2940.4" cy="1547.0" r="1.7"></circle><circle cx="2935.7" cy="1550.9" r="1.7"></circle><circle cx="2933.7" cy="1579.3" r="1.7"></circle><circle cx="2932.7" cy="1563.8" r="1.7"></circle><circle cx="2950.4" cy="1546.9" r="1.7"></circle><circle cx="2934.9" cy="1560.9" r="1.7"></circle><circle cx="2935.7" cy="1563.5" r="1.7"></circle><circle cx="2935.3" cy="1550.1" r="1.7"></circle><circle cx="2944.6" cy="1563.8" r="1.7"></circle><circle cx="2971.8" cy="1542.0" r="1.7"></circle><circle cx="2965.6" cy="1548.8" r="1.7"></circle><circle cx="2943.0" cy="1562.0" r="1.7"></circle><circle cx="2953.3" cy="1553.1" r="1.7"></circle><circle cx="2917.9" cy="1564.5" r="1.7"></circle><circle cx="2945.9" cy="1559.7" r="1.7"></circle><circle cx="2948.4" cy="1564.3" r="1.7"></circle><circle cx="2961.8" cy="1546.2" r="1.7"></circle><circle cx="2956.9" cy="1552.5" r="1.7"></circle><circle cx="2948.0" cy="1556.1" r="1.7"></circle><circle cx="2946.8" cy="1563.8" r="1.7"></circle><circle cx="2947.0" cy="1555.0" r="1.7"></circle><circle cx="2939.8" cy="1561.9" r="1.7"></circle><circle cx="2972.2" cy="1555.9" r="1.7"></circle><circle cx="2962.3" cy="1558.7" r="1.7"></circle><circle cx="2953.5" cy="1553.3" r="1.7"></circle><circle cx="2960.9" cy="1546.2" r="1.7"></circle><circle cx="2952.1" cy="1563.1" r="1.7"></circle><circle cx="2957.0" cy="1554.4" r="1.7"></circle><circle cx="2979.6" cy="1541.4" r="1.7"></circle><circle cx="2949.5" cy="1557.1" r="1.7"></circle><circle cx="2950.8" cy="1564.9" r="1.7"></circle><circle cx="2961.4" cy="1554.9" r="1.7"></circle><circle cx="2960.5" cy="1553.1" r="1.7"></circle><circle cx="2947.8" cy="1554.6" r="1.7"></circle><circle cx="2949.8" cy="1560.2" r="1.7"></circle><circle cx="2951.3" cy="1560.4" r="1.7"></circle><circle cx="2942.9" cy="1550.5" r="1.7"></circle><circle cx="2932.8" cy="1565.1" r="1.7"></circle><circle cx="2960.5" cy="1544.6" r="1.7"></circle><circle cx="2926.2" cy="1566.1" r="1.7"></circle><circle cx="2943.1" cy="1558.8" r="1.7"></circle><circle cx="2958.0" cy="1558.6" r="1.7"></circle><circle cx="2957.8" cy="1556.7" r="1.7"></circle><circle cx="2939.3" cy="1556.2" r="1.7"></circle><circle cx="2956.2" cy="1556.6" r="1.7"></circle><circle cx="2959.1" cy="1549.8" r="1.7"></circle><circle cx="2941.2" cy="1560.2" r="1.7"></circle><circle cx="2980.8" cy="1536.7" r="1.7"></circle><circle cx="2929.4" cy="1569.6" r="1.7"></circle><circle cx="2946.4" cy="1555.8" r="1.7"></circle><circle cx="2969.0" cy="1556.8" r="1.7"></circle><circle cx="2952.8" cy="1569.7" r="1.7"></circle><circle cx="2946.3" cy="1559.5" r="1.7"></circle><circle cx="2959.2" cy="1560.9" r="1.7"></circle><circle cx="2954.5" cy="1560.9" r="1.7"></circle><circle cx="2967.7" cy="1549.9" r="1.7"></circle><circle cx="2958.2" cy="1555.6" r="1.7"></circle><circle cx="2945.7" cy="1550.6" r="1.7"></circle><circle cx="2949.0" cy="1561.9" r="1.7"></circle><circle cx="2943.5" cy="1564.7" r="1.7"></circle><circle cx="2950.1" cy="1543.4" r="1.7"></circle><circle cx="2954.0" cy="1560.6" r="1.7"></circle></g><g font-size="7.7" fill="#222"><text x="2878.1" y="1615.4" text-anchor="middle">−10</text><text x="2917.6" y="1615.4" text-anchor="middle">0</text><text x="2957.1" y="1615.4" text-anchor="middle">10</text><text x="2996.6" y="1615.4" text-anchor="middle">20</text><text x="2875.6" y="1609.2" text-anchor="end">−10</text><text x="2875.6" y="1594.7" text-anchor="end">−5</text><text x="2875.6" y="1580.1" text-anchor="end">0</text><text x="2875.6" y="1565.6" text-anchor="end">5</text><text x="2875.6" y="1551.1" text-anchor="end">10</text><text x="2875.6" y="1536.5" text-anchor="end">15</text><text x="2875.6" y="1522.0" text-anchor="end">20</text></g><text x="2937.4" y="1516.7" text-anchor="middle" font-size="8.3" fill="#222" lengthAdjust="spacingAndGlyphs" textLength="106">Return Distribution of π<tspan font-size="5.5" dy="1.5">3</tspan></text><text x="2937.4" y="1623.4" text-anchor="middle" font-size="7.6" fill="#222">Return 1</text><text transform="translate(2857.1 1562.8) rotate(-90)" text-anchor="middle" font-size="7.6" fill="#222">Return 2</text><rect x="3052.3" y="1519.2" width="118.5" height="87.2" fill="#fff" stroke="#777" stroke-width="0.9"></rect><g fill="#1f77b4" fill-opacity="0.8"><circle cx="3144.5" cy="1578.6" r="1.7"></circle><circle cx="3144.2" cy="1578.0" r="1.7"></circle><circle cx="3131.2" cy="1582.4" r="1.7"></circle><circle cx="3147.2" cy="1583.4" r="1.7"></circle><circle cx="3135.9" cy="1583.2" r="1.7"></circle><circle cx="3134.0" cy="1578.6" r="1.7"></circle><circle cx="3140.6" cy="1580.2" r="1.7"></circle><circle cx="3138.9" cy="1583.1" r="1.7"></circle><circle cx="3143.1" cy="1575.0" r="1.7"></circle><circle cx="3143.8" cy="1583.8" r="1.7"></circle><circle cx="3141.7" cy="1579.7" r="1.7"></circle><circle cx="3137.2" cy="1585.6" r="1.7"></circle><circle cx="3135.8" cy="1580.0" r="1.7"></circle><circle cx="3136.2" cy="1584.2" r="1.7"></circle><circle cx="3138.1" cy="1581.6" r="1.7"></circle><circle cx="3133.3" cy="1577.9" r="1.7"></circle><circle cx="3143.1" cy="1578.6" r="1.7"></circle><circle cx="3131.1" cy="1574.9" r="1.7"></circle><circle cx="3145.4" cy="1586.5" r="1.7"></circle><circle cx="3137.8" cy="1575.1" r="1.7"></circle><circle cx="3146.1" cy="1590.4" r="1.7"></circle><circle cx="3135.5" cy="1583.7" r="1.7"></circle><circle cx="3136.7" cy="1580.0" r="1.7"></circle><circle cx="3147.4" cy="1579.0" r="1.7"></circle><circle cx="3141.1" cy="1584.1" r="1.7"></circle><circle cx="3143.9" cy="1579.1" r="1.7"></circle><circle cx="3138.0" cy="1578.0" r="1.7"></circle><circle cx="3137.0" cy="1586.4" r="1.7"></circle><circle cx="3132.2" cy="1574.2" r="1.7"></circle><circle cx="3141.0" cy="1579.1" r="1.7"></circle><circle cx="3155.8" cy="1583.7" r="1.7"></circle><circle cx="3137.8" cy="1582.1" r="1.7"></circle><circle cx="3133.4" cy="1579.1" r="1.7"></circle><circle cx="3138.2" cy="1578.5" r="1.7"></circle><circle cx="3123.5" cy="1577.6" r="1.7"></circle><circle cx="3144.0" cy="1575.7" r="1.7"></circle><circle cx="3137.2" cy="1578.9" r="1.7"></circle><circle cx="3133.7" cy="1588.8" r="1.7"></circle><circle cx="3151.5" cy="1579.0" r="1.7"></circle><circle cx="3139.9" cy="1576.2" r="1.7"></circle><circle cx="3131.4" cy="1583.6" r="1.7"></circle><circle cx="3149.6" cy="1577.8" r="1.7"></circle><circle cx="3152.8" cy="1578.7" r="1.7"></circle><circle cx="3150.7" cy="1580.0" r="1.7"></circle><circle cx="3141.0" cy="1581.4" r="1.7"></circle><circle cx="3143.0" cy="1580.4" r="1.7"></circle><circle cx="3132.9" cy="1583.8" r="1.7"></circle><circle cx="3143.9" cy="1584.4" r="1.7"></circle><circle cx="3137.5" cy="1584.7" r="1.7"></circle><circle cx="3141.7" cy="1581.4" r="1.7"></circle><circle cx="3147.7" cy="1579.2" r="1.7"></circle><circle cx="3144.4" cy="1584.5" r="1.7"></circle><circle cx="3143.6" cy="1589.9" r="1.7"></circle><circle cx="3145.2" cy="1579.9" r="1.7"></circle><circle cx="3145.6" cy="1587.8" r="1.7"></circle><circle cx="3138.4" cy="1587.9" r="1.7"></circle><circle cx="3137.0" cy="1582.8" r="1.7"></circle><circle cx="3132.7" cy="1587.4" r="1.7"></circle><circle cx="3143.0" cy="1577.0" r="1.7"></circle><circle cx="3138.0" cy="1576.2" r="1.7"></circle></g><g font-size="7.7" fill="#222"><text x="3052.3" y="1615.4" text-anchor="middle">−10</text><text x="3091.8" y="1615.4" text-anchor="middle">0</text><text x="3131.3" y="1615.4" text-anchor="middle">10</text><text x="3170.8" y="1615.4" text-anchor="middle">20</text><text x="3049.8" y="1609.2" text-anchor="end">−10</text><text x="3049.8" y="1594.7" text-anchor="end">−5</text><text x="3049.8" y="1580.1" text-anchor="end">0</text><text x="3049.8" y="1565.6" text-anchor="end">5</text><text x="3049.8" y="1551.1" text-anchor="end">10</text><text x="3049.8" y="1536.5" text-anchor="end">15</text><text x="3049.8" y="1522.0" text-anchor="end">20</text></g><text x="3111.5" y="1516.7" text-anchor="middle" font-size="8.3" fill="#222" lengthAdjust="spacingAndGlyphs" textLength="106">Return Distribution of π<tspan font-size="5.5" dy="1.5">4</tspan></text><text x="3111.5" y="1623.4" text-anchor="middle" font-size="7.6" fill="#222">Return 1</text><text transform="translate(3031.3 1562.8) rotate(-90)" text-anchor="middle" font-size="7.6" fill="#222">Return 2</text><rect x="3226.4" y="1519.2" width="118.5" height="87.2" fill="#fff" stroke="#777" stroke-width="0.9"></rect><g fill="#1f77b4" fill-opacity="0.8"><circle cx="3293.6" cy="1554.7" r="1.7"></circle><circle cx="3292.1" cy="1551.0" r="1.7"></circle><circle cx="3294.8" cy="1552.3" r="1.7"></circle><circle cx="3295.5" cy="1555.2" r="1.7"></circle><circle cx="3294.9" cy="1557.5" r="1.7"></circle><circle cx="3298.2" cy="1559.0" r="1.7"></circle><circle cx="3298.8" cy="1552.3" r="1.7"></circle><circle cx="3290.9" cy="1552.9" r="1.7"></circle><circle cx="3296.0" cy="1552.2" r="1.7"></circle><circle cx="3295.0" cy="1552.3" r="1.7"></circle><circle cx="3285.6" cy="1553.3" r="1.7"></circle><circle cx="3288.9" cy="1554.7" r="1.7"></circle><circle cx="3296.5" cy="1550.8" r="1.7"></circle><circle cx="3296.2" cy="1552.9" r="1.7"></circle><circle cx="3290.1" cy="1556.9" r="1.7"></circle><circle cx="3297.5" cy="1554.8" r="1.7"></circle><circle cx="3294.2" cy="1554.0" r="1.7"></circle><circle cx="3290.5" cy="1558.6" r="1.7"></circle><circle cx="3287.0" cy="1553.3" r="1.7"></circle><circle cx="3299.3" cy="1556.6" r="1.7"></circle><circle cx="3290.9" cy="1550.4" r="1.7"></circle><circle cx="3293.1" cy="1553.4" r="1.7"></circle><circle cx="3288.9" cy="1556.9" r="1.7"></circle><circle cx="3296.9" cy="1546.2" r="1.7"></circle><circle cx="3295.4" cy="1550.4" r="1.7"></circle><circle cx="3290.5" cy="1554.9" r="1.7"></circle><circle cx="3295.9" cy="1548.9" r="1.7"></circle><circle cx="3300.5" cy="1558.0" r="1.7"></circle><circle cx="3297.8" cy="1553.8" r="1.7"></circle><circle cx="3295.8" cy="1557.7" r="1.7"></circle><circle cx="3298.4" cy="1549.3" r="1.7"></circle><circle cx="3287.8" cy="1556.8" r="1.7"></circle><circle cx="3296.2" cy="1553.2" r="1.7"></circle><circle cx="3293.7" cy="1553.6" r="1.7"></circle><circle cx="3292.2" cy="1557.8" r="1.7"></circle><circle cx="3284.8" cy="1554.2" r="1.7"></circle><circle cx="3287.1" cy="1550.7" r="1.7"></circle><circle cx="3291.2" cy="1554.5" r="1.7"></circle><circle cx="3288.1" cy="1560.2" r="1.7"></circle><circle cx="3288.5" cy="1560.3" r="1.7"></circle><circle cx="3289.8" cy="1553.1" r="1.7"></circle><circle cx="3293.5" cy="1553.8" r="1.7"></circle><circle cx="3295.9" cy="1551.3" r="1.7"></circle><circle cx="3289.0" cy="1556.2" r="1.7"></circle><circle cx="3288.8" cy="1557.2" r="1.7"></circle><circle cx="3290.4" cy="1556.0" r="1.7"></circle><circle cx="3288.1" cy="1559.2" r="1.7"></circle><circle cx="3289.5" cy="1553.1" r="1.7"></circle><circle cx="3294.1" cy="1548.2" r="1.7"></circle><circle cx="3289.9" cy="1555.1" r="1.7"></circle><circle cx="3289.3" cy="1554.0" r="1.7"></circle><circle cx="3292.7" cy="1552.8" r="1.7"></circle><circle cx="3296.9" cy="1552.2" r="1.7"></circle><circle cx="3291.9" cy="1556.1" r="1.7"></circle><circle cx="3291.3" cy="1558.1" r="1.7"></circle><circle cx="3295.4" cy="1552.6" r="1.7"></circle><circle cx="3291.7" cy="1549.7" r="1.7"></circle><circle cx="3293.8" cy="1560.9" r="1.7"></circle><circle cx="3291.5" cy="1555.9" r="1.7"></circle><circle cx="3294.7" cy="1555.4" r="1.7"></circle></g><g font-size="7.7" fill="#222"><text x="3226.4" y="1615.4" text-anchor="middle">−10</text><text x="3265.9" y="1615.4" text-anchor="middle">0</text><text x="3305.4" y="1615.4" text-anchor="middle">10</text><text x="3344.9" y="1615.4" text-anchor="middle">20</text><text x="3223.9" y="1609.2" text-anchor="end">−10</text><text x="3223.9" y="1594.7" text-anchor="end">−5</text><text x="3223.9" y="1580.1" text-anchor="end">0</text><text x="3223.9" y="1565.6" text-anchor="end">5</text><text x="3223.9" y="1551.1" text-anchor="end">10</text><text x="3223.9" y="1536.5" text-anchor="end">15</text><text x="3223.9" y="1522.0" text-anchor="end">20</text></g><text x="3285.7" y="1516.7" text-anchor="middle" font-size="8.3" fill="#222" lengthAdjust="spacingAndGlyphs" textLength="106">Return Distribution of π<tspan font-size="5.5" dy="1.5">5</tspan></text><text x="3285.7" y="1623.4" text-anchor="middle" font-size="7.6" fill="#222">Return 1</text><text transform="translate(3205.4 1562.8) rotate(-90)" text-anchor="middle" font-size="7.6" fill="#222">Return 2</text></svg>
<div class="t r" style="left:2440.4px;top:1641.4px;font-size:24.6px;"><span style="transform: scaleX(0.941);">(b) Return distribution of policy to maximize expected utility for each utility function.</span></div>
<svg class="a" style="left:0;top:0" width="3456" height="2304" viewBox="0 0 3456 2304"><rect x="2354.2" y="1699.7" width="120" height="77.2" fill="#fff" stroke="#777" stroke-width="0.9"></rect><ellipse cx="2457.1" cy="1738.3" rx="13.0" ry="8.5" fill="none" stroke="#1f77b4" stroke-width="1.5"></ellipse><ellipse cx="2371.3" cy="1738.3" rx="13.0" ry="8.5" fill="none" stroke="#ff7f0e" stroke-width="1.5"></ellipse><ellipse cx="2414.2" cy="1710.3" rx="13.0" ry="8.5" fill="none" stroke="#2ca02c" stroke-width="1.5"></ellipse><ellipse cx="2414.2" cy="1766.3" rx="13.0" ry="8.5" fill="none" stroke="#d62728" stroke-width="1.5"></ellipse><path d="M2414.2 1738.3 H2448.5" stroke="#0000ff" stroke-width="1.6"></path><path d="M2418.5 1734.9 H2450.2 M2409.9 1738.3H2414.2 M2422.8 1741.1 H2445.1 M2418.5 1734.9V1738.3 M2422.8 1734.9V1738.3 M2427.1 1734.9V1738.3 M2431.3 1734.9V1738.3 M2435.6 1734.9V1738.3 M2439.9 1734.9V1738.3 M2444.2 1734.9V1738.3 M2448.5 1734.9V1738.3" stroke="#0000ff" stroke-width="0.5" stroke-dasharray="1.5 1" fill="none"></path><circle cx="2414.2" cy="1738.3" r="1" fill="#ff0000"></circle><g font-size="9.3" fill="#222"><path d="M2373.1 1776.9v2" stroke="#777" stroke-width="0.9"></path><text x="2373.1" y="1788.4" text-anchor="middle">−5</text><path d="M2354.2 1766.3h-2" stroke="#777" stroke-width="0.9"></path><text x="2350.2" y="1769.6" text-anchor="end">−5</text><path d="M2414.2 1776.9v2" stroke="#777" stroke-width="0.9"></path><text x="2414.2" y="1788.4" text-anchor="middle">0</text><path d="M2354.2 1738.3h-2" stroke="#777" stroke-width="0.9"></path><text x="2350.2" y="1741.6" text-anchor="end">0</text><path d="M2455.3 1776.9v2" stroke="#777" stroke-width="0.9"></path><text x="2455.3" y="1788.4" text-anchor="middle">5</text><path d="M2354.2 1710.3h-2" stroke="#777" stroke-width="0.9"></path><text x="2350.2" y="1713.6" text-anchor="end">5</text></g><text x="2414.2" y="1697.2" text-anchor="middle" font-size="9.3" fill="#222" lengthAdjust="spacingAndGlyphs" textLength="105">Trajectory of Policy π<tspan font-size="6" dy="1.5">0</tspan></text><text x="2414.2" y="1795.9" text-anchor="middle" font-size="8" fill="#222">x</text><text transform="translate(2335.2 1740.3) rotate(-90)" text-anchor="middle" font-size="8" fill="#222">y</text><rect x="2446.2" y="1701.2" width="26.5" height="26" fill="#fff" fill-opacity="0.8" stroke="#ccc" stroke-width="0.5"></rect><path d="M2448.2 1704.7h9" stroke="#1f77b4" stroke-width="1.1"></path><path d="M2460.2 1704.7h9" stroke="#777" stroke-width="1.2" stroke-dasharray="1.2 0.6"></path><path d="M2448.2 1709.5h9" stroke="#ff7f0e" stroke-width="1.1"></path><path d="M2460.2 1709.5h9" stroke="#777" stroke-width="1.2" stroke-dasharray="1.2 0.6"></path><path d="M2448.2 1714.3h9" stroke="#2ca02c" stroke-width="1.1"></path><path d="M2460.2 1714.3h9" stroke="#777" stroke-width="1.2" stroke-dasharray="1.2 0.6"></path><path d="M2448.2 1719.1h9" stroke="#d62728" stroke-width="1.1"></path><path d="M2460.2 1719.1h9" stroke="#777" stroke-width="1.2" stroke-dasharray="1.2 0.6"></path><circle cx="2452.7" cy="1723.9" r="0.9" fill="#ff0000"></circle><path d="M2460.2 1723.9h7" stroke="#777" stroke-width="1.2" stroke-dasharray="1.2 0.6"></path><rect x="2523.6" y="1701.2" width="125.5" height="75.7" fill="#fff" stroke="#777" stroke-width="0.9"></rect><ellipse cx="2631.2" cy="1739.0" rx="13.6" ry="8.3" fill="none" stroke="#1f77b4" stroke-width="1.5"></ellipse><ellipse cx="2541.5" cy="1739.0" rx="13.6" ry="8.3" fill="none" stroke="#ff7f0e" stroke-width="1.5"></ellipse><ellipse cx="2586.3" cy="1711.6" rx="13.6" ry="8.3" fill="none" stroke="#2ca02c" stroke-width="1.5"></ellipse><ellipse cx="2586.3" cy="1766.5" rx="13.6" ry="8.3" fill="none" stroke="#d62728" stroke-width="1.5"></ellipse><path d="M2586.3 1739.0 V1717.1" stroke="#0000ff" stroke-width="1.6"></path><path d="M2581.0 1739.0V1716.0 M2590.8 1739.0V1716.0 M2597.1 1739.0V1716.0 M2581.0 1736.3H2597.1 M2581.0 1733.0H2597.1 M2581.0 1729.7H2597.1 M2581.0 1726.4H2597.1 M2581.0 1723.1H2597.1 M2581.0 1719.9H2597.1 M2581.0 1716.6H2597.1 " stroke="#0000ff" stroke-width="0.5" stroke-dasharray="1.5 1" fill="none"></path><circle cx="2586.3" cy="1739.0" r="1" fill="#ff0000"></circle><g font-size="9.3" fill="#222"><path d="M2543.3 1776.9v2" stroke="#777" stroke-width="0.9"></path><text x="2543.3" y="1788.4" text-anchor="middle">−5</text><path d="M2523.6 1766.5h-2" stroke="#777" stroke-width="0.9"></path><text x="2519.6" y="1769.8" text-anchor="end">−5</text><path d="M2586.3 1776.9v2" stroke="#777" stroke-width="0.9"></path><text x="2586.3" y="1788.4" text-anchor="middle">0</text><path d="M2523.6 1739.0h-2" stroke="#777" stroke-width="0.9"></path><text x="2519.6" y="1742.3" text-anchor="end">0</text><path d="M2629.4 1776.9v2" stroke="#777" stroke-width="0.9"></path><text x="2629.4" y="1788.4" text-anchor="middle">5</text><path d="M2523.6 1711.6h-2" stroke="#777" stroke-width="0.9"></path><text x="2519.6" y="1714.9" text-anchor="end">5</text></g><text x="2586.3" y="1698.7" text-anchor="middle" font-size="9.3" fill="#222" lengthAdjust="spacingAndGlyphs" textLength="103">Trajectory of Policy π<tspan font-size="6" dy="1.5">1</tspan></text><text x="2586.3" y="1795.9" text-anchor="middle" font-size="8" fill="#222">x</text><text transform="translate(2504.6 1741.0) rotate(-90)" text-anchor="middle" font-size="8" fill="#222">y</text><rect x="2621.1" y="1702.7" width="26.5" height="26" fill="#fff" fill-opacity="0.8" stroke="#ccc" stroke-width="0.5"></rect><path d="M2623.1 1706.2h9" stroke="#1f77b4" stroke-width="1.1"></path><path d="M2635.1 1706.2h9" stroke="#777" stroke-width="1.2" stroke-dasharray="1.2 0.6"></path><path d="M2623.1 1711.0h9" stroke="#ff7f0e" stroke-width="1.1"></path><path d="M2635.1 1711.0h9" stroke="#777" stroke-width="1.2" stroke-dasharray="1.2 0.6"></path><path d="M2623.1 1715.8h9" stroke="#2ca02c" stroke-width="1.1"></path><path d="M2635.1 1715.8h9" stroke="#777" stroke-width="1.2" stroke-dasharray="1.2 0.6"></path><path d="M2623.1 1720.6h9" stroke="#d62728" stroke-width="1.1"></path><path d="M2635.1 1720.6h9" stroke="#777" stroke-width="1.2" stroke-dasharray="1.2 0.6"></path><circle cx="2627.6" cy="1725.4" r="0.9" fill="#ff0000"></circle><path d="M2635.1 1725.4h7" stroke="#777" stroke-width="1.2" stroke-dasharray="1.2 0.6"></path><rect x="2698.6" y="1701.2" width="125.5" height="75.7" fill="#fff" stroke="#777" stroke-width="0.9"></rect><ellipse cx="2806.2" cy="1739.0" rx="13.6" ry="8.3" fill="none" stroke="#1f77b4" stroke-width="1.5"></ellipse><ellipse cx="2716.5" cy="1739.0" rx="13.6" ry="8.3" fill="none" stroke="#ff7f0e" stroke-width="1.5"></ellipse><ellipse cx="2761.3" cy="1711.6" rx="13.6" ry="8.3" fill="none" stroke="#2ca02c" stroke-width="1.5"></ellipse><ellipse cx="2761.3" cy="1766.5" rx="13.6" ry="8.3" fill="none" stroke="#d62728" stroke-width="1.5"></ellipse><path d="M2761.3 1739.0 H2729.1" stroke="#0000ff" stroke-width="1.6"></path><path d="M2739.8 1739.0V1742.3H2723.7 M2734.5 1739.0V1742.3" stroke="#0000ff" stroke-width="0.6" fill="none"></path><circle cx="2761.3" cy="1739.0" r="1" fill="#ff0000"></circle><g font-size="9.3" fill="#222"><path d="M2718.3 1776.9v2" stroke="#777" stroke-width="0.9"></path><text x="2718.3" y="1788.4" text-anchor="middle">−5</text><path d="M2698.6 1766.5h-2" stroke="#777" stroke-width="0.9"></path><text x="2694.6" y="1769.8" text-anchor="end">−5</text><path d="M2761.3 1776.9v2" stroke="#777" stroke-width="0.9"></path><text x="2761.3" y="1788.4" text-anchor="middle">0</text><path d="M2698.6 1739.0h-2" stroke="#777" stroke-width="0.9"></path><text x="2694.6" y="1742.3" text-anchor="end">0</text><path d="M2804.4 1776.9v2" stroke="#777" stroke-width="0.9"></path><text x="2804.4" y="1788.4" text-anchor="middle">5</text><path d="M2698.6 1711.6h-2" stroke="#777" stroke-width="0.9"></path><text x="2694.6" y="1714.9" text-anchor="end">5</text></g><text x="2761.3" y="1698.7" text-anchor="middle" font-size="9.3" fill="#222" lengthAdjust="spacingAndGlyphs" textLength="103">Trajectory of Policy π<tspan font-size="6" dy="1.5">2</tspan></text><text x="2761.3" y="1795.9" text-anchor="middle" font-size="8" fill="#222">x</text><text transform="translate(2679.6 1741.0) rotate(-90)" text-anchor="middle" font-size="8" fill="#222">y</text><rect x="2796.1" y="1702.7" width="26.5" height="26" fill="#fff" fill-opacity="0.8" stroke="#ccc" stroke-width="0.5"></rect><path d="M2798.1 1706.2h9" stroke="#1f77b4" stroke-width="1.1"></path><path d="M2810.1 1706.2h9" stroke="#777" stroke-width="1.2" stroke-dasharray="1.2 0.6"></path><path d="M2798.1 1711.0h9" stroke="#ff7f0e" stroke-width="1.1"></path><path d="M2810.1 1711.0h9" stroke="#777" stroke-width="1.2" stroke-dasharray="1.2 0.6"></path><path d="M2798.1 1715.8h9" stroke="#2ca02c" stroke-width="1.1"></path><path d="M2810.1 1715.8h9" stroke="#777" stroke-width="1.2" stroke-dasharray="1.2 0.6"></path><path d="M2798.1 1720.6h9" stroke="#d62728" stroke-width="1.1"></path><path d="M2810.1 1720.6h9" stroke="#777" stroke-width="1.2" stroke-dasharray="1.2 0.6"></path><circle cx="2802.6" cy="1725.4" r="0.9" fill="#ff0000"></circle><path d="M2810.1 1725.4h7" stroke="#777" stroke-width="1.2" stroke-dasharray="1.2 0.6"></path><rect x="2873.6" y="1701.2" width="125.5" height="75.7" fill="#fff" stroke="#777" stroke-width="0.9"></rect><ellipse cx="2981.2" cy="1739.0" rx="13.6" ry="8.3" fill="none" stroke="#1f77b4" stroke-width="1.5"></ellipse><ellipse cx="2891.5" cy="1739.0" rx="13.6" ry="8.3" fill="none" stroke="#ff7f0e" stroke-width="1.5"></ellipse><ellipse cx="2936.3" cy="1711.6" rx="13.6" ry="8.3" fill="none" stroke="#2ca02c" stroke-width="1.5"></ellipse><ellipse cx="2936.3" cy="1766.5" rx="13.6" ry="8.3" fill="none" stroke="#d62728" stroke-width="1.5"></ellipse><path d="M2936.3 1739.0 V1758.8" stroke="#0000ff" stroke-width="1.6"></path><path d="M2931.0 1739.0V1761.0 M2941.7 1739.0V1761.0 M2925.6 1745.6V1758.8 M2947.1 1745.6V1758.8 M2920.2 1748.9V1755.5 M2952.5 1748.9V1755.5 M2957.9 1748.9V1755.5 M2931.0 1742.3H2941.7 M2925.6 1745.6H2947.1 M2925.6 1748.9H2947.1 M2919.3 1752.2H2963.2 M2919.3 1755.5H2963.2 M2925.6 1758.8H2947.1 " stroke="#0000ff" stroke-width="0.5" stroke-dasharray="1.5 1" fill="none"></path><circle cx="2936.3" cy="1739.0" r="1" fill="#ff0000"></circle><g font-size="9.3" fill="#222"><path d="M2893.3 1776.9v2" stroke="#777" stroke-width="0.9"></path><text x="2893.3" y="1788.4" text-anchor="middle">−5</text><path d="M2873.6 1766.5h-2" stroke="#777" stroke-width="0.9"></path><text x="2869.6" y="1769.8" text-anchor="end">−5</text><path d="M2936.3 1776.9v2" stroke="#777" stroke-width="0.9"></path><text x="2936.3" y="1788.4" text-anchor="middle">0</text><path d="M2873.6 1739.0h-2" stroke="#777" stroke-width="0.9"></path><text x="2869.6" y="1742.3" text-anchor="end">0</text><path d="M2979.4 1776.9v2" stroke="#777" stroke-width="0.9"></path><text x="2979.4" y="1788.4" text-anchor="middle">5</text><path d="M2873.6 1711.6h-2" stroke="#777" stroke-width="0.9"></path><text x="2869.6" y="1714.9" text-anchor="end">5</text></g><text x="2936.3" y="1698.7" text-anchor="middle" font-size="9.3" fill="#222" lengthAdjust="spacingAndGlyphs" textLength="103">Trajectory of Policy π<tspan font-size="6" dy="1.5">3</tspan></text><text x="2936.3" y="1795.9" text-anchor="middle" font-size="8" fill="#222">x</text><text transform="translate(2854.6 1741.0) rotate(-90)" text-anchor="middle" font-size="8" fill="#222">y</text><rect x="2971.1" y="1702.7" width="26.5" height="26" fill="#fff" fill-opacity="0.8" stroke="#ccc" stroke-width="0.5"></rect><path d="M2973.1 1706.2h9" stroke="#1f77b4" stroke-width="1.1"></path><path d="M2985.1 1706.2h9" stroke="#777" stroke-width="1.2" stroke-dasharray="1.2 0.6"></path><path d="M2973.1 1711.0h9" stroke="#ff7f0e" stroke-width="1.1"></path><path d="M2985.1 1711.0h9" stroke="#777" stroke-width="1.2" stroke-dasharray="1.2 0.6"></path><path d="M2973.1 1715.8h9" stroke="#2ca02c" stroke-width="1.1"></path><path d="M2985.1 1715.8h9" stroke="#777" stroke-width="1.2" stroke-dasharray="1.2 0.6"></path><path d="M2973.1 1720.6h9" stroke="#d62728" stroke-width="1.1"></path><path d="M2985.1 1720.6h9" stroke="#777" stroke-width="1.2" stroke-dasharray="1.2 0.6"></path><circle cx="2977.6" cy="1725.4" r="0.9" fill="#ff0000"></circle><path d="M2985.1 1725.4h7" stroke="#777" stroke-width="1.2" stroke-dasharray="1.2 0.6"></path><rect x="3048.6" y="1701.2" width="125.5" height="75.7" fill="#fff" stroke="#777" stroke-width="0.9"></rect><ellipse cx="3156.2" cy="1739.0" rx="13.6" ry="8.3" fill="none" stroke="#1f77b4" stroke-width="1.5"></ellipse><ellipse cx="3066.5" cy="1739.0" rx="13.6" ry="8.3" fill="none" stroke="#ff7f0e" stroke-width="1.5"></ellipse><ellipse cx="3111.3" cy="1711.6" rx="13.6" ry="8.3" fill="none" stroke="#2ca02c" stroke-width="1.5"></ellipse><ellipse cx="3111.3" cy="1766.5" rx="13.6" ry="8.3" fill="none" stroke="#d62728" stroke-width="1.5"></ellipse><path d="M3111.3 1739.0 H3143.6" stroke="#0000ff" stroke-width="1.6"></path><path d="M3138.2 1742.3H3149.0" stroke="#0000ff" stroke-width="0.5" stroke-dasharray="1.5 1" fill="none"></path><circle cx="3111.3" cy="1739.0" r="1" fill="#ff0000"></circle><g font-size="9.3" fill="#222"><path d="M3068.3 1776.9v2" stroke="#777" stroke-width="0.9"></path><text x="3068.3" y="1788.4" text-anchor="middle">−5</text><path d="M3048.6 1766.5h-2" stroke="#777" stroke-width="0.9"></path><text x="3044.6" y="1769.8" text-anchor="end">−5</text><path d="M3111.3 1776.9v2" stroke="#777" stroke-width="0.9"></path><text x="3111.3" y="1788.4" text-anchor="middle">0</text><path d="M3048.6 1739.0h-2" stroke="#777" stroke-width="0.9"></path><text x="3044.6" y="1742.3" text-anchor="end">0</text><path d="M3154.4 1776.9v2" stroke="#777" stroke-width="0.9"></path><text x="3154.4" y="1788.4" text-anchor="middle">5</text><path d="M3048.6 1711.6h-2" stroke="#777" stroke-width="0.9"></path><text x="3044.6" y="1714.9" text-anchor="end">5</text></g><text x="3111.3" y="1698.7" text-anchor="middle" font-size="9.3" fill="#222" lengthAdjust="spacingAndGlyphs" textLength="103">Trajectory of Policy π<tspan font-size="6" dy="1.5">4</tspan></text><text x="3111.3" y="1795.9" text-anchor="middle" font-size="8" fill="#222">x</text><text transform="translate(3029.6 1741.0) rotate(-90)" text-anchor="middle" font-size="8" fill="#222">y</text><rect x="3146.1" y="1702.7" width="26.5" height="26" fill="#fff" fill-opacity="0.8" stroke="#ccc" stroke-width="0.5"></rect><path d="M3148.1 1706.2h9" stroke="#1f77b4" stroke-width="1.1"></path><path d="M3160.1 1706.2h9" stroke="#777" stroke-width="1.2" stroke-dasharray="1.2 0.6"></path><path d="M3148.1 1711.0h9" stroke="#ff7f0e" stroke-width="1.1"></path><path d="M3160.1 1711.0h9" stroke="#777" stroke-width="1.2" stroke-dasharray="1.2 0.6"></path><path d="M3148.1 1715.8h9" stroke="#2ca02c" stroke-width="1.1"></path><path d="M3160.1 1715.8h9" stroke="#777" stroke-width="1.2" stroke-dasharray="1.2 0.6"></path><path d="M3148.1 1720.6h9" stroke="#d62728" stroke-width="1.1"></path><path d="M3160.1 1720.6h9" stroke="#777" stroke-width="1.2" stroke-dasharray="1.2 0.6"></path><circle cx="3152.6" cy="1725.4" r="0.9" fill="#ff0000"></circle><path d="M3160.1 1725.4h7" stroke="#777" stroke-width="1.2" stroke-dasharray="1.2 0.6"></path><rect x="3224.1" y="1701.2" width="125.5" height="75.7" fill="#fff" stroke="#777" stroke-width="0.9"></rect><ellipse cx="3331.7" cy="1739.0" rx="13.6" ry="8.3" fill="none" stroke="#1f77b4" stroke-width="1.5"></ellipse><ellipse cx="3242.0" cy="1739.0" rx="13.6" ry="8.3" fill="none" stroke="#ff7f0e" stroke-width="1.5"></ellipse><ellipse cx="3286.8" cy="1711.6" rx="13.6" ry="8.3" fill="none" stroke="#2ca02c" stroke-width="1.5"></ellipse><ellipse cx="3286.8" cy="1766.5" rx="13.6" ry="8.3" fill="none" stroke="#d62728" stroke-width="1.5"></ellipse><path d="M3286.8 1739.0 H3254.6" stroke="#0000ff" stroke-width="1.6"></path><circle cx="3286.8" cy="1739.0" r="1" fill="#ff0000"></circle><g font-size="9.3" fill="#222"><path d="M3243.8 1776.9v2" stroke="#777" stroke-width="0.9"></path><text x="3243.8" y="1788.4" text-anchor="middle">−5</text><path d="M3224.1 1766.5h-2" stroke="#777" stroke-width="0.9"></path><text x="3220.1" y="1769.8" text-anchor="end">−5</text><path d="M3286.8 1776.9v2" stroke="#777" stroke-width="0.9"></path><text x="3286.8" y="1788.4" text-anchor="middle">0</text><path d="M3224.1 1739.0h-2" stroke="#777" stroke-width="0.9"></path><text x="3220.1" y="1742.3" text-anchor="end">0</text><path d="M3329.9 1776.9v2" stroke="#777" stroke-width="0.9"></path><text x="3329.9" y="1788.4" text-anchor="middle">5</text><path d="M3224.1 1711.6h-2" stroke="#777" stroke-width="0.9"></path><text x="3220.1" y="1714.9" text-anchor="end">5</text></g><text x="3286.8" y="1698.7" text-anchor="middle" font-size="9.3" fill="#222" lengthAdjust="spacingAndGlyphs" textLength="103">Trajectory of Policy π<tspan font-size="6" dy="1.5">5</tspan></text><text x="3286.8" y="1795.9" text-anchor="middle" font-size="8" fill="#222">x</text><text transform="translate(3205.1 1741.0) rotate(-90)" text-anchor="middle" font-size="8" fill="#222">y</text><rect x="3321.6" y="1702.7" width="26.5" height="26" fill="#fff" fill-opacity="0.8" stroke="#ccc" stroke-width="0.5"></rect><path d="M3323.6 1706.2h9" stroke="#1f77b4" stroke-width="1.1"></path><path d="M3335.6 1706.2h9" stroke="#777" stroke-width="1.2" stroke-dasharray="1.2 0.6"></path><path d="M3323.6 1711.0h9" stroke="#ff7f0e" stroke-width="1.1"></path><path d="M3335.6 1711.0h9" stroke="#777" stroke-width="1.2" stroke-dasharray="1.2 0.6"></path><path d="M3323.6 1715.8h9" stroke="#2ca02c" stroke-width="1.1"></path><path d="M3335.6 1715.8h9" stroke="#777" stroke-width="1.2" stroke-dasharray="1.2 0.6"></path><path d="M3323.6 1720.6h9" stroke="#d62728" stroke-width="1.1"></path><path d="M3335.6 1720.6h9" stroke="#777" stroke-width="1.2" stroke-dasharray="1.2 0.6"></path><circle cx="3328.1" cy="1725.4" r="0.9" fill="#ff0000"></circle><path d="M3335.6 1725.4h7" stroke="#777" stroke-width="1.2" stroke-dasharray="1.2 0.6"></path></svg>
<div class="t r" style="left:2389.5px;top:1814.2px;font-size:24.6px;"><span style="transform: scaleX(0.9423);">(c) The trajectory of policies learned by maximizing the expected utility for each utility function.</span></div>
<svg class="a" style="left:0;top:0" width="3456" height="2304"><path d="M2301.5 1856 L3376 1853.5 L3376 1857.8 L2301.5 1860.3Z" fill="#4A6F9C"></path></svg>
<div class="t s b i" style="left:2324.0px;top:1879.1px;font-size:36.5px;color:#083764;"><span style="transform: scaleX(1.0202);">Performance Comparison</span></div>
<div class="a " style="left:2298.7px;top:1933.6px;width:1079.7px;height:2.0px;background:#000"></div>
<div class="a " style="left:2298.7px;top:1988.0px;width:1079.7px;height:1.3px;background:#000"></div>
<div class="a " style="left:2298.7px;top:2107.4px;width:1079.7px;height:1.6px;background:#000"></div>
<div class="a " style="left:2461.0px;top:1940.5px;width:1.2px;height:43.5px;background:#000"></div>
<div class="a " style="left:2461.0px;top:1995.0px;width:1.2px;height:108.5px;background:#000"></div>
<div class="a " style="left:2664.3px;top:1940.5px;width:1.2px;height:43.5px;background:#000"></div>
<div class="a " style="left:2664.3px;top:1995.0px;width:1.2px;height:108.5px;background:#000"></div>
<div class="a " style="left:2855.9px;top:1940.5px;width:1.2px;height:43.5px;background:#000"></div>
<div class="a " style="left:2855.9px;top:1995.0px;width:1.2px;height:108.5px;background:#000"></div>
<div class="a " style="left:3047.5px;top:1940.5px;width:1.2px;height:43.5px;background:#000"></div>
<div class="a " style="left:3047.5px;top:1995.0px;width:1.2px;height:108.5px;background:#000"></div>
<div class="a " style="left:3212.9px;top:1940.5px;width:1.2px;height:43.5px;background:#000"></div>
<div class="a " style="left:3212.9px;top:1995.0px;width:1.2px;height:108.5px;background:#000"></div>
<div class="a " style="left:3195.0px;top:1928.6px;width:6.0px;height:1.0px;background:#444"></div>
<div class="t r c" style="left:2379.9px;top:1940.1px;font-size:20px;"><span>Environment</span></div>
<div class="t r c" style="left:2379.9px;top:1960.8px;font-size:20px;"><span>Metric</span></div>
<div class="t r c" style="left:2563.5px;top:1940.1px;font-size:20px;"><span>Hopper</span></div>
<div class="t r c" style="left:2760.2px;top:1940.1px;font-size:20px;"><span>HalfCheetah</span></div>
<div class="t r c" style="left:2952.8px;top:1940.1px;font-size:20px;"><span>MountainCar</span></div>
<div class="t r c" style="left:3131.3px;top:1940.1px;font-size:20px;"><span>DeepSeaTreasure</span></div>
<div class="t r c" style="left:3296.2px;top:1940.1px;font-size:20px;"><span>FruitTree</span></div>
<div class="t r c" style="left:2519.1px;top:1960.8px;font-size:20px;"><span>Constraints</span></div>
<div class="t r c" style="left:2620.5px;top:1960.8px;font-size:20px;"><span>Var</span></div>
<div class="t r c" style="left:2717.8px;top:1960.8px;font-size:20px;"><span>Constraint</span></div>
<div class="t r c" style="left:2814.1px;top:1960.8px;font-size:20px;"><span>Var</span></div>
<div class="t r c" style="left:2909.9px;top:1960.8px;font-size:20px;"><span>Constraint</span></div>
<div class="t r c" style="left:3005.7px;top:1960.8px;font-size:20px;"><span>Var</span></div>
<div class="t r c" style="left:3101.5px;top:1960.8px;font-size:20px;"><span>Constraint</span></div>
<div class="t r c" style="left:3184.2px;top:1960.8px;font-size:20px;"><span>Var</span></div>
<div class="t r c" style="left:3266.9px;top:1960.8px;font-size:20px;"><span>Constraint</span></div>
<div class="t r c" style="left:3349.7px;top:1960.8px;font-size:20px;"><span>Var</span></div>
<div class="t r c" style="left:2379.9px;top:1993.6px;font-size:20px;"><span>GPI-PD</span></div>
<div class="t r c" style="left:2519.1px;top:1993.6px;font-size:20px;"><span>0.47</span></div>
<div class="t r c" style="left:2620.5px;top:1993.6px;font-size:20px;"><span>979.74</span></div>
<div class="t r c" style="left:2717.8px;top:1993.6px;font-size:20px;"><span>0.64</span></div>
<div class="t r c" style="left:2814.1px;top:1993.6px;font-size:20px;"><span>83.49</span></div>
<div class="t r b c" style="left:2909.9px;top:1993.6px;font-size:20px;"><span>1.00</span></div>
<div class="t r c" style="left:3005.7px;top:1993.6px;font-size:20px;"><span>-31.15</span></div>
<div class="t r c" style="left:3101.5px;top:1993.6px;font-size:20px;"><span>0.85</span></div>
<div class="t r b c" style="left:3184.2px;top:1993.6px;font-size:20px;"><span>2.59</span></div>
<div class="t r c" style="left:3266.9px;top:1993.6px;font-size:20px;"><span>0.65</span></div>
<div class="t r b c" style="left:3349.7px;top:1993.6px;font-size:20px;"><span>3.42</span></div>
<div class="t r c" style="left:2379.9px;top:2015.0px;font-size:20px;"><span>GPI-LS</span></div>
<div class="t r c" style="left:2519.1px;top:2015.0px;font-size:20px;"><span>0.25</span></div>
<div class="t r c" style="left:2620.5px;top:2015.0px;font-size:20px;"><span>607.47</span></div>
<div class="t r c" style="left:2717.8px;top:2015.0px;font-size:20px;"><span>0.60</span></div>
<div class="t r c" style="left:2814.1px;top:2015.0px;font-size:20px;"><span>51.67</span></div>
<div class="t r b c" style="left:2909.9px;top:2015.0px;font-size:20px;"><span>1.00</span></div>
<div class="t r c" style="left:3005.7px;top:2015.0px;font-size:20px;"><span>-22.73</span></div>
<div class="t r c" style="left:3101.5px;top:2015.0px;font-size:20px;"><span>0.85</span></div>
<div class="t r c" style="left:3184.2px;top:2015.0px;font-size:20px;"><span>1.99</span></div>
<div class="t r c" style="left:3266.9px;top:2015.0px;font-size:20px;"><span>0.33</span></div>
<div class="t r c" style="left:3349.7px;top:2015.0px;font-size:20px;"><span>1.35</span></div>
<div class="t r c" style="left:2379.9px;top:2036.9px;font-size:20px;"><span>OLS</span></div>
<div class="t r c" style="left:2519.1px;top:2036.9px;font-size:20px;"><span>0.05</span></div>
<div class="t r c" style="left:2620.5px;top:2036.9px;font-size:20px;"><span>75.48</span></div>
<div class="t r c" style="left:2717.8px;top:2036.9px;font-size:20px;"><span>0.43</span></div>
<div class="t r c" style="left:2814.1px;top:2036.9px;font-size:20px;"><span>-311.27</span></div>
<div class="t r c" style="left:2909.9px;top:2036.9px;font-size:20px;"><span>0.05</span></div>
<div class="t r c" style="left:3005.7px;top:2036.9px;font-size:20px;"><span>-244.21</span></div>
<div class="t r c" style="left:3101.5px;top:2036.9px;font-size:20px;"><span>0.80</span></div>
<div class="t r c" style="left:3184.2px;top:2036.9px;font-size:20px;"><span>1.86</span></div>
<div class="t r c" style="left:3266.9px;top:2036.9px;font-size:20px;"><span>0.50</span></div>
<div class="t r c" style="left:3349.7px;top:2036.9px;font-size:20px;"><span>2.98</span></div>
<div class="t r c" style="left:2379.9px;top:2058.6px;font-size:20px;"><span>PGMORL</span></div>
<div class="t r c" style="left:2519.1px;top:2058.6px;font-size:20px;"><span>0.05</span></div>
<div class="t r c" style="left:2620.5px;top:2058.6px;font-size:20px;"><span>98.47</span></div>
<div class="t r c" style="left:2717.8px;top:2058.6px;font-size:20px;"><span>0.50</span></div>
<div class="t r c" style="left:2814.1px;top:2058.6px;font-size:20px;"><span>45.48</span></div>
<div class="t r c" style="left:2909.9px;top:2058.6px;font-size:20px;"><span>0.11</span></div>
<div class="t r c" style="left:3005.7px;top:2058.6px;font-size:20px;"><span>-249.69</span></div>
<div class="t r c" style="left:3101.5px;top:2058.6px;font-size:20px;"><span>-</span></div>
<div class="t r c" style="left:3184.2px;top:2058.6px;font-size:20px;"><span>-</span></div>
<div class="t r c" style="left:3266.9px;top:2058.6px;font-size:20px;"><span>-</span></div>
<div class="t r c" style="left:3349.7px;top:2058.6px;font-size:20px;"><span>-</span></div>
<div class="t r c" style="left:2379.9px;top:2080.3px;font-size:20px;"><span>DPMORL (Ours)</span></div>
<div class="t r b c" style="left:2519.1px;top:2080.3px;font-size:20px;"><span>0.76</span></div>
<div class="t r b c" style="left:2620.5px;top:2080.3px;font-size:20px;"><span>1645.89</span></div>
<div class="t r b c" style="left:2717.8px;top:2080.3px;font-size:20px;"><span>0.82</span></div>
<div class="t r b c" style="left:2814.1px;top:2080.3px;font-size:20px;"><span>431.26</span></div>
<div class="t r b c" style="left:2909.9px;top:2080.3px;font-size:20px;"><span>1.00</span></div>
<div class="t r b c" style="left:3005.7px;top:2080.3px;font-size:20px;"><span>-16.32</span></div>
<div class="t r b c" style="left:3101.5px;top:2080.3px;font-size:20px;"><span>0.90</span></div>
<div class="t r c" style="left:3184.2px;top:2080.3px;font-size:20px;"><span>2.54</span></div>
<div class="t r b c" style="left:3266.9px;top:2080.3px;font-size:20px;"><span>0.67</span></div>
<div class="t r c" style="left:3349.7px;top:2080.3px;font-size:20px;"><span>3.21</span></div>
<div class="a " style="left:2314.0px;top:2135.5px;width:20.0px;height:20.0px;background:#344854"></div>
<div class="t s" style="left:2349.0px;top:2129.0px;font-size:34.8px;color:#344854;"><span style="transform: scaleX(0.9862);"><b><i>Constraints</i></b><b>:</b> Constraints Satisfaction</span></div>
<div class="a " style="left:2314.0px;top:2185.5px;width:20.0px;height:20.0px;background:#344854"></div>
<div class="t s" style="left:2349.0px;top:2178.5px;font-size:34.8px;color:#344854;"><span style="transform: scaleX(0.9973);"><b><i>Var</i></b><b>:</b> Variance Objective</span></div>

</body></html>
